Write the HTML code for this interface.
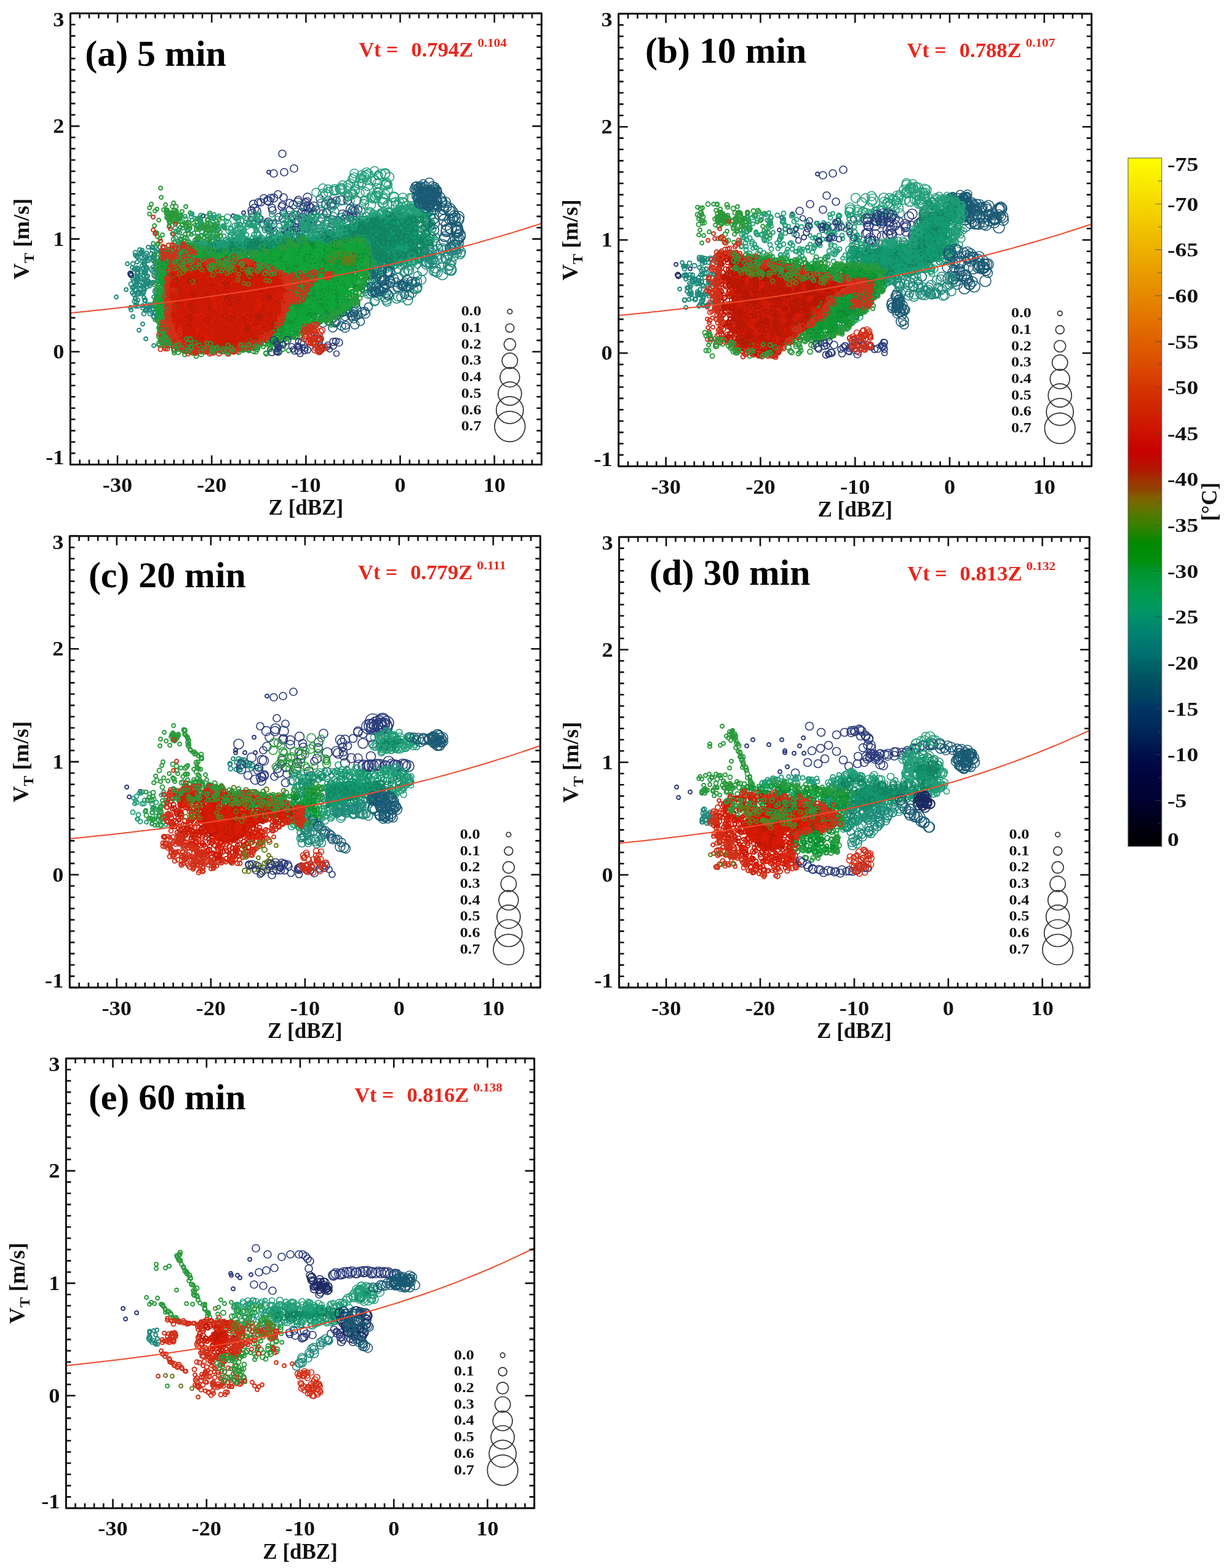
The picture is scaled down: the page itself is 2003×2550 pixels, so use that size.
<!DOCTYPE html><html><head><meta charset="utf-8"><style>
html,body{margin:0;padding:0;background:#fff;}
svg{display:block}
text{font-family:'Liberation Serif', 'Times New Roman', serif;font-weight:bold;fill:#111}
.tl{font-size:33px}
.al{font-size:35px}
.sub{font-size:24px}
.ti{font-size:59px;fill:#000}
.eq{font-size:34px;fill:#e8261c}
.sup{font-size:18px;font-weight:bold}
.lg{font-size:23.5px}
.cl{font-size:32px}
.cu{font-size:35px}
</style></head><body><svg width="2003" height="2550" viewBox="0 0 2003 2550"><rect width="2003" height="2550" fill="#fff"/>
<g>
<g fill="none"><path d="M261 306 262 321 282 330 246 332 302 336 255 340 270 341 281 346" marker-start="url(#m0)" marker-mid="url(#m0)" marker-end="url(#m0)"/><path d="M326 359 264 382 286 377 293 389 249 396 243 348 323 355 251 367 255 379 356 357 287 345 301 381 365 368 324 354 349 372 319 373 336 352 284 348 338 370 309 371 269 333 358 377 257 396 258 358 363 368 335 380 338 357 280 380 322 357 294 390 296 344 272 342 284 393 260 388 352 364 322 371 309 346 327 384 335 378 275 367 337 358 344 371 252 343 320 356 317 391 317 366 362 355 348 366 280 336 344 354 256 385 365 371 325 363 276 355 275 369 278 346 243 338 253 378 266 341 342 364 346 386 256 398" marker-start="url(#m0)" marker-mid="url(#m0)" marker-end="url(#m0)"/><path d="M354 354 282 389 273 353 271 345 286 336 341 347 271 347 303 365" marker-start="url(#m1)" marker-mid="url(#m1)" marker-end="url(#m1)"/><path d="M274 350 281 347 293 355 286 350 278 352 293 352 281 347 277 361 274 351 292 356 282 360 290 360 276 362 284 351 282 355 274 357 288 357 274 347 285 360 284 342 280 351 285 346 287 344 275 361 280 349 289 357 271 354 282 350 292 356 285 351 289 354 279 359 287 354 272 348" marker-start="url(#m0)" marker-mid="url(#m0)" marker-end="url(#m0)"/><path d="M279 353 287 351 286 362 283 343 294 351 290 350" marker-start="url(#m1)" marker-mid="url(#m1)" marker-end="url(#m1)"/><path d="M249 353 249 374 277 372 282 381 261 392 289 392 252 380 285 365" marker-start="url(#m2)" marker-mid="url(#m2)" marker-end="url(#m2)"/><path d="M459 250 445 282 462 280 478 274 452 316 424 329 409 342 442 338" marker-start="url(#m3)" marker-mid="url(#m3)" marker-end="url(#m3)"/><path d="M437 280 330 351 379 351 396 346" marker-start="url(#m4)" marker-mid="url(#m4)" marker-end="url(#m4)"/><path d="M375 371 294 389 497 386 312 399 398 366 389 394 368 360 308 398 418 389 387 403 336 369 435 400 364 384 291 400 488 386 300 399 345 386 294 400 468 400 440 374 311 352 433 361 328 377 352 378 388 369 326 368 391 382 401 382 354 364 364 399 393 378 327 368 376 404 493 375 346 359 466 368 467 381 443 385 359 398 372 405 364 369 499 370 367 404 405 391 410 366 421 359 441 383 392 377 388 354 340 393 328 401 286 387 416 394 342 350 350 372 340 375 431 391 339 405 477 372 485 388 346 381 376 404 465 381 371 376 370 397 330 400 374 398 411 367 302 356 385 366 446 361 400 396 412 361 312 348 285 371 378 393 344 384 489 388 498 373 475 387 367 390 330 369 354 382 469 369 438 367 484 400 332 404 301 386 356 369 292 405 409 397 345 366 425 396 327 383 326 369 409 366 408 356 477 365 405 363 391 366 341 350 327 384 470 377 307 373 410 397 348 354 397 376 492 390" marker-start="url(#m5)" marker-mid="url(#m5)" marker-end="url(#m5)"/><path d="M416 374 475 360 483 401 356 351 438 392 355 391 290 404 420 391 384 354 499 386 399 361 320 391 476 371 315 379 318 404 354 389 281 402 403 394 337 383 340 375 365 396 358 392 365 404 419 368 297 371 469 374 317 355 459 381 384 399 466 372 386 403 400 388 458 374 457 388 454 390 327 360 347 356 286 376 313 408 487 369 304 375 349 375 466 359 381 376 311 348 356 372 289 378 489 383 390 364 448 401 348 349 372 400 424 385 376 405 346 373 412 368 291 395 290 392 466 394 297 404 286 400 410 386 290 396 392 381 312 358 378 401 372 390 477 360 363 400 413 361 322 367 415 370 290 374 298 402 455 388 343 387 396 353 358 406 429 371 363 367 420 361 326 350 301 352 414 367 387 367 435 360 327 363 406 367 380 384 326 356 400 396 325 403" marker-start="url(#m6)" marker-mid="url(#m6)" marker-end="url(#m6)"/><path d="M341 396 338 390 342 397 306 362 334 366 296 403 296 402 340 394 317 399 339 373 297 396 350 394 323 386 352 381 320 372 349 370 323 388 342 378 307 380 338 390 307 403 331 369 328 391 330 395 321 367 303 368 334 380 338 374 315 363 350 396 297 365 354 374 309 401 311 404 324 373 331 366 351 367 350 367 342 364 294 395 293 360 343 374 321 389" marker-start="url(#m1)" marker-mid="url(#m1)" marker-end="url(#m1)"/><path d="M347 397 332 400 301 392 340 387 293 370 336 397 335 370 296 366 304 393 331 387 308 368 307 393 320 395 309 399 321 384 335 401 311 381 301 368 292 378 296 385 339 400 304 363 295 389 341 390 350 400 300 363 351 386 304 388 317 390 337 390 332 371 334 371 359 384 312 396 353 385 305 375 337 364" marker-start="url(#m0)" marker-mid="url(#m0)" marker-end="url(#m0)"/><path d="M497 330 429 323 488 381 435 326 482 350 500 365 471 365 508 348 482 370 445 322 436 361 412 332 410 347 492 361 420 355" marker-start="url(#m7)" marker-mid="url(#m7)" marker-end="url(#m7)"/><path d="M445 376 420 329 471 330 443 342 453 353 461 346 439 374 502 357 498 372 485 325 429 365 461 321 458 336 472 375 440 322 475 352 471 342 418 343 410 354" marker-start="url(#m3)" marker-mid="url(#m3)" marker-end="url(#m3)"/><path d="M459 333 510 344 459 356 475 355 437 371 467 379" marker-start="url(#m8)" marker-mid="url(#m8)" marker-end="url(#m8)"/><path d="M443 365 477 333 480 375 491 346 437 327 485 359 513 342 496 336 465 375 414 339" marker-start="url(#m9)" marker-mid="url(#m9)" marker-end="url(#m9)"/><path d="M547 326 550 358 506 360 563 349 570 355 520 371 520 323 500 364" marker-start="url(#m3)" marker-mid="url(#m3)" marker-end="url(#m3)"/><path d="M570 340 579 326 557 349 492 354 572 352 554 326 491 374 511 336 502 337 536 377" marker-start="url(#m10)" marker-mid="url(#m10)" marker-end="url(#m10)"/><path d="M566 320 541 363 575 371 565 326 591 379 559 357 531 346 579 351 575 358 509 356 506 368 577 343 493 337 534 326 582 341 499 328 573 342 497 347" marker-start="url(#m7)" marker-mid="url(#m7)" marker-end="url(#m7)"/><path d="M484 329 505 338 539 330 502 345 564 361 499 371 576 377 538 332 531 347 487 374 541 358 581 377 500 321 525 348" marker-start="url(#m9)" marker-mid="url(#m9)" marker-end="url(#m9)"/><path d="M585 374 506 371 544 345 571 371 508 346 520 342 567 360 524 355 592 332 528 365" marker-start="url(#m11)" marker-mid="url(#m11)" marker-end="url(#m11)"/><path d="M516 378 544 332 489 355 568 348 495 372 507 366 506 362 560 356 565 372 522 331 533 361 539 337" marker-start="url(#m12)" marker-mid="url(#m12)" marker-end="url(#m12)"/><path d="M556 353 587 342 529 333 542 352 488 376 488 334 530 332 590 364 524 377 504 367 521 377 549 369 541 334 496 360" marker-start="url(#m13)" marker-mid="url(#m13)" marker-end="url(#m13)"/><path d="M575 339 497 367 540 357 523 355" marker-start="url(#m14)" marker-mid="url(#m14)" marker-end="url(#m14)"/><path d="M514 313 525 306 570 298 573 291 576 282 609 278 615 285 631 309" marker-start="url(#m15)" marker-mid="url(#m15)" marker-end="url(#m15)"/><path d="M525 315 534 312 543 310 554 306 556 307 566 301 588 285 595 285 599 283 626 283 633 288 628 297 627 301 626 316" marker-start="url(#m16)" marker-mid="url(#m16)" marker-end="url(#m16)"/><path d="M530 316 553 307 576 289 596 281 619 283 626 282 627 300" marker-start="url(#m17)" marker-mid="url(#m17)" marker-end="url(#m17)"/><path d="M570 316 604 320 611 322 558 325 615 314 610 294 598 302 544 308" marker-start="url(#m17)" marker-mid="url(#m17)" marker-end="url(#m17)"/><path d="M597 293 565 320 592 327 574 316 588 298 594 312 604 294 557 301 554 309 612 318 569 327 577 311 585 314" marker-start="url(#m15)" marker-mid="url(#m15)" marker-end="url(#m15)"/><path d="M546 310 577 308 615 314 593 288 614 312 583 298 614 298 586 290 629 298" marker-start="url(#m16)" marker-mid="url(#m16)" marker-end="url(#m16)"/><path d="M631 301 594 325 573 313 565 305 589 290 589 298 615 318 615 286 613 305 533 307" marker-start="url(#m18)" marker-mid="url(#m18)" marker-end="url(#m18)"/><path d="M231 407 271 459 215 468 253 488 222 459 266 488 228 413 238 503 234 425 220 471 225 475 235 464 276 475 268 487 264 424 262 442 226 463 263 431 234 448 227 406 233 436 258 426 256 509 274 436 259 488 260 435 220 485 241 501 254 409 234 469 240 462 230 410 250 483 227 464 220 415 255 451 243 498 252 450 270 494 222 417 237 442 272 465 243 465 260 409 215 476 222 465 248 496 249 459 219 437 268 430 256 428 225 437 234 444 223 449 251 443 276 463 264 444 235 489 228 471 231 478 260 431 265 472 253 460 251 426 272 471 235 442 224 488 256 440 247 508 241 402 222 439 236 418 238 450 223 426 269 445 262 480 262 435 241 457 254 477 268 492 266 461 249 434 249 403 236 505 256 406 235 429 215 435 254 518 272 475 220 498 270 470 267 474 231 432 262 499 230 411 276 489 272 486 262 455 256 438 258 463 256 502 261 424 239 498 257 507 263 411 234 484 222 463 253 471 247 461 261 450 236 426 259 433 231 425 220 486 234 429 253 428 266 427 217 466 259 447 248 418 225 476 250 414 221 496 275 464 233 454 267 458 270 474 236 489 216 454 264 414 224 443 253 486 232 497 258 507 270 410 250 515 248 419 260 494 258 476 253 491 224 454 257 504 218 438 261 416 217 468 225 453 268 474 233 475 255 516 232 501 241 424 222 462 251 415 264 499 240 449 266 454 247 402 264 433 268 478 224 498 235 471 275 444 269 429 217 479 266 442 239 419 238 436 266 504 247 497" marker-start="url(#m19)" marker-mid="url(#m19)" marker-end="url(#m19)"/><path d="M249 502 260 422 224 418 265 443 244 499 272 507 248 441 270 486 221 472 222 455 224 445 275 479 271 413 276 477 214 448 222 454 269 408 248 407 267 498 262 411 250 515 238 435 224 478 256 441 251 418 234 460 255 513 256 457 244 510 222 492 267 514 271 502 249 423 237 439 236 415 257 449 239 504 239 466 229 453 234 510 220 411 252 507 275 496 237 439 233 476 244 460 246 438 252 497 275 434 263 457 245 496 231 459 270 432 226 475 229 441 246 413 238 412 240 496 273 419 257 505 233 468 250 503 271 499 257 458 253 435 239 458 236 457 218 457 259 502 243 421 270 479 216 429 267 466 223 436 213 462 273 477 239 457 229 444 254 426 236 488 219 490 266 510 263 490 267 479 223 450 252 474 271 420 261 515 228 418 225 478 223 445" marker-start="url(#m20)" marker-mid="url(#m20)" marker-end="url(#m20)"/><path d="M189 483 205 471 207 429 213 504 216 515 226 537 232 527 237 551 250 562 212 500" marker-start="url(#m19)" marker-mid="url(#m19)" marker-end="url(#m19)"/><path d="M212 445 213 447" marker-start="url(#m21)" marker-mid="url(#m21)" marker-end="url(#m21)"/><path d="M388 390 395 378 466 373 515 353 522 379 507 350 495 389 543 364 520 390 506 392 456 383 477 355 454 367 461 347 445 394 549 364 495 371 393 386 403 365 496 352 511 376 495 366 437 384 402 390 385 379 532 379 536 386 399 355 389 384 499 386 418 352 512 360 548 363 456 393 552 371 455 388 468 383 518 351 413 395 491 380 442 349 464 385 467 360 417 375 375 382 445 378 374 385 466 364 464 352 546 363 495 375 435 375 508 354 501 366" marker-start="url(#m22)" marker-mid="url(#m22)" marker-end="url(#m22)"/><path d="M552 364 478 347 371 363 382 375 413 349 550 367 511 372 495 358 535 379 422 392 532 379 496 353 389 385 527 391 396 389 370 353 468 382 538 365 490 381 418 379 532 353 376 374 444 372 418 381 470 349 437 369 540 393 406 363 473 361 385 354 462 364" marker-start="url(#m23)" marker-mid="url(#m23)" marker-end="url(#m23)"/><path d="M539 388 402 368 555 367 390 371 515 393 489 384 417 357 490 355 475 375 444 385 507 354 378 379 439 393 505 395 491 366 462 363 449 378 518 364 451 356 531 363 492 366 529 367 390 380 472 378 450 386 396 387 496 357 431 374 512 393 387 357 382 367 523 368 490 381 506 361 456 388 384 390 383 390 384 354 440 361 512 368 457 394 433 391 538 382 381 385 473 393 425 394 409 352 491 387 466 372 421 382 532 377 508 384 509 371 554 357 554 364 476 394" marker-start="url(#m24)" marker-mid="url(#m24)" marker-end="url(#m24)"/><path d="M472 381 470 363 397 374 421 349 396 386 415 354 453 381 479 347 540 358 543 358 462 350 528 368 382 389 436 364 474 390 426 365 425 355 537 393 416 395" marker-start="url(#m5)" marker-mid="url(#m5)" marker-end="url(#m5)"/><path d="M336.8 397.2 L404.8 392.1 L489.8 386.2 L540.8 380.2 L581.6 358.1 L625.8 349.6 L653.9 343.7 L676.8 352.2 L681.1 381.9 L677.7 414.2 L642.8 424.4 L591.8 432.9 L557.8 426.1 L506.8 420.2 L421.8 415.9 L336.8 411.7 Z" fill="#14926a"/><path d="M339 414 682 382 585 402 460 398 426 391 619 415 593 436 534 393 614 392 663 390 445 397 654 420 601 398 516 393 392 419 553 413 444 398 453 401 549 402 309 411 491 424 626 402 530 417 605 395 571 408 585 362 614 406 675 354 624 392 507 414 629 380 572 434 670 407 577 408 578 381 419 412 630 369 640 378 602 387 520 422 698 347 572 385 429 396 578 417 671 418 655 369 604 363 644 345 671 419 594 388 507 396 488 391 379 411 677 362 637 428 592 419 552 428 580 375 600 404 696 369 648 344 482 422 442 388 438 394 527 413 625 428 471 403 592 433 591 404 681 417 645 348 576 417 491 393 614 401 648 345 682 348 525 408 523 402 313 408 672 363" marker-start="url(#m25)" marker-mid="url(#m25)" marker-end="url(#m25)"/><path d="M669 427 397 409 428 401 613 426 468 389 629 393 500 388 627 395 346 395 602 412 563 407 615 416 516 425 430 407 408 415 662 383 449 416 372 405 554 412 464 392 642 366 643 387 660 383 653 385 622 421 579 368 678 347 671 394 347 417 457 389 701 367 511 406 673 404 457 403 692 419 690 393 370 395 490 386 387 397 651 418 489 400 481 416 600 413 674 425 527 424 651 409 426 389 667 400 641 375" marker-start="url(#m26)" marker-mid="url(#m26)" marker-end="url(#m26)"/><path d="M523 422 621 399 657 418 549 418 369 415 371 408 603 385 626 411 543 380 625 380 376 396 674 422 348 407 648 391 617 348 616 412 689 405 693 365 601 387 516 388 566 415 510 397 572 371 627 378 363 396 616 415 595 375 636 414 652 408 558 431 579 424 435 399 393 407 679 386 501 420 539 400 567 422 564 427 642 386 495 409 357 412 304 406 528 427 554 391 480 412 471 398 665 374 529 381 654 375 648 343 335 411 349 401 583 421 616 399 694 358 468 386 694 370 657 390 578 376 694 396 690 350 508 403 560 424 567 400 630 377 673 374 630 351 489 400 671 381 558 388 431 402 646 364 520 422 630 409 409 403 465 419 403 406 660 390 637 356 583 395 612 399 637 351 484 395 544 376 544 386 553 385 655 404 360 400 398 403 421 404 538 381 524 388 596 406 544 424 627 381 367 412 389 397 560 380" marker-start="url(#m27)" marker-mid="url(#m27)" marker-end="url(#m27)"/><path d="M438 408 333 401 541 392 608 354 529 422 587 360 512 394 691 344 442 388 661 404 548 395 538 416 556 371 607 403 677 346 633 359 535 420 564 424 614 394 603 371 693 352 630 347 304 402 524 409 479 420 664 369 657 342 681 422 690 391 397 407 570 421 644 424 607 371 598 423 473 394 659 338 464 416 384 402 652 422 442 418 614 376 677 416 685 387 632 418 691 383 690 415 494 420 509 395 326 400 515 398 647 344 681 412 578 369 569 378 662 404 638 348 605 423 569 372 307 407 546 429 477 419 592 414 592 378 555 386 357 395 482 404 535 384 333 405 537 388 662 404 607 349 472 390 537 418 563 394 602 361 580 404 660 368 620 396 680 391 658 412 555 386 319 402 519 393 513 409 432 411 675 376 626 376 530 383 312 411 450 396 654 356 652 367 504 399" marker-start="url(#m28)" marker-mid="url(#m28)" marker-end="url(#m28)"/><path d="M487 396 548 397 614 358 653 425 636 421 512 405 624 385 484 397 626 345 658 428 591 412 448 392 691 355 669 355 661 399 459 414 642 378 382 392 600 399 663 423 680 419 504 409 615 406 441 406 305 408 569 424 645 341 655 417 520 412 501 393 555 371 702 390 632 385 602 355 534 411 624 421 643 385 617 381 487 411 539 413 633 423 489 402 549 401 637 391 695 386 459 396 341 400 487 423 645 425 414 419 454 391 528 411 593 393 661 350 632 363 631 354 609 351 536 428" marker-start="url(#m29)" marker-mid="url(#m29)" marker-end="url(#m29)"/><path d="M575 430 694 416 570 429 620 386 548 384 608 428 437 408 606 428 680 364 692 357 653 406 605 439 606 397 399 396 641 367 418 401 634 433 692 385 563 398 688 345 593 409 522 396 570 421 612 411 454 416 405 403 557 416 320 406 648 428 607 375 675 347 667 417 425 412 540 393 584 403 699 370 394 419 353 397 439 410 324 399 562 388 650 350 419 407 384 405 657 350 391 411 671 337 360 396 639 432 634 379 680 402 653 406 315 415 379 398 450 396" marker-start="url(#m30)" marker-mid="url(#m30)" marker-end="url(#m30)"/><path d="M331 405 449 399 665 356 598 409 536 393 493 422 609 432 579 403 557 399 521 406 702 363 693 359 638 409 547 398 603 432 636 400 680 420 699 386 506 412 523 391 466 404 528 415 619 394 633 428 636 368 591 378 619 410 607 381 463 394 509 388 452 390 515 389 673 405 445 403 574 364 351 412 409 412 691 368 631 375 637 397 523 408 423 420 693 386 632 363 613 366 550 425 576 416 647 406 450 421 607 423 656 344 596 409 455 402 396 418 388 408 381 397 556 394 575 419 661 414 388 418 646 346 470 386 547 374 633 345 460 410 673 406 613 377 549 414 693 378 690 397 628 423 476 416 577 421 643 364 596 390 502 412 629 380 429 409 379 400 694 382 588 426 602 414 666 401 628 414 665 388 569 430 666 402 502 423 617 394 626 365 535 412 701 353 326 397 476 391 671 404 308 415 514 414 609 363 469 416 596 351 700 403 533 387 614 361 375 413 533 410 681 383 414 415 657 407 688 390 324 404 698 398 569 394 612 411 606 369 657 412 694 346 658 403 629 372 658 371 414 417 503 404 350 397 556 419 677 339 304 408" marker-start="url(#m31)" marker-mid="url(#m31)" marker-end="url(#m31)"/><path d="M630 354 464 389 672 341 336 416 607 419 461 417 402 392 584 384 702 364 672 338 612 374 509 387 513 382 604 366 541 390 676 411 568 385 634 361 597 409 394 399 418 408 645 356 640 408 503 416 339 411 639 411 650 401 463 402 530 401 345 407 502 408 668 397 612 364 647 341 525 426 643 409 593 356 576 375 517 409 341 413 559 416 379 399 469 414 609 377 647 398 683 415 683 391 656 410 482 391" marker-start="url(#m32)" marker-mid="url(#m32)" marker-end="url(#m32)"/><path d="M696 396 642 415 582 386 560 379 606 362 447 405 649 348 700 381 572 402 393 401 337 405 648 414 672 416 477 396 487 394 550 390 573 403 668 409 529 390 655 425 524 426 473 410 542 383 626 428 644 425 434 411 397 418 663 415 635 429 502 414 683 407 676 360 578 371 491 416 629 412 450 401 666 359 435 390 490 387 579 370 338 407 426 419 582 407 684 409 538 414 578 418 702 369 658 420 643 354 484 385 650 376 333 398 643 379 321 410 649 343 321 415 590 425 598 396 650 365 690 343 563 383 688 406 652 350 651 427 349 414 636 423 600 372 597 400 646 370 677 343 471 411 676 347 545 409 650 355 345 409 660 367 622 381 351 409 547 382 466 422 314 414 389 397 623 434 558 377 506 385 427 404 687 397 672 337 600 369 353 396 508 416" marker-start="url(#m33)" marker-mid="url(#m33)" marker-end="url(#m33)"/><path d="M401 411 405 393 502 389 644 363 657 401 616 359 515 399 647 424 600 354 633 425 476 395 595 391 700 346 685 346 301 407 623 393 551 415 629 407 637 356 407 416 482 411 469 409 633 373 314 413 638 406 670 398 677 383 603 415 637 382 538 394 547 388 632 374 604 398 387 397 599 373 686 353 602 407 570 388 543 405 315 409 673 411 490 398 521 414 472 423 442 410 582 397 649 348 470 421 689 387 577 394 635 410 486 404 593 428 689 358 692 352 640 384 620 407 625 399 633 387 552 391 375 417 621 356 435 397 641 411 672 351 591 356 327 402 405 395 665 365 645 382 393 413 586 391 583 360 587 431 423 408 699 393 656 369 676 395 638 392 637 432 506 382 377 404 596 398 569 387 380 392 359 398 596 388 488 402 475 406 604 412 633 393 580 423 632 374 671 370 610 404 692 408 526 384 614 351" marker-start="url(#m34)" marker-mid="url(#m34)" marker-end="url(#m34)"/><path d="M653 371 620 386 692 346 502 397 561 411 608 369 689 408 592 418 679 357 486 419 631 369 654 384 656 417 356 414 639 355 695 396 563 395 521 425 411 414 523 413 633 350 589 371 674 411 459 404 513 410 539 406 687 389 415 397 611 360 601 434 643 416 462 408 627 369 664 417 300 401 674 379 544 411 600 395 329 402 559 402 688 385 651 353 546 392 684 357 631 395 494 399 644 386 483 412 600 430 590 434 606 399 557 413 620 435 676 340 613 364 679 407 502 409 380 404 571 423 648 377 645 390 630 348 433 408 442 413 699 395 621 416 684 400 617 417 521 418 618 422 650 425 680 423 641 388 692 410 593 364 649 413 350 414 593 402 302 410 690 370 605 439 612 414 636 431 586 405 604 376 673 357 303 404 406 404 394 417 607 406 676 371" marker-start="url(#m35)" marker-mid="url(#m35)" marker-end="url(#m35)"/><path d="M623 373 607 360 364 415 485 396 462 397 703 382 337 407 615 369 668 409 588 389 653 394 402 393 331 409 700 395 522 381 639 363 671 405 510 426 600 381 605 358 350 410 575 410 646 388 600 384 623 421 624 386 437 410 336 406 621 411 542 426 623 396 625 416 599 430 667 353 301 402 458 417 404 416 626 361 468 409 610 402 631 424 374 397 677 393 377 397 448 411 639 362 624 375 623 392 576 383 532 388 636 374 556 410 587 395 547 422 560 388 558 408 564 372 458 420 529 385 549 406 637 395 606 410 381 396 568 423 562 414 437 403 581 372 382 399 589 364 587 421 590 432 618 409 667 393 507 406 614 411 513 410 504 411 613 395 524 401 559 429 379 418 631 417 548 405 516 381 630 422 664 362 480 411 564 380 433 410 620 401 665 428 635 367 576 382 479 394 431 420 633 424" marker-start="url(#m36)" marker-mid="url(#m36)" marker-end="url(#m36)"/><path d="M448 416 479 419 549 400 530 428 483 395 613 390 498 418 371 410 603 375 410 399 527 416 683 364 660 365 498 420 535 410 614 356 602 412 438 390 536 379 683 397 459 398 699 418 579 398 612 434 655 359 665 377 634 425 379 406 460 416 642 431 580 427 446 403 422 400 689 356 611 371 571 403 389 413 540 426 603 367 678 407 443 419 619 357 553 425 633 399 608 388 574 371 638 398 641 412 652 422 604 403 500 421 433 408 613 417 494 403 552 375 686 372 573 390 474 395 617 417 434 407 552 394 541 394 620 383 623 392 545 390 482 414 669 348 691 408 631 412 494 422 623 410 618 356 653 415 530 383 580 395 689 372 600 371 665 360 587 369 552 375 624 382 337 417 359 415 643 372 453 391 605 366 566 371 665 371 505 425 588 375 379 417 461 405 316 416 562 418" marker-start="url(#m37)" marker-mid="url(#m37)" marker-end="url(#m37)"/><path d="M582 366 637 350 668 397 590 389 615 436 520 407 400 397 506 399 673 358 590 404 417 394 308 408 347 401 625 430 398 409 389 402 699 363 510 399 450 395 623 374 531 390 490 418 521 422 498 410 413 393 412 397 406 404 645 372 648 380 319 412 592 377 341 400 549 414 321 410 576 415 389 396 600 359 660 384 612 382 644 354 680 409 620 372 550 413 563 388 468 392 599 418 356 405 533 427 662 414 353 395 619 427" marker-start="url(#m38)" marker-mid="url(#m38)" marker-end="url(#m38)"/><path d="M481 414 631 386 689 355 661 388 603 378 481 385 579 433 671 411 512 403 382 400 699 414 475 395 694 392 651 425 469 422 377 415 457 393 420 402 621 387 585 374 421 393 584 371 683 421 576 372 415 393 581 384 531 416 539 419 486 390 444 419 522 418 393 416 696 389 698 400 591 374 352 411 504 415 320 398 648 348 517 418 491 409 544 428 527 384 466 405 303 413 536 380 343 411 680 411 627 382 674 390 564 433 502 423 578 358 418 410 568 416 437 419 581 378 689 393 650 373" marker-start="url(#m39)" marker-mid="url(#m39)" marker-end="url(#m39)"/><path d="M699 359 706 416 420 415 396 393 695 391 507 381 551 376 332 393 585 355 690 342 329 414 620 432 536 377 529 432 628 439 452 391 357 397 597 440 679 432 621 350 520 380 704 344 507 385 585 348 439 422 387 388 554 372 391 385 449 421 355 392 468 388 610 447 680 343" marker-start="url(#m24)" marker-mid="url(#m24)" marker-end="url(#m24)"/><path d="M673 428 328 396 525 372 709 390 470 425 525 435 444 424 608 441 499 430 706 386 381 414 596 356 479 425 422 423 385 394 559 377 503 382 514 381 413 382 465 427 600 436 581 438 666 345 678 332" marker-start="url(#m22)" marker-mid="url(#m22)" marker-end="url(#m22)"/><path d="M544 380 317 416 696 349 672 424 585 436 703 373 651 432 329 398 602 343 608 347 438 386 416 420 367 393 450 421 356 423 416 424 576 363 480 425 584 437 464 424 527 426 320 411 566 362 631 343 544 431 423 425 664 340 670 416 325 401 664 426 709 385 613 438 519 426 598 435 330 400" marker-start="url(#m40)" marker-mid="url(#m40)" marker-end="url(#m40)"/><path d="M382 387 508 420 661 430 575 369 462 420 469 428 478 421 352 398 426 422 368 416 606 347 523 384 452 391 652 426 621 344 337 415 528 431 481 392 309 408 569 356 704 372 668 434 463 422 506 380 552 379 352 399 322 399 366 397 618 345 619 347" marker-start="url(#m23)" marker-mid="url(#m23)" marker-end="url(#m23)"/><path d="M304 401 329 399 371 416 569 440 518 378 457 428 469 416 389 396 338 403 472 420 380 423 595 438 702 422 313 399 321 402 452 386 555 421 524 433" marker-start="url(#m41)" marker-mid="url(#m41)" marker-end="url(#m41)"/><path d="M682 339 659 341 655 322 651 344 651 347 655 329 680 337 653 337 606 322 666 340 640 320 623 329 622 330 644 334 673 341" marker-start="url(#m17)" marker-mid="url(#m17)" marker-end="url(#m17)"/><path d="M610 321 639 331 657 331 632 347 602 333 688 341 623 324 671 323" marker-start="url(#m42)" marker-mid="url(#m42)" marker-end="url(#m42)"/><path d="M680 343 649 328 680 342 643 328 620 346 630 333" marker-start="url(#m15)" marker-mid="url(#m15)" marker-end="url(#m15)"/><path d="M601 346 668 335 667 322 666 340 647 334 682 330 661 335 641 321 659 343 623 323 680 343" marker-start="url(#m16)" marker-mid="url(#m16)" marker-end="url(#m16)"/><path d="M676.3 304.6 L699.2 302.9 L709.5 311.4 L709.5 331.8 L695 335.1 L680.5 328.4 Z" fill="#1a5a74"/><path d="M708 329" marker-start="url(#m43)" marker-mid="url(#m43)" marker-end="url(#m43)"/><path d="M704 316" marker-start="url(#m44)" marker-mid="url(#m44)" marker-end="url(#m44)"/><path d="M679 312 687 324 693 313" marker-start="url(#m45)" marker-mid="url(#m45)" marker-end="url(#m45)"/><path d="M688 333 690 315 692 331 711 311" marker-start="url(#m46)" marker-mid="url(#m46)" marker-end="url(#m46)"/><path d="M709 316" marker-start="url(#m47)" marker-mid="url(#m47)" marker-end="url(#m47)"/><path d="M699 321 698 331 711 334 680 317 683 317" marker-start="url(#m48)" marker-mid="url(#m48)" marker-end="url(#m48)"/><path d="M703 303 693 331 677 319 707 314 684 303" marker-start="url(#m49)" marker-mid="url(#m49)" marker-end="url(#m49)"/><path d="M684 304 697 335 702 323 702 327 688 320 680 305 708 311" marker-start="url(#m50)" marker-mid="url(#m50)" marker-end="url(#m50)"/><path d="M693 329 711 310 692 320" marker-start="url(#m51)" marker-mid="url(#m51)" marker-end="url(#m51)"/><path d="M705 312 682 331" marker-start="url(#m52)" marker-mid="url(#m52)" marker-end="url(#m52)"/><path d="M679 324 685 312" marker-start="url(#m53)" marker-mid="url(#m53)" marker-end="url(#m53)"/><path d="M680 321 703 320 687 333 705 311" marker-start="url(#m54)" marker-mid="url(#m54)" marker-end="url(#m54)"/><path d="M695 308 690 329 684 325 695 318 692 328" marker-start="url(#m55)" marker-mid="url(#m55)" marker-end="url(#m55)"/><path d="M695 309 682 309 683 331 679 321 697 322" marker-start="url(#m56)" marker-mid="url(#m56)" marker-end="url(#m56)"/><path d="M709 324 685 311" marker-start="url(#m57)" marker-mid="url(#m57)" marker-end="url(#m57)"/><path d="M704 333 699 334 688 330 695 335 698 297 692 339 711 313 710 309 706 332 681 305" marker-start="url(#m49)" marker-mid="url(#m49)" marker-end="url(#m49)"/><path d="M684 327 681 328 675 303 677 302 719 328 673 307 712 337" marker-start="url(#m50)" marker-mid="url(#m50)" marker-end="url(#m50)"/><path d="M711 327 692 303 676 309 709 333 707 304 710 335 712 328 699 337 707 307 700 308" marker-start="url(#m48)" marker-mid="url(#m48)" marker-end="url(#m48)"/><path d="M688 298 708 318" marker-start="url(#m51)" marker-mid="url(#m51)" marker-end="url(#m51)"/><path d="M705 341" marker-start="url(#m52)" marker-mid="url(#m52)" marker-end="url(#m52)"/><path d="M715 322 718 328 725 336 735 345 745 357 743 370 743 371 742 377 745 388 740 405" marker-start="url(#m58)" marker-mid="url(#m58)" marker-end="url(#m58)"/><path d="M724 329 740 355 745 395 740 400" marker-start="url(#m59)" marker-mid="url(#m59)" marker-end="url(#m59)"/><path d="M731 340 745 353 744 376 747 382" marker-start="url(#m60)" marker-mid="url(#m60)" marker-end="url(#m60)"/><path d="M738 394 747 384 734 406 706 334 727 374 738 400 742 389 723 390 719 399" marker-start="url(#m60)" marker-mid="url(#m60)" marker-end="url(#m60)"/><path d="M733 372 735 345 726 376 722 358 743 374 733 371 716 349" marker-start="url(#m58)" marker-mid="url(#m58)" marker-end="url(#m58)"/><path d="M723 385 705 356 737 355 731 357" marker-start="url(#m52)" marker-mid="url(#m52)" marker-end="url(#m52)"/><path d="M730 342 743 376 732 403 721 350 726 366 705 374 721 340 706 363 739 351 735 357" marker-start="url(#m59)" marker-mid="url(#m59)" marker-end="url(#m59)"/><path d="M678 469 621 451 647 466 647 482 614 481 602 477 678 458 594 473 609 490 665 440 630 447 599 478 685 455 596 447 663 439 633 481 612 462 647 452 611 467 610 456 594 469 621 474" marker-start="url(#m11)" marker-mid="url(#m11)" marker-end="url(#m11)"/><path d="M657 443 678 470 595 466 647 437 617 474 593 457 617 453 634 455 622 439 597 439 601 459 629 491 658 459 610 489 661 465 658 441 670 477 679 467" marker-start="url(#m12)" marker-mid="url(#m12)" marker-end="url(#m12)"/><path d="M599 443 626 483 653 483 645 485 628 487 663 488 612 439 620 436 611 452" marker-start="url(#m61)" marker-mid="url(#m61)" marker-end="url(#m61)"/><path d="M651 464 590 462 614 450 614 444 679 448 663 469 611 477 666 466 673 471 605 476 606 455" marker-start="url(#m13)" marker-mid="url(#m13)" marker-end="url(#m13)"/><path d="M662 456 625 467 620 449 625 456 603 446 630 479 634 458 631 442 618 473 634 442" marker-start="url(#m52)" marker-mid="url(#m52)" marker-end="url(#m52)"/><path d="M646 468 635 461 609 473 655 466 654 464 604 467 630 442 601 447 609 475 599 445 621 442 644 459 660 467 675 459 621 456 625 469" marker-start="url(#m48)" marker-mid="url(#m48)" marker-end="url(#m48)"/><path d="M616 471 653 462 658 479 623 467" marker-start="url(#m50)" marker-mid="url(#m50)" marker-end="url(#m50)"/><path d="M628 463 611 476 624 456 615 469 601 446 603 456 621 457 669 458 628 476 596 446 670 462 665 480 656 462 605 474 640 453" marker-start="url(#m49)" marker-mid="url(#m49)" marker-end="url(#m49)"/><path d="M742 410 700 420 720 405 714 413 725 419 702 406 701 428 697 417 694 414 722 408 693 429 737 416" marker-start="url(#m62)" marker-mid="url(#m62)" marker-end="url(#m62)"/><path d="M706 426 729 414 711 443 698 411 748 413 701 411 708 436 687 440 728 438 712 405 708 441 749 410 732 431" marker-start="url(#m61)" marker-mid="url(#m61)" marker-end="url(#m61)"/><path d="M730 431 732 438 744 404 702 422 719 446 726 420 739 403 733 439 710 421 695 425" marker-start="url(#m63)" marker-mid="url(#m63)" marker-end="url(#m63)"/><path d="M718 421 734 426 698 427 705 441 693 427" marker-start="url(#m11)" marker-mid="url(#m11)" marker-end="url(#m11)"/><path d="M540 499 523 498 555 530 515 512 529 504 541 493 556 491 556 495 530 503 578 494 573 514 535 492 578 514 525 525 529 494 564 502 537 502 575 518 539 518 547 523 545 525 526 497 542 501 582 512 542 517 552 510 577 528 550 510 536 495 575 507 556 508 539 501 535 497 569 508 541 533" marker-start="url(#m48)" marker-mid="url(#m48)" marker-end="url(#m48)"/><path d="M550 507 535 523 561 515 586 523 567 494 599 499 516 499 562 529 536 510 593 506 554 493 516 500 512 498 557 507 562 507 527 508 527 513 551 508 526 512 527 499 571 514" marker-start="url(#m50)" marker-mid="url(#m50)" marker-end="url(#m50)"/><path d="M561 533 594 510 520 517 588 508 544 523 547 503 579 502" marker-start="url(#m49)" marker-mid="url(#m49)" marker-end="url(#m49)"/><path d="M535 510 573 494 562 500 556 504 565 499 576 510 531 513" marker-start="url(#m51)" marker-mid="url(#m51)" marker-end="url(#m51)"/><path d="M289.6 419.5 L329.6 411.8 L361.9 419.5 L393.3 422.9 L425.6 419.5 L457.1 410.1 L488.5 405 L524.2 406.7 L566.7 399.9 L575.2 427.1 L571 461.1 L558.2 486.6 L541.2 499.4 L515.7 512.1 L490.2 529.1 L464.7 539.3 L436.7 547.8 L401.8 554.6 L320.2 556.3 L287.9 541.9 L282 478.1 L284.5 435.6 Z" fill="#109a36"/><path d="M263 548 497 522 422 441 366 510 446 453 426 490 562 456 452 525 273 484 277 479 571 452 528 409 279 546 435 481 438 552 368 491 309 436 357 518 462 441 576 446 481 547 372 554 341 462 513 417 387 499 433 549 450 450 300 472 258 495 422 477 412 561 576 435 558 454 339 496 456 509 300 570 385 452 362 484 436 466 275 429 359 541 304 409 508 438 351 481 417 426 378 548 532 440 588 431 523 420 526 419 322 425 538 465 297 478 547 427 453 510 438 491 478 525 547 501 280 541 331 439 510 398 344 467 548 439 527 516 518 417 466 476 489 450 336 569 308 515 354 564 283 498 436 410 304 536 284 490 368 509 518 490 326 559 508 519 418 479 539 407 268 432 584 410 289 494 500 436 410 489 470 479 508 453 316 511 335 461 429 518 387 420 484 453 497 400 470 411 534 453 483 407 291 521 388 422 570 415 317 500 539 414 448 468 589 421 432 433 382 535 495 438 471 411 468 483 286 451 357 558 563 478 384 420 420 425 326 507 305 537 471 403 446 453 320 469 434 437 344 433 432 554 531 460 525 487 468 510 348 448 542 507 454 433 404 459 311 453 536 489 584 400 443 551 301 543 297 456 313 570 303 537 269 422 318 412 414 434 324 566 377 427 537 448 588 467 268 499 579 466 406 422 511 401 263 537 372 446 305 413 370 445 330 466 331 524 378 455 319 491 299 559 440 508 595 416 388 518 475 528 470 490 275 539 496 407 448 542 298 449 545 408 494 414 313 462 425 424 261 454 417 558 289 504 578 470 413 542 450 509 479 456 394 483 332 549 468 525 265 417 376 473 399 510 352 476 401 486 489 525 594 448 362 535 326 438 465 464 263 507 390 533 416 464 444 541 376 491 277 528 388 419 326 450 565 438 524 424 502 479 322 566 405 494 274 419 425 512 325 555 336 467 518 437 381 442 472 490 347 442 407 472 519 524 552 476 577 436 501 410 525 404 494 495 372 455 333 478 529 442 299 515 349 542 341 443 479 482 357 505 420 471 259 446 501 396 494 448 305 431 452 416 408 554 288 544 442 558 420 501 511 444 293 505 316 548 415 510 470 508 289 501 531 429 435 450 578 477 540 399 555 500 274 477 291 508 456 549 319 461 444 513 590 399 321 446 300 420 393 464 444 451 398 496 349 449 320 445 552 504 458 530 524 431 321 521 299 440 262 491 301 535 582 417 351 566 397 506 547 458 409 479 353 415 307 540 455 504 336 459 404 507 568 404 416 535 416 420 384 541 410 530 281 489 432 443 316 414 373 429 498 435 416 554 275 543 314 544 510 420 332 556 320 557 521 429 395 419 347 551 330 409 409 534 559 403 486 468 419 412 419 522 398 543 383 463 503 432 300 411 456 488 537 464 375 445 436 435 478 451 303 558 301 417 527 423 584 469 274 542 288 504 431 442 463 501 459 507 478 408 404 512 529 421 301 508 371 569 450 475 583 396 362 560 493 447 296 550 561 470 398 532 492 510 304 528 404 423 506 483 362 429 354 509 562 479 473 547 315 484 450 452 512 465 549 503 280 436 463 515 380 448 346 539 518 434 571 458 263 503 328 426 376 532 510 410 403 464 433 436 394 429 454 501 462 548 263 504 399 517 281 433 288 498 323 523 337 494 370 483 277 428 314 502 445 546 393 430 559 471 312 544 391 470 307 467 441 427 289 501 492 497 372 468 479 463 510 437 417 559 371 447 540 449 462 448 418 493 354 550 383 559 315 430 332 444 589 432 278 441 317 441 402 474 264 525 496 489 502 463 411 435 476 547 433 415 316 511 510 452 343 462 312 546 374 417 267 535 511 455 478 474 292 476 376 441 291 414 338 428 449 441 387 440 428 421 435 480 281 488 473 464 496 465 282 536 461 537 455 439 462 546 498 407 505 520 328 561 515 438 449 530 461 474 417 543 510 514 453 483 312 498 339 423 584 406 446 425 453 476 554 481 282 418 444 410 394 542 293 460 492 425 439 543 349 433 320 528 462 533 393 470 325 547 456 404 515 404 314 425 335 533 330 455 403 536 327 446 564 466 418 542 395 507 414 413 459 445 351 544 294 560 543 481 543 404 409 431 311 458 384 566 455 435 444 422 533 421 280 469 384 450 355 569 453 484 271 425 300 451 334 475 274 422 498 453 560 460 353 551 420 545 578 400 509 408 474 450 455 481 388 552 445 522 589 471 359 547 525 493 387 473 584 406 420 483 312 414 272 411 488 528 338 492 515 527 569 414 465 456 371 477 507 456 371 460 437 512 321 550 563 437 342 454 263 458 318 458 314 419 389 452 331 562 439 553 419 477 556 450 577 403 529 450 401 438 330 546 484 431 470 491 376 541 490 482 462 433 528 405 422 494 543 487 368 468 276 449 271 515 463 548 331 453 270 529 457 416 554 478 498 413 264 520 483 469 501 507 375 443 475 532 432 462 455 472 493 420 434 422 397 521 449 539 393 490 572 446 447 415 483 415 423 510 268 431 374 450 486 423 439 424 325 467 378 551 264 453 268 501 315 486 567 476 416 425 329 559 300 499 545 409 538 509 306 552 283 512 298 460 376 465 521 523 426 545 277 420 373 475 309 457 383 438 591 444 450 430 324 432 511 434 554 495 347 471 464 440 267 550 429 527 552 495 387 563 268 498 432 504 318 454 351 431 264 422 480 494 325 552 395 454 547 419 363 416 320 533 293 563 431 490 320 499 494 540" marker-start="url(#m64)" marker-mid="url(#m64)" marker-end="url(#m64)"/><path d="M481 443 427 504 268 423 403 499 484 521 477 457 380 501 349 514 587 400 435 411 421 486 311 482 576 457 548 467 578 461 278 542 332 422 291 452 442 511 307 551 302 495 578 484 491 422 477 438 575 462 482 463 531 409 422 504 542 424 325 543 563 397 467 424 321 523 408 521 380 527 280 481 504 475 420 442 486 459 297 563 258 500 529 432 486 483 398 447 514 423 341 566 337 427 299 516 515 432 476 495 564 434 387 505 334 450 358 520 334 456 395 505 271 463 287 516 408 560 469 401 350 485 571 401 282 553 356 502 414 458 309 444 563 439 427 496 600 420 495 430 279 537 330 446 589 471 372 415 426 499 498 405 346 523 271 435 361 482 392 525 470 425 305 460 260 532 294 458 468 539 504 400 586 403 355 453 447 418 317 450 341 424 505 499 578 415 305 495 572 446 298 501 398 439 383 527 435 533 314 572 544 456 357 472 408 475 298 541 381 565 459 538 521 508 450 434 386 518 507 438 400 500 526 401 383 480 371 435 283 519 590 425 599 430 533 465 290 463 355 439 425 538 452 542 450 553 326 474 335 513 352 534 329 486 455 504 473 408 342 506 377 481 536 411 487 407 391 494 288 518 330 486 262 426 284 513 260 433 475 414 550 482 561 503 417 559 335 443 320 517 579 421 453 438 455 488 448 423 428 430 598 427 349 466 272 438 289 454 456 511 379 564 545 468 386 493 307 561 530 430 371 523 361 495 404 531 300 549 431 462 395 469 397 450 439 547 496 430 500 477 452 473 585 442 270 558 575 482 289 481 284 542 593 453 518 459 595 410 418 496 501 504 361 514 381 415 447 469 288 509 363 530 394 417 398 558 471 425 319 553 584 403 540 487 500 423 370 483 396 455 466 535 507 479 397 551 325 475 533 511 543 453 372 461 407 558 479 530 465 473 362 436 337 444 583 437 349 525 319 404 290 446 321 443 390 484 324 426 262 525 576 465 446 539 420 504 447 486 473 542 552 500 589 417 344 484 341 432 462 461 312 415 563 491 311 505 401 537 346 570 275 456 334 553 439 468 330 465 500 482 272 449 431 486 566 438 474 459 449 553 541 507 504 438 534 463 376 445 442 511 321 540 579 431 528 470 406 558 412 456 564 424 316 546 322 466 384 438 572 475 316 448 320 515 533 465 457 416 533 486 496 478 275 546 467 542 428 542 298 410 427 534 265 452 453 441 445 521 263 498 493 538 427 421 391 551 294 505 387 499 336 452 418 489 281 483 572 453 315 519" marker-start="url(#m65)" marker-mid="url(#m65)" marker-end="url(#m65)"/><path d="M319 420 454 551 544 396 431 438 442 430 283 542 362 463 277 527 288 447 287 487 588 451 319 536 280 546 377 452 459 540 485 489 320 510 424 483 511 519 289 510 286 484 496 512 496 516 468 551 453 500 408 500 445 443 386 421 463 405 499 422 485 445 543 466 414 551 498 437 452 428 298 536 450 456 306 411 408 508 328 551 493 455 547 404 546 496 466 416 316 517 275 442 316 528 477 458 493 438 539 473 289 561 538 445 428 477 400 551 272 551 304 541 264 544 375 514 467 417 418 531 496 487 460 500 549 395 354 519 289 548 460 463 319 482 534 466 344 536 261 540 563 452 262 420 279 543 327 526 362 455 339 558 475 437 381 473 292 490 558 470 325 414 324 493 540 502 405 455 301 515 374 416 505 465 334 489 486 455 424 554 426 503 264 447 377 432 518 512 468 489 412 519 313 426 427 433 573 407 310 543 552 505 509 455 496 412 485 421 304 561 428 450 559 487 321 427 472 545 507 435 568 425 381 559 515 471 367 532 478 423 271 468 392 555 494 403 444 430 454 513 341 467 328 468 388 436 392 454 483 465 260 439 328 548 291 474 287 522 301 466 458 405 319 432 411 467 350 424 543 423 287 522 467 501 325 453 379 475 531 474 437 442 430 411 287 479 375 521 283 531 331 531 482 459 379 502 492 510 501 494 323 501 486 479 550 455 582 410 491 512 469 532 484 488 452 483 519 483 343 561 358 414 445 555 484 418 497 458 371 436 275 448 365 431 279 483 547 475 458 534 274 551 357 502 461 469 510 433 326 541 592 412 468 548 449 552 554 451 308 404 499 420 517 462 320 449 470 511 377 536 406 489 344 541 404 528 560 430 392 499 401 501 409 478 535 498 364 503 333 535 324 497 452 417 384 469 534 437 287 562 297 408 285 475 412 511 447 496 418 456 591 401 362 478 281 439 365 530 473 448 496 463 283 506 386 458 444 454 406 480 419 557 486 538 402 432 514 498 565 436 384 465 446 430 305 441 572 394 434 510 566 489 379 477 453 421 559 407 485 403 338 514 450 420 483 414 404 557 411 550 569 484 512 470 362 541 424 432 500 435 290 491 481 431 343 567 333 420 426 424 587 395 508 415 340 543 418 499 540 451 448 519 346 420 272 523 506 519 475 448 515 523 390 437 449 436 301 452 468 440 338 443 417 445 589 403 426 448 307 439 552 429 479 470 417 496 274 412 356 500 493 490 528 460 528 420 278 422 401 439 466 500 498 398 329 471 361 458 499 400 563 439 563 471 384 536 564 455 272 513 389 542 304 572 532 480 453 481 594 461 342 562 266 453 525 426 264 413 595 449 457 411 556 401 447 526 397 486" marker-start="url(#m66)" marker-mid="url(#m66)" marker-end="url(#m66)"/><path d="M499 451 357 545 470 419 434 484 519 418 589 397 543 433 319 515 261 497 434 449 548 430 503 536 292 423 346 476 505 486 434 485 437 461 537 420 435 442 558 430 471 455 418 529 354 443 376 431 310 568 362 471 536 456 305 490 260 495 356 475 488 497 351 468 450 540 534 439 444 530 517 477 375 559 590 435 502 459 315 457 391 474 349 497 425 492 406 531 448 518 404 563 577 450 318 505 518 443 555 470 288 540 496 440 396 536 345 474 281 411 464 471 351 535 349 571 454 535 261 451 534 419 279 487 490 485 518 498 279 509 371 559 339 472 410 504 353 498 575 423 481 543 566 453 318 554 404 470 594 406 488 431 302 549 307 463 362 416 282 532 385 495 364 428 384 542 578 475 354 547 481 458 314 482 305 404 325 441 275 457 325 526 453 424 363 457 350 567 524 501 557 429 339 467 558 451 263 533 553 433 316 560 304 417 476 525 443 478 336 426 430 420 591 463 512 454 412 435 403 551 569 480 494 433 481 540 536 403 414 538 337 467 277 520 511 465 282 489 398 514 507 533 581 420 386 427 460 472 513 511 351 535 480 531 570 397 312 443 488 526 402 508 295 486 521 435 338 501 274 480 325 558 416 564 487 470 517 414 457 430 539 469 334 431 563 424 338 493 478 426 539 452 387 432 264 442 520 408 593 409 286 538 315 454 264 467 541 506 500 396 330 468 264 484 563 491 456 428 561 499 381 533 522 445 325 519 463 457 434 524 432 498 313 450 328 522 454 442 418 424 555 451 302 456 380 462 383 483 276 532 591 414 539 515 488 485 329 529 296 541 293 409 378 537 403 555 314 429 312 551 465 447 547 464 458 533 551 486 271 484 388 560 292 514 473 449 324 435 502 482 445 555 579 452 456 454 525 415 447 453 568 465 445 509 580 450 285 516 474 528 474 410 448 411 522 438 368 424 294 547 335 551 469 476 512 473 463 409 408 546 375 450 338 523 374 493 467 477 323 501 332 453 571 397 437 560 325 414 507 484 495 405 399 435 382 550 329 509 472 519 310 556 564 455 303 539 451 426 319 474 397 530 562 454 400 510 374 543 586 398 388 447 411 474 561 472 394 517 315 557 410 549 464 498 368 431 346 531 312 522 264 428 290 477 429 542 300 415 528 435 388 469 301 413 449 522 372 436 542 478 481 493 397 481 458 455 340 570 429 558 272 442 352 550 541 435 364 472 383 548 412 494 332 548 438 419 337 440 300 468 552 399 329 531 592 454 287 422 449 416 552 478 424 495 373 539 276 532 313 421 294 415 430 463 365 519 478 464 429 461 402 542 582 413 310 424 313 512 538 426 565 432 385 446 324 562 502 524 456 408 342 435 340 542 523 462 507 467 357 571 301 545 413 491 543 449 275 494 480 543 484 410 309 543 275 542 301 437 414 545 272 495 480 459 449 500 520 444 381 421 504 404 543 496 272 511 361 500 558 403 417 514 402 545 432 506 405 461 332 468 406 541 573 475 587 468 452 433 278 470 332 537 411 530 309 504 441 433 381 482 302 461 489 513 289 434 333 421 498 470 498 510 362 437 431 497 412 420 375 545 520 427 513 454 484 485 568 421 522 447 446 512 424 482 411 458 299 490 543 426 494 460 381 565 411 504 336 457 353 529 319 457 363 477 485 500 472 432 348 488 340 540 395 465 312 514 562 496 277 422 360 501 312 572 368 480 288 436 428 482 338 434 490 439 351 480 347 528 434 437 342 455 292 521 489 537 516 513 261 537 406 562 435 511 280 479 277 471 304 455 519 521 300 558 591 430 565 500 275 547 533 481 431 534 452 416 291 411 424 412 450 507 419 529 533 415 398 431 387 442 366 438 383 458 475 466 531 477 464 512 281 433 274 538 374 428 321 456 399 562 546 403 367 447 278 558 462 421 504 434 414 515 420 524 305 420 480 415 401 503 344 543 558 433 365 563 323 536 335 473 415 469 385 450 340 505 405 529 537 439 394 447 259 471 385 509 549 456 329 494 457 462 295 469 341 524 291 525 394 466 582 442 462 445 416 560 324 455 372 501 308 525 347 486 285 461 442 432 435 415 521 462 313 443 537 417 304 564 437 450 262 428 462 494 263 451 522 518 381 484 592 401 507 446 309 402 305 500 425 554 463 498 369 546 413 441 526 439 507 428 511 439 494 532 389 466 431 512 593 407 407 430 372 498 344 566 359 524 470 518 284 428 421 504 279 527 327 444 463 467 413 562 356 526 585 407 503 438 431 474 536 434 331 516 343 426 419 514 598 415 301 484 484 541 490 453 441 481 274 481 406 542 325 560 589 405 477 473 340 531 332 542 282 447 453 409 304 568 404 450 333 507 476 540 392 537 422 497 324 547 339 484 440 529 267 450 454 544 450 427 448 472 508 420 360 533 361 420 508 461 591 394 360 489 511 411 382 478 366 495 306 466 511 513 468 415 335 512 297 535 474 423 468 475 451 482 485 472 490 436 483 462 593 452 585 397 273 482 348 510 408 502 368 426 530 401 391 544 335 476 363 428 442 448 269 459 387 469 462 499 513 440 499 527 568 443 441 474 449 468 288 482 299 552 573 421 468 459 331 517 477 425 383 486 386 502 485 494 352 520 383 491 434 472 568 477 371 510 529 445 371 557 340 444 566 464 266 494 467 438 402 562 575 450 261 468 489 498 371 463 566 493 322 487 314 445 560 418 514 524 449 432 451 405 527 446 320 534 399 443 391 534 410 417 284 548 375 489 270 512 464 535 554 412 511 458 311 513 481 468 483 423 354 555 391 567" marker-start="url(#m67)" marker-mid="url(#m67)" marker-end="url(#m67)"/><path d="M426 471 351 567 315 548 422 427 349 493 584 446 315 482 342 436 300 571 353 428 445 409 302 517 334 454 574 404 518 475 414 430 472 498 367 433 296 532 492 481 418 478 532 402 367 499 266 484 304 412 416 497 463 476 543 417 364 542 311 457 317 488 325 548 393 451 343 451 351 553 323 435 278 438 339 481 548 411 324 559 330 412 293 484 365 500 380 509 363 550 300 414 295 433 394 530 293 560 529 463 274 535 533 451 513 450 524 451 381 558 404 460 315 506 393 554 525 518 320 431 399 452 506 521 315 482 418 488 401 468 323 522 466 453 398 438 365 472 566 501 404 501 263 448 535 502 417 522 452 504 510 468 303 405 503 421 586 428 396 463 506 493 443 425 475 407 366 536 418 443 387 516 463 491 275 412 420 420 468 516 417 450 313 417 512 403 428 545 430 481 370 479 366 569 343 510 376 551 500 398 326 430 338 530 476 433 280 527 277 440 554 394 261 529 271 480 534 490 445 453 379 446 316 562 439 449 511 438 497 523 534 436 499 520 463 466 359 569 291 519 481 440 322 460 484 530 408 440 272 428 570 428 556 484 305 497 497 435 331 498 471 402 584 437 410 429 264 486 277 485 408 444 385 513 282 515 364 429 578 466 263 455 467 531 498 466 396 475 294 505 395 569 399 507 533 411 286 507 324 521 480 539 591 436 295 437 407 507 276 555 366 459 320 439 278 415 368 430 415 538 564 452 488 532 367 561 440 447 406 486 419 546 532 465 328 432 437 447 444 482 309 508 310 449 440 448 370 536 284 427 267 483 307 517 469 428 497 519 402 551 372 565 471 399 402 568 500 400 422 445 277 546 442 465 363 557 417 506 501 407 276 455 395 441 268 462 539 425 271 536 591 415 265 434 500 497 333 470 330 423 367 561 326 529 453 426 521 470 274 478 406 543 309 502 336 546 563 443 290 446 449 502 422 491 530 461 469 539 585 426 518 433 301 540 364 564 451 448 579 416 575 483 558 473 576 426 321 407 330 496 458 515 334 507 466 425 407 505 497 474 492 495 472 507 346 570 303 414 378 476 573 449 412 482 269 498 539 425 364 482 265 418 299 513 472 475 327 492 464 528 432 559 453 432 417 495 441 448 541 438 399 436 347 560 470 408 540 403 578 431 529 459 274 450 308 481 501 522 340 456 328 409 270 445 422 538 565 435 479 416 409 432 276 414 496 539 461 453 449 498 396 537 551 424 487 514 308 420 357 431 438 464 293 558 537 468 410 555 271 418 311 489 437 440 542 497 266 482 520 486" marker-start="url(#m68)" marker-mid="url(#m68)" marker-end="url(#m68)"/><path d="M426 472 406 520 362 508 483 443 292 478 417 462 485 446 369 493 472 430 318 510 412 541 271 545 419 499 508 414 305 461 360 423 368 474 500 428 475 466 411 517 434 445 392 546 335 474 335 517 367 464 524 508 332 429 345 486 400 541 291 464 518 459 447 475 282 416 382 432 481 401 358 496 406 550 288 549 346 428 417 527 357 416 530 486 386 453 437 447 278 494 416 545 567 395 463 545 445 457 432 446 258 489 504 487 498 407 262 518 446 552 323 423 487 430 305 566 578 486 430 531 259 513 558 448 296 419 339 435 462 409 599 426 579 481 476 465 353 507 560 448 517 398 556 481 317 453 535 479 436 420 424 448 472 407 416 562 348 501 272 524 397 474 564 456 510 500 476 467 259 503 540 514 437 485 393 567 399 477 408 456 485 404 534 400 450 435 544 460 555 490 428 471 366 539 451 521 561 470 477 532 484 542 579 401 384 542 365 502 520 426 513 435 339 545 447 558 407 482 400 557 516 468 293 516 526 445 402 514 554 492 288 444 529 472 356 521 588 464 347 421 322 418 370 537 437 530 330 535 490 419 389 528 511 444 447 444 352 567 357 440 414 453 458 526 272 543 513 409 306 436 301 499 435 457 302 436 328 417 368 440 450 543 486 431 417 528 499 418 571 440 558 487 316 444 376 475 590 432 508 474 423 556 329 414 482 540 462 471 478 538 464 414 288 511 479 478 544 488 411 524 379 429 443 516 366 522 487 518 348 416 335 570 579 450 375 452 420 554 295 424 471 508 398 450 586 398 366 510 400 459 318 418 332 509 592 445 490 496 371 483 365 539 288 427 308 523 285 472 291 547 274 442 450 410 475 416 313 421 255 481 561 485 467 472 298 454 367 489 431 508 581 429 280 499 503 421 314 540 491 457 364 448 291 546 281 463 320 461 527 458 329 438 531 495 563 436 424 464 407 537 268 546 315 446 487 506 264 430 324 457 269 418 412 527 456 416 367 449 296 525 507 484 315 443 359 534 301 564 283 462 318 433 345 449 354 522 360 553 269 444 455 545 569 393 471 485 451 467 520 454 319 546 372 513 288 479 304 408 533 474 434 467 569 417 474 494 573 494 297 537 455 544 581 425 553 449 386 513 579 391 271 528 583 434 378 563 372 551 519 435 430 457 469 414 559 502 541 401 319 512 341 541 441 558 405 536 287 562 336 489 518 405 378 495 344 549 465 455 576 398 321 436 574 402 574 427 303 521 452 430 341 501 330 503 523 402 374 430 377 481 312 407 472 497 366 419 266 549 260 476 544 464 298 410 404 454 556 415 468 524 509 498 470 462 364 480 559 495 398 550 459 477 366 422 352 503 304 414 426 430 462 473 455 412 448 441 382 416" marker-start="url(#m69)" marker-mid="url(#m69)" marker-end="url(#m69)"/><path d="M449 541 451 555 303 537 277 553 370 464 266 508 320 438 559 443 485 458 553 410 503 474 489 466 518 453 290 515 360 434 546 472 425 417 335 540 503 504 366 506 530 488 462 536 394 525 328 407 426 555 386 511 274 547 365 477 453 495 383 557 380 521 450 526 450 485 437 429 311 489 534 407 490 451 353 446 487 507 502 495 301 445 334 464 452 477 400 424 515 528 540 502 406 503 289 563 488 474 475 405 425 554 390 525 376 497 591 398 522 505 267 487 480 534 335 472 485 473 498 414 371 495 463 421 516 477 546 398 339 458 374 531 381 420 385 529 536 401 334 460 378 554 550 508 454 502 519 395 472 549 447 506 466 419 393 557 279 517 431 527 491 444 345 490 407 511 442 472 558 443 441 537 422 492 422 489 493 410 400 515 530 463 370 479 321 479 526 465 364 477 316 508 392 565 389 460 454 430 554 471 472 400 379 548 330 510 424 521 364 497 424 481 376 511 349 428 416 551 541 486 409 504 465 544 276 444 502 457 528 520 366 507 298 533 483 456 325 499 523 411 414 471 459 439 262 471 432 496 410 505 419 438 555 404 484 524 478 399 320 571 541 485 480 408 381 423 481 407 466 530 276 501 434 556 309 449 469 504 341 498 483 490 369 476 485 404 272 442 411 429 368 508 588 431 595 437 335 526 495 457 297 570 333 516 302 568 580 408 459 453 542 417 487 523 473 503 368 489 589 397 406 540 300 442 278 492 320 407 541 428 489 434 364 471 476 449 312 562 411 459 389 565 460 439 490 415 373 455 261 488 486 524 425 560 318 536 347 523 364 437 327 412 364 454 409 479 584 430 464 417 307 565 341 488 432 429 440 409 409 439 340 542 514 524 510 433 294 568 451 489 421 488 345 552 343 534 288 483 509 454 266 531 475 501 292 511 268 435 283 410 360 569 299 477 552 473 491 412 441 416 368 476 432 429 476 398 464 416 292 530 324 457 409 498 414 534 282 542 357 559 520 507 430 532 364 425 501 428 336 449 321 552 393 446 470 441 503 419 483 440 432 456 467 459 269 524 400 489 422 422 554 485 318 552 268 447 523 400 431 484 501 520 412 446 361 485 345 467 351 545 536 487 566 453 426 503 581 471 300 550 376 423 258 511 355 433 259 477 288 453 271 538 586 442 475 469 462 548 355 425 430 523 376 467 400 449 455 402 490 429 276 469 397 500 440 422 398 507 489 424 395 426 316 509 353 432 283 493 422 547 372 434 316 571 322 564 478 512 344 429 503 476 531 442 347 451 534 501 442 459 335 529 519 454 264 517" marker-start="url(#m70)" marker-mid="url(#m70)" marker-end="url(#m70)"/><path d="M299 488 455 488 384 551 354 502 466 504 323 469 291 533 408 461 445 537 528 462 584 458 403 465 367 510 367 432 558 478 423 428 428 467 590 419 436 503 521 507 511 503 506 496 481 490 534 433 287 437 269 447 470 474 494 510 443 513 334 486 360 495 596 437 389 508 414 440 415 489 409 510 553 446 437 459 301 471 540 471 497 530 346 467 459 477 329 443 317 447 412 479 498 403 451 428 305 410 490 531 290 524 383 521 273 441 393 453 555 452 426 487 388 425 595 405 295 560 314 514 330 522 374 565 462 507 421 484 440 436 488 482 321 571 356 466 341 566 298 410 442 554 316 522 412 430 287 426 350 550 578 491 503 522 510 410 469 472 533 454 557 499 418 541 284 468 390 557 303 515 324 513 296 446 483 490 481 485 423 426 568 404 532 495 451 554 491 472 451 412 300 450 415 518 397 525 558 476 465 478 530 516 565 412 311 425 289 546 526 460 334 466 496 440 350 447 435 482 293 438 575 489 347 561 298 440 307 491 434 509 529 454 349 539 353 508 468 514 301 456 475 516 502 403 428 533 411 421 430 439 511 437 437 479 437 437 367 541 281 526 524 451 445 424 332 500 336 454 450 515 414 521 477 540 570 397 491 482 557 456 374 543 446 458 278 464 266 472 366 429 316 487 353 424 281 420 295 569 455 463 305 450 337 451 456 513 429 524 571 475 338 477 480 518 274 432 564 499 529 430 414 495 277 411 318 462 325 546 423 555 531 441 341 443 374 539 497 434 585 393 395 443 330 491 476 511 265 444 531 420 449 416 355 519 392 457 445 546 302 571 303 509 287 504 494 521 470 495 413 519 522 414 353 422 451 443 304 412 541 453 513 494 442 466 291 463 397 476 355 462 284 517 513 466 533 417 589 443 357 490 408 538 469 410 285 426 570 417 307 416 557 412 456 501 486 473 497 501 455 437 257 493 340 475 521 428 447 533 543 494 427 447 307 500 409 458 467 469 350 441 458 456 312 453 499 402 440 554 470 544 486 521 528 510 529 467 348 566 507 467 387 551 465 445 361 542 358 567 404 472 568 398 522 462 366 541 374 550 336 554 367 435 276 551 424 474 427 467 378 478 559 400 395 516 495 456 262 504 586 401 360 482 566 456 288 561 486 487 278 551 396 528 269 453 513 415 354 419 378 416 423 491 377 414 446 413 475 411 408 514 446 424 478 511 333 484 313 503 490 460 302 435 297 426 495 436 561 495 568 439 564 427 452 520 485 420 292 471 400 440 436 494 261 482 381 478 262 536 434 485 299 423 539 512 516 404 480 426 544 409 554 481 586 452 432 450 448 490 356 437 381 494 552 469 368 458 376 543 431 476 419 448 544 414 424 526 522 403 412 566 395 559 461 513 467 451 564 482 514 411 562 490 413 470 438 497 298 538 543 508 384 460 445 441 465 407 364 471 451 520 300 496 479 401 454 403 277 510 377 451 279 558 447 410 538 427 498 525 568 498 559 503 347 445 315 462 305 474 388 465 380 554 265 411 299 425 333 516 513 458 324 496 490 525 375 473 365 526 319 562 503 502 527 406 291 463 533 459 344 532 329 521 355 473 337 448 270 441 316 412 578 477 376 526 494 435 366 526 281 554 418 508 270 544 587 451 540 412 433 537 318 448 455 412 318 459 265 449 422 500 533 515 426 528 518 407 472 411 385 440 375 547 561 494 558 441 334 543 258 483 295 479 350 421 520 418 408 529 278 435 465 417 367 542 470 471 484 464 315 461 364 461 366 505 273 418 331 553 278 521 285 432 290 459 260 456 424 556 352 441 377 457 286 510 258 504 350 434 474 423 542 465 284 415 262 433 284 541 541 496 462 442 512 428 343 460 431 418 386 466 551 498 325 547 578 454 574 394 345 416 360 415 385 553 485 467 332 445 333 559 353 562 489 519 344 433 347 461 261 501 268 470 420 424 517 464 356 553 380 418 298 460 306 537 566 461 560 462 555 486 376 514 431 534 503 407 523 487 501 491 431 524 537 504 394 463 561 448 417 512 597 423 350 476 574 401 285 452 284 458 595 425 278 517 489 516 588 400 324 414 316 491 309 526 491 398 268 532 445 447 389 449 406 461 555 469 291 537 520 432 273 508 502 436 464 527 288 546 318 427 367 511 434 417 569 452 270 418 412 564 448 538 566 414 335 430 393 421 375 450 553 507 563 400 312 418 422 494 502 436 409 521 392 487 403 474 257 469 269 520 358 419 349 548 516 488 568 407 463 473 451 500 481 401 441 559 525 443 442 514 381 464 534 457 282 416 368 432 494 532 277 505 275 452 407 561 394 530 315 497 429 493 288 433 426 527 443 529 395 547 261 517 449 451 550 457 503 531 394 429 325 492 472 514 397 547 392 419 580 454 324 526 286 466 309 468 499 531 374 490 424 543 302 511 589 457 289 413 533 418 460 473 367 475 497 490 566 408 483 477 380 531 400 501 533 479 434 442 467 426 375 416 509 488 283 524 322 453 511 518 301 488 428 543 314 437 268 463 447 411 519 479 352 455 404 436 333 569 511 437 423 445 284 531 581 459 354 447 320 509 285 495 276 412 299 442 353 540 356 519 516 467 446 550 384 436 362 448 547 465 374 563" marker-start="url(#m71)" marker-mid="url(#m71)" marker-end="url(#m71)"/><path d="M342 483 484 416 417 520 347 438 401 534 419 563 427 456 388 480 274 446 262 468 510 501 443 524 351 432 404 564 293 533 557 472 513 419 413 464 296 548 372 522 541 421 466 514 359 523 486 447 555 501 444 462 421 516 370 475 266 476 539 481 402 525 573 397 533 401 477 418 499 494 520 398 368 443 415 563 362 535 545 447 277 541 472 503 278 525 353 508 494 424 589 426 348 437 448 490 338 571 260 520 334 569 499 518 380 427 445 539 429 451 409 494 465 474 335 491 305 481 441 555 517 402 392 459 351 547 265 544 594 428 262 486 484 524 510 453 370 484 340 463 353 569 586 405 427 517 578 394 354 567 562 475 542 483 565 423 341 468 419 412 491 441 495 506 475 447 325 409 500 463 368 444 505 428 361 538 332 469 391 551 299 493 553 462 418 476 343 442 309 410 450 504 351 415 306 408 321 532 558 455 462 550 421 415 568 476 381 464 459 522 305 416 473 511 273 510 472 457 469 537 575 413 274 521 324 564 478 466 588 390 365 434 297 509 470 431 354 564 553 437 473 414 265 552 329 419 498 458 305 447 476 531 398 490 307 449 369 499 390 461 264 450 545 443 311 513 325 502 337 519 365 504 350 508 387 550 365 442 475 428 376 432 546 507 591 441 268 492 389 505 398 473 422 483 269 479 410 512 410 479 308 570 400 482 267 500 320 497 357 415 270 552 355 458 597 413 499 532 424 482 434 429 316 546 414 485 487 474 456 445 409 556 348 562 332 560 406 563 326 467 560 403 464 514 518 466 569 458 381 566 519 522 318 470 414 530 265 456 294 517 317 404 464 545 346 447 273 473 281 409 470 534 313 418 523 488 538 494 492 398 546 507 549 420 352 557 347 458 548 413 459 440 478 532 468 401 514 499 307 446 528 477 258 508 420 543 570 490 426 431 583 414 362 496 497 520 569 464 329 457 314 497 310 467 459 435 303 520 332 570 308 570 470 539 452 444 279 472 517 396 458 432 487 422 362 562 467 419 430 433 292 464 510 421 403 495 342 509 471 486 462 526 420 448 339 517 509 435 401 552 520 410 331 563 448 432 295 441 444 441 493 520 272 543 393 475 340 476 493 408 460 488 277 519 292 551 479 440 561 499 541 464 493 430 405 496 312 542 446 535 357 526 578 405" marker-start="url(#m72)" marker-mid="url(#m72)" marker-end="url(#m72)"/><path d="M579 490 278 561 433 575 581 490 418 411 470 398 546 398 547 510 348 573 555 508 338 405 260 539 371 572 584 390 534 524 332 410 257 429 251 462 584 390 316 572 327 576 382 408 311 571 395 408 257 420 267 403 452 562 259 558 294 408 337 570 580 481 591 462 347 569 555 499 418 568 268 561 321 401 512 538 508 542 366 407 410 418 386 568 271 409 457 398 380 571 544 513 474 394 486 390 386 419 601 417 557 399 473 394 401 412 259 522 552 514 329 404 584 467 255 435 426 401" marker-start="url(#m73)" marker-mid="url(#m73)" marker-end="url(#m73)"/><path d="M389 420 397 414 253 500 608 428 306 569 257 467 262 540 598 452 593 392 313 400 584 389 297 402 456 559 263 466 570 390 262 477 484 548 301 401 267 520 600 407 303 410 553 395 388 573 255 474 408 564 450 564 370 570 438 568 257 436 275 562 389 415 434 409 507 533 467 548 544 516 411 410 252 491 497 538 256 521 557 508 258 483 597 427 264 501 289 567 345 413 286 557 488 548 266 411 298 409 431 409 544 513 474 396 259 525 577 494 335 404 254 495 575 488 536 520 319 579 397 568 498 391 313 574 530 522 414 412 333 570 346 408 347 407 480 399 253 425 603 434 463 404 594 453 526 519 430 553 600 451 395 568 460 403 379 571 541 396 515 527 598 446 305 398 405 570 458 552 254 490 585 485 279 404 432 409 580 495 300 570 600 440 539 508 466 557 459 402" marker-start="url(#m1)" marker-mid="url(#m1)" marker-end="url(#m1)"/><path d="M537 518 279 558 432 574 372 576 375 421 402 567 290 568 597 423 577 391 378 569 537 522 538 529 259 439 366 571 430 410 367 410 411 565 275 413 394 567 551 397 275 406 273 555 599 401 468 396 457 404 345 569 258 533 496 397 252 520 413 415 300 577 289 562 319 404 407 410 404 570 250 448 520 520 595 430 261 534 503 536 292 568 424 559 259 442 546 392 478 549 258 561 329 572 466 389 589 479 258 548 593 451 412 415 252 413 494 387 580 386 566 497 354 570 270 558 561 389 428 564 330 571 481 548 383 419 254 484 393 414 483 399 340 566" marker-start="url(#m0)" marker-mid="url(#m0)" marker-end="url(#m0)"/><path d="M555 414 545 416" marker-start="url(#m74)" marker-mid="url(#m74)" marker-end="url(#m74)"/><path d="M565 422 561 426 537 421 567 422 572 427" marker-start="url(#m75)" marker-mid="url(#m75)" marker-end="url(#m75)"/><path d="M564 416 572 422 574 415" marker-start="url(#m76)" marker-mid="url(#m76)" marker-end="url(#m76)"/><path d="M560 423 574 419" marker-start="url(#m77)" marker-mid="url(#m77)" marker-end="url(#m77)"/><path d="M541 424 563 425" marker-start="url(#m78)" marker-mid="url(#m78)" marker-end="url(#m78)"/><path d="M289.9 439 L310.3 434.8 L352.8 433.9 L399.6 435.6 L431 446.7 L447.2 455.2 L454.8 473 L450.6 498.5 L442.1 518.9 L429.3 536.8 L403.8 549.5 L378.3 558 L319.7 558.9 L296.7 546.1 L288.2 515.5 L286.5 481.5 L288.2 451.8 Z" fill="#cc1a06"/><path d="M353 538 361 454 384 467 450 519 431 470 413 449 456 479 311 569 353 557 290 454 418 472 316 472 345 528 283 552 384 509 320 548 369 432 335 479 276 448 418 544 372 537 399 541 274 516 452 485 402 531 456 511 319 481 349 474 386 528 367 447 452 515 449 451 463 504 414 525 385 463 425 497 372 485 350 482 397 480 335 496 354 554 373 557 292 462 372 480 417 456 320 552 406 463 348 532 396 545 468 477 316 558 300 474 403 550 344 462 285 525 454 477 275 523 335 512 439 511 293 441 443 501 339 492 442 464 441 481 302 501 329 427 359 459 378 479 318 547 380 490 463 473 347 483 282 437 344 508 385 494 305 539 380 490 312 552 373 460 407 545 422 480 302 535 371 473 322 472 330 539 443 490 457 506 318 476 401 430 359 496 362 440 445 488 441 524 414 515 321 499 284 430 412 547 364 567 308 498 301 477 401 525 375 544 314 563 374 450 437 478 272 488 380 454 293 542 291 485 308 526 394 432 298 435 354 536 317 505 398 506 344 439 322 473 290 552 417 462 364 459 302 536 318 524 457 491 305 481 371 559 373 512 456 488 360 527 398 530 329 462 375 459 399 437 421 483 362 511 300 506 396 482 410 510 421 496 304 435 345 436 451 516 302 459 320 543 335 446 450 487 397 456 332 438 418 466 401 454 284 505 414 526 316 436 341 489 354 441 352 545 448 492 326 527 367 565 411 506 324 475 286 489 370 526 416 448 368 442 327 480 397 554 350 483 455 463 292 488 354 558 415 491 313 554 383 434 320 462 356 502 359 445 383 552 318 522 326 555 343 564 322 492 322 506 321 493 382 488 348 532 442 468 374 451 360 512 307 564 402 507 309 518 405 433 369 556 414 539 445 537 428 483 318 463 429 492 355 465 318 563 315 526 330 444 410 479 357 428 458 484 461 476 323 495 300 507 398 440 442 443 387 558 279 464 416 557 368 549 406 560 350 487 354 543 317 457 466 483 309 550 296 549 438 445 422 550 337 444 346 436 343 489 405 498 462 458 303 427 340 476 383 463 337 436 400 514 370 557 311 453 308 506 430 487 353 505 365 453 317 563 299 505 424 481 335 538 323 505 451 489 342 547 411 439 363 462 368 508 420 446 395 551 311 548 328 529 292 542 375 568 317 509 433 536 400 466 297 508 283 443 331 482 383 509 330 463 303 439 318 461 285 508 277 440 325 535 282 461 303 520 361 523 363 545 333 454 382 531 430 546 373 549 432 458 389 468 300 499 315 539 295 427 319 498 430 442 445 454 361 435 371 462 325 429 414 430 403 553 331 461 363 566 289 523 437 529 312 458 408 543 465 489 289 433 288 512 296 487 445 475 440 529 285 462 313 556 314 429 337 565 412 493 397 442 398 527 425 513 449 515 305 503 302 503 400 539 428 529 422 532 419 452 378 537" marker-start="url(#m79)" marker-mid="url(#m79)" marker-end="url(#m79)"/><path d="M346 556 417 493 420 548 315 484 431 504 421 533 422 471 289 488 305 556 394 457 317 533 468 479 389 502 320 470 285 457 360 562 406 543 334 495 444 459 299 457 349 563 339 550 426 471 398 431 448 511 305 533 292 491 329 466 329 541 331 539 376 522 379 463 459 470 418 517 388 501 371 441 378 493 337 464 368 493 419 462 357 426 391 427 343 459 366 465 428 550 387 528 335 530 297 467 316 570 319 494 447 524 390 561 452 509 291 505 335 538 323 493 339 519 436 479 421 470 356 548 391 435 345 550 285 534 309 562 330 563 363 510 279 517 280 457 300 517 440 531 364 555 306 553 427 526 389 535 419 437 308 476 410 517 280 527 316 437 380 545 304 506 351 466 384 551 292 547 320 568 281 465 373 509 295 551 433 452 460 480 385 485 432 519 387 547 360 424 337 479 359 451 332 460 300 536 296 457 374 532 388 437 316 567 342 467 293 435 355 558 429 454 334 494 346 526 333 479 385 514 354 476 308 474 364 537 449 455 452 489 319 469 303 489 452 505 423 543 373 488 373 521 324 552 366 480 355 491 462 502 289 492 285 508 357 453 401 502 365 433 417 512 347 532 419 444 424 498 330 438 292 453 316 482 326 567 392 520 436 477 388 465 421 471 396 489 374 486 387 536" marker-start="url(#m80)" marker-mid="url(#m80)" marker-end="url(#m80)"/><path d="M435 477 365 434 287 436 442 526 299 509 321 449 389 508 294 514 341 544 362 425 357 492 463 481 371 483 448 506 402 495 376 474 439 481 320 452 464 481 448 524 345 428 393 549 448 525 458 460 388 497 415 510 437 534 418 464 363 499 358 465 294 492 302 491 411 455 450 446 303 445 278 439 278 521 312 495 321 471 359 494 317 498 417 539 438 464 365 456 392 545 370 517 427 524 442 502 363 552 361 431 434 546 379 513 274 458 369 561 396 440 283 549 448 518 412 525 330 472 378 541 288 539 306 507 303 563 392 563 299 461 463 459 327 480 298 438 367 535 332 442 435 468 377 505 311 426 380 513 348 553 390 446 297 448 454 446 420 496 314 472 356 430 309 569 307 489 336 469 318 476 324 453 466 488 314 475 275 497 314 496 413 524 287 444 433 489 379 433 386 511 429 550 399 541 413 485 303 470 308 550 432 465 376 534 311 473 399 481 351 568 402 509 428 453 465 486 443 515 452 491 426 505 311 434 287 540 303 524 435 543 332 510 275 482 332 550 347 498 318 554 281 532 402 448 415 512 347 563 439 440 280 436 377 507 371 483 302 558 347 463 303 445 444 532 379 507 295 546 320 431 404 546 413 548 318 547 405 520 378 449 437 513" marker-start="url(#m81)" marker-mid="url(#m81)" marker-end="url(#m81)"/><path d="M290 505 358 444 290 550 391 504 383 456 284 444 282 513 387 559 380 523 418 459 429 495 289 499 332 542 410 482 404 467 311 442 417 463 325 447 405 528 279 470 440 541 321 470 355 439 422 501 276 489 409 485 348 470 416 454 455 510 343 438 406 449 278 482 281 490 358 529 314 452 434 478 454 451 316 466 339 458 281 533 315 492 388 485 354 430 300 478 278 471 397 469 313 549 420 449 285 469 284 510 440 520 281 477 450 466 345 540 329 496 364 461 345 547 342 457 343 526 438 457 365 492 446 499 324 544 440 542 304 436 298 534 304 439 343 436 318 536 336 500 345 480 457 511 333 442 451 477 387 454 427 457 411 506 456 485 453 510 442 461 285 537 374 535 294 543 352 567 413 504 286 483 336 466 360 543 330 505 356 459 392 438 320 429 292 520 361 489 448 509 357 506 391 481 358 456 401 546 418 509 309 548 320 443 388 428 358 431 406 446 285 475 343 433 381 549 284 440 308 547 349 486 288 529 429 440 287 532 345 430 368 438 311 512 385 533 395 504 320 480 419 492 333 530 423 546 275 517 293 456 399 529 365 554 319 560 344 435 446 479 328 430 399 550 294 450 348 548 296 519 321 567 371 530 358 439 456 487 385 457 382 458 321 521 325 452 421 533 376 448 307 474 280 520 322 538 300 558 422 490 290 446 440 459 429 470 366 518 327 487 436 533 373 535 313 557 382 474 440 445 410 454 340 456 300 464 327 446 404 440 459 503 300 530 422 514 336 535 396 478 298 551 280 466 404 496 335 457 342 502 307 554 374 466 305 449 325 523 453 466 386 500 372 460 425 517 412 506 282 485 357 517 414 532 329 543 353 557 396 470 323 535 438 466 349 431 326 434 435 451 436 449 436 454 380 491 415 470 289 540 345 544 295 463 442 507 321 548 379 562 392 507 343 527 306 483 369 509 418 460 313 562 360 494 423 528 451 463 293 514 282 494 459 467 281 474 334 559 306 489 351 567 303 431 333 537 308 430 283 548 420 497 388 554 330 559 295 429 372 469 358 434 416 480 322 504 292 528 410 454 388 441 453 459 412 471 321 433 350 539 421 500 448 474 331 441 380 451 391 488 431 460 304 462 391 510 302 498 436 463 446 496 406 450 381 438 353 438 386 482 466 463 297 561 344 477 333 566 396 536 319 537 454 481 326 439 370 560 339 529 359 467 367 426 330 559 378 446 331 509 451 474 456 475 313 548 346 447 394 492 311 550 335 511 372 563 333 570 303 490 392 566 309 557 298 539 419 457 367 443 463 492 398 534 429 522 298 486 394 439 406 467 298 459 407 469 349 500 415 534 390 499 314 526 419 496 340 428 394 560 384 561 370 427 421 480" marker-start="url(#m82)" marker-mid="url(#m82)" marker-end="url(#m82)"/><path d="M300 468 297 427 314 440 285 430 384 428 374 513 387 484 449 475 356 444 383 464 425 548 384 533 442 449 341 498 414 516 375 563 295 551 373 555 300 556 368 490 366 516 336 431 352 439 363 555 377 467 283 461 299 476 417 539 307 451 382 515 383 429 397 480 294 519 292 486 333 529 322 508 428 436 367 479 345 517 356 552 327 475 409 490 345 457 366 455 287 524 356 439 328 447 333 508 285 446 374 533 413 500 303 439 315 564 314 453 402 469 333 506 400 544 286 513 282 502 415 500 353 444 274 453 383 469 325 522 291 440 387 462 304 517 389 473 372 500 307 445 328 538 373 545 287 519 396 449 419 439 450 502 302 500 415 499 447 467 370 489 336 453 331 569 343 451 394 545 372 563 328 461 389 547 342 434 421 464 349 514 337 451 379 562 340 458 409 464 363 508 280 473 308 465 438 534 400 476 314 484 323 499 376 472 283 512 349 495 448 458 291 527 342 519 410 442 448 514 318 546 319 514 408 449 389 533 438 495 308 445 416 504 428 522 348 516 345 486 274 472 305 536 451 462 415 459 415 458 417 546 459 481 313 468 388 516 304 545 402 519 321 522 432 516 348 479 332 555 375 505 429 477 328 565 379 460 423 443 339 563 408 552 459 471 281 465 448 481 388 550" marker-start="url(#m83)" marker-mid="url(#m83)" marker-end="url(#m83)"/><path d="M357 469 307 477 390 469 448 456 414 521 322 458 457 483 338 441 305 508 324 489 295 447 283 437 311 439 449 515 330 440 432 542 277 463 456 501 325 489 277 522 412 449 399 456 311 480 392 481 410 488 381 446 361 511 313 542 326 493 430 461 416 520 410 435 424 475 384 455 339 535 310 546 332 505 284 539 323 532 332 517 405 560 362 497 303 496 339 533 340 549 352 491 344 553 339 514 303 510 428 487 461 499 332 533 441 486 336 551 375 515 428 457 365 449 349 560 373 447 315 451 324 517 314 465 291 508 362 526 281 464 301 511 325 515 295 516 365 543 304 543 416 538 307 485 448 490 387 512 335 518 336 568 356 499 334 487 347 497 416 445 339 456 452 499 317 523 306 552 342 526 467 475 404 561 386 533 454 512 338 473 385 503 356 492 406 507 360 527 394 527 274 468 456 468 349 445 352 488 330 514 339 518 284 485 432 441 297 495 395 508 396 504 338 534 414 485 280 496 365 451 284 550 314 483 339 562 282 506 385 552 338 497 460 472 355 520 445 450 333 513 304 466 401 499 451 448 348 526 386 559 308 543 374 512 420 438 373 488 434 502 378 565 339 552 395 540 419 533 365 448" marker-start="url(#m84)" marker-mid="url(#m84)" marker-end="url(#m84)"/><path d="M372 556 279 514 390 512 335 538 331 461 452 468 303 452 422 550 305 428 464 494 280 430 278 506 443 500 350 549 387 517 393 457 413 436 317 549 297 542 355 486 416 511 443 481 354 516 367 544 317 505 358 537 295 539 367 469 424 454 409 501 379 555 308 453 333 536 401 440 325 479 405 469 398 442 400 467 303 480 407 432 377 563 370 519 454 445 384 470 401 496 340 438 436 441 432 529 451 492 298 440 275 443 407 507 398 438 395 527 395 465 456 464 430 505 382 486 318 519 329 496 304 448 304 523 321 529 341 543 300 511 394 562 324 487 418 472 367 504 361 442 401 426 452 456 341 556 339 436 275 480 335 507 352 434 299 433 352 468 445 442 334 458 392 505 412 438 285 535 346 433 402 427 301 555 291 435 343 442 378 471 325 456 458 467 297 426 374 503 306 509 300 506 311 467 319 487 330 432 414 435 353 484 283 463 295 448 432 526 378 507 392 445 299 535 434 458 346 476 301 447 299 505 384 534 279 481 381 515 333 501 329 463 353 521 361 546 438 514 363 520 442 467 395 475 366 476 377 567 466 476 374 548 408 473 393 455 311 443 432 503 282 514 317 480 367 522 319 548 376 483 291 432" marker-start="url(#m85)" marker-mid="url(#m85)" marker-end="url(#m85)"/><path d="M283 429 376 532 432 493 291 554 304 428 280 465 349 529 455 470 336 531 370 545 439 514 425 457 365 497 342 522 316 493 300 546 320 481 385 479 395 488 430 537 311 489 449 518 340 514 331 455 430 449 368 558 279 476 402 472 350 561 450 518 317 471 316 487 361 480 290 463 370 454 301 532 458 508 362 545 453 520 465 469 344 442 323 467 388 531 371 431 322 551 340 492 446 495 387 534 370 454 393 504 296 491 403 481 406 491 278 437 411 532 437 529 305 448 441 474 393 457 458 464 389 509 411 484 358 470 369 506 437 484 316 483 345 531 459 472 404 433 362 527 340 443 295 558 335 488 389 505 400 523 343 512 353 508 350 530 319 451 317 481 454 504 364 449 374 531 391 543 400 432 293 511 392 506 345 476 339 526 341 455 343 477 363 557 437 532 398 563 390 527 338 470 406 483 420 540 321 494 386 438 446 465 351 438 416 507 404 506 329 570 429 538 300 478 337 428 404 502 405 531 325 507 420 539 425 524 430 457 328 540 416 448 329 557 280 452 328 474 336 508 373 536 370 528 358 518 348 442 424 543 392 475 342 537 371 498 404 543 418 518 418 527 292 445 305 545 394 556 278 446 358 426 299 533 358 509 444 461 434 523 434 479 276 522 356 528 459 471 362 487 311 453 326 451 290 523 460 503 402 541 395 546 411 479 463 484 447 451 409 429 445 470 431 456 282 477 388 537 452 497 379 500 350 543 356 457 313 535 366 563 326 531 356 560 325 464 460 468 381 537 407 526 341 514 413 431 366 554 323 550 414 541 392 523 414 463 431 452 415 479 429 546 380 436 396 452 328 522 322 484 358 456 378 436 391 556 286 511 364 554 285 488 350 528 355 520 398 447 330 492 400 470 323 436 360 526 441 518 317 484 305 469 280 493 433 546 388 556 391 486 428 467 311 523 394 499 360 426 417 471 398 563 403 468 437 512 432 438 407 473 428 438 313 567 410 506 350 465 408 437 418 481 420 545 310 522 384 434 285 429 342 490 360 435 321 441 396 492 410 430 315 455 454 454 341 511 430 436 327 518 340 502 402 500 357 550 381 547 358 546 381 431 420 510 382 489 406 436 343 438 306 426 306 515 451 470 405 501 328 483 346 456 315 492 366 550 311 437 411 517 354 442 287 470 425 507 378 522 410 503 446 475 391 448 299 542 342 555 290 547 401 546 275 458 293 527 299 555 389 538 458 493 431 492 456 454 394 501 347 512 300 552 430 476 437 488 291 539 342 505 329 510 313 433 356 551 292 488 367 450 307 466 328 478 363 496 315 542 384 544 306 558 400 457 402 427 329 426 376 542 282 453 336 531 413 460 424 438 410 440 327 563 354 530 445 477 400 488 385 436 336 466 414 545 308 544 377 507" marker-start="url(#m86)" marker-mid="url(#m86)" marker-end="url(#m86)"/><path d="M296 516 443 455 406 447 387 438 400 492 351 521 432 545 403 546 391 545 370 546 274 461 378 566 356 493 360 430 387 467 445 537 456 516 332 487 430 501 274 475 380 565 422 450 318 441 412 494 413 539 387 453 346 547 314 564 358 533 446 509 415 516 378 568 358 451 331 489 316 524 347 569 284 441 405 487 288 514 442 442 287 429 439 471 314 568 281 536 346 569 449 463 329 437 318 569 337 497 410 511 280 432 371 563 330 437 294 437 408 514 367 539 362 543 376 539 337 481 346 550 406 488 301 477 355 492 383 528 321 469 393 446 397 548 344 521 398 442 411 465 397 529 421 439 313 498 437 474 422 458 350 533 437 536 440 450 376 451 394 444 338 563 299 558 427 466 422 551 425 549 286 465 300 465 413 443 382 445 285 528 459 450 398 494 320 566 364 490 309 522 382 466 448 475 311 481 339 458 330 473 435 461 356 452 364 439 371 538 306 538 289 556 392 501 312 443 328 498 383 427 283 486 441 467 308 497 313 537 355 543 369 541 313 475 459 456 448 526 320 434 440 451 292 504 342 470 380 529 464 481 321 564 451 500 389 453 314 470 290 521 429 507 299 525 297 478 312 494 388 546 351 566 346 451 416 445 312 451 449 484 387 495 396 429 411 556 381 478 380 554 411 479 386 452" marker-start="url(#m87)" marker-mid="url(#m87)" marker-end="url(#m87)"/><path d="M290 558 276 505 436 440 271 474 271 470 270 487 465 496 466 457 351 425 304 426 315 425 461 498 274 489 464 500 325 425 280 431 276 440 442 541 282 430 287 557 408 558 466 495 292 565 402 425 281 536 406 425 275 498 356 569 376 571 464 479 462 512 300 566 281 472 289 562 455 520 316 423 275 520 307 428 370 567 340 566 271 451 278 546 362 430 422 430 272 461 449 440 277 528 460 513 439 545 456 525 365 567 435 549 275 440 379 426 386 568 437 549 371 570 464 499 454 517 286 561 326 572 279 429 273 453 274 453 457 443" marker-start="url(#m2)" marker-mid="url(#m2)" marker-end="url(#m2)"/><path d="M336 568 271 499 380 572 409 562 466 483 433 547 394 428 337 428 435 435 341 575 356 575 340 424 401 564 311 571 382 429 279 529 370 575 271 490 273 515 464 448 308 423 275 439 286 551 465 450 467 502 390 565 275 518 322 570 463 501 367 422 274 441 272 507 293 557 271 522 274 527 380 418 271 465 428 433 397 562 418 559 349 423 454 526 408 427 335 423 273 518 445 439 425 435 400 432 335 567 274 456 312 423 471 470 433 545 324 425 466 456 396 566 309 571 318 574 473 479 462 492 462 455 271 512" marker-start="url(#m88)" marker-mid="url(#m88)" marker-end="url(#m88)"/><path d="M302 420 407 563 317 573 271 454 439 438 456 449 422 558 280 428 457 526 334 568 364 428 450 530 274 438 391 561 422 556 469 465 394 428 422 558 311 427 468 483 447 443 362 572 373 570 386 571 473 481 431 553 381 570 272 479 469 484 273 508 309 572 443 437 461 501 306 575 460 519 276 430 405 564 373 427 395 426 279 535 289 556 389 566 291 556 297 424 404 426 303 423 462 503 416 434 434 434 286 551 387 427 318 567 471 461 465 479 394 425 434 440 343 424 381 424 274 526 278 426 353 568 388 428 294 568 300 424 429 439 465 486 469 468 273 491 347 574 417 433 412 558 462 502 290 562 273 491 281 425 438 434 399 424 282 561 303 423 315 426 378 568 281 429 288 432 430 551 319 571 273 496 381 571 468 468 432 551 400 567 468 480 425 549 464 504 379 572 378 426 334 572 275 492 461 498 342 573 466 466 336 572 458 519 268 482 437 435 410 566 274 526 461 507 302 427 465 504 315 424 458 521 281 544 444 441" marker-start="url(#m89)" marker-mid="url(#m89)" marker-end="url(#m89)"/><path d="M418 441 346 447 405 449 313 458 438 442" marker-start="url(#m90)" marker-mid="url(#m90)" marker-end="url(#m90)"/><path d="M407 447 397 461 432 456 438 457 387 455 343 438 404 462 381 439 394 438" marker-start="url(#m91)" marker-mid="url(#m91)" marker-end="url(#m91)"/><path d="M423 517 406 453 420 515 308 457" marker-start="url(#m92)" marker-mid="url(#m92)" marker-end="url(#m92)"/><path d="M436 484 336 520 367 461 314 478 403 533 373 493 389 485 370 465 366 514 378 518 369 485 309 515" marker-start="url(#m93)" marker-mid="url(#m93)" marker-end="url(#m93)"/><path d="M400 536 438 483 309 496 341 500" marker-start="url(#m94)" marker-mid="url(#m94)" marker-end="url(#m94)"/><path d="M505 444 471 452 483 482 533 452 532 446 513 447 466 466 536 448 506 460 488 490 462 450 492 450 505 455 512 443 475 483 475 466 483 459 472 463 473 449 484 465 470 461 499 469 487 482 486 471 500 448 471 451 530 451 475 484 473 490 496 473 471 487 523 440 495 480 481 461 492 487 500 471" marker-start="url(#m89)" marker-mid="url(#m89)" marker-end="url(#m89)"/><path d="M471 491 488 473 477 469 531 448 493 477 476 476 494 452 490 459 483 481 513 455 481 487 540 445 496 465" marker-start="url(#m2)" marker-mid="url(#m2)" marker-end="url(#m2)"/><path d="M498 460 510 443 478 486 470 494 481 490 476 447 505 462 468 454 534 446 474 454 469 457 482 457 477 467 534 449 477 451 497 457 492 450 499 459 477 490 465 464 488 445" marker-start="url(#m88)" marker-mid="url(#m88)" marker-end="url(#m88)"/><path d="M267 565 261 546 272 567 282 561 261 568 296 565 272 534 267 526 286 547 264 524 290 566 283 544 263 553 269 567 274 541 282 563 298 565 277 551 299 569 266 534 263 554 263 534 283 570 290 557 281 540" marker-start="url(#m89)" marker-mid="url(#m89)" marker-end="url(#m89)"/><path d="M275 535 292 537 276 543 277 541 274 552 258 544 288 558 263 554 283 568 271 562 299 555 292 544 265 547 282 568 280 532" marker-start="url(#m2)" marker-mid="url(#m2)" marker-end="url(#m2)"/><path d="M446 445 370 424 310 437 298 431 436 436 298 430 298 437 449 435 372 438 294 429 404 438 324 430 356 428 441 446 329 422 421 433 350 417 370 426 291 420 360 441 402 442 297 435 354 424 431 428 436 436 374 433 317 435" marker-start="url(#m0)" marker-mid="url(#m0)" marker-end="url(#m0)"/><path d="M363 435 365 432 381 425 303 424 365 432 356 425 427 433 312 423 392 429 344 437 291 419 420 429 272 439 270 426 366 427 356 429 284 426 420 439 378 429 286 424 310 427 361 428 375 435 289 435 363 436 345 431 374 441 309 419 298 420 363 436 344 432 431 445 338 416 342 438 284 418 437 432 340 434 424 436 408 439 394 430 348 433 362 422 369 431" marker-start="url(#m1)" marker-mid="url(#m1)" marker-end="url(#m1)"/><path d="M270 412 282 414 263 407 266 417 281 419 274 417 301 401 298 401 314 410 283 418 288 418 299 417 286 404 310 409 266 419" marker-start="url(#m2)" marker-mid="url(#m2)" marker-end="url(#m2)"/><path d="M281 407 277 417 307 403 271 413 291 404 317 411 265 403 265 401 298 397 273 409 280 400 267 418 265 421 285 413 275 417 285 402 308 416 265 415 310 406 280 398 298 399 274 399 286 411 265 413 304 410" marker-start="url(#m89)" marker-mid="url(#m89)" marker-end="url(#m89)"/><path d="M368 436 328 439 310 428 300 439 377 435 284 437 369 445 346 436 388 446" marker-start="url(#m91)" marker-mid="url(#m91)" marker-end="url(#m91)"/><path d="M301 439 393 430 299 435 353 432 297 443 289 435 354 440 404 443 292 445 359 429 324 434" marker-start="url(#m90)" marker-mid="url(#m90)" marker-end="url(#m90)"/><path d="M440 565 306 568 290 561 371 562 345 569 345 572 342 559 317 557 261 552 266 557 352 567 261 546 404 561 327 572 353 565 419 565 290 573 416 572 364 571 379 569 267 548 463 552 324 561 266 562 460 568 397 567 469 570" marker-start="url(#m1)" marker-mid="url(#m1)" marker-end="url(#m1)"/><path d="M439 568 309 552 415 564 412 571 284 570 271 552 363 568 307 570 376 566 346 567 295 567 450 558 370 570 311 565 270 558 306 558 454 572" marker-start="url(#m73)" marker-mid="url(#m73)" marker-end="url(#m73)"/><path d="M311 565 453 556 420 564 276 555 332 566 392 561 285 562 266 549 451 563 285 563 261 555 303 551 275 559 336 558 270 551 283 574" marker-start="url(#m0)" marker-mid="url(#m0)" marker-end="url(#m0)"/><path d="M546 555 519 556 484 563 495 570 500 569 442 573 523 565 520 570 490 557 513 560" marker-start="url(#m8)" marker-mid="url(#m8)" marker-end="url(#m8)"/><path d="M542 563 518 550 453 565 488 575 532 564 450 560 479 571 518 571 496 566 533 561 460 561 522 567 521 551" marker-start="url(#m95)" marker-mid="url(#m95)" marker-end="url(#m95)"/><path d="M453 566 511 549 484 564 451 568 460 559" marker-start="url(#m96)" marker-mid="url(#m96)" marker-end="url(#m96)"/><path d="M486 563 520 562 485 555 477 568 536 568 449 572 547 575 474 563 451 572 492 565 449 556" marker-start="url(#m97)" marker-mid="url(#m97)" marker-end="url(#m97)"/><path d="M485 570 452 572 445 553 467 553 542 556 551 557" marker-start="url(#m3)" marker-mid="url(#m3)" marker-end="url(#m3)"/><path d="M524 537 517 553 508 552 504 531 494 551 505 557 511 551 502 557 504 539 511 537 520 552 495 537 506 550 496 547 510 543 520 546 503 545 494 551 514 528 506 552 509 557" marker-start="url(#m98)" marker-mid="url(#m98)" marker-end="url(#m98)"/><path d="M505 558 500 534 511 539 501 556 510 536 509 559 519 551 506 554 498 547 493 541" marker-start="url(#m88)" marker-mid="url(#m88)" marker-end="url(#m88)"/><path d="M507 535 510 530 511 529 514 537 497 537 517 552 521 539 502 556 503 536 496 532 516 550 500 540 509 555 507 532" marker-start="url(#m99)" marker-mid="url(#m99)" marker-end="url(#m99)"/><path d="M518 571 528 566 521 565 528 564 523 569 518 569 525 565" marker-start="url(#m98)" marker-mid="url(#m98)" marker-end="url(#m98)"/><path d="M519 572 512 569" marker-start="url(#m99)" marker-mid="url(#m99)" marker-end="url(#m99)"/><path d="M513 566 516 564 517 569" marker-start="url(#m88)" marker-mid="url(#m88)" marker-end="url(#m88)"/></g>
<polyline points="114.4,509 122.1,508.2 129.7,507.5 137.4,506.7 145,505.9 152.7,505.1 160.4,504.3 168,503.5 175.7,502.7 183.3,501.8 191,501 198.7,500.1 206.3,499.3 214,498.4 221.6,497.5 229.3,496.6 237,495.7 244.6,494.8 252.3,493.8 259.9,492.9 267.6,491.9 275.3,491 282.9,490 290.6,489 298.2,488 305.9,487 313.6,486 321.2,484.9 328.9,483.9 336.5,482.8 344.2,481.8 351.9,480.7 359.5,479.6 367.2,478.5 374.8,477.3 382.5,476.2 390.2,475 397.8,473.9 405.5,472.7 413.1,471.5 420.8,470.3 428.5,469.1 436.1,467.8 443.8,466.6 451.4,465.3 459.1,464 466.8,462.7 474.4,461.4 482.1,460.1 489.7,458.7 497.4,457.4 505.1,456 512.7,454.6 520.4,453.2 528,451.7 535.7,450.3 543.4,448.8 551,447.3 558.7,445.8 566.3,444.3 574,442.8 581.7,441.2 589.3,439.6 597,438 604.6,436.4 612.3,434.8 620,433.1 627.6,431.5 635.3,429.8 642.9,428.1 650.6,426.3 658.3,424.6 665.9,422.8 673.6,421 681.2,419.2 688.9,417.4 696.6,415.5 704.2,413.6 711.9,411.7 719.5,409.8 727.2,407.8 734.9,405.8 742.5,403.8 750.2,401.8 757.8,399.8 765.5,397.7 773.2,395.6 780.8,393.5 788.5,391.3 796.1,389.1 803.8,386.9 811.5,384.7 819.1,382.4 826.8,380.2 834.4,377.9 842.1,375.5 849.8,373.1 857.4,370.8 865.1,368.3 872.7,365.9 880.4,363.4" fill="none" stroke="#ef4a2a" stroke-width="2"/>
<path d="M114.4 755.4v-8M114.4 21.7v8M129.7 755.4v-8M129.7 21.7v8M145 755.4v-8M145 21.7v8M160.4 755.4v-8M160.4 21.7v8M175.7 755.4v-8M175.7 21.7v8M191 755.4v-15M191 21.7v15M206.3 755.4v-8M206.3 21.7v8M221.6 755.4v-8M221.6 21.7v8M237 755.4v-8M237 21.7v8M252.3 755.4v-8M252.3 21.7v8M267.6 755.4v-8M267.6 21.7v8M282.9 755.4v-8M282.9 21.7v8M298.2 755.4v-8M298.2 21.7v8M313.6 755.4v-8M313.6 21.7v8M328.9 755.4v-8M328.9 21.7v8M344.2 755.4v-15M344.2 21.7v15M359.5 755.4v-8M359.5 21.7v8M374.8 755.4v-8M374.8 21.7v8M390.2 755.4v-8M390.2 21.7v8M405.5 755.4v-8M405.5 21.7v8M420.8 755.4v-8M420.8 21.7v8M436.1 755.4v-8M436.1 21.7v8M451.4 755.4v-8M451.4 21.7v8M466.8 755.4v-8M466.8 21.7v8M482.1 755.4v-8M482.1 21.7v8M497.4 755.4v-15M497.4 21.7v15M512.7 755.4v-8M512.7 21.7v8M528 755.4v-8M528 21.7v8M543.4 755.4v-8M543.4 21.7v8M558.7 755.4v-8M558.7 21.7v8M574 755.4v-8M574 21.7v8M589.3 755.4v-8M589.3 21.7v8M604.6 755.4v-8M604.6 21.7v8M620 755.4v-8M620 21.7v8M635.3 755.4v-8M635.3 21.7v8M650.6 755.4v-15M650.6 21.7v15M665.9 755.4v-8M665.9 21.7v8M681.2 755.4v-8M681.2 21.7v8M696.6 755.4v-8M696.6 21.7v8M711.9 755.4v-8M711.9 21.7v8M727.2 755.4v-8M727.2 21.7v8M742.5 755.4v-8M742.5 21.7v8M757.8 755.4v-8M757.8 21.7v8M773.2 755.4v-8M773.2 21.7v8M788.5 755.4v-8M788.5 21.7v8M803.8 755.4v-15M803.8 21.7v15M819.1 755.4v-8M819.1 21.7v8M834.4 755.4v-8M834.4 21.7v8M849.8 755.4v-8M849.8 21.7v8M865.1 755.4v-8M865.1 21.7v8M880.4 755.4v-8M880.4 21.7v8M114.4 755.4h15M880.4 755.4h-15M114.4 737.1h8M880.4 737.1h-8M114.4 718.7h8M880.4 718.7h-8M114.4 700.4h8M880.4 700.4h-8M114.4 682h8M880.4 682h-8M114.4 663.7h8M880.4 663.7h-8M114.4 645.3h8M880.4 645.3h-8M114.4 627h8M880.4 627h-8M114.4 608.7h8M880.4 608.7h-8M114.4 590.3h8M880.4 590.3h-8M114.4 572h15M880.4 572h-15M114.4 553.6h8M880.4 553.6h-8M114.4 535.3h8M880.4 535.3h-8M114.4 516.9h8M880.4 516.9h-8M114.4 498.6h8M880.4 498.6h-8M114.4 480.3h8M880.4 480.3h-8M114.4 461.9h8M880.4 461.9h-8M114.4 443.6h8M880.4 443.6h-8M114.4 425.2h8M880.4 425.2h-8M114.4 406.9h8M880.4 406.9h-8M114.4 388.6h15M880.4 388.6h-15M114.4 370.2h8M880.4 370.2h-8M114.4 351.9h8M880.4 351.9h-8M114.4 333.5h8M880.4 333.5h-8M114.4 315.2h8M880.4 315.2h-8M114.4 296.8h8M880.4 296.8h-8M114.4 278.5h8M880.4 278.5h-8M114.4 260.2h8M880.4 260.2h-8M114.4 241.8h8M880.4 241.8h-8M114.4 223.5h8M880.4 223.5h-8M114.4 205.1h15M880.4 205.1h-15M114.4 186.8h8M880.4 186.8h-8M114.4 168.4h8M880.4 168.4h-8M114.4 150.1h8M880.4 150.1h-8M114.4 131.8h8M880.4 131.8h-8M114.4 113.4h8M880.4 113.4h-8M114.4 95.1h8M880.4 95.1h-8M114.4 76.7h8M880.4 76.7h-8M114.4 58.4h8M880.4 58.4h-8M114.4 40h8M880.4 40h-8M114.4 21.7h15M880.4 21.7h-15" stroke="#111" stroke-width="2.6" fill="none"/>
<rect x="114.4" y="21.7" width="766" height="733.7" fill="none" stroke="#111" stroke-width="3" stroke-linejoin="round"/>
<text transform="translate(104.4 42.7) scale(1.1 1)" text-anchor="end" class="tl">3</text>
<text transform="translate(104.4 216.1) scale(1.1 1)" text-anchor="end" class="tl">2</text>
<text transform="translate(104.4 399.6) scale(1.1 1)" text-anchor="end" class="tl">1</text>
<text transform="translate(104.4 583) scale(1.1 1)" text-anchor="end" class="tl">0</text>
<text transform="translate(104.4 755.4) scale(1.1 1)" text-anchor="end" class="tl">-1</text>
<text transform="translate(191 799.9) scale(1.1 1)" text-anchor="middle" class="tl">-30</text>
<text transform="translate(344.2 799.9) scale(1.1 1)" text-anchor="middle" class="tl">-20</text>
<text transform="translate(497.4 799.9) scale(1.1 1)" text-anchor="middle" class="tl">-10</text>
<text transform="translate(650.6 799.9) scale(1.1 1)" text-anchor="middle" class="tl">0</text>
<text transform="translate(803.8 799.9) scale(1.1 1)" text-anchor="middle" class="tl">10</text>
<text x="497.4" y="837.4" text-anchor="middle" class="al">Z [dBZ]</text>
<text transform="translate(47.4 388.6) rotate(-90) scale(1.05 1)" text-anchor="middle" class="al">V<tspan class="sub" dy="8">T</tspan><tspan dy="-8"> [m/s]</tspan></text>
<text x="138.3" y="106.9" class="ti" textLength="229.6" lengthAdjust="spacingAndGlyphs">(a) 5 min</text>
<text x="583.4" y="92.2" class="eq" textLength="64" lengthAdjust="spacingAndGlyphs">Vt =</text>
<text x="668.4" y="92.2" class="eq" textLength="101" lengthAdjust="spacingAndGlyphs">0.794Z</text>
<text x="776.4" y="75.5" class="eq sup" textLength="47.5" lengthAdjust="spacingAndGlyphs">0.104</text>
<text transform="translate(749.7 513.3) scale(1.12 1)" class="lg">0.0</text>
<text transform="translate(749.7 540) scale(1.12 1)" class="lg">0.1</text>
<text transform="translate(749.7 566.7) scale(1.12 1)" class="lg">0.2</text>
<text transform="translate(749.7 593.4) scale(1.12 1)" class="lg">0.3</text>
<text transform="translate(749.7 620.1) scale(1.12 1)" class="lg">0.4</text>
<text transform="translate(749.7 646.8) scale(1.12 1)" class="lg">0.5</text>
<text transform="translate(749.7 673.5) scale(1.12 1)" class="lg">0.6</text>
<text transform="translate(749.7 700.2) scale(1.12 1)" class="lg">0.7</text>
<circle cx="828.9" cy="506.7" r="3.8" fill="none" stroke="#333" stroke-width="1.7"/>
<circle cx="828.9" cy="533.4" r="6.9" fill="none" stroke="#333" stroke-width="1.7"/>
<circle cx="828.9" cy="560.1" r="9.5" fill="none" stroke="#333" stroke-width="1.7"/>
<circle cx="828.9" cy="586.8" r="12.6" fill="none" stroke="#333" stroke-width="1.7"/>
<circle cx="828.9" cy="613.5" r="15.9" fill="none" stroke="#333" stroke-width="1.7"/>
<circle cx="828.9" cy="640.2" r="19" fill="none" stroke="#333" stroke-width="1.7"/>
<circle cx="828.9" cy="666.9" r="22" fill="none" stroke="#333" stroke-width="1.7"/>
<circle cx="828.9" cy="693.6" r="24.8" fill="none" stroke="#333" stroke-width="1.7"/>
</g>
<g>
<g fill="none"><path d="M1338 285 1354 282 1371 276 1344 318 1317 332 1300 343 1359 328 1338 341" marker-start="url(#m3)" marker-mid="url(#m3)" marker-end="url(#m3)"/><path d="M1329 283 1288 348 1271 354 1267 374 1099 430 1122 437" marker-start="url(#m4)" marker-mid="url(#m4)" marker-end="url(#m4)"/><path d="M1102 447 1103 449" marker-start="url(#m21)" marker-mid="url(#m21)" marker-end="url(#m21)"/><path d="M1247 385 1141 349 1166 333 1167 356 1162 356 1166 332 1166 348 1181 392 1238 357 1167 388 1142 338 1248 368 1202 357 1243 347 1139 346 1253 363 1134 337 1210 355 1175 352 1252 383 1209 368 1229 350 1220 372 1175 355 1136 382 1234 344 1165 354 1240 368 1192 370 1183 337 1236 359 1229 378 1163 366 1138 374 1136 356 1217 374 1194 356 1212 356 1216 346 1167 361 1199 375 1164 342 1144 383 1166 359 1199 336 1153 377 1193 394 1160 332 1254 354 1215 347 1242 375 1231 361 1194 381 1140 358 1219 374 1171 340 1143 359 1232 342 1182 376 1204 347 1142 363 1141 395 1249 378" marker-start="url(#m0)" marker-mid="url(#m0)" marker-end="url(#m0)"/><path d="M1143 353 1151 332 1184 391 1213 367 1172 388 1136 365 1192 339 1137 351 1198 376 1246 384 1203 359 1139 339 1226 351 1179 351 1204 351 1225 343 1145 362 1179 381 1172 387 1134 349 1182 333 1212 359 1183 359 1195 346 1242 389 1140 346 1169 368" marker-start="url(#m1)" marker-mid="url(#m1)" marker-end="url(#m1)"/><path d="M1179 359 1183 350 1171 345 1167 352 1178 355 1172 352 1168 358 1173 365 1182 353 1172 345 1185 355 1171 348 1175 359 1180 361 1171 345 1186 357 1173 363 1177 354 1172 363 1173 357 1173 347 1169 359 1168 358 1171 352 1179 352 1167 357 1177 362 1172 351 1173 355 1176 352 1175 347" marker-start="url(#m0)" marker-mid="url(#m0)" marker-end="url(#m0)"/><path d="M1171 350 1179 355 1182 363 1185 357" marker-start="url(#m1)" marker-mid="url(#m1)" marker-end="url(#m1)"/><path d="M1203 374 1216 369 1204 374 1198 359 1197 356 1213 361 1190 365 1204 357 1218 361 1205 367 1203 346 1209 379 1216 358 1197 362 1206 360 1195 357 1214 353 1212 371 1196 362 1201 345 1203 358 1197 354 1215 345 1199 347 1206 354 1194 366 1201 350 1218 365 1205 369 1212 356 1197 372" marker-start="url(#m0)" marker-mid="url(#m0)" marker-end="url(#m0)"/><path d="M1206 363 1193 372 1206 363 1194 364" marker-start="url(#m1)" marker-mid="url(#m1)" marker-end="url(#m1)"/><path d="M1170 372 1151 391 1177 389 1200 395 1160 380 1185 360" marker-start="url(#m2)" marker-mid="url(#m2)" marker-end="url(#m2)"/><path d="M1304 409 1236 407 1213 401 1277 372 1230 403 1331 397 1274 397 1364 350 1343 376 1397 422 1274 347 1325 399 1390 410 1251 365 1206 400 1347 379 1289 350 1355 425 1340 370 1346 418 1268 389 1358 363 1321 410 1365 351 1393 383 1348 408 1304 417 1242 411 1333 399 1272 361 1313 403 1369 383 1235 414 1385 419 1390 377 1348 379 1393 394 1277 379 1348 373 1230 380 1205 401 1391 362 1357 414 1346 416 1389 407 1213 376 1397 362 1276 373 1269 384 1359 411 1274 359 1323 404 1389 369 1212 415 1265 404 1223 393 1218 367 1302 407 1270 386 1365 405 1241 348 1280 416 1213 406 1277 413 1379 364 1219 412 1214 390 1212 384 1324 402 1250 360 1246 391 1392 390 1357 400 1243 391 1384 399 1228 350 1374 373 1385 391 1231 358 1399 396 1381 381 1393 408 1254 405 1222 396 1252 398 1208 386 1348 371 1345 418 1367 363 1269 415 1286 395 1334 422 1363 356 1223 354 1291 381 1239 381 1393 387 1363 352 1374 415 1288 375 1268 399 1387 399 1332 383 1382 420 1357 381 1365 365 1251 387 1238 352 1392 410 1264 350 1206 381 1219 387 1287 351 1240 420 1237 382 1250 370 1279 410 1295 409 1362 373 1253 353 1291 360 1325 424 1268 400 1212 395 1351 397 1276 366 1351 400 1227 420 1337 389 1347 389 1327 388 1270 382 1347 365 1396 415 1312 361 1303 369 1216 354 1248 418 1350 354 1295 357 1288 405" marker-start="url(#m5)" marker-mid="url(#m5)" marker-end="url(#m5)"/><path d="M1289 399 1392 385 1253 361 1332 392 1229 377 1231 382 1362 408 1380 356 1280 405 1272 424 1257 378 1300 419 1337 372 1378 347 1243 381 1396 391 1227 397 1325 386 1293 409 1236 423 1282 368 1343 368 1269 427 1386 421 1300 404 1263 395 1254 368 1349 349 1280 421 1327 363 1274 356 1312 367 1210 387 1332 392 1267 390 1385 349 1370 388 1224 404 1329 363 1383 384 1305 405 1317 397 1249 420 1313 402 1383 374 1342 421 1272 360 1354 413 1318 368 1228 402 1326 423 1300 412 1267 390 1256 417 1307 421 1339 362 1215 377 1245 349 1387 412 1247 358 1294 409 1284 396 1331 366 1341 364 1317 383 1250 346 1203 393 1378 369 1350 381 1357 408 1245 377 1277 367 1356 378 1296 367 1314 408 1224 364 1398 387 1354 347 1379 351 1392 389 1294 373 1321 387 1394 382 1269 414 1343 389 1370 420 1356 377 1331 367 1274 356" marker-start="url(#m6)" marker-mid="url(#m6)" marker-end="url(#m6)"/><path d="M1298 391 1381 367 1364 370 1349 387 1295 382 1356 387 1305 355 1381 377 1364 389" marker-start="url(#m97)" marker-mid="url(#m97)" marker-end="url(#m97)"/><path d="M1294 372 1338 367 1307 386 1332 391 1358 361 1284 376" marker-start="url(#m96)" marker-mid="url(#m96)" marker-end="url(#m96)"/><path d="M1368 369 1331 393 1352 385 1336 369" marker-start="url(#m8)" marker-mid="url(#m8)" marker-end="url(#m8)"/><path d="M1315 367 1313 372 1343 369 1388 357 1337 373 1388 387 1311 378 1316 359 1348 388 1353 369 1362 360" marker-start="url(#m95)" marker-mid="url(#m95)" marker-end="url(#m95)"/><path d="M1119 468 1134 460 1146 420 1142 479 1138 471 1132 462 1123 479 1138 462 1142 495 1147 474 1167 462 1141 480 1150 496 1137 435 1137 456 1143 497 1121 461 1136 498 1151 421 1166 450 1140 491 1125 485 1164 427 1146 427 1142 447 1154 470 1120 452 1154 460 1162 422 1131 486 1136 476 1159 446 1113 433 1117 468 1129 455 1153 474 1140 423 1112 448 1148 437 1150 466 1143 488 1140 440 1124 476 1142 464 1166 488 1152 495 1109 427 1164 479 1122 467 1137 480 1120 478 1122 473 1115 447 1161 490 1152 427 1130 455 1163 419 1143 484 1115 454 1156 446 1124 479 1151 478 1137 422 1117 449 1117 474 1115 433 1152 457 1134 474 1120 487 1161 447 1144 423 1111 433 1142 421 1139 447 1156 493 1142 425 1126 447 1141 458 1136 479 1162 460 1136 451" marker-start="url(#m19)" marker-mid="url(#m19)" marker-end="url(#m19)"/><path d="M1134 479 1144 465 1161 492 1115 447 1129 432 1135 460 1167 425 1141 489 1127 458 1153 475 1150 497 1126 455 1138 496 1155 420 1134 478 1157 462 1142 428 1146 451 1146 445 1143 438 1123 464 1152 459 1122 447 1130 454 1137 419 1121 428 1113 437 1153 481 1126 457 1149 444 1166 465 1140 458 1168 444 1130 487 1141 419 1113 488 1144 482 1162 419 1112 448" marker-start="url(#m20)" marker-mid="url(#m20)" marker-end="url(#m20)"/><path d="M1113 488 1105 470 1115 500" marker-start="url(#m19)" marker-mid="url(#m19)" marker-end="url(#m19)"/><path d="M1444 346 1435 338 1454 342 1412 339 1446 336 1431 355 1394 342 1397 351 1462 347 1382 338 1439 350 1454 325 1433 342 1434 344 1426 359 1437 322 1408 347" marker-start="url(#m17)" marker-mid="url(#m17)" marker-end="url(#m17)"/><path d="M1457 327 1429 352 1417 319 1461 338 1391 322 1447 349 1381 345 1419 348 1446 322 1461 321 1424 345 1417 328 1401 329 1391 356 1383 341 1394 345" marker-start="url(#m16)" marker-mid="url(#m16)" marker-end="url(#m16)"/><path d="M1419 324 1429 343 1438 329 1403 346 1433 357 1436 356" marker-start="url(#m42)" marker-mid="url(#m42)" marker-end="url(#m42)"/><path d="M1424 358 1407 322 1424 343 1404 359 1413 348 1403 344" marker-start="url(#m15)" marker-mid="url(#m15)" marker-end="url(#m15)"/><path d="M1473 377 1411 394 1490 390 1463 375 1482 367 1412 368 1426 349 1410 361 1530 350 1472 370 1521 389 1497 360" marker-start="url(#m9)" marker-mid="url(#m9)" marker-end="url(#m9)"/><path d="M1412 367 1455 366 1445 361 1416 393 1411 379 1412 356 1483 348 1503 360 1408 356 1450 381 1436 354 1472 365 1454 356 1443 382 1450 350 1493 377 1506 396 1507 357 1486 387 1444 348 1492 392 1492 389 1490 392 1414 391" marker-start="url(#m100)" marker-mid="url(#m100)" marker-end="url(#m100)"/><path d="M1470 400 1510 365 1444 374 1507 395 1423 382 1421 393 1424 358 1430 352 1450 367 1519 356 1460 361 1500 390 1423 366 1436 348 1415 388" marker-start="url(#m101)" marker-mid="url(#m101)" marker-end="url(#m101)"/><path d="M1478 352 1425 354 1523 374 1434 384 1448 374 1505 359 1408 380 1449 380 1433 363 1493 364 1431 359 1484 383 1449 354 1485 380 1434 360 1528 350 1473 368 1517 368 1451 397" marker-start="url(#m10)" marker-mid="url(#m10)" marker-end="url(#m10)"/><path d="M1443 331 1448 332 1451 324 1479 307 1474 298 1481 305 1515 330 1515 338" marker-start="url(#m16)" marker-mid="url(#m16)" marker-end="url(#m16)"/><path d="M1443 330 1460 324 1470 309 1474 301 1492 305 1499 313 1506 309 1504 314 1507 320" marker-start="url(#m17)" marker-mid="url(#m17)" marker-end="url(#m17)"/><path d="M1458 331 1463 317 1484 299 1515 328 1516 333" marker-start="url(#m15)" marker-mid="url(#m15)" marker-end="url(#m15)"/><path d="M1459 319 1488 305 1503 319" marker-start="url(#m42)" marker-mid="url(#m42)" marker-end="url(#m42)"/><path d="M1488 325 1481 308 1484 306 1498 329 1490 317 1474 312 1502 323 1475 314 1495 314 1494 331" marker-start="url(#m17)" marker-mid="url(#m17)" marker-end="url(#m17)"/><path d="M1478 313 1485 306 1495 319 1502 320 1502 315" marker-start="url(#m16)" marker-mid="url(#m16)" marker-end="url(#m16)"/><path d="M1487 312 1503 308 1497 324 1471 324 1480 306 1479 327 1480 327 1497 330" marker-start="url(#m42)" marker-mid="url(#m42)" marker-end="url(#m42)"/><path d="M1499 330 1490 326" marker-start="url(#m15)" marker-mid="url(#m15)" marker-end="url(#m15)"/><path d="M1548.7 324.7 L1564.3 320 L1573.6 327 L1573.6 345 L1560.4 348.1 L1549.4 340.3 Z" fill="#1a5a74"/><path d="M1556 322 1575 344 1562 327 1575 336 1553 332 1553 337" marker-start="url(#m49)" marker-mid="url(#m49)" marker-end="url(#m49)"/><path d="M1572 339 1560 338 1551 326 1572 345 1560 337" marker-start="url(#m48)" marker-mid="url(#m48)" marker-end="url(#m48)"/><path d="M1549 321 1572 343 1562 349" marker-start="url(#m52)" marker-mid="url(#m52)" marker-end="url(#m52)"/><path d="M1550 329 1553 342" marker-start="url(#m51)" marker-mid="url(#m51)" marker-end="url(#m51)"/><path d="M1545 325 1568 325" marker-start="url(#m50)" marker-mid="url(#m50)" marker-end="url(#m50)"/><path d="M1577 342 1577 335" marker-start="url(#m55)" marker-mid="url(#m55)" marker-end="url(#m55)"/><path d="M1562 343" marker-start="url(#m54)" marker-mid="url(#m54)" marker-end="url(#m54)"/><path d="M1565 338" marker-start="url(#m53)" marker-mid="url(#m53)" marker-end="url(#m53)"/><path d="M1549 326 1566 328 1571 326" marker-start="url(#m56)" marker-mid="url(#m56)" marker-end="url(#m56)"/><path d="M1561 327 1555 347" marker-start="url(#m44)" marker-mid="url(#m44)" marker-end="url(#m44)"/><path d="M1571 330 1560 335 1568 325" marker-start="url(#m47)" marker-mid="url(#m47)" marker-end="url(#m47)"/><path d="M1562 341 1570 338 1567 350" marker-start="url(#m43)" marker-mid="url(#m43)" marker-end="url(#m43)"/><path d="M1566 320" marker-start="url(#m46)" marker-mid="url(#m46)" marker-end="url(#m46)"/><path d="M1573 316 1549 320 1544 322 1574 352 1574 331 1569 351 1562 325 1551 345" marker-start="url(#m48)" marker-mid="url(#m48)" marker-end="url(#m48)"/><path d="M1543 343 1547 322 1576 335 1578 346 1573 333" marker-start="url(#m49)" marker-mid="url(#m49)" marker-end="url(#m49)"/><path d="M1573 321 1568 346 1561 316 1550 350 1572 319 1547 326 1568 322 1557 343 1580 341 1563 350 1547 323" marker-start="url(#m50)" marker-mid="url(#m50)" marker-end="url(#m50)"/><path d="M1566 321 1546 339" marker-start="url(#m51)" marker-mid="url(#m51)" marker-end="url(#m51)"/><path d="M1569 321 1579 329 1569 350 1582 341" marker-start="url(#m52)" marker-mid="url(#m52)" marker-end="url(#m52)"/><path d="M1630 353 1616 355 1609 358 1592 353 1600 360 1599 364 1617 356 1604 351 1575 353 1569 357 1604 341 1624 370 1591 364 1607 335 1595 341 1587 333 1628 339" marker-start="url(#m58)" marker-mid="url(#m58)" marker-end="url(#m58)"/><path d="M1587 364 1585 364 1594 338 1584 335 1592 333 1631 358 1603 337 1586 342 1579 355 1614 349 1569 333 1627 337 1570 368 1569 357 1609 349 1573 350 1628 339 1619 356" marker-start="url(#m59)" marker-mid="url(#m59)" marker-end="url(#m59)"/><path d="M1597 337 1576 333 1598 355 1625 338 1617 358 1583 339 1624 349 1581 332 1607 350 1588 349 1588 342 1627 352" marker-start="url(#m52)" marker-mid="url(#m52)" marker-end="url(#m52)"/><path d="M1619 355 1570 335 1578 362 1603 365 1583 359 1623 341 1597 353 1616 361" marker-start="url(#m60)" marker-mid="url(#m60)" marker-end="url(#m60)"/><path d="M1401.8 407.9 L1445.5 399.3 L1482.1 396.2 L1492.3 367.3 L1504 345.5 L1532.8 340.8 L1547.6 352.5 L1540.6 381.4 L1532.8 411 L1525.8 422.7 L1504 432.8 L1475.1 439.9 L1445.5 454.7 L1423.6 476.5 L1408.8 498.4 L1401.8 506.2 Z" fill="#14926a"/><path d="M1433 409 1553 376 1551 351 1550 328 1561 343 1555 380 1558 334 1440 460 1534 404 1529 415 1400 490 1413 461 1388 457 1470 394 1510 390 1481 420 1407 420 1546 336 1522 359 1485 388 1545 354 1439 415 1548 389 1380 475 1538 369 1501 401 1559 366 1431 450 1387 458 1420 462 1540 334 1394 413 1543 390 1501 378" marker-start="url(#m26)" marker-mid="url(#m26)" marker-end="url(#m26)"/><path d="M1542 393 1398 435 1415 471 1424 468 1545 408 1419 448 1472 437 1413 474 1515 421 1429 456 1420 430 1386 447 1466 432 1477 418 1408 443 1538 329 1441 413 1402 408 1434 456 1493 426 1407 454 1438 436 1472 404 1556 359 1522 374 1451 446 1420 439 1397 496 1540 407 1446 451 1478 442 1473 405 1521 415 1508 363 1527 376 1507 356 1422 479 1421 447 1495 397 1500 430 1449 440 1543 355 1415 410 1474 411 1440 432 1414 475 1564 335 1512 333 1417 462 1506 414 1490 428 1494 395 1434 403 1388 405 1488 435 1450 456 1457 448" marker-start="url(#m27)" marker-mid="url(#m27)" marker-end="url(#m27)"/><path d="M1433 428 1451 416 1479 418 1508 416 1510 330 1449 397 1390 506 1412 405 1480 396 1433 419 1461 429 1552 362 1527 387 1417 430 1432 453 1389 412 1440 444 1400 412 1520 359 1546 323 1418 469 1513 363 1390 424 1523 353 1539 325 1404 439 1502 436 1382 487" marker-start="url(#m29)" marker-mid="url(#m29)" marker-end="url(#m29)"/><path d="M1526 380 1533 364 1444 417 1503 437 1473 432 1546 376 1543 333 1425 419 1410 409 1427 469 1409 401 1484 415 1438 397 1518 419 1465 422 1541 358 1465 445 1511 371 1422 472 1526 420 1399 456 1482 403 1504 355 1387 428 1397 498 1533 323 1433 458 1456 400 1422 464 1498 383 1507 382 1509 409 1530 360 1545 321 1505 349 1491 394 1517 377 1451 398 1483 443 1438 423 1382 422 1386 447 1556 329 1525 342 1479 418 1389 434 1561 351 1480 409 1451 457 1425 410 1389 405 1489 417 1516 337 1554 357 1508 416 1488 389 1429 458" marker-start="url(#m25)" marker-mid="url(#m25)" marker-end="url(#m25)"/><path d="M1420 449 1529 399 1547 397 1434 404 1437 429 1532 349 1413 459 1514 410 1423 412 1517 386 1556 328 1500 425 1523 346 1450 419 1412 439 1472 444 1511 412 1392 515 1506 370 1531 370 1467 402 1462 396 1460 432 1532 351 1528 359 1430 422 1385 437 1450 397 1458 410 1494 431 1393 427 1510 416 1544 362 1471 399 1392 493 1485 428 1444 431 1416 461 1515 383 1545 322 1549 354 1539 342 1493 409 1482 434 1487 391 1446 395 1553 341 1450 395 1494 414 1534 370 1466 396 1495 394 1551 345 1542 345 1417 474 1452 449 1513 424 1412 446 1538 401 1534 374 1412 416 1533 340 1512 381 1386 456" marker-start="url(#m28)" marker-mid="url(#m28)" marker-end="url(#m28)"/><path d="M1432 449 1410 404 1536 341 1554 341 1512 432 1527 345 1497 378 1514 383 1513 393 1385 459 1537 422 1539 359 1428 416 1523 421 1420 434 1381 501 1424 459 1396 407 1539 334 1401 483 1421 460 1443 433 1527 412 1388 458 1469 426 1444 449 1396 435 1481 410 1442 441 1514 355 1491 390 1502 427 1383 479 1501 425 1509 332 1406 467 1490 401 1546 408 1392 516 1468 404 1393 491 1477 402 1385 406 1441 428 1438 459 1485 390 1397 439 1521 365 1508 407 1527 426 1492 439 1525 355 1488 419" marker-start="url(#m36)" marker-mid="url(#m36)" marker-end="url(#m36)"/><path d="M1383 446 1547 334 1473 444 1399 450 1527 377 1414 444 1385 439 1414 475 1400 447 1409 412 1444 431 1482 400 1438 428 1530 338 1389 510 1449 455 1399 469 1405 468 1394 448 1495 433 1464 405 1450 444 1529 386 1407 445 1408 467 1519 414 1431 442 1466 405 1404 438 1406 408 1506 387 1387 484 1393 414 1419 431 1517 327 1409 423 1560 339 1405 438 1513 380 1420 454 1402 405 1386 472 1392 465 1519 387 1505 396 1535 355 1391 409 1500 350 1498 427 1434 426 1542 409 1546 325 1536 375 1517 388 1501 425 1478 445 1506 431 1546 335 1387 452" marker-start="url(#m37)" marker-mid="url(#m37)" marker-end="url(#m37)"/><path d="M1520 336 1529 366 1442 439 1532 378 1482 411 1410 433 1484 443 1491 381 1529 413 1397 448 1431 470 1475 421 1547 376 1517 362 1390 451 1403 444 1499 354 1397 419 1431 456 1392 472 1484 424 1408 432 1469 442 1518 382 1453 416 1491 438 1406 412 1408 411 1494 416 1407 406 1491 432 1429 467 1430 404 1381 466 1489 377 1495 407 1492 377 1499 399" marker-start="url(#m38)" marker-mid="url(#m38)" marker-end="url(#m38)"/><path d="M1535 400 1384 467 1501 347 1396 415 1396 413 1501 412 1501 352 1382 491 1382 465 1510 338 1465 450 1392 406 1560 334 1450 436 1461 411 1481 435 1498 417 1439 454 1506 430 1448 394 1434 460 1519 378 1406 414 1490 389 1453 409 1467 425 1447 441 1537 344 1424 402 1455 405 1385 468 1488 426 1496 360 1490 432 1553 330 1478 410 1531 340 1557 369 1539 409 1419 417 1417 441 1540 397 1449 446 1391 439 1406 488 1523 376 1404 415 1517 412 1548 329 1546 386 1511 342 1545 359 1452 454 1425 456 1511 370 1488 387 1518 386 1477 403 1445 414 1493 364 1449 409 1540 356 1523 336 1504 350 1552 385 1414 431 1431 469 1405 426 1529 354 1512 420" marker-start="url(#m35)" marker-mid="url(#m35)" marker-end="url(#m35)"/><path d="M1538 394 1431 467 1514 436 1533 415 1442 441 1414 469 1496 425 1400 421 1510 399 1543 381 1421 431 1412 423 1507 356 1382 426 1413 425 1406 468 1416 452 1553 357 1471 431 1419 482 1434 467 1382 423 1500 347 1461 424 1399 471 1401 499 1424 465 1494 372 1423 469 1502 344 1391 457 1516 417" marker-start="url(#m39)" marker-mid="url(#m39)" marker-end="url(#m39)"/><path d="M1540 404 1526 382 1560 350 1419 451 1428 442 1493 378 1471 401 1396 425 1530 361 1544 415 1416 471 1546 330 1478 407 1395 463 1395 476 1493 440 1501 434 1509 416 1514 360 1407 459 1511 391 1386 433 1540 343 1555 381 1517 385 1391 438 1405 452 1396 488 1402 447 1453 430 1518 358 1411 489 1552 348 1494 390 1518 419 1466 408 1407 473 1388 451 1462 447 1492 431 1547 331 1541 399 1462 426 1532 372 1504 400 1411 473 1536 327 1554 334 1484 403 1392 454 1472 442 1530 331 1537 369 1475 443 1528 391 1458 450 1494 422 1533 376 1381 423 1408 479 1515 381 1473 440 1511 379 1511 395 1442 403 1466 434 1472 415 1518 411 1384 443 1389 496 1437 464 1562 354 1385 408 1416 424 1555 335 1437 424" marker-start="url(#m31)" marker-mid="url(#m31)" marker-end="url(#m31)"/><path d="M1438 424 1503 382 1524 420 1459 442 1427 402 1404 420 1512 388 1390 482 1450 409 1442 418 1401 415 1552 326 1457 436 1402 429 1516 404 1423 419 1384 421 1486 441 1545 344 1383 509 1550 395 1464 404 1530 386 1539 324 1439 407 1431 441 1397 440 1492 372 1507 364 1533 379 1520 419 1415 474 1464 401 1385 507 1404 415 1388 501 1531 336 1465 410 1456 451 1390 455 1386 501 1548 376 1554 373 1493 370 1443 410 1397 491 1524 336 1502 420 1403 497 1381 507 1538 404 1527 412 1478 410 1484 411 1555 358 1520 345 1475 421 1409 425 1504 367 1400 463" marker-start="url(#m34)" marker-mid="url(#m34)" marker-end="url(#m34)"/><path d="M1483 413 1531 340 1554 355 1430 460 1497 418 1408 488 1390 510 1527 385 1462 421 1525 359 1382 490 1476 423 1486 441 1387 448 1532 398 1512 411 1386 455 1448 458 1481 423 1484 391 1401 476 1526 357 1542 347 1465 401 1544 359 1447 417 1384 444 1537 374 1443 422 1434 449 1538 355 1490 421 1475 402 1540 395 1535 411 1453 403 1533 426 1484 414 1517 363 1449 404 1400 452 1553 348 1501 380 1444 432 1397 495 1526 362 1539 392 1458 436 1547 398 1438 433 1387 410 1390 468 1528 331 1392 488 1551 343 1531 394 1420 420 1382 463 1469 411 1546 411 1504 370 1510 434 1413 449 1508 438 1414 413 1514 408 1547 384 1550 336 1397 484 1516 354 1534 360 1528 391 1425 443 1498 432 1437 415 1407 466" marker-start="url(#m33)" marker-mid="url(#m33)" marker-end="url(#m33)"/><path d="M1552 385 1445 398 1512 408 1488 384 1411 456 1432 430 1386 457 1485 386 1400 404 1435 436 1550 359 1469 427 1393 411 1427 446 1400 485 1430 446 1536 369 1418 436 1487 394 1497 413 1527 360 1485 423 1381 406 1395 451 1535 349 1399 424 1478 417 1520 417 1407 449 1544 372 1400 413 1436 415 1403 432 1543 398 1552 373 1512 332" marker-start="url(#m30)" marker-mid="url(#m30)" marker-end="url(#m30)"/><path d="M1408 493 1495 384 1496 426 1415 485 1387 428 1498 364 1437 420 1382 412 1380 416 1556 327 1536 364 1442 426 1497 417 1490 410 1429 439 1557 376 1467 434 1505 338 1557 359 1449 447 1548 384 1409 440 1414 447 1524 333 1414 449 1496 431 1415 419 1415 424 1415 404 1405 423" marker-start="url(#m32)" marker-mid="url(#m32)" marker-end="url(#m32)"/><path d="M1487 373 1421 483 1379 532 1383 469 1448 394 1564 355 1445 394 1439 395 1559 362 1429 469 1503 347 1551 383 1462 448 1433 463 1542 425 1405 488 1537 425 1492 448 1432 470 1410 392 1448 398 1542 327 1562 382 1568 347 1454 389 1378 524 1381 522 1529 322 1560 398 1564 348 1430 396 1475 405 1507 337" marker-start="url(#m23)" marker-mid="url(#m23)" marker-end="url(#m23)"/><path d="M1432 394 1562 358 1527 318 1468 391 1400 505 1540 318 1460 391 1503 344 1506 432 1484 379 1444 459 1503 438 1548 405 1528 330 1454 394 1490 440 1516 328 1375 528 1451 398 1513 434 1523 322 1374 434 1492 368 1382 519 1535 322 1416 394 1484 397 1408 406 1558 379 1477 442 1483 373 1483 392 1391 512 1554 327 1375 517 1563 333 1554 378 1514 440 1543 414" marker-start="url(#m40)" marker-mid="url(#m40)" marker-end="url(#m40)"/><path d="M1495 377 1397 515 1380 519 1562 344 1376 452 1551 413 1377 511 1501 342 1544 418 1537 423 1458 461 1483 392 1442 397 1563 388 1519 437 1545 405 1379 503" marker-start="url(#m41)" marker-mid="url(#m41)" marker-end="url(#m41)"/><path d="M1521 319 1449 393 1520 334 1539 323 1382 467 1554 323 1547 402 1505 338 1379 485 1531 327 1504 364 1562 333 1381 479 1378 435 1403 402 1567 375 1550 398 1392 520 1563 373 1382 526 1384 512 1503 352 1487 376 1505 332 1513 442 1515 445 1484 450 1400 509 1401 399 1383 409 1529 325 1442 392 1488 439 1381 453 1484 394 1563 339 1564 338 1459 462" marker-start="url(#m24)" marker-mid="url(#m24)" marker-end="url(#m24)"/><path d="M1388 511 1379 499 1540 416 1437 465 1559 371 1454 460 1545 430 1548 413 1487 375 1548 403 1410 488 1493 377 1474 448 1538 323 1562 344 1556 383 1377 438 1554 371 1488 383 1382 432 1394 509 1417 486 1554 395" marker-start="url(#m22)" marker-mid="url(#m22)" marker-end="url(#m22)"/><path d="M1577 463 1567 411 1540 435 1560 441 1559 417 1603 440 1560 438 1574 421 1549 443 1592 417 1581 458 1573 452 1571 455 1583 418 1581 418 1600 436 1553 425 1553 449 1552 435" marker-start="url(#m52)" marker-mid="url(#m52)" marker-end="url(#m52)"/><path d="M1578 424 1568 469 1584 466 1602 457 1568 448 1576 462 1543 413 1560 429 1542 453 1600 430 1544 415 1551 452 1558 427 1591 435 1573 456 1553 406 1606 430" marker-start="url(#m58)" marker-mid="url(#m58)" marker-end="url(#m58)"/><path d="M1593 434 1578 413 1563 449 1549 417 1573 410 1556 462 1577 418 1583 437 1604 430 1598 424" marker-start="url(#m59)" marker-mid="url(#m59)" marker-end="url(#m59)"/><path d="M1597 436 1561 426 1599 435 1572 417 1592 430 1544 409" marker-start="url(#m60)" marker-mid="url(#m60)" marker-end="url(#m60)"/><path d="M1575 435 1554 458 1550 455 1557 406 1590 421 1600 435 1606 444 1570 446" marker-start="url(#m49)" marker-mid="url(#m49)" marker-end="url(#m49)"/><path d="M1519 478 1548 460 1523 456 1460 461 1531 450 1493 467 1499 450 1472 473 1487 479 1539 466 1472 455 1512 478 1463 466 1493 462 1504 480 1521 476 1470 461 1476 463 1513 478 1496 477 1533 481 1536 480 1462 465 1500 467" marker-start="url(#m11)" marker-mid="url(#m11)" marker-end="url(#m11)"/><path d="M1485 466 1530 455 1514 464 1510 468 1479 459 1486 482 1509 472 1463 460 1546 451 1459 477 1499 479 1506 474" marker-start="url(#m61)" marker-mid="url(#m61)" marker-end="url(#m61)"/><path d="M1499 450 1485 466 1530 472 1504 472 1512 475 1486 452 1523 478 1465 477 1526 467 1532 470 1547 474 1548 456 1477 481" marker-start="url(#m12)" marker-mid="url(#m12)" marker-end="url(#m12)"/><path d="M1544 464 1492 457 1547 452 1515 480 1496 469 1479 477" marker-start="url(#m13)" marker-mid="url(#m13)" marker-end="url(#m13)"/><path d="M1457 480 1460 494 1468 506 1463 508" marker-start="url(#m49)" marker-mid="url(#m49)" marker-end="url(#m49)"/><path d="M1457 482 1459 484" marker-start="url(#m59)" marker-mid="url(#m59)" marker-end="url(#m59)"/><path d="M1462 487 1465 501 1465 523 1469 521" marker-start="url(#m52)" marker-mid="url(#m52)" marker-end="url(#m52)"/><path d="M1467 512 1470 528" marker-start="url(#m48)" marker-mid="url(#m48)" marker-end="url(#m48)"/><path d="M1457 501 1458 497 1458 492 1468 496" marker-start="url(#m48)" marker-mid="url(#m48)" marker-end="url(#m48)"/><path d="M1470 503 1450 492 1458 495 1457 505 1459 510 1461 488 1461 492 1449 496 1452 499" marker-start="url(#m49)" marker-mid="url(#m49)" marker-end="url(#m49)"/><path d="M1458 496 1460 500 1463 491 1461 496 1464 507 1471 504 1451 501" marker-start="url(#m52)" marker-mid="url(#m52)" marker-end="url(#m52)"/><path d="M1220.2 435 L1251.4 434.2 L1306 438.9 L1352.8 444.4 L1384 442.8 L1412.1 450.6 L1412.1 474 L1391.8 497.4 L1376.2 514.6 L1353.6 532.5 L1329.4 538 L1298.2 541.1 L1267 544.2 L1228 548.1 Z" fill="#109a36"/><path d="M1324 515 1362 446 1288 488 1299 457 1237 558 1229 560 1234 490 1277 442 1336 454 1267 546 1291 487 1248 466 1252 553 1337 534 1203 522 1224 474 1304 513 1277 438 1242 503 1310 428 1284 475 1251 444 1254 554 1326 552 1197 441 1359 433 1219 455 1361 526 1194 473 1243 427 1220 467 1232 477 1404 444 1346 538 1296 532 1336 434 1341 463 1244 502 1408 456 1350 505 1210 471 1402 439 1309 438 1333 459 1403 461 1290 533 1267 447 1267 533 1227 551 1198 483 1213 518 1201 439 1313 510 1341 460 1324 518 1246 422 1200 485 1229 496 1337 446 1214 519 1396 486 1233 419 1309 515 1253 531 1239 454 1258 533 1330 488 1194 442 1316 452 1205 427 1345 472 1385 441 1210 488 1292 486 1260 530 1268 436 1358 505 1338 451 1242 450 1246 541 1283 453 1218 518 1326 550 1303 453 1380 518 1242 486 1325 461 1322 489 1412 490 1345 474 1376 517 1298 429 1403 445 1216 487 1415 485 1232 502 1264 428 1305 488 1236 424 1227 506 1306 511 1235 544 1288 520 1330 481 1369 449 1350 536 1430 472 1226 553 1337 451 1401 483 1244 423 1241 484 1337 507 1279 437 1386 436 1234 490 1248 544 1294 509 1202 490 1310 500 1433 471 1210 532 1266 488 1243 553 1383 474 1363 495 1201 542 1268 525 1235 445 1308 440 1396 448 1248 463 1223 430 1226 547 1212 444 1344 461 1335 472 1379 436 1264 474 1257 467 1346 456 1222 505 1345 527 1240 473 1289 478 1226 549 1203 437 1373 463 1413 444 1311 551 1368 443 1198 457 1230 546 1259 424 1252 521 1320 514" marker-start="url(#m72)" marker-mid="url(#m72)" marker-end="url(#m72)"/><path d="M1238 551 1341 481 1380 475 1397 474 1258 455 1259 511 1357 469 1286 445 1287 476 1211 511 1312 518 1378 439 1230 421 1233 443 1388 511 1241 454 1208 560 1328 486 1303 509 1348 457 1234 428 1331 480 1362 472 1232 450 1260 521 1365 448 1261 550 1281 495 1318 474 1267 445 1279 467 1267 431 1276 432 1252 442 1206 433 1291 433 1399 487 1385 488 1261 456 1309 474 1330 430 1401 464 1210 423 1399 504 1283 478 1243 499 1235 544 1380 505 1297 472 1261 521 1284 517 1350 439 1364 491 1259 467 1322 536 1372 449 1335 550 1320 546 1335 446 1278 449 1416 439 1359 496 1309 474 1380 527 1374 451 1194 477 1210 420 1311 547 1321 523 1277 454 1196 438 1370 447 1353 546 1273 477 1407 436 1401 469 1225 503 1258 555 1432 442 1327 471 1245 429 1358 476 1233 491 1304 536 1288 546 1379 504 1239 483 1272 493 1364 496 1379 527 1258 549 1231 445 1273 423 1377 480 1407 479 1280 441 1325 459 1200 461 1289 438 1200 474 1268 426 1325 449 1238 544 1275 426 1305 513 1434 457 1326 508 1274 490 1365 519 1331 435 1324 431 1314 543 1238 513 1415 440 1279 505 1294 458 1285 506 1422 454 1413 454 1236 521 1251 433 1233 543 1234 504 1208 420 1280 510 1337 449 1432 474 1320 429 1405 502 1369 473 1418 468 1373 514 1428 458 1285 492 1302 491 1260 441 1384 478 1309 511 1277 546 1259 438 1345 501 1393 440 1255 528 1397 479 1204 471 1377 515 1213 464 1309 543 1203 545 1282 425 1387 481 1203 565 1250 497 1242 530 1318 463 1338 433 1353 456 1219 422 1387 450 1209 425 1248 554 1324 515 1347 491 1262 501 1246 434 1259 454 1357 524 1258 498 1267 508 1341 544 1316 543 1298 453 1284 449 1219 546 1362 440 1354 511 1294 427 1415 494 1292 466 1235 420 1335 542 1311 446 1221 439 1235 476 1207 548 1371 457 1262 534 1236 448 1276 510 1219 551 1261 423 1241 467 1217 541 1247 498 1266 444 1384 500 1330 464 1284 503 1422 452 1393 508 1419 438 1370 491 1227 501 1220 561 1250 432 1221 536 1281 528 1332 485 1230 498 1222 529 1293 533 1360 466 1346 452 1344 459 1251 448 1394 452 1257 476 1193 423 1240 427 1292 527 1357 520 1356 455 1279 431 1381 526 1398 433 1276 489 1307 436 1279 490 1318 531 1198 529 1206 437 1367 460 1336 479 1265 451 1239 527 1222 555 1349 507 1339 522 1316 495 1199 430 1300 458 1334 504 1217 447 1415 442 1320 545 1307 504 1231 514 1239 486 1290 520 1330 455 1231 483 1386 505 1274 438 1338 548 1214 539 1408 494 1333 458 1225 500 1387 524 1312 493 1303 518 1264 519 1386 482 1283 478 1286 448 1373 452 1329 475 1299 546 1329 545 1431 462 1286 425 1243 534 1344 497 1206 532 1342 487 1300 453 1312 433 1255 425 1309 508 1314 461 1254 468 1245 483 1402 508 1373 435 1283 469 1303 517 1210 498 1377 452" marker-start="url(#m71)" marker-mid="url(#m71)" marker-end="url(#m71)"/><path d="M1306 471 1242 500 1222 458 1312 496 1401 434 1377 498 1252 431 1198 425 1262 489 1388 464 1238 497 1247 529 1214 478 1282 489 1385 472 1423 461 1429 467 1362 496 1387 476 1349 534 1275 479 1310 481 1268 427 1222 557 1234 530 1294 446 1216 493 1217 534 1427 468 1283 547 1330 519 1381 523 1352 516 1237 485 1201 533 1230 484 1310 499 1318 500 1375 448 1254 477 1228 451 1234 508 1355 522 1335 529 1376 510 1208 542 1335 506 1311 455 1304 499 1193 420 1286 552 1208 540 1414 489 1342 435 1353 495 1272 536 1201 493 1202 474 1331 454 1305 458 1350 500 1205 514 1363 496 1277 492 1391 432 1330 433 1248 463 1404 502 1260 443 1207 480 1284 502 1261 531 1194 427 1214 524 1320 533 1401 497 1226 494 1230 476 1238 521 1413 449 1203 545 1334 443 1406 437 1411 495 1355 433 1286 429 1320 441 1278 504 1285 481 1368 513 1406 484 1244 469 1230 507 1206 484 1249 432 1331 544 1230 471 1230 476 1277 524 1367 444 1319 489 1274 503 1422 465 1277 494 1233 514 1343 442 1258 531 1308 439 1291 461 1293 540 1283 523 1359 535 1288 555 1293 486 1318 548 1318 542 1257 523 1370 496 1201 534 1249 458 1199 460 1220 556 1298 549 1225 419 1318 442 1204 486 1198 483 1330 548 1277 540 1327 533 1420 485 1362 450 1390 521 1296 482 1207 513 1323 509 1381 523 1366 437 1357 471 1295 475 1212 490 1208 476 1343 477 1250 532 1287 502 1372 436 1205 500 1426 453 1304 531 1279 454 1193 444 1247 459 1280 459 1324 544 1371 527 1410 458 1252 526 1342 476 1206 539 1304 435 1313 453 1385 463" marker-start="url(#m70)" marker-mid="url(#m70)" marker-end="url(#m70)"/><path d="M1199 535 1251 497 1333 474 1428 468 1266 463 1210 552 1329 437 1203 472 1211 525 1273 512 1335 508 1346 486 1203 459 1382 487 1268 517 1251 491 1273 423 1285 542 1327 526 1207 498 1328 515 1266 470 1280 539 1324 516 1233 531 1264 558 1279 442 1251 528 1370 437 1322 547 1389 486 1281 528 1300 450 1338 486 1288 451 1286 546 1377 505 1229 446 1233 460 1405 493 1254 453 1333 548 1376 524 1214 453 1279 508 1241 555 1205 538 1236 514 1382 498 1332 499 1327 453 1220 517 1196 488 1349 516 1272 511 1207 436 1236 478 1324 433 1299 545 1412 468 1340 548 1347 460 1227 544 1398 438 1231 550 1269 538 1414 465 1290 544 1365 537 1318 489 1250 484 1209 489 1367 443 1307 437 1234 507 1276 538 1296 467 1427 481 1333 485 1261 428 1372 478 1268 468 1408 490 1251 529 1198 466 1331 502 1247 475 1263 453 1349 539 1274 466 1265 480 1303 506 1369 522 1214 423 1358 537 1201 511 1400 491 1238 493 1287 455 1283 471 1350 471 1293 459 1221 506 1254 557 1296 487 1304 486 1311 454 1258 558 1281 433 1239 470 1200 562 1330 485 1400 507 1257 425 1214 450 1316 446 1398 480 1280 506 1305 481 1401 441 1282 551 1396 473 1247 442 1380 455 1225 440 1372 497 1285 488 1261 432 1295 457 1295 518 1218 456 1316 539 1320 450 1341 498 1316 545 1338 515 1287 527 1257 558 1362 539 1285 550 1381 471 1250 559 1247 422 1349 521 1222 439 1326 508 1370 513 1300 486 1306 444 1252 548 1394 447 1433 448 1336 523 1323 523 1287 545 1416 448 1319 455 1301 519 1414 459 1359 470 1204 453 1420 448 1242 466 1213 467 1217 548 1208 504 1411 498 1209 508 1211 506 1279 459 1252 535 1200 532 1408 449 1410 487 1417 448 1252 445 1324 508 1287 500 1323 550 1368 519 1216 468 1244 436 1394 474 1312 524 1278 460 1247 494 1408 497 1381 481 1291 453 1320 434 1310 482 1254 480 1417 491 1228 422 1410 457 1309 428 1366 491 1301 509 1340 513 1370 470 1353 477 1232 430 1208 533 1240 535 1287 444 1323 433 1233 554 1318 443 1363 461 1261 540 1225 542 1280 512 1195 453 1324 542 1224 468 1217 447 1286 512 1356 490 1288 438 1330 459 1378 529 1270 430 1348 542 1278 535 1232 448 1425 480 1387 450 1195 459 1232 436 1383 491 1338 507 1354 522 1196 421 1254 536 1357 445 1282 548 1325 512 1247 471 1383 501 1277 481 1335 506 1195 465 1371 491 1271 464 1214 443 1272 454 1219 450 1199 527 1288 464 1333 492 1255 475 1434 470 1213 518 1308 492 1397 477 1415 457 1298 472 1321 462 1348 444 1416 471 1333 501 1284 434 1390 450 1251 501 1313 496 1288 498 1376 468 1211 466 1228 550 1369 538 1238 534 1272 534 1314 458 1366 457 1199 458 1270 530 1203 422 1386 441 1355 527 1411 468 1262 514 1427 444 1263 453 1355 546 1211 534 1405 467 1281 521 1242 560 1362 505 1373 532 1366 502 1422 452 1227 512 1225 434 1283 435 1279 435 1289 485 1368 456 1349 539 1203 491 1228 555 1317 435 1396 493 1248 508 1339 441 1362 465 1350 463 1242 450 1298 505 1257 556 1206 426" marker-start="url(#m64)" marker-mid="url(#m64)" marker-end="url(#m64)"/><path d="M1331 527 1332 494 1292 499 1381 529 1263 523 1385 434 1229 478 1286 445 1399 510 1388 453 1247 529 1244 469 1389 476 1416 447 1244 462 1271 479 1341 512 1203 424 1396 441 1352 531 1221 464 1327 516 1248 547 1299 435 1231 491 1400 485 1318 549 1331 498 1224 420 1296 541 1255 493 1232 419 1284 540 1277 474 1413 481 1431 465 1291 436 1354 470 1232 552 1250 483 1309 468 1313 551 1255 536 1216 451 1380 509 1320 438 1416 450 1375 435 1200 423 1349 441 1373 446 1347 506 1330 478 1239 431 1232 526 1335 549 1306 505 1226 537 1193 422 1265 471 1214 497 1250 475 1262 423 1335 503 1371 508 1368 532 1353 495 1221 536 1356 532 1292 467 1407 483 1284 542 1304 522 1400 505 1304 458 1412 473 1311 496 1313 430 1198 450 1196 458 1401 481 1200 538 1373 432 1307 504 1393 434 1411 453 1287 476 1231 470 1234 454 1250 535 1228 475 1277 497 1374 501 1252 491 1319 518 1278 478 1343 454 1283 498 1273 536 1236 504 1329 458 1225 476 1232 518 1232 495 1334 463 1206 479 1404 498 1351 518 1309 540 1332 489 1235 484 1351 438 1290 511 1327 509 1223 529 1347 466 1351 453 1317 517 1385 506 1246 426 1277 555 1312 475 1293 435 1239 459 1312 435 1350 480 1213 547 1201 547 1257 508 1412 448 1341 481 1333 533 1289 510 1210 517 1292 462 1371 509 1215 428 1216 549 1332 550" marker-start="url(#m66)" marker-mid="url(#m66)" marker-end="url(#m66)"/><path d="M1241 469 1359 489 1257 483 1325 532 1435 461 1256 435 1422 473 1313 535 1327 536 1293 507 1209 535 1243 547 1355 492 1258 529 1201 521 1331 475 1230 516 1388 463 1386 503 1315 516 1213 425 1407 493 1344 454 1267 512 1227 543 1325 537 1376 466 1215 453 1255 475 1321 457 1388 493 1348 507 1237 439 1391 451 1381 525 1327 441 1350 444 1391 516 1224 513 1365 519 1390 431 1323 458 1269 444 1327 437 1393 473 1414 480 1372 484 1265 541 1294 527 1337 452 1390 493 1278 511 1376 441 1298 457 1386 499 1203 559 1215 558 1294 553 1320 545 1341 474 1246 486 1257 441 1336 532 1252 508 1233 542 1298 430 1266 527 1319 485 1308 482 1274 511 1417 452 1428 462 1404 505 1202 450 1249 528 1204 535 1374 513 1304 525 1329 476 1222 427 1239 502 1241 425 1317 465 1336 481 1406 504 1202 498 1375 438 1235 467 1433 445 1240 440 1293 472 1419 454 1376 499 1247 549 1352 529 1228 444 1311 459 1374 509 1295 492 1288 426 1257 464 1241 523 1258 487 1310 490 1251 438 1214 424 1289 518 1255 428 1399 454 1226 443 1384 456 1343 501 1351 479 1304 453 1217 518 1335 448 1310 463 1335 496 1349 535 1327 539 1300 499 1308 468 1232 521 1321 482 1346 482 1378 506 1196 467 1434 454 1314 475 1372 439 1422 469 1331 533 1202 557 1375 447 1209 560 1361 470 1215 557 1247 474 1278 468 1413 452 1327 461 1206 436 1226 538 1237 520 1222 558 1204 560 1283 491 1387 506 1246 518 1304 549 1364 509 1194 449 1286 547 1314 532" marker-start="url(#m65)" marker-mid="url(#m65)" marker-end="url(#m65)"/><path d="M1229 485 1361 447 1253 481 1238 442 1348 457 1232 524 1270 461 1216 451 1214 453 1253 526 1283 478 1371 472 1406 447 1239 533 1227 422 1322 490 1356 539 1422 462 1243 509 1243 451 1256 535 1292 456 1290 448 1214 433 1307 475 1277 547 1274 508 1381 473 1334 551 1356 512 1311 454 1414 493 1345 543 1280 513 1195 473 1347 468 1247 459 1216 453 1230 495 1215 508 1323 496 1332 549 1313 502 1275 479 1322 544 1231 424 1280 551 1206 526 1244 526 1266 429 1415 449 1349 534 1346 515 1245 522 1207 421 1399 496 1419 445 1272 508 1424 462 1308 518 1347 508 1249 491 1262 481 1253 433 1283 435 1297 505 1357 542 1314 507 1233 471 1424 472 1385 492 1301 528 1234 441 1266 445 1211 538 1270 433 1232 483 1242 461 1354 494 1253 536 1395 508 1373 473 1396 435 1304 547 1322 454 1339 450 1197 515 1325 430 1209 538 1411 434 1258 525 1243 486 1334 484 1397 441 1250 448 1200 559 1344 497 1251 450 1213 562 1225 465 1252 472 1284 519 1324 547 1409 495 1363 483 1376 451 1219 488 1292 547 1218 543 1310 449 1292 468 1221 425 1409 436 1248 514 1210 449 1230 451 1209 516 1236 493 1246 559 1226 559 1217 468 1311 514 1289 490 1323 447 1254 546 1289 515 1357 437 1292 507 1267 485 1312 532 1389 463 1230 422 1276 541 1267 558 1396 477 1295 528 1393 455 1361 492 1230 556 1256 526 1344 531 1229 511 1233 528 1318 498 1393 511 1350 457 1207 437 1367 466 1301 441 1309 516 1313 552 1265 512 1263 493 1294 445 1304 489 1351 464 1244 494 1291 499 1364 535 1258 552 1310 524 1323 536 1387 472 1267 525 1351 512 1359 540 1290 479 1256 480 1227 456 1283 489 1324 498 1208 452 1340 501 1304 537 1225 457 1336 543 1264 513 1264 437 1418 439 1355 472 1302 465 1388 499 1269 525 1316 455 1398 474 1392 441 1298 526 1225 536 1250 439 1200 474 1363 453 1220 438 1291 508 1356 451 1433 440 1306 497 1209 562 1233 442 1313 479 1350 442 1259 475 1221 429 1207 421 1249 452 1282 496 1226 515 1267 519 1278 535 1325 530 1224 558 1289 556 1289 507 1208 508 1434 463 1424 463 1206 561 1247 432 1228 501 1373 498 1427 454 1326 519 1259 501 1337 524 1210 471 1271 425 1255 504 1355 503 1279 513 1387 431 1315 473 1242 543 1197 446 1304 523 1242 436 1315 489 1203 454 1247 424 1206 558 1203 471 1329 473 1344 436 1309 539 1344 460 1305 487 1404 506 1310 518 1226 473 1255 504 1304 534 1247 560 1389 438 1314 432 1249 538 1295 425 1338 452 1327 435 1276 451 1263 534 1386 447 1269 520 1255 438 1235 435 1393 474 1240 445 1315 437 1242 485 1409 438 1218 532 1354 451 1404 493 1436 445 1225 535 1241 521 1334 543 1336 445 1314 460 1292 470 1315 490 1355 442 1370 494" marker-start="url(#m67)" marker-mid="url(#m67)" marker-end="url(#m67)"/><path d="M1295 491 1243 521 1386 441 1347 513 1230 499 1267 446 1355 517 1292 456 1361 485 1330 472 1232 538 1201 523 1351 540 1364 464 1391 462 1270 520 1335 429 1307 483 1388 448 1242 421 1301 554 1198 521 1368 520 1257 477 1391 457 1256 559 1301 531 1362 487 1316 500 1229 455 1374 523 1245 465 1328 438 1271 487 1347 525 1255 442 1211 470 1385 473 1390 445 1330 436 1232 465 1231 489 1200 553 1213 527 1230 437 1378 442 1198 499 1214 434 1405 456 1282 536 1294 517 1194 431 1396 453 1313 451 1243 479 1253 521 1401 505 1321 508 1342 528 1398 509 1231 428 1273 518 1354 526 1370 454 1230 503 1335 486 1396 471 1215 473 1251 424 1328 483 1405 489 1334 521 1353 498 1254 553 1384 485 1386 469 1255 521 1257 549 1352 468 1243 522 1273 514 1325 470 1329 501 1434 468 1363 496 1311 530 1307 488 1336 442 1281 479 1205 497 1234 547 1354 516 1388 480 1335 539 1299 529 1290 512 1306 521 1428 472 1262 492 1201 551 1212 422 1227 557 1304 546 1210 504 1265 486 1348 510 1291 484 1362 437 1235 556 1328 491 1255 472 1255 536 1223 441 1270 542 1301 506 1245 543 1210 500 1406 438 1238 521 1353 451 1289 463 1387 511 1205 483 1359 530 1233 476 1334 495 1330 502 1343 447 1216 549 1356 468 1272 472 1251 436 1212 441 1291 440 1273 522 1381 522 1234 500 1329 535 1261 460 1366 458 1355 466 1415 445 1272 466" marker-start="url(#m69)" marker-mid="url(#m69)" marker-end="url(#m69)"/><path d="M1332 551 1226 525 1368 432 1199 428 1246 491 1388 431 1355 469 1306 535 1379 505 1253 485 1377 525 1314 456 1212 469 1294 430 1264 474 1397 476 1356 498 1227 438 1267 553 1219 563 1252 446 1346 509 1287 477 1269 485 1284 494 1199 444 1374 520 1229 513 1204 454 1236 446 1259 549 1261 476 1260 478 1222 508 1363 532 1271 479 1347 531 1408 499 1340 450 1303 538 1307 453 1336 515 1306 461 1276 541 1195 487 1286 472 1343 527 1278 466 1377 487 1394 510 1221 427 1321 442 1304 513 1389 470 1291 548 1415 438 1408 489 1351 524 1427 467 1269 502 1340 480 1206 461 1279 433 1208 520 1374 485 1271 439 1268 555 1348 483 1269 429 1272 533 1379 492 1199 529 1300 426 1359 434 1209 449 1368 448 1260 483 1254 481 1285 523 1361 475 1273 423 1204 481 1416 478 1346 460 1369 478 1217 456 1257 534 1281 490 1365 500 1203 468 1199 469 1384 489 1342 544 1328 531 1262 538 1348 443 1293 479 1335 533 1358 501 1295 451 1199 544 1289 443 1194 455 1359 462 1421 439 1391 482 1279 441 1249 485 1292 447 1405 497 1327 541 1316 542 1368 515 1215 544 1275 490 1270 510 1357 527 1338 550 1288 512 1288 500 1279 480 1317 496 1400 457 1412 482 1283 536 1276 491 1290 530 1228 465 1317 441 1276 483 1353 540 1273 545 1239 553 1317 534 1286 513 1366 443 1387 450 1286 525 1262 528 1231 473 1355 498 1369 522" marker-start="url(#m68)" marker-mid="url(#m68)" marker-end="url(#m68)"/><path d="M1334 428 1251 417 1419 502 1189 497 1300 553 1195 486 1332 555 1203 420 1386 521 1252 555 1356 546 1285 553 1256 424 1369 431 1434 473 1429 474 1326 428 1363 542 1437 467 1250 430 1383 429 1275 425 1405 435 1196 461 1393 430 1202 497 1400 508 1420 497 1345 548 1328 555 1308 554 1215 562 1246 414 1334 553 1403 432 1380 531 1222 563 1419 437 1338 551 1299 562 1370 433 1354 436" marker-start="url(#m0)" marker-mid="url(#m0)" marker-end="url(#m0)"/><path d="M1347 550 1253 554 1346 429 1218 416 1432 446 1199 552 1424 433 1188 534 1220 567 1194 538 1267 570 1195 464 1277 556 1340 435 1365 432 1375 534 1389 433 1389 433 1251 558 1217 557 1210 568 1379 430 1368 432 1432 456 1434 474 1249 564 1196 434 1369 537 1216 417 1198 509 1275 554 1409 504 1412 440 1406 507 1252 558 1425 432 1188 479 1243 422 1277 420 1313 548 1204 515 1261 424 1202 501 1268 423 1198 565 1226 417 1201 489 1296 422 1292 551 1435 472 1418 486 1342 428 1353 443 1327 418 1292 423 1282 557 1194 441 1431 448 1369 543 1413 492 1233 559 1368 429 1282 555 1377 535 1345 547 1340 549 1368 541 1404 430 1433 451 1272 428 1272 422 1192 484 1195 504 1339 434 1198 453 1385 526 1279 555 1191 444 1335 427 1299 429 1268 422 1201 557 1439 440 1361 429 1273 428" marker-start="url(#m1)" marker-mid="url(#m1)" marker-end="url(#m1)"/><path d="M1269 423 1368 540 1413 495 1342 419 1414 435 1252 415 1196 538 1351 547 1435 472 1427 441 1247 560 1433 468 1360 431 1256 562 1420 436 1189 445 1307 422 1394 434 1431 451 1229 556 1364 436 1372 535 1319 542 1327 429 1200 419 1209 566 1270 420 1190 427 1427 436 1304 547 1312 551 1190 438 1213 415 1363 434 1333 434 1419 432 1368 539 1376 434 1232 413 1186 457 1387 517 1367 536 1191 468" marker-start="url(#m73)" marker-mid="url(#m73)" marker-end="url(#m73)"/><path d="M1191 426.3 L1209.7 426.3 L1224.5 434.9 L1254.1 441.1 L1283 448.1 L1312.6 454.4 L1341.5 459.8 L1371.9 464.5 L1371.9 473.1 L1341.5 477.8 L1326.7 499.6 L1312.6 513.6 L1290.8 528.5 L1276 543.3 L1268.2 557.3 L1224.5 557.3 L1195.6 535.5 L1189.4 499.6 L1189.4 455.1 Z" fill="#cc1a06"/><path d="M1230 506 1346 450 1228 463 1180 464 1312 483 1276 503 1311 498 1242 548 1340 495 1170 452 1385 461 1219 571 1240 525 1261 481 1225 455 1230 451 1173 462 1302 467 1195 519 1331 507 1257 492 1344 486 1333 478 1266 557 1174 421 1304 442 1291 536 1193 539 1353 459 1224 528 1262 499 1227 465 1272 511 1296 445 1187 518 1290 462 1169 466 1233 467 1197 479 1256 571 1223 549 1261 527 1215 533 1272 512 1212 449 1226 440 1215 437 1261 496 1319 490 1225 569 1187 436 1261 552 1315 478 1215 466 1318 484 1272 454 1167 454 1285 536 1191 460 1205 550 1199 438 1332 452 1249 565 1179 550 1217 488 1233 577 1271 542 1190 471 1283 543 1302 486 1216 533 1180 411 1325 519 1289 516 1191 416 1221 503 1269 466 1387 467 1251 506 1207 435 1293 451 1284 463 1250 471 1209 509 1219 432 1219 553 1307 494 1279 451 1288 443 1302 453 1236 524 1254 533 1214 472 1194 450 1222 574 1270 449 1306 534 1196 462 1327 507 1199 471 1336 490 1279 489 1261 483 1227 452 1328 452 1195 418 1302 462 1364 469 1178 484 1206 428 1190 415 1220 523 1211 563 1241 447 1348 471 1231 573 1236 509 1237 491 1188 529 1244 546 1225 454 1347 451 1207 457 1341 479 1246 444 1308 495 1275 544 1255 470 1267 488 1209 466 1326 468 1258 566 1299 463 1327 481 1277 485 1211 569 1213 491 1225 504 1218 434 1214 439 1210 502 1337 475 1354 453 1258 571 1192 427 1277 490 1226 463 1265 537 1222 560 1220 553 1212 555 1173 475 1254 462 1220 508 1210 490 1220 434 1213 573 1229 521 1302 457 1264 499 1312 451 1231 504 1309 456 1270 509 1332 456 1244 536 1224 570 1262 442 1219 532 1219 500 1366 458 1388 460 1199 435 1225 549 1289 490 1212 494 1210 566 1232 477 1209 549 1259 496 1223 542 1238 556 1184 499 1171 529 1189 429 1246 555 1218 551 1207 564 1228 539 1370 468 1237 535 1359 477 1246 539 1236 496 1211 466 1267 542 1169 423 1259 494 1180 529 1250 479 1252 554 1231 565 1292 506 1257 517 1199 420 1263 519 1193 448 1185 474 1250 564 1170 430 1222 565 1193 475 1232 523 1274 460 1228 440 1249 498 1216 496 1377 464 1243 465 1267 519 1188 462 1312 474 1266 553 1208 537 1316 465 1271 539 1196 546 1222 462 1292 505 1266 493 1227 542 1237 575 1229 455 1206 571 1201 416 1176 545 1223 529 1282 546 1230 495 1213 548 1199 495 1186 456 1291 513 1264 533 1237 481 1183 501 1172 417 1213 542 1285 474 1193 476 1201 537 1287 470 1279 545 1245 450 1209 526 1254 568 1279 450 1375 457 1223 523 1172 539 1248 469 1184 498 1240 506 1257 554 1264 434 1221 527 1332 452 1191 430 1188 460" marker-start="url(#m82)" marker-mid="url(#m82)" marker-end="url(#m82)"/><path d="M1307 474 1322 500 1308 463 1257 464 1199 533 1246 541 1202 440 1318 525 1188 477 1202 567 1240 444 1241 542 1171 414 1387 458 1334 460 1209 500 1269 524 1170 521 1257 481 1232 561 1198 568 1292 505 1248 564 1195 565 1264 527 1260 560 1318 511 1219 573 1276 469 1239 436 1248 465 1264 545 1265 529 1169 477 1191 421 1213 460 1231 571 1175 450 1286 440 1314 510 1167 485 1176 455 1173 428 1227 505 1234 435 1246 500 1265 443 1253 454 1266 464 1202 466 1184 419 1196 495 1298 511 1170 436 1275 522 1354 474 1195 428 1187 446 1237 499 1317 490 1339 458 1212 495 1319 504 1265 473 1168 418 1209 520 1241 448 1298 464 1260 470 1282 494 1227 574 1253 506 1325 482 1219 467 1304 477 1305 529 1232 430 1310 455 1261 491 1254 443 1242 450 1302 481 1276 440 1184 478 1191 495 1283 520 1166 459 1319 488 1264 439 1202 547 1199 566 1332 477 1199 424 1202 456 1231 562 1286 545 1225 495 1218 455 1225 450 1253 505 1253 569 1230 462 1196 562 1303 516 1209 511 1210 550 1344 478 1296 537 1203 517 1234 484 1243 440 1178 451 1313 508 1236 541 1299 506 1280 448 1349 457 1250 556 1252 487 1357 466 1189 423 1238 494 1359 459 1171 458 1357 464 1200 443 1220 525 1261 578 1214 490 1355 477 1225 536 1264 557 1263 511 1322 487 1223 455 1331 471 1191 426 1228 461 1170 474 1271 476 1188 512 1260 514" marker-start="url(#m83)" marker-mid="url(#m83)" marker-end="url(#m83)"/><path d="M1395 471 1248 557 1201 416 1259 550 1175 420 1285 508 1214 475 1222 462 1191 470 1209 451 1375 461 1332 466 1308 527 1231 470 1216 514 1181 450 1308 466 1248 507 1170 420 1247 533 1167 455 1367 470 1272 496 1262 478 1198 488 1180 499 1292 468 1233 431 1264 570 1268 535 1249 498 1285 530 1185 455 1254 482 1218 479 1302 446 1260 450 1184 460 1238 547 1212 576 1273 564 1189 495 1185 413 1284 453 1255 528 1235 469 1200 514 1354 470 1290 481 1278 519 1250 461 1209 562 1193 536 1293 454 1352 463 1292 460 1189 560 1176 480 1399 461 1242 566 1195 530 1225 435 1294 529 1197 563 1253 490 1263 558 1285 459 1242 541 1231 561 1176 455 1184 525 1306 531 1187 543 1202 425 1373 455 1240 492 1222 524 1276 557 1239 567 1285 522 1191 498 1219 540 1278 451 1190 535 1167 437 1344 460 1262 503 1221 512 1267 523 1247 562 1336 504 1243 557 1233 482 1183 544 1187 472 1331 507 1220 525 1285 543 1338 500 1287 548 1241 557 1183 467 1224 546 1239 560 1295 512 1173 456 1266 457 1287 454 1244 488 1190 458 1326 477 1323 507 1273 534" marker-start="url(#m84)" marker-mid="url(#m84)" marker-end="url(#m84)"/><path d="M1265 573 1280 470 1213 486 1242 572 1219 540 1209 501 1241 550 1204 528 1257 556 1328 470 1291 440 1222 551 1245 475 1245 438 1382 468 1177 499 1256 519 1203 501 1309 467 1269 460 1258 570 1242 555 1197 564 1328 488 1199 447 1205 463 1237 472 1206 548 1298 500 1255 441 1259 437 1267 487 1268 514 1273 545 1212 500 1300 493 1349 471 1221 508 1256 440 1200 482 1238 514 1206 428 1236 555 1195 516 1171 515 1273 469 1251 503 1171 411 1255 443 1215 429 1229 444 1296 475 1378 472 1269 552 1177 511 1220 448 1247 435 1289 513 1344 482 1342 470 1249 510 1231 488 1247 567 1250 553 1207 523 1244 529 1276 477 1231 530 1221 428 1221 486 1336 467 1234 577 1169 446 1249 494 1196 499 1256 499 1277 511 1240 517 1196 506 1301 460 1299 534 1226 466 1247 444 1265 491 1202 460 1172 417 1384 465 1332 470 1195 520 1359 457 1200 560 1197 444 1236 444 1199 540 1256 522 1285 539 1297 535 1253 431 1231 517 1252 551 1186 482 1245 520 1321 496 1227 574 1258 458 1200 533 1270 519 1197 525 1253 545 1205 440 1269 497 1205 418 1176 443 1229 487 1263 448 1221 524 1264 571 1275 473 1184 547 1214 534 1236 492 1280 548 1229 435 1202 541 1187 533 1205 475 1357 478 1278 457 1249 460 1264 440 1225 577 1286 450 1220 427 1181 501 1308 528 1171 499 1301 458 1242 572 1246 515 1181 527 1196 557 1325 447 1232 449 1283 540 1280 468 1187 495 1213 538 1285 459 1242 496 1305 527 1394 460 1241 485 1335 466 1280 551 1234 570 1220 483 1294 465 1298 500 1275 533 1226 439 1233 427 1170 438 1249 565 1297 530 1230 523 1275 466 1195 440 1357 453 1181 552 1216 482 1173 421 1182 531 1180 452 1260 495 1253 562 1207 571 1393 461 1333 513 1210 550 1340 468 1239 503 1247 489 1355 452 1228 530 1195 428 1214 468 1176 512 1296 481 1178 457 1290 528 1209 537 1204 468 1345 453 1323 498 1185 478 1244 474 1238 571 1271 532 1245 567 1287 524 1272 479 1224 450 1189 553 1190 524 1208 514 1271 550 1303 504 1210 511 1239 572 1217 566 1303 529 1282 520 1252 531 1295 472 1301 466 1259 499 1309 460 1332 510 1294 500 1302 486 1243 542 1245 481 1268 443 1237 568 1255 484 1189 506 1204 543 1282 538 1233 487 1282 487 1201 446 1210 566 1249 471 1321 495 1171 423 1210 446 1238 574 1194 469 1198 433 1344 452" marker-start="url(#m86)" marker-mid="url(#m86)" marker-end="url(#m86)"/><path d="M1267 561 1334 474 1331 500 1268 494 1387 458 1244 549 1198 537 1232 435 1188 448 1264 500 1229 458 1309 518 1333 452 1385 463 1250 447 1293 511 1292 543 1292 511 1284 501 1204 419 1192 532 1398 467 1340 467 1280 529 1187 415 1322 470 1282 511 1277 493 1228 486 1194 550 1197 519 1254 563 1294 462 1215 515 1268 464 1265 476 1308 481 1196 543 1191 414 1198 524 1338 475 1247 477 1242 531 1260 533 1346 477 1351 483 1398 461 1167 504 1206 430 1306 487 1229 519 1196 465 1318 464 1190 498 1247 558 1190 534 1265 528 1197 457 1323 492 1272 439 1201 542 1238 541 1216 524 1236 528 1218 566 1281 525 1263 565 1274 480 1304 519 1255 481 1222 539 1180 438 1209 437 1309 516 1166 501 1181 553 1207 485 1176 525 1263 470 1173 489 1260 500 1276 515 1179 465 1168 494 1202 441 1277 552 1203 567 1212 544 1244 501 1303 503 1193 458 1231 558 1189 453 1267 444 1214 442 1196 491 1196 428 1270 519 1231 562 1340 484 1197 556 1256 499 1197 495 1267 509 1296 458 1273 480 1186 463 1273 511 1200 528 1342 465 1257 493 1313 503 1278 507 1188 549 1176 535 1196 472 1223 430 1247 468 1206 426 1308 445 1310 499 1219 425 1393 460 1273 494 1225 443 1259 517 1329 468 1301 520 1279 483 1383 457 1251 528 1338 461 1279 454 1281 441" marker-start="url(#m87)" marker-mid="url(#m87)" marker-end="url(#m87)"/><path d="M1245 473 1224 426 1282 478 1216 560 1336 476 1249 537 1274 495 1197 500 1237 508 1194 534 1181 423 1338 449 1351 466 1226 488 1303 476 1293 540 1299 446 1326 480 1307 452 1233 533 1273 550 1209 473 1200 449 1244 430 1212 510 1270 536 1316 472 1240 439 1195 471 1224 500 1259 488 1202 452 1247 507 1230 553 1370 465 1200 469 1176 502 1224 524 1201 543 1275 533 1207 561 1202 552 1216 433 1232 476 1363 460 1253 431 1230 545 1177 449 1251 564 1214 517 1297 447 1304 455 1219 472 1246 529 1326 482 1216 441 1200 439 1272 526 1191 501 1268 443 1167 505 1233 525 1232 561 1269 536 1265 542 1358 457 1197 506 1262 459 1254 460 1325 461 1298 469 1203 443 1334 463 1255 575 1279 467 1200 536 1317 490 1319 477 1266 481 1260 530 1174 500 1166 445 1265 572 1252 451 1272 479 1185 472 1205 442 1317 458 1185 547 1214 520 1172 508 1386 462 1221 487 1243 526 1211 522 1202 540 1267 452 1242 472 1322 460 1277 504 1201 453 1256 540 1303 447 1198 449 1208 558 1200 438 1167 472 1228 493 1328 516 1275 443 1217 474 1305 453 1236 482 1280 536 1266 439 1201 436" marker-start="url(#m85)" marker-mid="url(#m85)" marker-end="url(#m85)"/><path d="M1328 492 1181 526 1282 474 1227 472 1229 462 1257 575 1306 526 1309 499 1218 485 1261 533 1254 456 1378 471 1167 461 1386 471 1215 548 1316 450 1343 501 1245 480 1218 560 1219 514 1222 460 1231 529 1229 442 1239 574 1212 520 1299 527 1270 474 1196 556 1281 488 1247 523 1191 494 1245 536 1297 469 1262 524 1245 558 1202 465 1256 488 1315 473 1193 461 1292 506 1342 453 1326 490 1257 501 1366 469 1287 450 1259 564 1252 486 1173 543 1184 524 1236 447 1228 436 1281 543 1315 508 1232 574 1302 499 1234 527 1250 558 1229 477 1315 515 1167 447 1253 576 1254 437 1243 444 1190 502 1263 510 1201 524 1263 473 1203 486 1233 578 1233 511 1326 488 1242 446 1219 487 1172 473 1247 529 1318 449 1209 542 1198 516 1210 431 1307 453 1211 495 1328 473 1186 551 1168 504 1325 456 1253 469 1274 502 1254 533 1327 465 1228 448 1264 476 1270 437 1213 553 1276 502 1186 525 1294 541 1290 499 1297 501 1248 466 1302 534 1305 455 1354 457 1199 458 1257 551 1315 476 1247 572 1178 484 1193 423 1269 534 1218 545 1227 488 1315 528 1312 501 1313 462 1346 475 1242 541" marker-start="url(#m80)" marker-mid="url(#m80)" marker-end="url(#m80)"/><path d="M1264 542 1229 458 1189 438 1215 533 1389 464 1224 458 1184 438 1191 429 1220 443 1286 514 1312 507 1374 469 1283 515 1258 512 1204 511 1352 476 1178 413 1198 432 1315 445 1176 451 1199 475 1217 465 1228 465 1252 566 1200 528 1229 490 1239 571 1253 481 1317 516 1175 499 1339 496 1223 471 1222 455 1207 443 1380 458 1324 455 1281 480 1238 522 1186 455 1319 477 1197 423 1322 463 1264 533 1224 493 1237 548 1209 437 1207 554 1292 443 1320 494 1234 554 1260 512 1287 510 1332 453 1369 475 1215 477 1195 558 1235 493 1302 531 1305 476 1259 445 1246 454 1179 527 1265 496 1173 517 1168 413 1210 482 1208 453 1313 449 1263 488 1293 505 1200 444 1297 467 1227 514 1231 498 1182 551 1307 492 1169 449 1305 447 1287 509 1292 476 1354 452 1228 450 1216 437 1211 430 1203 464 1338 480 1355 466 1289 445 1278 448 1289 505 1227 455 1312 497 1224 448 1255 543 1176 501 1173 525 1259 523 1319 471 1243 454 1281 527 1222 423 1168 421 1264 453 1346 471 1192 559" marker-start="url(#m81)" marker-mid="url(#m81)" marker-end="url(#m81)"/><path d="M1240 553 1195 456 1226 492 1270 485 1329 487 1266 543 1171 513 1186 465 1247 450 1176 496 1309 532 1188 519 1319 464 1181 449 1255 578 1175 502 1259 572 1298 473 1174 491 1222 442 1192 520 1283 471 1270 471 1237 449 1238 453 1297 488 1237 478 1304 451 1305 518 1219 547 1213 476 1302 492 1256 502 1202 508 1212 480 1341 493 1262 482 1183 488 1208 527 1316 462 1211 480 1296 490 1328 483 1365 459 1167 450 1179 508 1222 447 1307 494 1230 480 1191 418 1167 478 1310 478 1264 496 1255 485 1247 507 1215 493 1192 411 1297 457 1336 448 1217 502 1300 536 1213 559 1329 481 1310 502 1255 509 1266 573 1213 489 1336 461 1310 508 1226 510 1191 426 1167 456 1390 470 1174 430 1274 500 1176 417 1183 422 1192 428 1209 449 1307 489 1214 549 1229 465 1187 449 1337 485 1186 513 1340 487 1225 441 1235 448 1190 418 1291 479 1249 460 1207 526 1185 497 1275 459 1268 492 1248 557 1217 435 1205 507 1240 519 1194 465 1201 549 1245 471 1182 445 1290 546 1193 511 1262 463 1205 462 1286 493 1188 508 1169 446 1319 446 1281 481 1265 475 1263 534 1205 567 1266 462 1357 460 1217 440 1172 430 1246 523 1295 540 1310 493 1270 541 1294 539 1195 494 1249 441 1266 515 1186 454 1286 497 1183 427 1219 538 1310 449 1382 459 1296 503 1227 571 1323 492 1201 474 1296 529 1283 437 1202 526 1230 449 1201 517 1269 444 1321 469 1337 484 1182 447 1279 529 1222 542 1187 458 1340 465 1176 451 1190 537 1194 444 1377 465 1237 528 1293 487 1267 560 1283 474 1189 481 1321 453 1207 460 1245 574 1249 440 1294 529 1209 475 1170 432 1270 448 1185 463 1177 498 1281 514 1200 533 1289 447 1230 465 1259 565 1170 446 1261 514 1214 473 1279 472 1299 465 1371 465 1205 504 1173 462 1291 491 1325 493 1171 478 1308 481 1226 550 1313 518 1225 500 1190 523 1245 479 1271 467 1205 556 1240 474 1187 543 1284 521 1222 437 1171 424 1200 537 1209 511 1339 457 1196 465 1185 505 1236 442 1170 497 1257 469 1247 522 1238 537 1206 536 1222 489 1231 499 1227 487 1334 450 1242 449 1260 577 1179 413 1265 525 1193 445 1203 532 1206 527 1284 456 1251 441 1356 456 1261 448 1239 502 1327 489 1212 562 1195 504 1212 469 1188 421 1233 431 1233 534 1343 465 1321 472 1245 524 1321 463 1271 484 1223 576 1299 537 1274 551 1285 523 1173 532 1241 445 1271 559 1311 494 1226 447 1368 472 1195 427 1251 440 1237 452 1196 485 1376 459 1172 490 1302 506 1214 440 1257 478 1315 465 1363 454 1263 491" marker-start="url(#m79)" marker-mid="url(#m79)" marker-end="url(#m79)"/><path d="M1261 579 1399 459 1172 459 1165 452 1364 479 1279 432 1202 418 1398 457 1372 474 1323 446 1292 546 1319 451 1292 445 1288 437 1252 429 1166 480 1378 454 1266 568 1294 446 1334 515 1298 442 1166 481 1197 566 1171 538 1197 410 1323 445 1167 450 1320 520 1165 512 1195 558 1369 479 1252 579 1376 475 1276 434 1195 570 1293 534 1167 498 1165 506 1203 412 1190 565 1246 577 1326 520 1340 509 1165 494 1305 537 1353 449 1362 448 1356 484 1286 550 1186 410 1198 412 1371 472 1243 576 1223 427 1245 428 1171 558 1369 473 1323 445" marker-start="url(#m2)" marker-mid="url(#m2)" marker-end="url(#m2)"/><path d="M1164 487 1215 574 1380 456 1207 422 1289 433 1179 556 1378 456 1165 519 1303 440 1173 551 1345 496 1170 535 1305 440 1334 511 1319 527 1165 466 1168 493 1299 539 1374 475 1157 438 1353 453 1306 436 1315 529 1299 536 1297 439 1168 467 1355 494 1382 455 1195 563 1381 455 1382 472 1179 406 1382 460 1229 432 1256 433 1195 413 1167 425 1164 493 1247 427 1258 436 1251 425 1167 443 1175 524 1310 448 1169 544 1172 419 1377 471 1257 579 1168 499 1171 515 1246 429 1374 473 1269 567 1206 570 1171 521 1304 531 1327 519 1189 413 1236 576" marker-start="url(#m88)" marker-mid="url(#m88)" marker-end="url(#m88)"/><path d="M1169 518 1344 447 1344 497 1311 449 1241 427 1170 446 1208 580 1297 549 1218 422 1366 461 1353 491 1165 519 1300 535 1329 512 1399 459 1218 428 1192 416 1248 579 1380 474 1342 503 1189 412 1175 523 1258 431 1371 459 1168 437 1322 524 1164 440 1267 428 1204 417 1238 430 1216 420 1274 567 1344 501 1377 451 1310 445 1320 529 1333 446 1401 469 1346 508 1168 537 1363 478 1170 431 1336 518 1280 555 1323 450 1396 465 1164 457 1170 438 1265 574 1340 514 1353 488 1314 529 1248 431 1165 416 1267 433 1258 432 1166 448 1403 456 1166 476 1347 486 1344 448 1217 571 1366 456 1339 508 1188 559 1229 417 1235 579 1284 558 1247 426 1282 553 1166 492 1161 481 1378 456 1165 494 1165 519 1344 446 1162 473 1265 570 1369 449 1173 552 1183 405 1249 428 1170 439 1239 580 1261 581 1320 523 1299 531 1286 556 1247 430 1319 524 1342 499 1242 577 1170 411 1162 483 1381 470 1321 527 1172 550 1180 415 1292 536 1242 433 1171 418 1159 476 1172 513" marker-start="url(#m89)" marker-mid="url(#m89)" marker-end="url(#m89)"/><path d="M1417 471 1405 475 1384 464 1381 458 1395 460 1380 462 1386 500 1396 497 1392 472 1417 459 1385 463 1413 476 1417 492 1397 479 1413 477 1414 483 1386 489 1395 459 1412 499 1409 473 1380 455 1411 492 1391 493" marker-start="url(#m2)" marker-mid="url(#m2)" marker-end="url(#m2)"/><path d="M1392 496 1383 468 1395 455 1382 462 1386 466 1389 490 1405 485 1403 500 1409 495 1390 467 1400 488 1405 459 1416 473 1412 495 1418 462 1390 476 1398 496 1409 466 1405 465 1387 467 1398 493 1404 462 1408 482" marker-start="url(#m89)" marker-mid="url(#m89)" marker-end="url(#m89)"/><path d="M1403 462 1413 469 1381 463 1415 466 1396 460 1397 466 1404 490 1390 461 1405 463 1393 492 1399 471 1405 456 1392 483 1417 486" marker-start="url(#m88)" marker-mid="url(#m88)" marker-end="url(#m88)"/><path d="M1343 449 1215 443 1359 454 1286 443 1218 434 1285 436 1308 453 1231 427 1281 436 1281 448 1361 450 1195 435 1268 438 1268 436 1311 437 1296 445 1210 427 1298 436 1255 434 1200 421 1200 417 1271 438 1214 437 1251 430 1336 454 1323 456 1271 439 1220 430 1232 435 1216 444 1259 443 1240 447" marker-start="url(#m0)" marker-mid="url(#m0)" marker-end="url(#m0)"/><path d="M1312 450 1335 459 1198 436 1250 444 1294 437 1212 437 1218 418 1291 433 1359 452 1288 446 1224 427 1210 437 1364 449 1237 424 1320 452 1195 437 1233 429 1195 415 1233 444 1233 428 1223 445 1232 428 1192 412 1260 435 1227 436 1345 448 1215 432 1240 445 1228 446 1269 447 1367 456 1304 454 1279 453 1203 440 1363 455 1340 454 1335 450 1291 450 1197 426 1329 444 1193 424 1280 447 1357 447 1380 453 1277 450 1355 451 1235 443 1270 442" marker-start="url(#m1)" marker-mid="url(#m1)" marker-end="url(#m1)"/><path d="M1167 437 1169 456 1152 453 1157 434 1166 501 1153 451 1154 508 1167 476 1168 488 1164 489 1166 546 1155 550 1162 457 1154 521 1156 436 1165 463 1168 454 1168 496 1159 487 1153 474 1155 552 1165 556 1157 552 1164 473 1158 475 1163 499 1168 556 1153 454 1160 436 1150 499 1167 525 1159 430" marker-start="url(#m89)" marker-mid="url(#m89)" marker-end="url(#m89)"/><path d="M1158 517 1161 501 1151 533 1169 481 1150 519 1159 532 1153 540 1153 525 1162 505 1150 552 1165 418 1162 455 1165 422 1170 504 1168 510 1158 482 1156 422 1149 473 1158 466 1150 469 1164 471 1157 507 1157 477 1165 475 1162 499 1162 501 1156 459 1154 491" marker-start="url(#m2)" marker-mid="url(#m2)" marker-end="url(#m2)"/><path d="M1201 391 1178 394 1171 387 1195 401 1186 404 1180 395 1165 410 1174 385" marker-start="url(#m89)" marker-mid="url(#m89)" marker-end="url(#m89)"/><path d="M1173 408 1162 388 1196 399 1201 397" marker-start="url(#m2)" marker-mid="url(#m2)" marker-end="url(#m2)"/><path d="M1256 457 1339 460 1283 462 1294 460 1289 442 1221 444 1237 442 1345 452 1290 458 1237 450 1205 444 1299 450 1220 437 1303 451 1318 446" marker-start="url(#m90)" marker-mid="url(#m90)" marker-end="url(#m90)"/><path d="M1283 453 1215 437 1221 448 1219 441 1253 444 1260 439 1229 436 1250 448 1224 446 1340 458" marker-start="url(#m91)" marker-mid="url(#m91)" marker-end="url(#m91)"/><path d="M1148 546 1146 541 1197 574 1192 559 1240 579 1148 570 1154 556 1175 552 1166 553 1219 579 1252 561 1200 571 1298 575 1302 570 1158 579 1195 569 1153 543 1301 565 1190 557 1201 569 1294 563 1162 551 1195 571 1252 574 1152 545 1165 563 1152 570 1192 572" marker-start="url(#m1)" marker-mid="url(#m1)" marker-end="url(#m1)"/><path d="M1189 563 1285 571 1282 565 1252 574 1287 573 1188 566 1260 565 1175 559 1323 563 1164 563 1309 555 1320 554 1164 560 1317 572 1319 561 1248 576 1299 559" marker-start="url(#m73)" marker-mid="url(#m73)" marker-end="url(#m73)"/><path d="M1187 557 1152 561 1184 563 1225 571 1243 576 1222 570 1155 545 1294 560 1170 552 1300 573 1241 560 1321 553 1199 574 1249 573 1216 572" marker-start="url(#m0)" marker-mid="url(#m0)" marker-end="url(#m0)"/><path d="M1335 558 1394 561 1438 574 1348 576 1395 555 1432 562" marker-start="url(#m97)" marker-mid="url(#m97)" marker-end="url(#m97)"/><path d="M1347 576 1394 561 1401 557 1384 565 1438 568 1395 555 1405 562 1381 572 1393 571 1344 562 1327 559 1374 562 1341 558 1390 556 1438 557 1367 568 1348 555 1331 568" marker-start="url(#m95)" marker-mid="url(#m95)" marker-end="url(#m95)"/><path d="M1416 564 1381 566 1343 577 1371 565 1369 575 1412 561 1374 563 1340 563 1351 573 1434 563 1437 557 1422 568" marker-start="url(#m8)" marker-mid="url(#m8)" marker-end="url(#m8)"/><path d="M1352 574 1330 565 1394 576 1385 564 1427 567 1386 554 1379 570 1436 563 1356 561" marker-start="url(#m3)" marker-mid="url(#m3)" marker-end="url(#m3)"/><path d="M1389 561 1401 549 1414 547 1399 544 1395 564 1388 551 1386 563 1415 562 1388 550 1404 559 1382 550 1405 568" marker-start="url(#m88)" marker-mid="url(#m88)" marker-end="url(#m88)"/><path d="M1404 561 1414 544 1415 549 1403 552 1415 547 1404 547 1399 568 1391 568 1408 543 1396 573 1404 565 1415 560 1400 548 1413 539 1385 566 1382 550 1400 558 1385 560 1408 544 1393 541 1401 548 1410 536 1404 537" marker-start="url(#m98)" marker-mid="url(#m98)" marker-end="url(#m98)"/><path d="M1387 548 1406 551 1405 546 1406 568 1415 563 1396 558 1403 539 1408 564 1411 542 1398 548" marker-start="url(#m99)" marker-mid="url(#m99)" marker-end="url(#m99)"/></g>
<polyline points="1005.7,513.1 1013.4,512.3 1021.1,511.5 1028.8,510.7 1036.5,510 1044.2,509.2 1051.8,508.4 1059.5,507.5 1067.2,506.7 1074.9,505.9 1082.6,505 1090.3,504.2 1098,503.3 1105.7,502.4 1113.4,501.5 1121,500.6 1128.7,499.7 1136.4,498.8 1144.1,497.9 1151.8,496.9 1159.5,495.9 1167.2,495 1174.9,494 1182.6,493 1190.3,492 1198,491 1205.6,489.9 1213.3,488.9 1221,487.8 1228.7,486.8 1236.4,485.7 1244.1,484.6 1251.8,483.5 1259.5,482.3 1267.2,481.2 1274.8,480.1 1282.5,478.9 1290.2,477.7 1297.9,476.5 1305.6,475.3 1313.3,474.1 1321,472.8 1328.7,471.6 1336.4,470.3 1344.1,469 1351.8,467.7 1359.4,466.4 1367.1,465 1374.8,463.7 1382.5,462.3 1390.2,460.9 1397.9,459.5 1405.6,458.1 1413.3,456.7 1421,455.2 1428.7,453.7 1436.3,452.2 1444,450.7 1451.7,449.2 1459.4,447.6 1467.1,446.1 1474.8,444.5 1482.5,442.9 1490.2,441.2 1497.9,439.6 1505.6,437.9 1513.2,436.2 1520.9,434.5 1528.6,432.8 1536.3,431 1544,429.3 1551.7,427.5 1559.4,425.6 1567.1,423.8 1574.8,421.9 1582.5,420.1 1590.1,418.1 1597.8,416.2 1605.5,414.2 1613.2,412.3 1620.9,410.3 1628.6,408.2 1636.3,406.2 1644,404.1 1651.7,402 1659.3,399.8 1667,397.7 1674.7,395.5 1682.4,393.3 1690.1,391 1697.8,388.7 1705.5,386.5 1713.2,384.1 1720.9,381.8 1728.6,379.4 1736.2,377 1743.9,374.5 1751.6,372 1759.3,369.5 1767,367 1774.7,364.4" fill="none" stroke="#ef4a2a" stroke-width="2"/>
<path d="M1005.7 758.3v-8M1005.7 22.2v8M1021.1 758.3v-8M1021.1 22.2v8M1036.5 758.3v-8M1036.5 22.2v8M1051.8 758.3v-8M1051.8 22.2v8M1067.2 758.3v-8M1067.2 22.2v8M1082.6 758.3v-15M1082.6 22.2v15M1098 758.3v-8M1098 22.2v8M1113.4 758.3v-8M1113.4 22.2v8M1128.7 758.3v-8M1128.7 22.2v8M1144.1 758.3v-8M1144.1 22.2v8M1159.5 758.3v-8M1159.5 22.2v8M1174.9 758.3v-8M1174.9 22.2v8M1190.3 758.3v-8M1190.3 22.2v8M1205.6 758.3v-8M1205.6 22.2v8M1221 758.3v-8M1221 22.2v8M1236.4 758.3v-15M1236.4 22.2v15M1251.8 758.3v-8M1251.8 22.2v8M1267.2 758.3v-8M1267.2 22.2v8M1282.5 758.3v-8M1282.5 22.2v8M1297.9 758.3v-8M1297.9 22.2v8M1313.3 758.3v-8M1313.3 22.2v8M1328.7 758.3v-8M1328.7 22.2v8M1344.1 758.3v-8M1344.1 22.2v8M1359.4 758.3v-8M1359.4 22.2v8M1374.8 758.3v-8M1374.8 22.2v8M1390.2 758.3v-15M1390.2 22.2v15M1405.6 758.3v-8M1405.6 22.2v8M1421 758.3v-8M1421 22.2v8M1436.3 758.3v-8M1436.3 22.2v8M1451.7 758.3v-8M1451.7 22.2v8M1467.1 758.3v-8M1467.1 22.2v8M1482.5 758.3v-8M1482.5 22.2v8M1497.9 758.3v-8M1497.9 22.2v8M1513.2 758.3v-8M1513.2 22.2v8M1528.6 758.3v-8M1528.6 22.2v8M1544 758.3v-15M1544 22.2v15M1559.4 758.3v-8M1559.4 22.2v8M1574.8 758.3v-8M1574.8 22.2v8M1590.1 758.3v-8M1590.1 22.2v8M1605.5 758.3v-8M1605.5 22.2v8M1620.9 758.3v-8M1620.9 22.2v8M1636.3 758.3v-8M1636.3 22.2v8M1651.7 758.3v-8M1651.7 22.2v8M1667 758.3v-8M1667 22.2v8M1682.4 758.3v-8M1682.4 22.2v8M1697.8 758.3v-15M1697.8 22.2v15M1713.2 758.3v-8M1713.2 22.2v8M1728.6 758.3v-8M1728.6 22.2v8M1743.9 758.3v-8M1743.9 22.2v8M1759.3 758.3v-8M1759.3 22.2v8M1774.7 758.3v-8M1774.7 22.2v8M1005.7 758.3h15M1774.7 758.3h-15M1005.7 739.9h8M1774.7 739.9h-8M1005.7 721.5h8M1774.7 721.5h-8M1005.7 703.1h8M1774.7 703.1h-8M1005.7 684.7h8M1774.7 684.7h-8M1005.7 666.3h8M1774.7 666.3h-8M1005.7 647.9h8M1774.7 647.9h-8M1005.7 629.5h8M1774.7 629.5h-8M1005.7 611.1h8M1774.7 611.1h-8M1005.7 592.7h8M1774.7 592.7h-8M1005.7 574.3h15M1774.7 574.3h-15M1005.7 555.9h8M1774.7 555.9h-8M1005.7 537.5h8M1774.7 537.5h-8M1005.7 519.1h8M1774.7 519.1h-8M1005.7 500.7h8M1774.7 500.7h-8M1005.7 482.3h8M1774.7 482.3h-8M1005.7 463.9h8M1774.7 463.9h-8M1005.7 445.5h8M1774.7 445.5h-8M1005.7 427.1h8M1774.7 427.1h-8M1005.7 408.7h8M1774.7 408.7h-8M1005.7 390.2h15M1774.7 390.2h-15M1005.7 371.8h8M1774.7 371.8h-8M1005.7 353.4h8M1774.7 353.4h-8M1005.7 335h8M1774.7 335h-8M1005.7 316.6h8M1774.7 316.6h-8M1005.7 298.2h8M1774.7 298.2h-8M1005.7 279.8h8M1774.7 279.8h-8M1005.7 261.4h8M1774.7 261.4h-8M1005.7 243h8M1774.7 243h-8M1005.7 224.6h8M1774.7 224.6h-8M1005.7 206.2h15M1774.7 206.2h-15M1005.7 187.8h8M1774.7 187.8h-8M1005.7 169.4h8M1774.7 169.4h-8M1005.7 151h8M1774.7 151h-8M1005.7 132.6h8M1774.7 132.6h-8M1005.7 114.2h8M1774.7 114.2h-8M1005.7 95.8h8M1774.7 95.8h-8M1005.7 77.4h8M1774.7 77.4h-8M1005.7 59h8M1774.7 59h-8M1005.7 40.6h8M1774.7 40.6h-8M1005.7 22.2h15M1774.7 22.2h-15" stroke="#111" stroke-width="2.6" fill="none"/>
<rect x="1005.7" y="22.2" width="769" height="736.1" fill="none" stroke="#111" stroke-width="3" stroke-linejoin="round"/>
<text transform="translate(995.7 43.2) scale(1.1 1)" text-anchor="end" class="tl">3</text>
<text transform="translate(995.7 217.2) scale(1.1 1)" text-anchor="end" class="tl">2</text>
<text transform="translate(995.7 401.2) scale(1.1 1)" text-anchor="end" class="tl">1</text>
<text transform="translate(995.7 585.3) scale(1.1 1)" text-anchor="end" class="tl">0</text>
<text transform="translate(995.7 758.3) scale(1.1 1)" text-anchor="end" class="tl">-1</text>
<text transform="translate(1082.6 802.8) scale(1.1 1)" text-anchor="middle" class="tl">-30</text>
<text transform="translate(1236.4 802.8) scale(1.1 1)" text-anchor="middle" class="tl">-20</text>
<text transform="translate(1390.2 802.8) scale(1.1 1)" text-anchor="middle" class="tl">-10</text>
<text transform="translate(1544 802.8) scale(1.1 1)" text-anchor="middle" class="tl">0</text>
<text transform="translate(1697.8 802.8) scale(1.1 1)" text-anchor="middle" class="tl">10</text>
<text x="1390.2" y="840.3" text-anchor="middle" class="al">Z [dBZ]</text>
<text transform="translate(938.7 390.2) rotate(-90) scale(1.05 1)" text-anchor="middle" class="al">V<tspan class="sub" dy="8">T</tspan><tspan dy="-8"> [m/s]</tspan></text>
<text x="1048.9" y="101.5" class="ti" textLength="262.4" lengthAdjust="spacingAndGlyphs">(b) 10 min</text>
<text x="1474.7" y="92.7" class="eq" textLength="64" lengthAdjust="spacingAndGlyphs">Vt =</text>
<text x="1559.7" y="92.7" class="eq" textLength="101" lengthAdjust="spacingAndGlyphs">0.788Z</text>
<text x="1667.7" y="76" class="eq sup" textLength="47.5" lengthAdjust="spacingAndGlyphs">0.107</text>
<text transform="translate(1644 516.2) scale(1.12 1)" class="lg">0.0</text>
<text transform="translate(1644 542.9) scale(1.12 1)" class="lg">0.1</text>
<text transform="translate(1644 569.6) scale(1.12 1)" class="lg">0.2</text>
<text transform="translate(1644 596.3) scale(1.12 1)" class="lg">0.3</text>
<text transform="translate(1644 623) scale(1.12 1)" class="lg">0.4</text>
<text transform="translate(1644 649.7) scale(1.12 1)" class="lg">0.5</text>
<text transform="translate(1644 676.4) scale(1.12 1)" class="lg">0.6</text>
<text transform="translate(1644 703.1) scale(1.12 1)" class="lg">0.7</text>
<circle cx="1723.2" cy="509.6" r="3.8" fill="none" stroke="#333" stroke-width="1.7"/>
<circle cx="1723.2" cy="536.3" r="6.9" fill="none" stroke="#333" stroke-width="1.7"/>
<circle cx="1723.2" cy="563" r="9.5" fill="none" stroke="#333" stroke-width="1.7"/>
<circle cx="1723.2" cy="589.7" r="12.6" fill="none" stroke="#333" stroke-width="1.7"/>
<circle cx="1723.2" cy="616.4" r="15.9" fill="none" stroke="#333" stroke-width="1.7"/>
<circle cx="1723.2" cy="643.1" r="19" fill="none" stroke="#333" stroke-width="1.7"/>
<circle cx="1723.2" cy="669.8" r="22" fill="none" stroke="#333" stroke-width="1.7"/>
<circle cx="1723.2" cy="696.5" r="24.8" fill="none" stroke="#333" stroke-width="1.7"/>
</g>
<g>
<g fill="none"><path d="M445 1134 460 1132 477 1125 450 1168 464 1177 423 1181 428 1220" marker-start="url(#m3)" marker-mid="url(#m3)" marker-end="url(#m3)"/><path d="M434 1132 413 1199 383 1220 383 1224 398 1224 415 1224 387 1248 206 1280 210 1296 228 1287" marker-start="url(#m4)" marker-mid="url(#m4)" marker-end="url(#m4)"/><path d="M282 1180 267 1191 300 1187 261 1202 260 1213 276 1212 270 1205 292 1210" marker-start="url(#m0)" marker-mid="url(#m0)" marker-end="url(#m0)"/><path d="M284 1199 285 1196 282 1194 286 1202" marker-start="url(#m1)" marker-mid="url(#m1)" marker-end="url(#m1)"/><path d="M284 1205 286 1199 281 1199 284 1200 290 1194 281 1196 281 1196 290 1196 281 1201 283 1203 283 1200 285 1199 286 1198 281 1192 279 1195 287 1199 288 1200 281 1204 285 1201 288 1197 278 1198" marker-start="url(#m0)" marker-mid="url(#m0)" marker-end="url(#m0)"/><path d="M299 1187 306 1212 317 1226 327 1227 327 1232" marker-start="url(#m1)" marker-mid="url(#m1)" marker-end="url(#m1)"/><path d="M301 1188 300 1194 301 1195 303 1197 305 1199 305 1201 305 1207 307 1204 307 1210 307 1214 309 1219 310 1220 316 1223 313 1223 319 1226 322 1229 328 1234" marker-start="url(#m0)" marker-mid="url(#m0)" marker-end="url(#m0)"/><path d="M322 1239 320 1243 320 1248 321 1249 326 1251 322 1260 324 1262 321 1266 324 1269 324 1272 325 1273 324 1278" marker-start="url(#m0)" marker-mid="url(#m0)" marker-end="url(#m0)"/><path d="M319 1240 319 1255" marker-start="url(#m1)" marker-mid="url(#m1)" marker-end="url(#m1)"/><path d="M283 1267 316 1272 303 1247 255 1269 287 1246 301 1249 303 1278 259 1253 287 1253 264 1280 281 1243 303 1259" marker-start="url(#m1)" marker-mid="url(#m1)" marker-end="url(#m1)"/><path d="M318 1273 266 1265 281 1265 289 1258 301 1259 323 1250 315 1268 305 1245 315 1251 263 1245 275 1258 265 1239 284 1271 253 1262 297 1263 305 1259 261 1271 250 1273 336 1268 273 1270 305 1268 294 1249 334 1260" marker-start="url(#m0)" marker-mid="url(#m0)" marker-end="url(#m0)"/><path d="M287 1238 283 1203 282 1253" marker-start="url(#m2)" marker-mid="url(#m2)" marker-end="url(#m2)"/><path d="M390 1237 374 1243 390 1239 417 1247 407 1241 389 1248 379 1234 405 1245 395 1241 408 1251 422 1251 400 1239 391 1252" marker-start="url(#m19)" marker-mid="url(#m19)" marker-end="url(#m19)"/><path d="M374 1242 402 1244 375 1250 388 1234 384 1251 385 1240 402 1245 393 1236 397 1236 398 1244 410 1244 389 1252" marker-start="url(#m20)" marker-mid="url(#m20)" marker-end="url(#m20)"/><path d="M606 1210 557 1215 493 1215 426 1263 461 1201 565 1213 451 1250 532 1255 574 1201 464 1273 403 1261 492 1209 421 1248 430 1260 558 1223" marker-start="url(#m7)" marker-mid="url(#m7)" marker-end="url(#m7)"/><path d="M550 1225 453 1256 532 1224 490 1227 481 1249 388 1210 590 1209 461 1189 547 1222 478 1269 505 1263 448 1185" marker-start="url(#m100)" marker-mid="url(#m100)" marker-end="url(#m100)"/><path d="M409 1232 426 1236 556 1208 603 1230 603 1199 561 1241 502 1255 472 1204 561 1203 487 1198 483 1241 424 1264 392 1251 447 1189 420 1252 553 1203 415 1268 429 1237 433 1189 571 1233" marker-start="url(#m10)" marker-mid="url(#m10)" marker-end="url(#m10)"/><path d="M582 1189 472 1211 434 1214 459 1237 582 1191 460 1203 425 1270 392 1243 590 1193 515 1234 526 1193 518 1207 517 1216 559 1229 465 1248 438 1199 582 1233 489 1234 429 1262" marker-start="url(#m9)" marker-mid="url(#m9)" marker-end="url(#m9)"/><path d="M457 1243 446 1263 511 1238 466 1259" marker-start="url(#m3)" marker-mid="url(#m3)" marker-end="url(#m3)"/><path d="M477 1257 505 1218 444 1220 506 1200 455 1242 445 1208 518 1218" marker-start="url(#m102)" marker-mid="url(#m102)" marker-end="url(#m102)"/><path d="M531 1235 462 1224 531 1238 522 1201 499 1248 485 1223 497 1221 458 1232 448 1247" marker-start="url(#m103)" marker-mid="url(#m103)" marker-end="url(#m103)"/><path d="M460 1222 452 1208 496 1246 473 1233 478 1222 529 1234 458 1234 531 1242 489 1240" marker-start="url(#m104)" marker-mid="url(#m104)" marker-end="url(#m104)"/><path d="M486 1222 483 1253 471 1242 496 1227 475 1242 517 1225 457 1213 474 1230" marker-start="url(#m105)" marker-mid="url(#m105)" marker-end="url(#m105)"/><path d="M483 1240 512 1246 469 1232 470 1250 461 1241 478 1257 508 1213" marker-start="url(#m106)" marker-mid="url(#m106)" marker-end="url(#m106)"/><path d="M627 1182 629 1176 619 1183 622 1171 616 1175 618 1179 612 1182 616 1180 615 1186 611 1177" marker-start="url(#m107)" marker-mid="url(#m107)" marker-end="url(#m107)"/><path d="M621 1180 606 1173 600 1182 625 1180 622 1174" marker-start="url(#m108)" marker-mid="url(#m108)" marker-end="url(#m108)"/><path d="M606 1184 606 1180 602 1180" marker-start="url(#m109)" marker-mid="url(#m109)" marker-end="url(#m109)"/><path d="M584 1245 591 1245 606 1245 611 1244 614 1244 618 1244 626 1246 627 1247 632 1239 641 1245 643 1245 657 1245 659 1244 664 1246" marker-start="url(#m110)" marker-mid="url(#m110)" marker-end="url(#m110)"/><path d="M592 1246 602 1245" marker-start="url(#m111)" marker-mid="url(#m111)" marker-end="url(#m111)"/><path d="M597 1246 599 1245 637 1243 646 1245 654 1243" marker-start="url(#m101)" marker-mid="url(#m101)" marker-end="url(#m101)"/><path d="M625.8 1201.2 L640.3 1199.2 L655.3 1201.2 L656.3 1209.2 L640.3 1213.2 L625.8 1214.2 Z" fill="#14926a"/><path d="M627 1213 638 1197" marker-start="url(#m112)" marker-mid="url(#m112)" marker-end="url(#m112)"/><path d="M620 1212 636 1196" marker-start="url(#m113)" marker-mid="url(#m113)" marker-end="url(#m113)"/><path d="M641 1210 652 1203" marker-start="url(#m27)" marker-mid="url(#m27)" marker-end="url(#m27)"/><path d="M621 1221 644 1216" marker-start="url(#m26)" marker-mid="url(#m26)" marker-end="url(#m26)"/><path d="M643 1219" marker-start="url(#m25)" marker-mid="url(#m25)" marker-end="url(#m25)"/><path d="M663 1211 620 1213" marker-start="url(#m33)" marker-mid="url(#m33)" marker-end="url(#m33)"/><path d="M621 1221 667 1200" marker-start="url(#m30)" marker-mid="url(#m30)" marker-end="url(#m30)"/><path d="M637 1204 642 1198 624 1214 639 1200 621 1214 627 1195 636 1215" marker-start="url(#m114)" marker-mid="url(#m114)" marker-end="url(#m114)"/><path d="M628 1209 642 1204 662 1206" marker-start="url(#m31)" marker-mid="url(#m31)" marker-end="url(#m31)"/><path d="M641 1215" marker-start="url(#m115)" marker-mid="url(#m115)" marker-end="url(#m115)"/><path d="M666 1210 623 1215 630 1199 670 1205 627 1198 646 1203 623 1218" marker-start="url(#m39)" marker-mid="url(#m39)" marker-end="url(#m39)"/><path d="M619 1205 624 1210" marker-start="url(#m116)" marker-mid="url(#m116)" marker-end="url(#m116)"/><path d="M639 1216 620 1197 617 1213" marker-start="url(#m35)" marker-mid="url(#m35)" marker-end="url(#m35)"/><path d="M636 1211 636 1220" marker-start="url(#m37)" marker-mid="url(#m37)" marker-end="url(#m37)"/><path d="M640 1210" marker-start="url(#m117)" marker-mid="url(#m117)" marker-end="url(#m117)"/><path d="M611 1215 663 1198 677 1214 619 1197 668 1199 628 1220 615 1199 672 1214 620 1224" marker-start="url(#m40)" marker-mid="url(#m40)" marker-end="url(#m40)"/><path d="M629 1217 634 1199 608 1214 629 1192 650 1219 641 1196 657 1211 674 1203" marker-start="url(#m41)" marker-mid="url(#m41)" marker-end="url(#m41)"/><path d="M618 1200 663 1212 650 1199" marker-start="url(#m15)" marker-mid="url(#m15)" marker-end="url(#m15)"/><path d="M618 1196 609 1199 659 1216 659 1215 632 1197 666 1206 671 1206 612 1211 629 1190 620 1217 631 1218 646 1218 674 1209" marker-start="url(#m18)" marker-mid="url(#m18)" marker-end="url(#m18)"/><path d="M649 1191 620 1199 666 1208 620 1199 658 1213 654 1218 663 1197" marker-start="url(#m23)" marker-mid="url(#m23)" marker-end="url(#m23)"/><path d="M667 1199 684 1207 688 1202 697 1202 698 1201 704 1199 712 1205 715 1204" marker-start="url(#m49)" marker-mid="url(#m49)" marker-end="url(#m49)"/><path d="M673 1199 677 1203" marker-start="url(#m48)" marker-mid="url(#m48)" marker-end="url(#m48)"/><path d="M680 1201 688 1201 689 1203 708 1204 709 1202" marker-start="url(#m59)" marker-mid="url(#m59)" marker-end="url(#m59)"/><path d="M698 1203" marker-start="url(#m52)" marker-mid="url(#m52)" marker-end="url(#m52)"/><path d="M716 1201 719 1200 699 1202" marker-start="url(#m58)" marker-mid="url(#m58)" marker-end="url(#m58)"/><path d="M712 1195 706 1208 711 1212 714 1212" marker-start="url(#m59)" marker-mid="url(#m59)" marker-end="url(#m59)"/><path d="M716 1207 711 1207 715 1203" marker-start="url(#m48)" marker-mid="url(#m48)" marker-end="url(#m48)"/><path d="M706 1199 711 1194 709 1208 705 1197 718 1208 714 1196" marker-start="url(#m49)" marker-mid="url(#m49)" marker-end="url(#m49)"/><path d="M720 1206 715 1212 707 1208 703 1199" marker-start="url(#m52)" marker-mid="url(#m52)" marker-end="url(#m52)"/><path d="M247 1307 234 1307 250 1300 244 1302 262 1343 262 1322 222 1305 259 1320 260 1315 254 1305 228 1336 264 1332 225 1325 222 1295 247 1332 231 1307 253 1316 216 1321 266 1336" marker-start="url(#m5)" marker-mid="url(#m5)" marker-end="url(#m5)"/><path d="M223 1332 247 1340 224 1332 251 1314 219 1307 270 1341 226 1290 260 1337 243 1291 217 1298 220 1302 265 1292 251 1332 232 1288 270 1296 229 1290 254 1327 238 1337 262 1293 266 1288 247 1322 236 1320 256 1342 235 1301 248 1315 271 1307" marker-start="url(#m6)" marker-mid="url(#m6)" marker-end="url(#m6)"/><path d="M245 1331 258 1328 262 1331 262 1311 247 1302 261 1341 238 1326 240 1301 248 1321 270 1302 261 1313 249 1289 258 1334 259 1326" marker-start="url(#m1)" marker-mid="url(#m1)" marker-end="url(#m1)"/><path d="M265 1307 271 1329 247 1339 237 1288 262 1320 249 1333 273 1326 264 1302 274 1326 249 1295 252 1342 242 1331 258 1317 249 1313 242 1297 237 1318" marker-start="url(#m0)" marker-mid="url(#m0)" marker-end="url(#m0)"/><path d="M529.2 1276 L548.2 1272 L571.2 1270 L590.2 1273 L613.7 1269 L622.7 1276 L623.7 1281.5 L613.7 1288 L599.2 1292.5 L585.2 1297.5 L571.2 1302 L557.2 1306.5 L543.2 1311.5 L529.2 1316 Z" fill="#14926a"/><path d="M576 1273 544 1267 492 1325 594 1260 580 1295 525 1290 642 1259 507 1330 508 1320 648 1251 548 1254 622 1273 594 1258 659 1272 576 1258 556 1277 609 1262 597 1276 587 1257 517 1295 488 1263 525 1300 506 1302 618 1257 505 1259 622 1288 636 1269 483 1295 634 1286 539 1261 481 1295 508 1307 555 1259 578 1296" marker-start="url(#m28)" marker-mid="url(#m28)" marker-end="url(#m28)"/><path d="M622 1283 563 1307 550 1287 597 1271 608 1284 586 1262 578 1304 565 1284 501 1264 585 1296 635 1274 491 1316 601 1298 495 1308 650 1280 628 1260 645 1289 561 1254 586 1284" marker-start="url(#m29)" marker-mid="url(#m29)" marker-end="url(#m29)"/><path d="M582 1284 483 1298 491 1274 637 1278 504 1283 554 1269 488 1290 517 1259 544 1291 645 1261 553 1285 505 1280 585 1282 568 1276" marker-start="url(#m26)" marker-mid="url(#m26)" marker-end="url(#m26)"/><path d="M620 1280 523 1264 498 1289 641 1264 509 1294 586 1300 637 1252 566 1307 486 1269 590 1263 614 1265 538 1292 593 1301 553 1287 577 1277 645 1254 576 1284 491 1291 666 1272 507 1305 538 1277 663 1264 588 1256 576 1284 487 1277 577 1298 580 1290" marker-start="url(#m27)" marker-mid="url(#m27)" marker-end="url(#m27)"/><path d="M492 1322 546 1321 553 1272 627 1287 560 1313 656 1269 518 1267 604 1273 639 1285 556 1262 503 1288 546 1303 620 1266 562 1290 502 1275 506 1317 622 1289 532 1266 590 1272 575 1303 663 1268 586 1265 548 1295 491 1318" marker-start="url(#m25)" marker-mid="url(#m25)" marker-end="url(#m25)"/><path d="M522 1283 662 1263 500 1328 618 1282 653 1278 538 1293 546 1318 532 1280 500 1281 573 1285 586 1259 633 1291 511 1266 510 1304 547 1271 490 1271 624 1268 601 1301 491 1276 544 1256 498 1290 489 1321 613 1279 541 1283 546 1314 592 1289 498 1280 568 1263 596 1293" marker-start="url(#m36)" marker-mid="url(#m36)" marker-end="url(#m36)"/><path d="M494 1271 550 1314 505 1273 562 1289 630 1277 538 1274 649 1260 645 1266 489 1325 519 1298 490 1317 619 1289 555 1302 496 1338 492 1280 542 1319 522 1260 557 1283 486 1292 509 1299 576 1290 637 1284 654 1258 531 1325 648 1271 626 1255 597 1283 482 1311 613 1287 564 1253 488 1288 522 1297" marker-start="url(#m37)" marker-mid="url(#m37)" marker-end="url(#m37)"/><path d="M561 1267 613 1289 570 1294 575 1280 501 1265 541 1285 524 1263 565 1303 506 1309 647 1282 539 1311 596 1279 510 1262 537 1283 501 1310 580 1291 507 1330 491 1335 482 1290 495 1323 501 1270 575 1296 530 1307 611 1280 608 1285 585 1281 552 1293 560 1302 495 1308 563 1261 562 1286" marker-start="url(#m35)" marker-mid="url(#m35)" marker-end="url(#m35)"/><path d="M500 1309 482 1335 502 1278 573 1270 600 1262 541 1322 606 1299 493 1298 566 1281 598 1270 487 1322 655 1275 499 1285" marker-start="url(#m38)" marker-mid="url(#m38)" marker-end="url(#m38)"/><path d="M505 1278 488 1311 629 1270 665 1272 584 1288 618 1275 505 1323 485 1332 491 1274 650 1263 508 1319 626 1285 568 1296" marker-start="url(#m39)" marker-mid="url(#m39)" marker-end="url(#m39)"/><path d="M502 1304 570 1277 563 1271 554 1259 586 1305 601 1304 557 1307 643 1257 599 1260 582 1272 628 1268 543 1307 640 1257 660 1260" marker-start="url(#m32)" marker-mid="url(#m32)" marker-end="url(#m32)"/><path d="M518 1330 649 1276 646 1266 622 1293 588 1264 491 1276 542 1308 584 1282 560 1293 553 1256 577 1263 508 1303 586 1267 585 1280 495 1272 640 1286 608 1290 494 1327 660 1276 510 1300 506 1291 503 1321" marker-start="url(#m31)" marker-mid="url(#m31)" marker-end="url(#m31)"/><path d="M583 1259 568 1262 656 1259 600 1273 483 1278 499 1316 498 1312 556 1276 576 1265 491 1309 596 1287 591 1290 659 1271 635 1261 519 1316 491 1340 528 1280 612 1282 538 1278 555 1296 597 1274 504 1301 539 1273 525 1324 545 1304 549 1298 586 1272 533 1322 510 1313" marker-start="url(#m34)" marker-mid="url(#m34)" marker-end="url(#m34)"/><path d="M489 1335 618 1261 578 1310 577 1267 527 1319 489 1330 512 1312 496 1274 583 1256 581 1308 500 1261 633 1255 600 1263 523 1316 625 1254 500 1317 548 1270 512 1329 496 1308 493 1322 596 1294 526 1321 610 1295 532 1282 505 1304 548 1307 604 1267 493 1293 582 1268 580 1300" marker-start="url(#m33)" marker-mid="url(#m33)" marker-end="url(#m33)"/><path d="M544 1293 525 1305 562 1309 534 1273 574 1288 586 1302 559 1259 569 1261 610 1261 503 1285 502 1313" marker-start="url(#m30)" marker-mid="url(#m30)" marker-end="url(#m30)"/><path d="M624 1300 514 1340 655 1281 524 1331 564 1325 661 1275 615 1298 528 1253 478 1260 626 1251 494 1339 564 1250 624 1250 661 1253 490 1345 518 1337" marker-start="url(#m22)" marker-mid="url(#m22)" marker-end="url(#m22)"/><path d="M585 1262 547 1320 529 1328 623 1257 518 1330 589 1308 633 1248 508 1330 506 1261 546 1317 512 1264 666 1264 547 1259 581 1248 548 1318 517 1331 665 1272 668 1277 491 1258 574 1257 635 1258 541 1254 484 1344 479 1342 638 1290 480 1309 656 1284 574 1312 623 1252 565 1313 632 1255 510 1262" marker-start="url(#m24)" marker-mid="url(#m24)" marker-end="url(#m24)"/><path d="M489 1342 587 1260 653 1285 482 1279 489 1340 577 1318 546 1255 479 1335 613 1253 579 1249 571 1256 493 1265 561 1315 489 1289 497 1343 656 1280 509 1333 541 1325 473 1271 538 1330 474 1344 506 1337" marker-start="url(#m40)" marker-mid="url(#m40)" marker-end="url(#m40)"/><path d="M557 1253 500 1336 575 1256 490 1342 518 1328 486 1326 484 1259 553 1321 577 1311 607 1260 639 1293 538 1322 643 1291" marker-start="url(#m41)" marker-mid="url(#m41)" marker-end="url(#m41)"/><path d="M658 1263 555 1256 629 1253 641 1291 482 1319 668 1271 641 1248 479 1284 497 1343 479 1262 645 1246 483 1340 668 1263 506 1332 550 1244 618 1293 635 1252 520 1255 526 1262 564 1317 650 1253 507 1340 529 1258 539 1328 529 1335 480 1296 553 1312 477 1341 483 1314 552 1319 483 1340 565 1314 596 1309 656 1292 622 1295 556 1321 654 1256" marker-start="url(#m23)" marker-mid="url(#m23)" marker-end="url(#m23)"/><path d="M616 1295 606 1295 635 1298 625 1301 630 1319 606 1315 618 1306 637 1311 617 1309 619 1313 607 1315 640 1303 631 1325 637 1299 609 1300" marker-start="url(#m52)" marker-mid="url(#m52)" marker-end="url(#m52)"/><path d="M635 1327 635 1323 607 1313 645 1316 619 1301 625 1323 642 1311 618 1326 640 1308 643 1312 630 1330 619 1295 625 1291 626 1326 627 1306" marker-start="url(#m59)" marker-mid="url(#m59)" marker-end="url(#m59)"/><path d="M606 1299 607 1303 639 1330 633 1294 640 1317 635 1310 610 1300 623 1332 634 1312 622 1292 641 1312 615 1304 619 1299" marker-start="url(#m48)" marker-mid="url(#m48)" marker-end="url(#m48)"/><path d="M637 1306 611 1317 616 1296 630 1298 629 1310 616 1304 619 1325 625 1327 619 1325 605 1300 616 1300" marker-start="url(#m58)" marker-mid="url(#m58)" marker-end="url(#m58)"/><path d="M626 1329 621 1297 619 1315 626 1322 634 1316 621 1313" marker-start="url(#m49)" marker-mid="url(#m49)" marker-end="url(#m49)"/><path d="M574 1316 548 1323 584 1324 550 1322 553 1320 561 1318 586 1308 594 1311 595 1324 573 1324 575 1325 571 1312 561 1312" marker-start="url(#m13)" marker-mid="url(#m13)" marker-end="url(#m13)"/><path d="M580 1317 583 1313 554 1330 580 1315 588 1309" marker-start="url(#m11)" marker-mid="url(#m11)" marker-end="url(#m11)"/><path d="M553 1313 560 1314 561 1321" marker-start="url(#m14)" marker-mid="url(#m14)" marker-end="url(#m14)"/><path d="M585 1322 573 1315 565 1318 589 1324 573 1316 591 1325 599 1327 576 1323 587 1308 551 1320 595 1323 562 1322 555 1327 574 1317" marker-start="url(#m12)" marker-mid="url(#m12)" marker-end="url(#m12)"/><path d="M508 1332 509 1334 516 1343 523 1350 535 1356 539 1363 549 1365 555 1370" marker-start="url(#m48)" marker-mid="url(#m48)" marker-end="url(#m48)"/><path d="M510 1340 518 1343 526 1353 529 1352 528 1356 538 1359 541 1365 562 1380" marker-start="url(#m49)" marker-mid="url(#m49)" marker-end="url(#m49)"/><path d="M546 1365" marker-start="url(#m50)" marker-mid="url(#m50)" marker-end="url(#m50)"/><path d="M553 1377 559 1378" marker-start="url(#m52)" marker-mid="url(#m52)" marker-end="url(#m52)"/><path d="M491 1362 501 1371 493 1360 501 1345 517 1347 494 1361 495 1347 515 1373 496 1351" marker-start="url(#m14)" marker-mid="url(#m14)" marker-end="url(#m14)"/><path d="M489 1363 498 1350 509 1345 509 1353 495 1346 495 1351 500 1354 519 1368 491 1371 500 1366 523 1371" marker-start="url(#m13)" marker-mid="url(#m13)" marker-end="url(#m13)"/><path d="M503 1368 510 1353 522 1363 524 1361 524 1346 506 1366 505 1354" marker-start="url(#m118)" marker-mid="url(#m118)" marker-end="url(#m118)"/><path d="M513 1368 490 1354 511 1364" marker-start="url(#m12)" marker-mid="url(#m12)" marker-end="url(#m12)"/><path d="M355.4 1286.6 L375.4 1288.1 L393.9 1293.6 L412.9 1295.6 L431.4 1298.1 L445.4 1295.6 L463.9 1290.6 L463.9 1313.1 L450.4 1320.6 L431.4 1315.6 L412.9 1310.6 L393.9 1305.6 L370.4 1303.1 L350.4 1300.6 Z" fill="#109a36"/><path d="M370 1295 362 1304 507 1303 432 1313 386 1305 328 1302 469 1308 323 1285 505 1284 406 1308 458 1322 426 1313 482 1336 392 1298 497 1299 512 1300" marker-start="url(#m69)" marker-mid="url(#m69)" marker-end="url(#m69)"/><path d="M341 1285 356 1282 516 1325 394 1296 501 1299 403 1301 510 1318 379 1307 447 1326 329 1278 512 1282 392 1292 340 1276 330 1293 509 1291 339 1277 382 1293 502 1312 476 1310 495 1309 312 1284 438 1310 476 1323 454 1296 409 1292 320 1290 515 1316 490 1338 344 1281 485 1332 449 1304 382 1294 492 1313 322 1297 510 1317 473 1318 499 1292 383 1307 510 1324 413 1309 343 1282 475 1335 294 1298 314 1299 471 1306 341 1291 497 1327 361 1281 499 1296 481 1319 435 1313 469 1313" marker-start="url(#m67)" marker-mid="url(#m67)" marker-end="url(#m67)"/><path d="M367 1301 357 1282 390 1308 491 1322 473 1309 308 1288 349 1283 476 1322 346 1306 348 1286 475 1312 315 1282 398 1293 301 1279 336 1298 479 1317 323 1295 418 1291 381 1302 462 1326 463 1323 439 1307 453 1306 486 1308" marker-start="url(#m68)" marker-mid="url(#m68)" marker-end="url(#m68)"/><path d="M356 1294 489 1336 403 1289 478 1298 345 1295 300 1280 330 1302 492 1334 444 1324 425 1321 510 1325 402 1312 481 1310 452 1308 490 1307 423 1298 408 1295 508 1314 433 1302 320 1283 515 1302 306 1295 433 1297" marker-start="url(#m72)" marker-mid="url(#m72)" marker-end="url(#m72)"/><path d="M401 1309 477 1317 446 1319 396 1292 432 1318 478 1294 441 1303 484 1329 460 1328 338 1297 487 1321 471 1325 334 1285 316 1277 501 1306 481 1320 444 1312 384 1302 508 1309 395 1312 406 1315" marker-start="url(#m70)" marker-mid="url(#m70)" marker-end="url(#m70)"/><path d="M445 1306 503 1308 364 1286 479 1332 483 1334 484 1312 511 1286 478 1298 453 1326 426 1303 425 1299 309 1274 508 1321 329 1275 444 1302 322 1278 459 1309 403 1314 326 1296 302 1301 516 1316 454 1320 475 1332 516 1287 366 1298 340 1280 315 1277 509 1287 442 1322 374 1306 343 1297 324 1288 515 1322 415 1294 325 1301 494 1303 408 1298 348 1301 308 1298 512 1291 440 1317 308 1285 308 1276 449 1298 443 1318 323 1296 397 1310 347 1301 391 1303 409 1318 452 1301 362 1306 417 1312 494 1318 353 1298 352 1305 295 1293 512 1317 498 1307 504 1309" marker-start="url(#m71)" marker-mid="url(#m71)" marker-end="url(#m71)"/><path d="M473 1332 441 1309 436 1321 361 1304 448 1326 486 1327 356 1301 342 1293 373 1297 480 1297 363 1286 387 1301 510 1295 319 1302 484 1334 413 1301 292 1300 413 1308 328 1305 357 1282 444 1325" marker-start="url(#m65)" marker-mid="url(#m65)" marker-end="url(#m65)"/><path d="M351 1300 345 1287 370 1303 492 1315 482 1315 448 1322 338 1297 361 1296 478 1301 342 1296 482 1298 509 1308 360 1303 318 1292 321 1287 482 1326 393 1289 488 1310 393 1308 407 1292 378 1310 442 1308 353 1304 400 1316 510 1287 425 1292 505 1314 446 1305 299 1298 387 1312 465 1309 336 1287 491 1309 468 1322 433 1307 482 1296 477 1291 458 1307 347 1282 442 1295 339 1277 420 1316 441 1296 408 1301 301 1284 415 1304 436 1311 426 1321 514 1291 439 1323 301 1278 399 1288 502 1304 348 1283 428 1321 314 1289 393 1309 478 1328 423 1318 477 1316" marker-start="url(#m64)" marker-mid="url(#m64)" marker-end="url(#m64)"/><path d="M483 1332 470 1295 462 1295 509 1308 462 1305 402 1291 329 1275 504 1285 349 1280 364 1302 474 1321 466 1313 395 1296 385 1300 480 1297 352 1280 406 1312 516 1282 340 1305 360 1303 306 1292 384 1307 485 1333 430 1316 512 1318 308 1290 441 1305 426 1292 489 1322 300 1283 383 1293 357 1299 502 1287" marker-start="url(#m66)" marker-mid="url(#m66)" marker-end="url(#m66)"/><path d="M319 1271 520 1283 454 1336 441 1326 353 1285 301 1304 516 1293 344 1280 493 1343 416 1293 304 1303 324 1278 503 1339 388 1283 366 1314 518 1279 360 1278 501 1290 411 1323 291 1302 514 1275 434 1325 495 1336 479 1285 496 1282 367 1307 461 1294 310 1302 520 1311 449 1294 498 1337 467 1332 473 1295 370 1301 328 1309 295 1273 520 1282 518 1300 428 1287 402 1317 380 1304 484 1336 409 1318 298 1272 355 1306 351 1279 293 1292 318 1307" marker-start="url(#m1)" marker-mid="url(#m1)" marker-end="url(#m1)"/><path d="M463 1299 320 1278 484 1292 501 1288 459 1293 329 1272 345 1277 415 1287 444 1292 311 1302 304 1280 323 1304 311 1302 435 1295 335 1281 287 1291 325 1310 459 1300 325 1269 469 1336 337 1281 377 1301 356 1308 392 1294 302 1299 338 1301 336 1283 519 1328 523 1293" marker-start="url(#m0)" marker-mid="url(#m0)" marker-end="url(#m0)"/><path d="M517 1287 487 1339 373 1308 439 1294 405 1288 362 1282 465 1289 322 1303 296 1293 523 1281 483 1339 349 1274 435 1322 318 1311 486 1347 411 1288 389 1288 352 1305 376 1307 503 1339 507 1282 422 1333 470 1337" marker-start="url(#m73)" marker-mid="url(#m73)" marker-end="url(#m73)"/><path d="M350 1286 357 1292 461 1286 453 1293 412 1288 392 1296 380 1281 367 1287 354 1287" marker-start="url(#m90)" marker-mid="url(#m90)" marker-end="url(#m90)"/><path d="M343 1285 400 1285 358 1299 430 1293 416 1289 378 1297 342 1286 360 1280 433 1284 437 1298 379 1291 431 1298" marker-start="url(#m77)" marker-mid="url(#m77)" marker-end="url(#m77)"/><path d="M393 1292 375 1291 432 1295 356 1296" marker-start="url(#m91)" marker-mid="url(#m91)" marker-end="url(#m91)"/><path d="M327 1314.1 L341 1310.1 L360 1311.6 L378.5 1315.1 L397.5 1318.1 L416 1322.6 L435 1328.1 L435 1334.1 L416 1341.6 L405 1351.6 L397 1361.6 L380 1369.1 L369 1371.6 L355 1366.6 L340 1356.6 L327.5 1339.1 Z" fill="#cc1a06"/><path d="M379 1297 388 1333 334 1363 441 1307 433 1325 409 1356 426 1335 358 1357 484 1322 377 1299 294 1348 319 1358 383 1310 310 1344 308 1300 369 1385 437 1307 291 1334 312 1356 400 1347 351 1350 439 1315 342 1313 320 1322 406 1339 454 1325 404 1342 459 1331 355 1319 309 1316 296 1356 370 1299 428 1311 314 1372 380 1323 358 1350 346 1387 341 1288 417 1330 388 1295 337 1311 457 1327 468 1333 279 1344 367 1328 309 1290 442 1343 338 1392 305 1315 405 1361 339 1313 296 1293 386 1374 371 1356 400 1345 359 1386 458 1322 280 1316 374 1361 438 1311 359 1318 369 1358 346 1311" marker-start="url(#m81)" marker-mid="url(#m81)" marker-end="url(#m81)"/><path d="M355 1335 345 1296 362 1304 307 1290 378 1325 368 1397 448 1336 351 1392 345 1356 349 1292 443 1335 327 1333 324 1320 305 1290 309 1375 355 1301 328 1325 344 1307 459 1338 320 1307 376 1318 372 1291 298 1355 416 1323 362 1338 355 1362 472 1317 282 1309 294 1324 475 1330 278 1329 387 1392 397 1375 327 1289 382 1366 340 1382 303 1349 324 1388 354 1399 337 1307 316 1315 301 1356 312 1351 286 1336 463 1316 362 1385 383 1380 350 1375" marker-start="url(#m80)" marker-mid="url(#m80)" marker-end="url(#m80)"/><path d="M287 1322 362 1343 340 1356 398 1330 290 1346 431 1307 416 1354 331 1298 305 1354 291 1356 436 1317 356 1354 357 1394 386 1301 416 1343 453 1321 348 1314 401 1355 329 1331 301 1352 444 1308 396 1323 323 1390 321 1353 413 1300 422 1300 442 1325 468 1336 329 1324 380 1338 326 1349 373 1310 409 1322 378 1386 328 1313 312 1292 317 1329 351 1311 278 1303 340 1365 340 1285 405 1357 275 1326 461 1324 358 1336 329 1371 360 1403 480 1317 471 1315 456 1334 303 1300 347 1308 427 1359 390 1311 345 1362 392 1323 311 1307 335 1351 365 1312 383 1385 309 1338 355 1394 283 1314 310 1372 487 1318 279 1344 366 1369 454 1318 375 1400 372 1351 393 1381 375 1401 384 1315 352 1308 406 1351 391 1316 355 1353 383 1335 365 1321 339 1356 432 1331 406 1330 378 1308 320 1320 391 1358 296 1365 304 1346 405 1378 279 1337 301 1342 398 1333 328 1348 471 1313 422 1325 383 1312 375 1362 383 1397 407 1343 485 1329 377 1366 465 1314 353 1379 331 1297 468 1321 390 1333 363 1316 322 1353 411 1317 372 1366 433 1308 319 1296 319 1363 348 1292 368 1348 399 1349 354 1396 393 1299 449 1309 379 1337 341 1353 356 1393 433 1333 284 1344 380 1366 284 1294 331 1355 410 1297 482 1316 326 1354 394 1333 402 1385 339 1398 411 1341 338 1298 374 1358 472 1322 372 1310 372 1350 389 1334 439 1315 371 1324 378 1395 424 1351" marker-start="url(#m79)" marker-mid="url(#m79)" marker-end="url(#m79)"/><path d="M343 1288 386 1361 354 1347 430 1323 347 1318 336 1286 417 1367 400 1325 342 1290 352 1369 328 1347 330 1312 305 1297 326 1339 453 1326 332 1295 305 1292 352 1361 340 1290 290 1331 486 1328 356 1376 287 1320 385 1333 426 1314 396 1388 334 1315 325 1329 297 1309 376 1398 389 1310 359 1352 343 1315 411 1346 463 1333 325 1302 359 1370 376 1401 392 1305 459 1313 397 1369 290 1287 307 1298 326 1375 361 1352 337 1337 358 1341 340 1350 311 1365 330 1327 349 1347 382 1326 483 1319 288 1324 452 1344 326 1288 398 1355 375 1326 430 1303 461 1314 360 1379 390 1340 347 1303" marker-start="url(#m87)" marker-mid="url(#m87)" marker-end="url(#m87)"/><path d="M351 1316 328 1385 418 1304 316 1329 327 1306 287 1292 315 1362 378 1379 374 1321 375 1341 346 1321 431 1358 427 1324 433 1329 474 1316 389 1373 411 1366 330 1324 436 1314 350 1291 328 1390 305 1283 400 1372 435 1307 349 1334 276 1309 427 1366 366 1336 295 1311 420 1359 375 1369 366 1363 288 1354 361 1398 333 1353 372 1353 418 1318 306 1310 351 1302 309 1349 388 1326 468 1326 339 1350 436 1322 377 1386 320 1300 311 1329 460 1340 417 1349 333 1388 390 1309 361 1326 293 1301 393 1310 384 1383 345 1325 318 1356 487 1322 377 1366 298 1341 311 1325 359 1323 363 1338 330 1358 387 1314 288 1318 345 1289 381 1358 355 1359 292 1324 444 1351 438 1306 369 1339 373 1376 362 1375 329 1361 384 1325 432 1306 373 1392 394 1305 404 1378 371 1334 331 1374 311 1362 285 1290 419 1359 387 1295 368 1324 296 1298 410 1361 347 1388 314 1374 385 1304 352 1323 427 1336 422 1346 314 1352 391 1364 313 1359 293 1310 410 1370 331 1347 404 1378 277 1338 441 1313 321 1339 393 1328 293 1288 357 1289 359 1344 340 1293 422 1331 336 1308 350 1390 330 1353 337 1392 454 1321 436 1324" marker-start="url(#m86)" marker-mid="url(#m86)" marker-end="url(#m86)"/><path d="M329 1370 363 1329 329 1394 413 1342 433 1334 359 1399 311 1296 403 1343 447 1338 384 1389 403 1355 401 1364 349 1343 335 1317 340 1300 404 1305 405 1317 341 1346 321 1316 351 1361 358 1371 356 1292 377 1331 294 1329 370 1313 340 1294 294 1320 404 1336 373 1365 397 1374 340 1369 327 1320 342 1314 402 1321 312 1335 338 1323 323 1316 425 1362 489 1327 471 1323 292 1343 324 1358 391 1311 311 1319 377 1356 297 1300 315 1284 364 1292 344 1371 310 1290 435 1308 378 1386 488 1327 467 1312 346 1367" marker-start="url(#m85)" marker-mid="url(#m85)" marker-end="url(#m85)"/><path d="M332 1374 446 1326 319 1368 388 1344 405 1349 345 1350 461 1331 307 1353 423 1358 351 1331 365 1332 404 1345 375 1359 320 1385 323 1337 317 1376 309 1376 308 1320 373 1318 356 1388 295 1323 312 1345 358 1319 341 1377 401 1372 314 1367 377 1323 361 1352 319 1314 378 1379 322 1365 320 1384 303 1309 426 1354 423 1362 390 1345 456 1329 282 1340 388 1355 305 1350 324 1289 385 1351 360 1356 399 1353 359 1329 343 1350 388 1355 299 1294 368 1383 399 1309 398 1334 279 1298 355 1360 338 1287 278 1325 355 1301 400 1330 296 1315 332 1301 348 1301 416 1353 374 1393 355 1321 395 1311 403 1338 413 1329 351 1361 398 1329 316 1355 355 1294 305 1308 310 1292 374 1329 368 1373 355 1309 300 1335 414 1330 298 1310 438 1332 403 1361 294 1307 344 1366 386 1306 375 1399 308 1306 334 1377 354 1336 336 1317 295 1364 330 1296 302 1313 371 1314 343 1388 427 1313 355 1373 373 1398 342 1294 370 1298 312 1292 394 1311 336 1384 409 1359 483 1318 302 1358 463 1324 358 1371 367 1315 346 1369 444 1309 303 1370" marker-start="url(#m82)" marker-mid="url(#m82)" marker-end="url(#m82)"/><path d="M358 1390 324 1333 386 1344 330 1387 394 1321 481 1328 303 1301 413 1354 359 1345 324 1351 430 1312 341 1342 381 1297 340 1328 466 1323 407 1321 376 1296 367 1362 417 1338 417 1362 364 1331 408 1321 361 1339 298 1361 323 1374 306 1284 420 1350 353 1370 451 1317 328 1331 356 1376 466 1335 384 1382 352 1295 348 1349 405 1362 385 1341 409 1342 342 1310 409 1381 295 1301 432 1349 294 1366 306 1336 446 1335 383 1379 385 1381 423 1310 408 1342 314 1332 320 1309" marker-start="url(#m83)" marker-mid="url(#m83)" marker-end="url(#m83)"/><path d="M467 1314 473 1332 394 1318 398 1312 316 1346 377 1395 293 1307 371 1365 309 1334 316 1379 418 1358 409 1365 338 1385 395 1315 319 1318 387 1304 327 1391 440 1326 364 1335 448 1343 359 1378 288 1297 371 1325 401 1301 403 1307 347 1314 411 1298 391 1388 316 1326 461 1312 399 1386 295 1351 299 1290 357 1333 355 1383 371 1350 350 1396 340 1306 382 1391 397 1307 448 1348 417 1318 317 1371 281 1341 460 1327 360 1318 372 1318 386 1306 416 1302 369 1342" marker-start="url(#m84)" marker-mid="url(#m84)" marker-end="url(#m84)"/><path d="M330 1386 278 1351 389 1398 492 1322 325 1288 478 1335 275 1325 452 1304 313 1284 403 1391 386 1404 327 1392 354 1403 272 1304 322 1389 344 1399 272 1313 281 1297 314 1279 306 1379 313 1381 275 1291 302 1283 383 1300 282 1287 452 1344 321 1284 310 1376 343 1279 425 1370 424 1304 271 1335 379 1296 291 1361 274 1293 296 1287 395 1297 424 1302 419 1376 392 1293 493 1314 379 1396 473 1314 442 1347 411 1382 434 1363 413 1383 292 1364 345 1290 347 1408 446 1303 267 1292 412 1303 455 1305 319 1280 340 1279 276 1289 289 1359 390 1404 344 1403 272 1324 274 1323 463 1312 466 1305 298 1285 319 1286 338 1285 454 1345 435 1351 443 1351 491 1317 364 1400 418 1298 344 1402 269 1329 276 1288 291 1365 348 1289 273 1337 302 1274 301 1380 448 1308 452 1297" marker-start="url(#m89)" marker-mid="url(#m89)" marker-end="url(#m89)"/><path d="M295 1371 323 1279 474 1332 308 1386 275 1326 297 1365 308 1285 425 1371 410 1383 488 1316 299 1368 375 1393 421 1372 421 1363 295 1354 427 1374 354 1287 297 1284 488 1326 299 1375 403 1290 271 1312 292 1372 465 1337 444 1304 421 1297 437 1366 396 1290 399 1390 290 1365 350 1291 450 1312 269 1328 266 1329 411 1386 395 1394 313 1379 291 1361 345 1401 272 1335 465 1313 468 1337 377 1403 396 1297" marker-start="url(#m88)" marker-mid="url(#m88)" marker-end="url(#m88)"/><path d="M307 1372 422 1302 391 1289 438 1303 316 1379 367 1402 453 1308 399 1298 408 1391 334 1290 343 1403 403 1294 359 1401 410 1391 489 1320 310 1281 383 1301 459 1341 462 1305 414 1380 292 1372 443 1350 277 1284 278 1339 278 1337 447 1312 396 1290 271 1305 321 1382 488 1335 274 1300 416 1304 364 1288 461 1306 275 1326 445 1361 275 1295 283 1334 378 1401 490 1318 437 1297 417 1380 485 1327" marker-start="url(#m2)" marker-mid="url(#m2)" marker-end="url(#m2)"/><path d="M314 1413 329 1416 284 1400 295 1407 321 1401 289 1368 336 1400 318 1401 330 1417 298 1404 343 1399 275 1373 319 1398 306 1407 273 1379 287 1369 308 1410 282 1369 281 1361 297 1386 314 1394 306 1390 276 1375 321 1407 301 1389 268 1361 316 1395 285 1386 330 1412 327 1403 302 1395 268 1362 313 1380 288 1367 323 1419 276 1377 328 1401 281 1392 283 1390 290 1385 335 1403 323 1402 270 1371 323 1393 286 1387 265 1376 304 1404 298 1379 348 1410 302 1396 287 1386 289 1398 315 1411 303 1395 330 1402 298 1376 278 1367 265 1371 295 1391 266 1361 313 1407 300 1393 332 1405 347 1412 276 1393 268 1372 335 1394 320 1400 320 1400 286 1373 278 1386 352 1408 325 1416 311 1398 312 1393" marker-start="url(#m89)" marker-mid="url(#m89)" marker-end="url(#m89)"/><path d="M320 1384 326 1413 330 1390 311 1380 277 1379 276 1362 301 1374 273 1360 278 1385 290 1371 280 1372 347 1407 281 1393 338 1407 330 1410 335 1392 319 1387 268 1377 314 1406 279 1382 288 1370 320 1390 295 1394 313 1402 301 1398 330 1401 320 1386 308 1394 268 1361 314 1397 294 1405 330 1403 315 1410 343 1413 282 1387 324 1403 321 1406 289 1371 267 1360 303 1396 296 1371 283 1391 296 1393 317 1407 299 1400" marker-start="url(#m2)" marker-mid="url(#m2)" marker-end="url(#m2)"/><path d="M424 1291 336 1292 435 1306 352 1283 351 1282 393 1303 419 1300 367 1297 338 1301 453 1299 380 1296 386 1303 319 1281 410 1302 403 1294 410 1310 299 1285 385 1303 427 1304 281 1300 294 1291 383 1299 322 1299 305 1285 438 1308 401 1300 370 1300 384 1300 377 1285 354 1291 435 1295 326 1290 290 1300 348 1296 325 1298 307 1295" marker-start="url(#m0)" marker-mid="url(#m0)" marker-end="url(#m0)"/><path d="M285 1285 346 1281 442 1313 448 1307 354 1288 428 1304 382 1305 473 1313 445 1302 396 1299 353 1286 411 1304 455 1303 387 1306 424 1309 320 1298 384 1290 457 1307 295 1288 322 1281 389 1291 387 1290 463 1313 282 1284 337 1291 345 1300 388 1307 326 1288 380 1306 282 1283 454 1311 290 1292 320 1297 377 1289 426 1294 349 1280 373 1285 312 1300 467 1317 353 1298 363 1304 354 1287 429 1293 448 1317 287 1298 350 1294 321 1297 403 1300 310 1299 451 1304 398 1308 463 1303 451 1316 393 1291" marker-start="url(#m1)" marker-mid="url(#m1)" marker-end="url(#m1)"/><path d="M352 1322 355 1329 398 1300 311 1329 407 1299 385 1296 321 1322 447 1318 384 1331 350 1301 397 1307 378 1308 402 1312 325 1330 436 1309 450 1305 312 1310 308 1304" marker-start="url(#m91)" marker-mid="url(#m91)" marker-end="url(#m91)"/><path d="M423 1304 302 1328 384 1320 397 1328 314 1328 411 1323 307 1298 426 1309 373 1297 320 1316 441 1303 375 1307 431 1327 393 1335 436 1312 324 1308 388 1305 356 1313 311 1322 359 1329 416 1326 313 1302" marker-start="url(#m90)" marker-mid="url(#m90)" marker-end="url(#m90)"/><path d="M438 1369 422 1376 436 1401 430 1382 398 1416 426 1418 403 1406 417 1405 428 1411 448 1405" marker-start="url(#m77)" marker-mid="url(#m77)" marker-end="url(#m77)"/><path d="M436 1415 414 1414 430 1404 440 1396 404 1417 408 1370 397 1378 396 1392 420 1414 397 1387 424 1411 421 1371 448 1411" marker-start="url(#m90)" marker-mid="url(#m90)" marker-end="url(#m90)"/><path d="M408 1410 437 1391 428 1369 449 1375 400 1394 433 1402 420 1395" marker-start="url(#m91)" marker-mid="url(#m91)" marker-end="url(#m91)"/><path d="M481 1326 489 1340 490 1321 489 1332 492 1316 480 1319 492 1332 487 1341 482 1318 487 1323" marker-start="url(#m89)" marker-mid="url(#m89)" marker-end="url(#m89)"/><path d="M485 1340 485 1325 483 1337 481 1314 485 1339 482 1312 490 1344 495 1333 492 1336 487 1313" marker-start="url(#m2)" marker-mid="url(#m2)" marker-end="url(#m2)"/><path d="M442 1423 530 1408 416 1415 510 1409 524 1409 442 1407 425 1419 454 1407 444 1416 461 1405 486 1411 498 1409 469 1409 468 1406 458 1403 511 1420 488 1410 405 1406 440 1404 485 1412" marker-start="url(#m3)" marker-mid="url(#m3)" marker-end="url(#m3)"/><path d="M448 1403 410 1406 450 1415 456 1415 406 1407" marker-start="url(#m7)" marker-mid="url(#m7)" marker-end="url(#m7)"/><path d="M423 1422 528 1412 456 1412 501 1407 420 1408 540 1422 438 1410 535 1414 505 1416 434 1415" marker-start="url(#m95)" marker-mid="url(#m95)" marker-end="url(#m95)"/><path d="M486 1422 499 1415 463 1416 486 1415 505 1416 463 1404 484 1414 519 1413 455 1410 473 1420" marker-start="url(#m8)" marker-mid="url(#m8)" marker-end="url(#m8)"/><path d="M502 1414 490 1407 505 1404 519 1390 518 1404 495 1394 515 1400 498 1407 499 1390 494 1414 517 1398 497 1408 508 1409" marker-start="url(#m88)" marker-mid="url(#m88)" marker-end="url(#m88)"/><path d="M520 1416 497 1408 491 1410 498 1415 521 1398 529 1404 510 1398 524 1405" marker-start="url(#m99)" marker-mid="url(#m99)" marker-end="url(#m99)"/><path d="M509 1419 500 1418 494 1411 515 1396 502 1398 498 1387 530 1403 526 1413 514 1391 493 1391 501 1414 514 1384 506 1409 493 1410 494 1395 525 1405 497 1416 522 1385 521 1405" marker-start="url(#m98)" marker-mid="url(#m98)" marker-end="url(#m98)"/></g>
<polyline points="113.3,1364 121,1363.2 128.6,1362.5 136.3,1361.7 143.9,1360.9 151.6,1360.1 159.2,1359.3 166.9,1358.5 174.5,1357.7 182.2,1356.9 189.8,1356 197.5,1355.2 205.1,1354.3 212.8,1353.4 220.4,1352.5 228.1,1351.6 235.7,1350.7 243.4,1349.8 251,1348.9 258.7,1347.9 266.3,1347 274,1346 281.6,1345 289.3,1344 296.9,1343 304.6,1342 312.2,1341 319.9,1339.9 327.5,1338.9 335.2,1337.8 342.8,1336.7 350.5,1335.6 358.1,1334.5 365.8,1333.3 373.4,1332.2 381.1,1331 388.7,1329.9 396.4,1328.7 404,1327.5 411.7,1326.2 419.3,1325 427,1323.7 434.6,1322.5 442.3,1321.2 449.9,1319.9 457.6,1318.6 465.2,1317.2 472.9,1315.9 480.5,1314.5 488.2,1313.1 495.9,1311.7 503.5,1310.3 511.2,1308.8 518.8,1307.4 526.5,1305.9 534.1,1304.4 541.8,1302.9 549.4,1301.4 557.1,1299.8 564.7,1298.2 572.4,1296.6 580,1295 587.7,1293.4 595.3,1291.7 603,1290 610.6,1288.3 618.3,1286.6 625.9,1284.8 633.6,1283.1 641.2,1281.3 648.9,1279.5 656.5,1277.6 664.2,1275.8 671.8,1273.9 679.5,1272 687.1,1270 694.8,1268.1 702.4,1266.1 710.1,1264.1 717.7,1262 725.4,1260 733,1257.9 740.7,1255.8 748.3,1253.6 756,1251.5 763.6,1249.3 771.3,1247 778.9,1244.8 786.6,1242.5 794.2,1240.2 801.9,1237.8 809.5,1235.4 817.2,1233 824.8,1230.6 832.5,1228.1 840.1,1225.6 847.8,1223.1 855.4,1220.5 863.1,1218 870.7,1215.3 878.4,1212.7" fill="none" stroke="#ef4a2a" stroke-width="2"/>
<path d="M113.3 1606v-8M113.3 871.8v8M128.6 1606v-8M128.6 871.8v8M143.9 1606v-8M143.9 871.8v8M159.2 1606v-8M159.2 871.8v8M174.5 1606v-8M174.5 871.8v8M189.8 1606v-15M189.8 871.8v15M205.1 1606v-8M205.1 871.8v8M220.4 1606v-8M220.4 871.8v8M235.7 1606v-8M235.7 871.8v8M251 1606v-8M251 871.8v8M266.3 1606v-8M266.3 871.8v8M281.6 1606v-8M281.6 871.8v8M296.9 1606v-8M296.9 871.8v8M312.2 1606v-8M312.2 871.8v8M327.5 1606v-8M327.5 871.8v8M342.8 1606v-15M342.8 871.8v15M358.1 1606v-8M358.1 871.8v8M373.4 1606v-8M373.4 871.8v8M388.7 1606v-8M388.7 871.8v8M404 1606v-8M404 871.8v8M419.3 1606v-8M419.3 871.8v8M434.6 1606v-8M434.6 871.8v8M449.9 1606v-8M449.9 871.8v8M465.2 1606v-8M465.2 871.8v8M480.5 1606v-8M480.5 871.8v8M495.9 1606v-15M495.9 871.8v15M511.2 1606v-8M511.2 871.8v8M526.5 1606v-8M526.5 871.8v8M541.8 1606v-8M541.8 871.8v8M557.1 1606v-8M557.1 871.8v8M572.4 1606v-8M572.4 871.8v8M587.7 1606v-8M587.7 871.8v8M603 1606v-8M603 871.8v8M618.3 1606v-8M618.3 871.8v8M633.6 1606v-8M633.6 871.8v8M648.9 1606v-15M648.9 871.8v15M664.2 1606v-8M664.2 871.8v8M679.5 1606v-8M679.5 871.8v8M694.8 1606v-8M694.8 871.8v8M710.1 1606v-8M710.1 871.8v8M725.4 1606v-8M725.4 871.8v8M740.7 1606v-8M740.7 871.8v8M756 1606v-8M756 871.8v8M771.3 1606v-8M771.3 871.8v8M786.6 1606v-8M786.6 871.8v8M801.9 1606v-15M801.9 871.8v15M817.2 1606v-8M817.2 871.8v8M832.5 1606v-8M832.5 871.8v8M847.8 1606v-8M847.8 871.8v8M863.1 1606v-8M863.1 871.8v8M878.4 1606v-8M878.4 871.8v8M113.3 1606h15M878.4 1606h-15M113.3 1587.6h8M878.4 1587.6h-8M113.3 1569.3h8M878.4 1569.3h-8M113.3 1550.9h8M878.4 1550.9h-8M113.3 1532.6h8M878.4 1532.6h-8M113.3 1514.2h8M878.4 1514.2h-8M113.3 1495.9h8M878.4 1495.9h-8M113.3 1477.5h8M878.4 1477.5h-8M113.3 1459.2h8M878.4 1459.2h-8M113.3 1440.8h8M878.4 1440.8h-8M113.3 1422.5h15M878.4 1422.5h-15M113.3 1404.1h8M878.4 1404.1h-8M113.3 1385.7h8M878.4 1385.7h-8M113.3 1367.4h8M878.4 1367.4h-8M113.3 1349h8M878.4 1349h-8M113.3 1330.7h8M878.4 1330.7h-8M113.3 1312.3h8M878.4 1312.3h-8M113.3 1294h8M878.4 1294h-8M113.3 1275.6h8M878.4 1275.6h-8M113.3 1257.3h8M878.4 1257.3h-8M113.3 1238.9h15M878.4 1238.9h-15M113.3 1220.5h8M878.4 1220.5h-8M113.3 1202.2h8M878.4 1202.2h-8M113.3 1183.8h8M878.4 1183.8h-8M113.3 1165.5h8M878.4 1165.5h-8M113.3 1147.1h8M878.4 1147.1h-8M113.3 1128.8h8M878.4 1128.8h-8M113.3 1110.4h8M878.4 1110.4h-8M113.3 1092.1h8M878.4 1092.1h-8M113.3 1073.7h8M878.4 1073.7h-8M113.3 1055.3h15M878.4 1055.3h-15M113.3 1037h8M878.4 1037h-8M113.3 1018.6h8M878.4 1018.6h-8M113.3 1000.3h8M878.4 1000.3h-8M113.3 981.9h8M878.4 981.9h-8M113.3 963.6h8M878.4 963.6h-8M113.3 945.2h8M878.4 945.2h-8M113.3 926.9h8M878.4 926.9h-8M113.3 908.5h8M878.4 908.5h-8M113.3 890.2h8M878.4 890.2h-8M113.3 871.8h15M878.4 871.8h-15" stroke="#111" stroke-width="2.6" fill="none"/>
<rect x="113.3" y="871.8" width="765.1" height="734.2" fill="none" stroke="#111" stroke-width="3" stroke-linejoin="round"/>
<text transform="translate(103.3 892.8) scale(1.1 1)" text-anchor="end" class="tl">3</text>
<text transform="translate(103.3 1066.3) scale(1.1 1)" text-anchor="end" class="tl">2</text>
<text transform="translate(103.3 1249.9) scale(1.1 1)" text-anchor="end" class="tl">1</text>
<text transform="translate(103.3 1433.5) scale(1.1 1)" text-anchor="end" class="tl">0</text>
<text transform="translate(103.3 1606) scale(1.1 1)" text-anchor="end" class="tl">-1</text>
<text transform="translate(189.8 1650.5) scale(1.1 1)" text-anchor="middle" class="tl">-30</text>
<text transform="translate(342.8 1650.5) scale(1.1 1)" text-anchor="middle" class="tl">-20</text>
<text transform="translate(495.9 1650.5) scale(1.1 1)" text-anchor="middle" class="tl">-10</text>
<text transform="translate(648.9 1650.5) scale(1.1 1)" text-anchor="middle" class="tl">0</text>
<text transform="translate(801.9 1650.5) scale(1.1 1)" text-anchor="middle" class="tl">10</text>
<text x="495.8" y="1688" text-anchor="middle" class="al">Z [dBZ]</text>
<text transform="translate(46.3 1238.9) rotate(-90) scale(1.05 1)" text-anchor="middle" class="al">V<tspan class="sub" dy="8">T</tspan><tspan dy="-8"> [m/s]</tspan></text>
<text x="143.9" y="955.3" class="ti" textLength="255.9" lengthAdjust="spacingAndGlyphs">(c) 20 min</text>
<text x="582.3" y="942.3" class="eq" textLength="64" lengthAdjust="spacingAndGlyphs">Vt =</text>
<text x="667.3" y="942.3" class="eq" textLength="101" lengthAdjust="spacingAndGlyphs">0.779Z</text>
<text x="775.3" y="925.6" class="eq sup" textLength="47.5" lengthAdjust="spacingAndGlyphs">0.111</text>
<text transform="translate(747.7 1363.9) scale(1.12 1)" class="lg">0.0</text>
<text transform="translate(747.7 1390.6) scale(1.12 1)" class="lg">0.1</text>
<text transform="translate(747.7 1417.3) scale(1.12 1)" class="lg">0.2</text>
<text transform="translate(747.7 1444) scale(1.12 1)" class="lg">0.3</text>
<text transform="translate(747.7 1470.7) scale(1.12 1)" class="lg">0.4</text>
<text transform="translate(747.7 1497.4) scale(1.12 1)" class="lg">0.5</text>
<text transform="translate(747.7 1524.1) scale(1.12 1)" class="lg">0.6</text>
<text transform="translate(747.7 1550.8) scale(1.12 1)" class="lg">0.7</text>
<circle cx="826.9" cy="1357.3" r="3.8" fill="none" stroke="#333" stroke-width="1.7"/>
<circle cx="826.9" cy="1384" r="6.9" fill="none" stroke="#333" stroke-width="1.7"/>
<circle cx="826.9" cy="1410.7" r="9.5" fill="none" stroke="#333" stroke-width="1.7"/>
<circle cx="826.9" cy="1437.4" r="12.6" fill="none" stroke="#333" stroke-width="1.7"/>
<circle cx="826.9" cy="1464.1" r="15.9" fill="none" stroke="#333" stroke-width="1.7"/>
<circle cx="826.9" cy="1490.8" r="19" fill="none" stroke="#333" stroke-width="1.7"/>
<circle cx="826.9" cy="1517.5" r="22" fill="none" stroke="#333" stroke-width="1.7"/>
<circle cx="826.9" cy="1544.2" r="24.8" fill="none" stroke="#333" stroke-width="1.7"/>
</g>
<g>
<g fill="none"><path d="M1100 1280 1122 1288 1103 1297 1214 1213 1224 1203 1250 1211 1271 1203 1276 1221 1276 1224 1291 1225 1300 1213 1306 1200 1307 1225 1280 1247 1268 1255" marker-start="url(#m4)" marker-mid="url(#m4)" marker-end="url(#m4)"/><path d="M1293 1257 1316 1181 1335 1191 1360 1195 1373 1191 1390 1190 1399 1197 1403 1216 1320 1221 1334 1217 1347 1212 1313 1240 1330 1242 1341 1234 1371 1236 1380 1246 1394 1242 1405 1240 1384 1188 1395 1230 1360 1222" marker-start="url(#m7)" marker-mid="url(#m7)" marker-end="url(#m7)"/><path d="M1174 1181 1191 1188 1154 1210 1154 1214 1171 1212 1176 1209 1189 1238 1186 1249" marker-start="url(#m0)" marker-mid="url(#m0)" marker-end="url(#m0)"/><path d="M1193 1199 1196 1199 1191 1191 1190 1198 1190 1198 1196 1197 1192 1197 1186 1194 1194 1202 1191 1195 1186 1190 1190 1189 1184 1200 1181 1197 1189 1192 1195 1194 1188 1204 1191 1195 1189 1198 1190 1191" marker-start="url(#m0)" marker-mid="url(#m0)" marker-end="url(#m0)"/><path d="M1197 1205 1197 1209 1200 1210 1196 1216 1200 1222 1203 1223 1205 1230 1203 1231 1207 1248 1213 1248 1213 1253 1214 1252 1215 1265 1219 1263 1219 1264 1220 1270" marker-start="url(#m0)" marker-mid="url(#m0)" marker-end="url(#m0)"/><path d="M1201 1213 1203 1224 1208 1231 1207 1235 1206 1236 1208 1240 1209 1244 1212 1248 1215 1258 1221 1273 1220 1272 1223 1275 1222 1279 1225 1281" marker-start="url(#m1)" marker-mid="url(#m1)" marker-end="url(#m1)"/><path d="M1157 1265 1141 1290 1141 1289 1153 1259 1170 1293 1198 1271 1161 1294 1190 1293 1189 1277 1144 1277 1141 1287 1182 1280 1159 1285 1176 1281 1150 1285 1147 1287 1154 1276 1181 1275 1168 1261 1187 1274 1172 1265 1179 1260 1147 1283 1182 1277 1141 1267 1188 1287 1174 1277 1158 1264 1178 1273 1162 1281 1164 1259 1171 1261 1136 1266 1147 1285 1182 1287 1165 1290 1178 1282 1146 1290 1154 1268 1150 1285 1187 1292 1166 1281 1200 1274 1143 1285 1190 1279 1138 1263 1165 1280 1176 1270 1147 1261 1193 1281 1159 1287 1188 1276" marker-start="url(#m0)" marker-mid="url(#m0)" marker-end="url(#m0)"/><path d="M1185 1279 1164 1274 1187 1264 1184 1281 1181 1288 1195 1277 1166 1267 1199 1291" marker-start="url(#m1)" marker-mid="url(#m1)" marker-end="url(#m1)"/><path d="M1142 1337 1148 1334 1154 1329 1148 1333 1153 1334 1141 1337 1144 1329 1143 1317 1154 1332 1141 1333 1152 1337 1155 1337 1145 1328 1154 1321 1149 1339 1142 1331 1152 1330 1153 1328 1146 1321 1153 1329 1144 1327" marker-start="url(#m19)" marker-mid="url(#m19)" marker-end="url(#m19)"/><path d="M1143 1323 1152 1326 1145 1316 1151 1324" marker-start="url(#m20)" marker-mid="url(#m20)" marker-end="url(#m20)"/><path d="M1384 1191 1389 1188 1397 1186 1401 1189 1407 1196 1412 1202 1416 1212 1411 1212 1415 1226 1418 1227 1429 1236 1436 1245" marker-start="url(#m9)" marker-mid="url(#m9)" marker-end="url(#m9)"/><path d="M1399 1187 1408 1198 1421 1226 1423 1232" marker-start="url(#m7)" marker-mid="url(#m7)" marker-end="url(#m7)"/><path d="M1412 1201 1416 1217 1423 1234 1431 1243" marker-start="url(#m10)" marker-mid="url(#m10)" marker-end="url(#m10)"/><path d="M1408 1230 1410 1234 1427 1230 1431 1226 1438 1227 1454 1229 1454 1223 1457 1223 1466 1224 1473 1224 1475 1221 1478 1225 1487 1217 1489 1218 1495 1215" marker-start="url(#m9)" marker-mid="url(#m9)" marker-end="url(#m9)"/><path d="M1414 1232 1423 1229 1430 1226 1466 1228 1480 1223" marker-start="url(#m7)" marker-mid="url(#m7)" marker-end="url(#m7)"/><path d="M1415 1230 1443 1229 1444 1226 1488 1219" marker-start="url(#m10)" marker-mid="url(#m10)" marker-end="url(#m10)"/><path d="M1500 1212 1538 1220 1560 1220 1561 1225 1567 1228 1576 1228 1580 1230" marker-start="url(#m49)" marker-mid="url(#m49)" marker-end="url(#m49)"/><path d="M1503 1213 1517 1211 1528 1211 1529 1217 1528 1209 1546 1215 1558 1225 1571 1230" marker-start="url(#m52)" marker-mid="url(#m52)" marker-end="url(#m52)"/><path d="M1510 1210 1515 1209 1563 1219" marker-start="url(#m59)" marker-mid="url(#m59)" marker-end="url(#m59)"/><path d="M1512 1213 1535 1217 1541 1212 1549 1220 1556 1217" marker-start="url(#m48)" marker-mid="url(#m48)" marker-end="url(#m48)"/><path d="M1568 1240 1574 1228 1566 1233 1583 1233 1560 1235 1555 1238 1571 1237 1577 1226 1573 1239 1584 1240" marker-start="url(#m59)" marker-mid="url(#m59)" marker-end="url(#m59)"/><path d="M1573 1245 1573 1228 1561 1230" marker-start="url(#m58)" marker-mid="url(#m58)" marker-end="url(#m58)"/><path d="M1580 1226 1573 1220 1571 1245 1562 1231 1567 1249 1581 1235 1578 1247 1567 1250 1572 1234 1570 1224 1558 1235" marker-start="url(#m52)" marker-mid="url(#m52)" marker-end="url(#m52)"/><path d="M1561 1246 1563 1248 1578 1229 1570 1245 1565 1227 1570 1246 1579 1226 1559 1245 1569 1227 1562 1245 1574 1239 1565 1232" marker-start="url(#m49)" marker-mid="url(#m49)" marker-end="url(#m49)"/><path d="M1555 1235 1570 1241 1574 1238 1570 1237" marker-start="url(#m48)" marker-mid="url(#m48)" marker-end="url(#m48)"/><path d="M1482 1249 1480 1244 1475 1234 1481 1229 1486 1217 1490 1210 1512 1198 1516 1204" marker-start="url(#m17)" marker-mid="url(#m17)" marker-end="url(#m17)"/><path d="M1478 1246 1479 1242 1477 1229 1490 1210 1520 1205" marker-start="url(#m42)" marker-mid="url(#m42)" marker-end="url(#m42)"/><path d="M1480 1222 1483 1220 1503 1204" marker-start="url(#m16)" marker-mid="url(#m16)" marker-end="url(#m16)"/><path d="M1497 1205 1505 1198" marker-start="url(#m15)" marker-mid="url(#m15)" marker-end="url(#m15)"/><path d="M1489.6 1246.7 L1502.6 1243.7 L1515.1 1246.2 L1519.6 1258.7 L1517.6 1269.2 L1502.6 1271.2 L1489.6 1266.2 Z" fill="#14926a"/><path d="M1501 1273 1486 1258 1488 1272" marker-start="url(#m115)" marker-mid="url(#m115)" marker-end="url(#m115)"/><path d="M1501 1263 1508 1268 1518 1276 1504 1282 1510 1235 1502 1264 1478 1256 1523 1250" marker-start="url(#m119)" marker-mid="url(#m119)" marker-end="url(#m119)"/><path d="M1524 1258 1496 1238 1484 1257 1494 1253 1499 1269" marker-start="url(#m114)" marker-mid="url(#m114)" marker-end="url(#m114)"/><path d="M1525 1246 1480 1277 1511 1273" marker-start="url(#m120)" marker-mid="url(#m120)" marker-end="url(#m120)"/><path d="M1522 1261 1491 1260" marker-start="url(#m30)" marker-mid="url(#m30)" marker-end="url(#m30)"/><path d="M1497 1267 1494 1252 1519 1250 1520 1279 1527 1251 1502 1250 1481 1242 1490 1260 1520 1247 1477 1248" marker-start="url(#m112)" marker-mid="url(#m112)" marker-end="url(#m112)"/><path d="M1494 1282 1521 1256 1486 1239 1504 1238 1517 1244 1495 1232" marker-start="url(#m121)" marker-mid="url(#m121)" marker-end="url(#m121)"/><path d="M1518 1271 1491 1247 1517 1243 1524 1244 1498 1239 1520 1253" marker-start="url(#m113)" marker-mid="url(#m113)" marker-end="url(#m113)"/><path d="M1497 1259 1514 1266 1486 1246" marker-start="url(#m26)" marker-mid="url(#m26)" marker-end="url(#m26)"/><path d="M1517 1254 1519 1235 1476 1274 1516 1250 1494 1240 1498 1240 1513 1256" marker-start="url(#m116)" marker-mid="url(#m116)" marker-end="url(#m116)"/><path d="M1529 1257 1488 1247 1508 1232 1518 1262 1475 1238 1522 1269 1520 1247" marker-start="url(#m117)" marker-mid="url(#m117)" marker-end="url(#m117)"/><path d="M1517 1245 1516 1238 1514 1246" marker-start="url(#m122)" marker-mid="url(#m122)" marker-end="url(#m122)"/><path d="M1505 1275 1503 1245 1517 1274 1477 1276" marker-start="url(#m123)" marker-mid="url(#m123)" marker-end="url(#m123)"/><path d="M1476 1247 1499 1235 1511 1229 1478 1233 1498 1285 1518 1282 1514 1286 1509 1285" marker-start="url(#m15)" marker-mid="url(#m15)" marker-end="url(#m15)"/><path d="M1501 1228 1483 1235 1503 1280 1474 1260 1479 1249 1474 1255 1473 1257 1528 1274 1520 1284 1476 1232 1535 1273 1534 1256" marker-start="url(#m18)" marker-mid="url(#m18)" marker-end="url(#m18)"/><path d="M1477 1259 1474 1258 1478 1263 1478 1232 1469 1234" marker-start="url(#m17)" marker-mid="url(#m17)" marker-end="url(#m17)"/><path d="M1474 1263 1501 1228 1487 1231 1532 1258 1502 1234 1505 1282 1523 1278 1489 1238 1486 1274 1499 1283 1492 1282 1526 1240" marker-start="url(#m16)" marker-mid="url(#m16)" marker-end="url(#m16)"/><path d="M1477 1251 1500 1234 1533 1259" marker-start="url(#m41)" marker-mid="url(#m41)" marker-end="url(#m41)"/><path d="M1407 1270 1249 1272 1271 1297 1301 1295 1390 1268 1366 1270 1357 1299 1317 1270 1329 1291 1249 1278 1389 1258 1352 1279 1248 1289 1372 1265 1305 1265 1397 1298 1256 1268 1328 1266 1261 1267 1289 1298 1240 1282 1242 1278 1254 1280 1273 1286 1239 1273 1297 1274 1386 1256 1314 1267 1324 1278 1325 1281 1258 1293 1248 1268 1235 1282 1364 1260 1271 1297 1377 1273 1397 1299 1329 1271 1340 1298 1404 1271 1231 1288 1257 1295 1322 1274 1388 1289 1355 1292 1270 1264 1316 1267 1271 1279 1391 1293 1267 1275 1369 1299 1257 1273 1362 1280 1355 1276 1276 1274 1296 1292 1315 1290 1389 1284 1350 1299 1243 1275 1387 1299 1323 1275" marker-start="url(#m5)" marker-mid="url(#m5)" marker-end="url(#m5)"/><path d="M1243 1273 1287 1288 1355 1269 1298 1265 1265 1290 1247 1278 1294 1266 1387 1256 1270 1290 1372 1265 1327 1287 1324 1280 1286 1271 1251 1273 1251 1271 1279 1284 1243 1278 1323 1293 1271 1293 1367 1294 1346 1289 1349 1297 1304 1294 1267 1279 1375 1295 1302 1290 1382 1274 1391 1275 1376 1293 1270 1283 1399 1272 1386 1267 1257 1266 1401 1275 1381 1270 1354 1264" marker-start="url(#m22)" marker-mid="url(#m22)" marker-end="url(#m22)"/><path d="M1288 1287 1290 1290 1279 1271 1355 1296 1317 1299 1290 1268 1369 1285 1324 1282 1293 1295 1360 1290 1244 1271 1314 1271 1268 1280 1251 1285 1347 1276 1294 1263 1321 1271 1268 1273 1375 1292 1246 1288 1391 1260 1275 1270 1363 1281 1320 1267 1284 1277 1333 1298 1274 1290 1377 1283 1265 1267 1343 1292 1373 1278 1368 1273 1367 1299 1282 1263 1404 1279 1356 1273 1314 1267 1327 1288 1285 1296 1265 1295 1343 1284 1369 1268" marker-start="url(#m6)" marker-mid="url(#m6)" marker-end="url(#m6)"/><path d="M1408.9 1274.8 L1436.9 1280.3 L1455.9 1283.3 L1474.4 1283.3 L1486.4 1285.8 L1478.9 1291.8 L1460.4 1297.3 L1441.9 1301.8 L1422.9 1311.3 L1408.9 1320.8 L1388.9 1312.3 L1388.9 1292.3 Z" fill="#14926a"/><path d="M1364 1276 1403 1330 1431 1298 1459 1288 1477 1292 1379 1322 1389 1312 1390 1302 1434 1279 1391 1335 1389 1292 1404 1291 1406 1328 1525 1280 1488 1287 1460 1277 1374 1312 1381 1337 1408 1290 1468 1295 1379 1305 1423 1289 1366 1336 1491 1295 1429 1285" marker-start="url(#m31)" marker-mid="url(#m31)" marker-end="url(#m31)"/><path d="M1401 1262 1402 1308 1491 1295 1392 1317 1523 1276 1510 1291 1362 1285 1462 1289 1350 1300 1395 1303 1509 1283 1367 1333 1409 1320 1447 1294 1413 1275 1381 1293 1390 1285 1354 1300 1383 1270 1366 1318 1361 1302 1443 1303 1346 1311 1435 1303" marker-start="url(#m33)" marker-mid="url(#m33)" marker-end="url(#m33)"/><path d="M1391 1271 1371 1317 1404 1303 1423 1268 1397 1304 1370 1314 1479 1295 1361 1334 1467 1281 1362 1327 1375 1293 1368 1293 1411 1286 1412 1319 1387 1335 1437 1298 1439 1274 1399 1311 1421 1303 1476 1300 1421 1283" marker-start="url(#m34)" marker-mid="url(#m34)" marker-end="url(#m34)"/><path d="M1426 1287 1370 1298 1449 1285 1483 1290 1361 1293 1358 1288 1470 1284 1346 1327 1370 1330 1394 1317 1493 1286" marker-start="url(#m32)" marker-mid="url(#m32)" marker-end="url(#m32)"/><path d="M1415 1308 1430 1282 1361 1331 1421 1276 1430 1289 1518 1282 1350 1328 1413 1285 1397 1262 1377 1259 1424 1320 1395 1335 1386 1293 1429 1281 1429 1267 1376 1345" marker-start="url(#m30)" marker-mid="url(#m30)" marker-end="url(#m30)"/><path d="M1444 1284 1363 1301 1388 1297 1347 1303 1513 1273 1394 1269 1484 1298 1430 1315 1424 1280 1383 1314 1420 1276 1489 1273 1477 1278 1398 1332 1428 1288 1398 1288 1387 1263 1392 1299 1381 1279 1388 1318 1350 1315 1431 1291 1364 1308 1484 1292 1366 1339 1345 1332 1417 1269 1351 1334 1370 1272 1411 1309 1439 1303 1456 1300" marker-start="url(#m27)" marker-mid="url(#m27)" marker-end="url(#m27)"/><path d="M1367 1315 1413 1316 1422 1266 1418 1274 1386 1308 1435 1276 1485 1295 1410 1285 1367 1270 1432 1289 1380 1319 1477 1277 1358 1311 1437 1293 1365 1291 1400 1272 1455 1302 1350 1294 1371 1301 1341 1327 1393 1289 1497 1276" marker-start="url(#m28)" marker-mid="url(#m28)" marker-end="url(#m28)"/><path d="M1422 1282 1400 1263 1356 1318 1371 1327 1386 1338 1468 1284 1466 1296 1391 1264 1374 1261 1486 1289" marker-start="url(#m26)" marker-mid="url(#m26)" marker-end="url(#m26)"/><path d="M1519 1282 1425 1308 1438 1280 1511 1282 1416 1290 1401 1273 1438 1297 1469 1279 1485 1285 1349 1318 1420 1266 1372 1270 1368 1280 1359 1330 1394 1292 1366 1302 1437 1296 1343 1291 1422 1282 1389 1309 1391 1334 1352 1294 1388 1328 1344 1307" marker-start="url(#m25)" marker-mid="url(#m25)" marker-end="url(#m25)"/><path d="M1367 1339 1383 1262 1456 1292 1364 1323 1485 1276 1488 1287 1377 1278 1374 1269 1390 1291 1388 1298 1447 1305" marker-start="url(#m29)" marker-mid="url(#m29)" marker-end="url(#m29)"/><path d="M1400 1266 1354 1313 1350 1289 1342 1315 1425 1276 1348 1289 1367 1330 1365 1312 1448 1298 1392 1322 1375 1303 1467 1282 1414 1314 1418 1301 1350 1310 1353 1327 1439 1285 1402 1320 1381 1337 1381 1281 1425 1272 1523 1282 1342 1317 1396 1288 1382 1326 1352 1333 1499 1291 1428 1309 1494 1290" marker-start="url(#m36)" marker-mid="url(#m36)" marker-end="url(#m36)"/><path d="M1435 1278 1359 1276 1382 1342 1449 1281 1364 1339 1455 1298 1531 1280 1503 1285 1370 1278 1396 1264 1403 1308 1367 1270 1386 1307 1462 1293 1365 1279 1454 1306 1408 1297 1392 1307 1392 1264 1375 1299 1508 1277 1396 1266" marker-start="url(#m35)" marker-mid="url(#m35)" marker-end="url(#m35)"/><path d="M1470 1278 1467 1299 1492 1284 1445 1285 1355 1291 1351 1321 1376 1289 1469 1276 1452 1274 1385 1336 1435 1276 1473 1296 1417 1301 1453 1281 1386 1311 1387 1264 1461 1298 1378 1284 1365 1290 1345 1320" marker-start="url(#m37)" marker-mid="url(#m37)" marker-end="url(#m37)"/><path d="M1444 1294 1402 1276 1453 1277 1351 1298 1462 1281 1378 1324 1377 1343 1359 1309 1505 1275 1383 1266 1433 1276 1376 1276 1474 1295 1352 1283" marker-start="url(#m39)" marker-mid="url(#m39)" marker-end="url(#m39)"/><path d="M1401 1320 1386 1326 1370 1275 1423 1284 1500 1279 1388 1309 1464 1281 1403 1300 1432 1287 1439 1290 1385 1260 1488 1292" marker-start="url(#m38)" marker-mid="url(#m38)" marker-end="url(#m38)"/><path d="M1511 1268 1406 1330 1382 1341 1339 1305 1436 1315 1347 1273 1490 1296 1350 1337 1521 1285 1344 1325 1384 1254 1419 1322 1496 1299 1418 1263 1375 1341 1474 1300 1343 1327 1389 1338 1393 1263 1365 1339 1376 1338 1529 1276" marker-start="url(#m23)" marker-mid="url(#m23)" marker-end="url(#m23)"/><path d="M1349 1286 1539 1287 1432 1319 1435 1313 1344 1335 1338 1317 1363 1268 1361 1338 1522 1285 1336 1303 1371 1349 1404 1328 1521 1275 1370 1342 1439 1313 1523 1291 1424 1268 1524 1283 1420 1330 1387 1259 1355 1333 1361 1276" marker-start="url(#m24)" marker-mid="url(#m24)" marker-end="url(#m24)"/><path d="M1357 1273 1350 1338 1377 1345 1493 1297 1348 1326 1441 1309 1535 1277 1402 1330 1421 1260 1478 1292 1518 1291 1341 1290 1342 1318 1338 1314 1484 1297 1448 1263 1508 1292 1532 1277 1346 1298 1408 1331 1340 1307 1353 1287 1347 1287 1398 1345 1523 1288 1441 1319 1433 1267 1385 1256 1524 1278" marker-start="url(#m40)" marker-mid="url(#m40)" marker-end="url(#m40)"/><path d="M1409 1326 1353 1271 1458 1304 1353 1285 1527 1282 1412 1267 1516 1274 1346 1286 1471 1270 1388 1258 1349 1331 1529 1282" marker-start="url(#m41)" marker-mid="url(#m41)" marker-end="url(#m41)"/><path d="M1346 1283 1389 1335 1363 1266 1456 1269 1364 1336 1376 1348 1495 1305 1368 1345 1359 1273 1409 1328 1382 1255 1446 1311 1374 1262 1497 1291 1337 1326" marker-start="url(#m22)" marker-mid="url(#m22)" marker-end="url(#m22)"/><path d="M1499 1298 1496 1307 1496 1296 1507 1307 1498 1306 1505 1295 1503 1294" marker-start="url(#m124)" marker-mid="url(#m124)" marker-end="url(#m124)"/><path d="M1499 1296 1492 1304 1512 1308 1504 1294 1502 1304 1493 1310 1502 1298 1503 1302 1501 1302 1507 1304" marker-start="url(#m125)" marker-mid="url(#m125)" marker-end="url(#m125)"/><path d="M1495 1301 1493 1309 1506 1307 1501 1309 1500 1310 1507 1306 1504 1313" marker-start="url(#m126)" marker-mid="url(#m126)" marker-end="url(#m126)"/><path d="M1508 1306 1507 1299 1495 1302 1498 1304 1513 1307 1493 1296" marker-start="url(#m127)" marker-mid="url(#m127)" marker-end="url(#m127)"/><path d="M1464 1300 1466 1305 1468 1310 1472 1315 1479 1316 1481 1316 1487 1328 1491 1329 1498 1336 1502 1338 1510 1345 1511 1345" marker-start="url(#m59)" marker-mid="url(#m59)" marker-end="url(#m59)"/><path d="M1478 1321 1480 1325 1495 1329" marker-start="url(#m58)" marker-mid="url(#m58)" marker-end="url(#m58)"/><path d="M1486 1325 1503 1337" marker-start="url(#m52)" marker-mid="url(#m52)" marker-end="url(#m52)"/><path d="M1463 1316 1454 1314 1451 1322 1440 1335 1431 1340 1416 1356 1412 1355" marker-start="url(#m13)" marker-mid="url(#m13)" marker-end="url(#m13)"/><path d="M1461 1319 1451 1321 1429 1336 1420 1350 1394 1366" marker-start="url(#m11)" marker-mid="url(#m11)" marker-end="url(#m11)"/><path d="M1443 1327 1442 1330 1431 1336 1430 1337 1427 1344 1426 1344 1412 1351 1413 1352 1397 1354 1402 1361 1390 1368 1385 1370 1394 1372 1386 1375" marker-start="url(#m12)" marker-mid="url(#m12)" marker-end="url(#m12)"/><path d="M1395 1358 1377 1329 1382 1314 1401 1357 1426 1323 1414 1321 1422 1342 1379 1311 1383 1325 1412 1346 1378 1346" marker-start="url(#m13)" marker-mid="url(#m13)" marker-end="url(#m13)"/><path d="M1428 1328 1425 1316 1426 1321 1419 1324 1404 1323 1411 1333 1432 1318 1445 1321 1435 1313 1437 1319 1424 1325 1387 1363" marker-start="url(#m12)" marker-mid="url(#m12)" marker-end="url(#m12)"/><path d="M1394 1328 1383 1353 1404 1312 1383 1342" marker-start="url(#m14)" marker-mid="url(#m14)" marker-end="url(#m14)"/><path d="M1377 1309 1426 1328 1409 1330 1376 1345 1444 1325 1422 1333 1417 1329 1403 1342" marker-start="url(#m11)" marker-mid="url(#m11)" marker-end="url(#m11)"/><path d="M1257.8 1307 L1287.8 1303.5 L1322.8 1306 L1347.8 1311 L1342.8 1331 L1338.3 1343.5 L1338.8 1358.5 L1317.8 1362 L1301.3 1358.5 L1301.3 1338.5 Z" fill="#109a36"/><path d="M1234 1287 1331 1388 1297 1385 1306 1370 1306 1288 1340 1382 1277 1326 1361 1292 1339 1298 1339 1322 1234 1279 1313 1304 1354 1370 1301 1357 1355 1343 1366 1319 1301 1349 1273 1300 1261 1319 1298 1377 1274 1288 1299 1298 1327 1369 1314 1384 1344 1287 1262 1306 1324 1386 1293 1334 1263 1295 1255 1306 1261 1292 1280 1328 1343 1345 1308 1343 1329 1316 1362 1329 1337 1377 1327 1319 1304 1307 1366 1292 1301 1323 1331 1378 1243 1292 1362 1333 1248 1303 1337 1329 1322 1380 1322 1302 1351 1327 1362 1312 1300 1313 1342 1346 1367 1303 1360 1361 1310 1353 1313 1360 1328 1283 1274 1288 1336 1366 1288 1376 1285 1314 1315 1310 1313 1298 1319 1324 1285 1306 1358 1334 1263 1321 1239 1309 1367 1329 1358 1381 1254 1305 1348 1352 1313 1335 1325 1295 1291 1302 1276 1319 1339 1329 1377 1299 1260 1309 1292 1355 1305 1329 1317 1312 1360 1311" marker-start="url(#m67)" marker-mid="url(#m67)" marker-end="url(#m67)"/><path d="M1259 1300 1334 1384 1312 1312 1318 1313 1351 1366 1279 1318 1305 1309 1346 1344 1341 1332 1321 1373 1293 1381 1261 1324 1294 1306 1293 1353 1287 1280 1357 1374 1311 1305 1345 1363 1298 1358 1328 1385 1378 1296 1354 1291 1272 1312 1284 1319 1222 1286 1341 1382 1269 1329 1354 1374 1319 1282 1358 1311 1331 1312 1235 1290 1259 1281 1341 1324 1312 1364 1310 1327 1324 1290 1339 1292 1336 1334 1296 1341 1271 1311" marker-start="url(#m68)" marker-mid="url(#m68)" marker-end="url(#m68)"/><path d="M1266 1297 1236 1305 1306 1342 1291 1321 1278 1325 1320 1360 1300 1330 1253 1278 1304 1353 1332 1331 1277 1338 1299 1314 1296 1334 1357 1306 1354 1378 1257 1311 1335 1364 1357 1299 1364 1330 1292 1284 1297 1377 1266 1308 1308 1354 1214 1280 1338 1309 1261 1295 1257 1296 1351 1336 1358 1293 1255 1315 1324 1324 1340 1328 1329 1361 1305 1383 1291 1304 1322 1377 1314 1382 1272 1297 1344 1334 1265 1295 1247 1303 1317 1304 1353 1346 1361 1350 1254 1303 1294 1280 1333 1335 1311 1344 1329 1293 1252 1318" marker-start="url(#m69)" marker-mid="url(#m69)" marker-end="url(#m69)"/><path d="M1306 1350 1309 1292 1260 1318 1334 1311 1320 1288 1303 1303 1310 1351 1330 1382 1315 1311 1342 1380 1343 1308 1347 1290 1336 1307 1322 1347 1294 1307 1243 1310 1301 1372 1324 1285 1312 1341 1328 1357 1347 1333 1350 1337 1289 1299 1315 1342 1264 1283 1338 1292 1304 1293 1263 1289 1230 1294 1308 1294 1308 1312 1292 1369 1361 1385 1306 1383 1330 1390 1321 1319 1354 1318 1348 1321 1221 1294 1214 1287" marker-start="url(#m72)" marker-mid="url(#m72)" marker-end="url(#m72)"/><path d="M1340 1333 1257 1299 1325 1319 1320 1381 1288 1369 1360 1324 1275 1294 1284 1295 1367 1307 1315 1384 1367 1337 1325 1310 1282 1307 1343 1285 1314 1296 1276 1303 1296 1303 1277 1295 1305 1363 1363 1337 1240 1309 1360 1356 1281 1286 1354 1321 1340 1294 1251 1297 1323 1372 1374 1308 1360 1292 1348 1383 1288 1308 1242 1288 1307 1333 1327 1360 1292 1361 1322 1364 1302 1299 1356 1367 1303 1360 1352 1337" marker-start="url(#m70)" marker-mid="url(#m70)" marker-end="url(#m70)"/><path d="M1288 1280 1321 1305 1355 1297 1334 1372 1295 1320 1327 1314 1363 1295 1324 1375 1319 1301 1339 1382 1322 1313 1361 1380 1338 1298 1328 1318 1334 1314 1317 1316 1339 1334 1287 1299 1354 1312 1287 1341 1282 1303 1298 1292 1289 1374 1318 1336 1289 1349 1231 1294 1373 1297 1309 1309 1301 1326 1321 1289 1331 1381 1294 1360 1317 1357 1302 1359 1299 1340 1307 1377 1256 1309 1359 1339 1235 1292 1288 1356 1344 1381 1355 1351 1355 1375 1361 1385 1269 1319 1360 1372 1335 1313 1266 1326 1308 1328 1296 1307 1342 1317 1324 1386 1313 1339 1334 1287 1350 1382 1275 1280 1299 1368 1301 1333 1225 1283 1294 1306 1293 1328 1330 1329 1262 1291 1296 1309 1327 1367 1245 1278 1248 1291 1339 1284 1306 1319 1338 1355 1319 1366 1306 1378 1310 1302 1350 1328 1248 1297 1278 1337 1295 1293 1302 1312" marker-start="url(#m71)" marker-mid="url(#m71)" marker-end="url(#m71)"/><path d="M1326 1352 1315 1348 1328 1368 1352 1353 1237 1283 1298 1377 1288 1365 1294 1367 1324 1342 1268 1289 1308 1321 1348 1350 1357 1340 1321 1311 1279 1304 1315 1299 1262 1316 1304 1337 1375 1295 1261 1297 1325 1280 1361 1365 1364 1299 1294 1334 1306 1367 1285 1324 1297 1311 1293 1308 1366 1289 1311 1284 1309 1316 1355 1383 1301 1353 1306 1308 1309 1315 1320 1334 1266 1284 1250 1318 1294 1366 1304 1312 1311 1375 1311 1350 1215 1280 1331 1365 1322 1343" marker-start="url(#m65)" marker-mid="url(#m65)" marker-end="url(#m65)"/><path d="M1291 1385 1333 1389 1290 1368 1336 1346 1308 1317 1340 1294 1317 1365 1309 1289 1325 1341 1301 1327 1289 1355 1275 1307 1312 1343 1317 1382 1262 1292 1314 1324 1294 1334 1222 1296 1270 1289 1329 1373 1258 1322 1305 1331 1276 1295 1349 1291 1328 1284 1309 1356 1333 1342 1289 1313 1272 1277 1265 1324 1218 1292 1312 1281 1222 1282 1246 1295 1354 1378 1341 1289 1317 1367 1250 1290 1345 1316 1337 1348 1336 1314 1374 1307 1308 1371 1323 1300 1326 1352 1336 1372 1312 1283 1320 1329 1323 1327 1295 1288 1321 1318 1255 1308 1278 1318 1329 1357 1290 1308 1281 1308 1275 1293 1348 1313 1339 1304 1294 1374 1245 1315 1304 1313 1244 1289 1363 1331 1325 1385 1297 1355 1332 1287 1281 1322" marker-start="url(#m64)" marker-mid="url(#m64)" marker-end="url(#m64)"/><path d="M1330 1282 1367 1333 1334 1319 1278 1286 1372 1295 1337 1341 1294 1340 1289 1304 1372 1306 1259 1306 1338 1342 1322 1352 1265 1284 1329 1321 1339 1367 1294 1336 1347 1340 1298 1289 1269 1309 1361 1334 1344 1387 1361 1312 1336 1364 1281 1283 1260 1277 1319 1335 1326 1373 1344 1376 1287 1316 1306 1345 1249 1305 1296 1361 1238 1301 1372 1290 1327 1314 1212 1284 1296 1293 1373 1312 1289 1332 1315 1292" marker-start="url(#m66)" marker-mid="url(#m66)" marker-end="url(#m66)"/><path d="M1330 1396 1370 1290 1211 1282 1362 1368 1369 1335 1337 1280 1378 1304 1281 1342 1320 1399 1250 1318 1206 1285 1357 1364 1361 1335 1246 1322 1358 1292 1250 1317 1299 1281 1349 1286 1358 1385 1296 1277 1276 1272 1284 1342 1352 1364" marker-start="url(#m0)" marker-mid="url(#m0)" marker-end="url(#m0)"/><path d="M1290 1356 1243 1317 1372 1301 1362 1362 1374 1287 1309 1395 1202 1281 1359 1365 1355 1290 1208 1287 1365 1329 1360 1383 1334 1284 1353 1279 1289 1360 1275 1331 1332 1286 1275 1276 1369 1343 1307 1281 1364 1375 1269 1275 1260 1275 1285 1377 1342 1386 1258 1270 1351 1387 1277 1279" marker-start="url(#m73)" marker-mid="url(#m73)" marker-end="url(#m73)"/><path d="M1283 1383 1386 1289 1274 1273 1360 1293 1368 1287 1327 1391 1371 1333 1258 1319 1373 1321 1297 1279 1310 1276 1322 1395 1287 1276 1277 1342 1292 1279 1380 1309 1367 1343 1343 1288 1348 1284 1304 1380 1203 1274 1210 1275 1230 1297 1279 1280 1219 1294 1190 1283 1281 1339 1208 1281 1297 1352 1256 1322 1357 1283 1291 1360 1311 1395 1321 1283 1211 1287 1257 1322 1215 1301 1368 1340 1348 1286" marker-start="url(#m1)" marker-mid="url(#m1)" marker-end="url(#m1)"/><path d="M1215.5 1326.7 L1234.5 1320.7 L1258 1322.7 L1276.5 1326.7 L1290.5 1331.2 L1304.5 1334.2 L1309.5 1343.2 L1295.5 1348.2 L1276.5 1352.7 L1272 1366.7 L1276.5 1378.7 L1258 1382.7 L1239 1385.2 L1229.5 1371.7 L1215.5 1362.2 L1208.5 1348.2 L1209 1338.7 Z" fill="#cc1a06"/><path d="M1309 1345 1192 1314 1297 1344 1191 1303 1294 1349 1199 1332 1263 1396 1201 1351 1251 1299 1226 1335 1300 1355 1195 1339 1271 1306 1239 1385 1199 1330 1186 1325 1346 1328 1277 1411 1240 1343 1275 1324 1247 1316 1240 1401 1247 1356 1315 1346 1180 1304 1257 1306 1308 1332 1280 1406 1184 1373 1264 1412 1208 1385 1262 1390 1236 1410 1287 1375 1325 1336 1192 1324 1200 1368 1206 1308 1185 1301 1231 1409 1265 1308 1287 1394 1269 1379 1224 1419 1239 1323 1238 1348 1301 1338 1238 1294 1287 1387 1249 1416 1304 1322 1203 1316 1266 1356 1201 1391 1220 1305 1235 1373 1271 1330 1220 1342 1235 1375 1195 1362 1334 1344 1222 1331 1229 1383 1329 1316 1241 1415 1181 1335 1180 1346 1303 1335 1239 1385 1228 1362 1209 1374 1170 1359 1308 1316 1205 1296 1288 1356 1286 1303 1244 1304 1283 1389 1284 1372 1183 1348 1164 1340 1254 1310 1236 1390 1251 1326 1277 1369 1282 1309 1186 1348 1269 1298 1163 1327 1171 1328 1205 1354 1248 1326 1215 1346 1277 1402 1190 1330 1211 1386 1276 1359 1171 1356 1195 1332 1186 1368 1255 1374 1174 1359 1304 1347 1233 1370 1232 1301 1201 1363 1308 1314 1284 1360 1202 1349 1177 1345" marker-start="url(#m79)" marker-mid="url(#m79)" marker-end="url(#m79)"/><path d="M1318 1315 1227 1320 1304 1347 1194 1359 1224 1335 1286 1362 1271 1355 1257 1310 1272 1382 1240 1334 1284 1395 1215 1338 1287 1345 1264 1340 1226 1362 1227 1301 1269 1323 1255 1382 1246 1305 1208 1337 1188 1311 1207 1328 1213 1347 1240 1323 1242 1337 1226 1386 1281 1311 1197 1299 1350 1340 1262 1311 1346 1326 1292 1400 1178 1325 1209 1365 1242 1379 1199 1299 1205 1390 1222 1395 1241 1340 1215 1353 1284 1330 1322 1346 1202 1373 1292 1326 1198 1346 1307 1342 1226 1379" marker-start="url(#m81)" marker-mid="url(#m81)" marker-end="url(#m81)"/><path d="M1231 1337 1249 1315 1245 1319 1232 1340 1249 1366 1223 1308 1184 1364 1297 1323 1241 1379 1221 1343 1271 1392 1247 1352 1242 1367 1273 1324 1328 1322 1320 1328 1232 1373 1224 1397 1307 1343 1244 1358 1259 1357 1164 1334 1167 1359 1165 1342 1257 1323 1212 1386 1306 1313 1220 1314 1177 1308 1220 1409 1241 1377 1264 1353 1182 1320 1212 1381 1241 1372 1164 1327 1213 1390 1209 1313 1214 1314 1196 1299 1332 1344 1323 1337 1210 1340 1243 1415 1255 1361 1220 1297 1212 1310 1288 1350 1263 1304 1219 1403 1258 1408 1283 1335" marker-start="url(#m80)" marker-mid="url(#m80)" marker-end="url(#m80)"/><path d="M1225 1302 1253 1404 1233 1325 1209 1296 1211 1404 1276 1344 1284 1346 1178 1357 1330 1336 1335 1329 1265 1300 1303 1346 1200 1298 1291 1349 1241 1298 1247 1387 1215 1363 1212 1396 1229 1401 1210 1353 1239 1298 1254 1318 1263 1346 1316 1324 1218 1332 1169 1348 1197 1330 1259 1402 1283 1376 1261 1346 1216 1344 1181 1368 1277 1331 1179 1316 1180 1358 1270 1368 1261 1368 1279 1399 1257 1314 1355 1326 1206 1312 1298 1325 1264 1328 1254 1399 1184 1379 1265 1307 1166 1337 1261 1415 1251 1350 1275 1391 1170 1336 1190 1363 1305 1340 1202 1331 1296 1355 1217 1319 1241 1315 1215 1320 1267 1303 1183 1378 1163 1328 1237 1341 1274 1327 1279 1324 1193 1324 1245 1368 1251 1375 1182 1347 1267 1360 1261 1314 1205 1377 1186 1328 1175 1329 1270 1343 1193 1322 1270 1323 1226 1418 1187 1308 1192 1323 1206 1303 1189 1360 1221 1350 1294 1334 1194 1304 1261 1373 1331 1347 1295 1305 1319 1339 1279 1374 1264 1371 1255 1394 1228 1415 1306 1346 1242 1400 1233 1344 1306 1313 1317 1318 1257 1349" marker-start="url(#m86)" marker-mid="url(#m86)" marker-end="url(#m86)"/><path d="M1275 1317 1326 1314 1261 1393 1216 1365 1264 1375 1287 1398 1238 1363 1165 1346 1245 1386 1326 1335 1258 1375 1220 1293 1207 1308 1224 1317 1182 1350 1232 1364 1291 1356 1346 1328 1161 1342 1222 1297 1205 1348 1218 1332 1277 1309 1267 1307 1357 1334 1251 1396 1268 1394 1183 1366 1219 1336 1229 1332 1237 1394 1194 1334 1181 1307 1287 1386 1185 1350 1307 1342 1273 1404 1256 1388 1237 1356 1187 1303 1181 1310 1330 1327 1185 1354 1281 1347 1295 1316 1258 1312 1245 1329 1327 1331 1232 1317 1201 1340 1266 1308 1303 1325 1267 1396 1262 1390 1216 1352 1186 1378 1335 1347 1313 1322 1300 1310 1348 1319 1276 1345" marker-start="url(#m87)" marker-mid="url(#m87)" marker-end="url(#m87)"/><path d="M1209 1327 1227 1310 1287 1327 1287 1365 1250 1300 1251 1307 1263 1356 1260 1379 1274 1304 1272 1369 1244 1296 1198 1350 1224 1331 1260 1365 1225 1372 1296 1317 1264 1333 1170 1354 1244 1396 1273 1349 1293 1362 1344 1340 1223 1397 1285 1385 1212 1394 1307 1335 1280 1382 1212 1366 1286 1340 1206 1334 1203 1374 1230 1331 1347 1342 1170 1360 1196 1366 1210 1301 1260 1407 1247 1325 1240 1376 1270 1360 1275 1355 1345 1327 1190 1327 1214 1340 1211 1397 1263 1314 1253 1352 1185 1344 1195 1333 1245 1353 1179 1339 1230 1405 1311 1344 1309 1329 1238 1332 1208 1382 1184 1380 1179 1339 1219 1343 1293 1400 1185 1328 1265 1353 1163 1336 1218 1358 1228 1330 1207 1315 1355 1325 1221 1354 1216 1372 1197 1389 1203 1353" marker-start="url(#m85)" marker-mid="url(#m85)" marker-end="url(#m85)"/><path d="M1274 1341 1312 1320 1254 1393 1315 1349 1286 1326 1247 1297 1228 1407 1286 1371 1240 1409 1229 1363 1212 1381 1278 1406 1254 1334 1252 1341 1183 1308 1303 1343 1308 1327 1282 1379 1318 1333 1266 1404 1180 1326 1208 1338 1205 1302 1233 1380 1212 1407 1299 1328 1262 1366 1207 1380 1285 1388 1290 1322 1166 1341 1293 1407 1281 1356 1261 1329 1211 1315 1216 1375 1246 1393 1240 1320 1276 1393 1281 1363 1227 1308 1229 1315 1286 1334 1262 1329 1274 1370 1257 1332 1326 1344 1277 1404 1249 1401 1288 1338 1265 1314 1199 1300 1333 1346 1178 1361 1188 1324 1339 1317 1225 1299 1202 1386 1278 1329 1240 1367 1308 1341 1196 1371 1245 1401 1326 1331 1330 1331 1279 1384 1181 1312 1206 1312 1169 1322 1247 1335 1295 1330 1266 1356 1188 1315 1344 1327 1176 1317 1227 1313 1211 1325 1305 1352 1183 1343 1334 1341 1300 1324 1182 1321 1293 1336 1255 1402 1172 1361 1272 1354 1302 1342 1179 1340 1269 1392 1263 1346 1234 1322 1195 1351 1303 1307 1282 1396 1310 1344 1282 1389 1182 1331 1270 1403 1215 1322 1291 1348 1179 1353 1221 1360 1236 1411 1291 1399 1269 1388 1169 1354 1245 1390 1249 1313 1183 1308 1351 1323 1181 1368 1229 1409" marker-start="url(#m82)" marker-mid="url(#m82)" marker-end="url(#m82)"/><path d="M1199 1333 1238 1298 1262 1394 1184 1340 1242 1332 1215 1340 1236 1333 1204 1301 1194 1380 1271 1399 1224 1295 1283 1371 1309 1339 1259 1372 1192 1348 1187 1303 1279 1395 1216 1364 1287 1403 1269 1329 1169 1359 1265 1355 1299 1338 1213 1352 1193 1383 1265 1314 1218 1392 1252 1303 1271 1315 1307 1347 1221 1411 1302 1331 1329 1336 1183 1365 1220 1343 1224 1365 1261 1399 1209 1379 1185 1376 1245 1359 1189 1367 1205 1339 1223 1306 1262 1407 1260 1346 1188 1340 1314 1334 1241 1326 1224 1385 1197 1318 1184 1331 1281 1322" marker-start="url(#m84)" marker-mid="url(#m84)" marker-end="url(#m84)"/><path d="M1246 1359 1179 1320 1181 1313 1243 1398 1241 1301 1313 1342 1312 1341 1205 1384 1316 1336 1351 1331 1178 1318 1188 1352 1180 1339 1258 1381 1298 1306 1301 1319 1247 1361 1201 1317 1227 1352 1319 1320 1205 1299 1284 1359 1243 1366 1261 1387 1221 1322 1279 1336 1268 1367 1216 1364 1236 1416 1284 1326 1289 1333 1239 1379 1225 1326 1205 1382 1237 1315 1294 1324 1213 1395 1187 1382 1284 1400 1206 1298 1273 1325 1290 1341 1244 1366 1343 1335 1220 1368 1316 1328 1220 1398 1218 1315 1250 1323 1170 1326 1190 1358" marker-start="url(#m83)" marker-mid="url(#m83)" marker-end="url(#m83)"/><path d="M1294 1375 1295 1308 1162 1334 1183 1303 1221 1416 1200 1392 1209 1411 1337 1308 1242 1420 1243 1423 1295 1404 1172 1382 1330 1313 1239 1422 1213 1403 1208 1403 1176 1384 1309 1302 1295 1356 1206 1397 1343 1349 1171 1362 1231 1289 1209 1287 1172 1307 1296 1363 1260 1288 1298 1404 1351 1329 1184 1381 1248 1296 1183 1390 1293 1410 1254 1291 1281 1408 1246 1296 1267 1298 1161 1335 1169 1368 1206 1399 1289 1388 1183 1375 1283 1412 1304 1304 1339 1348 1226 1295 1316 1300 1347 1325 1306 1350 1167 1359 1187 1295 1216 1403 1187 1298 1277 1304 1195 1394 1301 1297 1336 1324 1306 1304 1339 1313 1328 1306 1195 1392 1211 1287 1260 1415 1290 1388 1164 1353 1317 1309 1256 1295 1330 1345 1266 1413 1252 1295 1316 1349 1337 1325 1242 1299 1162 1331 1164 1336 1299 1356 1160 1319 1350 1344 1312 1304 1215 1403 1343 1343 1317 1351 1293 1379 1290 1389" marker-start="url(#m89)" marker-mid="url(#m89)" marker-end="url(#m89)"/><path d="M1310 1353 1264 1425 1214 1405 1299 1406 1341 1313 1268 1417 1164 1326 1292 1401 1336 1312 1283 1387 1330 1307 1190 1393 1362 1327 1156 1339 1287 1300 1257 1295 1166 1342 1295 1361 1356 1340 1341 1317 1167 1313 1294 1411 1259 1409 1277 1295 1274 1295 1306 1309 1338 1341 1280 1416 1164 1322 1207 1290 1352 1343 1366 1340 1199 1395 1288 1412 1213 1293 1170 1370 1190 1302 1277 1297 1205 1396 1277 1392" marker-start="url(#m88)" marker-mid="url(#m88)" marker-end="url(#m88)"/><path d="M1313 1348 1158 1322 1167 1362 1357 1334 1171 1357 1280 1302 1336 1353 1222 1291 1295 1357 1296 1399 1294 1391 1307 1354 1242 1426 1300 1294 1215 1292 1234 1421 1356 1341 1248 1416 1339 1346 1214 1404 1274 1299 1196 1385 1355 1309 1296 1361 1169 1302 1354 1320 1333 1346 1216 1416 1348 1321 1256 1416 1159 1329 1357 1323 1155 1335 1261 1424 1341 1318 1335 1350" marker-start="url(#m2)" marker-mid="url(#m2)" marker-end="url(#m2)"/><path d="M1272 1330 1235 1303 1309 1308 1322 1317 1181 1304 1189 1320 1182 1302 1321 1329 1271 1333 1242 1302 1253 1338 1192 1301 1229 1314 1273 1339 1307 1331 1260 1328 1270 1323 1218 1306 1242 1302 1289 1303 1241 1316 1226 1322 1283 1335 1314 1308 1218 1308 1314 1324 1255 1302 1234 1320 1283 1322 1321 1319 1251 1319 1240 1334 1223 1307 1264 1321 1256 1336" marker-start="url(#m1)" marker-mid="url(#m1)" marker-end="url(#m1)"/><path d="M1263 1326 1192 1310 1242 1336 1276 1314 1261 1332 1281 1308 1257 1319 1278 1334 1277 1328 1241 1335 1328 1314 1228 1313 1275 1304 1205 1310 1282 1333 1201 1310 1324 1321 1187 1316 1191 1318 1319 1315 1219 1324 1262 1310 1266 1307 1290 1308 1196 1310 1205 1302 1268 1327 1276 1306 1192 1308 1289 1344 1284 1340 1189 1318 1313 1319 1204 1318 1292 1306 1199 1325 1277 1322 1214 1312 1203 1301 1292 1341 1212 1323 1243 1334 1250 1323 1253 1336 1292 1314" marker-start="url(#m0)" marker-mid="url(#m0)" marker-end="url(#m0)"/><path d="M1223 1334 1231 1324 1214 1316 1211 1316 1289 1344 1203 1312 1215 1334 1280 1340 1253 1346 1309 1322 1289 1329 1217 1326 1274 1325" marker-start="url(#m90)" marker-mid="url(#m90)" marker-end="url(#m90)"/><path d="M1204 1311 1247 1335 1230 1336 1216 1315 1240 1333 1256 1329 1227 1318 1272 1338 1264 1330 1248 1323 1257 1328 1214 1324 1245 1336 1301 1321 1269 1318 1219 1338 1246 1340" marker-start="url(#m91)" marker-mid="url(#m91)" marker-end="url(#m91)"/><path d="M1196 1388 1170 1370 1171 1369 1180 1390 1179 1408 1186 1390 1187 1350 1168 1382 1186 1376 1180 1371 1192 1366 1165 1383 1183 1405 1176 1358 1166 1409 1178 1404 1194 1390 1170 1405 1161 1356 1190 1370 1166 1371 1187 1369 1187 1393 1164 1410 1193 1405 1175 1400 1167 1391 1197 1389" marker-start="url(#m89)" marker-mid="url(#m89)" marker-end="url(#m89)"/><path d="M1160 1388 1192 1386 1186 1388 1185 1407 1167 1411 1175 1378 1189 1399 1169 1390 1189 1371 1182 1380 1172 1389 1181 1390 1193 1394 1190 1389 1179 1391 1195 1409 1160 1360 1159 1374 1186 1392 1180 1374 1175 1368 1193 1376" marker-start="url(#m2)" marker-mid="url(#m2)" marker-end="url(#m2)"/><path d="M1155 1390 1168 1388 1180 1389 1172 1406 1192 1405" marker-start="url(#m91)" marker-mid="url(#m91)" marker-end="url(#m91)"/><path d="M1301 1400 1312 1406 1322 1414 1331 1414 1334 1415 1339 1419 1357 1418 1366 1420 1386 1417 1406 1411" marker-start="url(#m7)" marker-mid="url(#m7)" marker-end="url(#m7)"/><path d="M1304 1403 1314 1410 1321 1413 1346 1416 1369 1415 1381 1416 1393 1415" marker-start="url(#m9)" marker-mid="url(#m9)" marker-end="url(#m9)"/><path d="M1351 1416 1359 1417 1376 1417 1392 1416 1399 1411 1410 1412" marker-start="url(#m3)" marker-mid="url(#m3)" marker-end="url(#m3)"/><path d="M1391 1404 1415 1391 1388 1402 1406 1383 1404 1382 1415 1388 1397 1413 1395 1408 1388 1415 1404 1395 1404 1407 1412 1392 1416 1406 1412 1397 1381 1399 1391 1393 1400 1398 1382 1393 1412 1391 1396 1385 1406 1419 1413 1412" marker-start="url(#m98)" marker-mid="url(#m98)" marker-end="url(#m98)"/><path d="M1411 1405 1404 1406 1416 1396 1389 1409 1386 1408 1411 1388 1397 1420 1392 1417 1400 1399 1397 1408 1401 1406" marker-start="url(#m99)" marker-mid="url(#m99)" marker-end="url(#m99)"/><path d="M1394 1416 1405 1410 1388 1394 1393 1391 1402 1395 1407 1385 1406 1410" marker-start="url(#m88)" marker-mid="url(#m88)" marker-end="url(#m88)"/></g>
<polyline points="1006.6,1371.4 1014.2,1370.6 1021.9,1369.8 1029.5,1369 1037.2,1368.2 1044.8,1367.4 1052.5,1366.5 1060.1,1365.7 1067.8,1364.8 1075.4,1363.9 1083.1,1363 1090.7,1362.1 1098.4,1361.1 1106,1360.2 1113.6,1359.2 1121.3,1358.3 1128.9,1357.3 1136.6,1356.3 1144.2,1355.3 1151.9,1354.2 1159.5,1353.2 1167.2,1352.1 1174.8,1351 1182.5,1349.9 1190.1,1348.8 1197.8,1347.7 1205.4,1346.5 1213,1345.4 1220.7,1344.2 1228.3,1343 1236,1341.7 1243.6,1340.5 1251.3,1339.2 1258.9,1338 1266.6,1336.7 1274.2,1335.3 1281.9,1334 1289.5,1332.6 1297.1,1331.3 1304.8,1329.9 1312.4,1328.4 1320.1,1327 1327.7,1325.5 1335.4,1324 1343,1322.5 1350.7,1321 1358.3,1319.4 1366,1317.8 1373.6,1316.2 1381.3,1314.6 1388.9,1312.9 1396.5,1311.3 1404.2,1309.5 1411.8,1307.8 1419.5,1306 1427.1,1304.3 1434.8,1302.4 1442.4,1300.6 1450.1,1298.7 1457.7,1296.8 1465.4,1294.9 1473,1292.9 1480.7,1291 1488.3,1288.9 1495.9,1286.9 1503.6,1284.8 1511.2,1282.7 1518.9,1280.5 1526.5,1278.4 1534.2,1276.1 1541.8,1273.9 1549.5,1271.6 1557.1,1269.3 1564.8,1267 1572.4,1264.6 1580.1,1262.1 1587.7,1259.7 1595.3,1257.2 1603,1254.7 1610.6,1252.1 1618.3,1249.5 1625.9,1246.8 1633.6,1244.1 1641.2,1241.4 1648.9,1238.6 1656.5,1235.8 1664.2,1232.9 1671.8,1230 1679.4,1227.1 1687.1,1224.1 1694.7,1221 1702.4,1217.9 1710,1214.8 1717.7,1211.6 1725.3,1208.4 1733,1205.1 1740.6,1201.7 1748.3,1198.4 1755.9,1194.9 1763.6,1191.4 1771.2,1187.9" fill="none" stroke="#ef4a2a" stroke-width="2"/>
<path d="M1006.6 1606v-8M1006.6 873.3v8M1021.9 1606v-8M1021.9 873.3v8M1037.2 1606v-8M1037.2 873.3v8M1052.5 1606v-8M1052.5 873.3v8M1067.8 1606v-8M1067.8 873.3v8M1083.1 1606v-15M1083.1 873.3v15M1098.4 1606v-8M1098.4 873.3v8M1113.6 1606v-8M1113.6 873.3v8M1128.9 1606v-8M1128.9 873.3v8M1144.2 1606v-8M1144.2 873.3v8M1159.5 1606v-8M1159.5 873.3v8M1174.8 1606v-8M1174.8 873.3v8M1190.1 1606v-8M1190.1 873.3v8M1205.4 1606v-8M1205.4 873.3v8M1220.7 1606v-8M1220.7 873.3v8M1236 1606v-15M1236 873.3v15M1251.3 1606v-8M1251.3 873.3v8M1266.6 1606v-8M1266.6 873.3v8M1281.9 1606v-8M1281.9 873.3v8M1297.1 1606v-8M1297.1 873.3v8M1312.4 1606v-8M1312.4 873.3v8M1327.7 1606v-8M1327.7 873.3v8M1343 1606v-8M1343 873.3v8M1358.3 1606v-8M1358.3 873.3v8M1373.6 1606v-8M1373.6 873.3v8M1388.9 1606v-15M1388.9 873.3v15M1404.2 1606v-8M1404.2 873.3v8M1419.5 1606v-8M1419.5 873.3v8M1434.8 1606v-8M1434.8 873.3v8M1450.1 1606v-8M1450.1 873.3v8M1465.4 1606v-8M1465.4 873.3v8M1480.7 1606v-8M1480.7 873.3v8M1495.9 1606v-8M1495.9 873.3v8M1511.2 1606v-8M1511.2 873.3v8M1526.5 1606v-8M1526.5 873.3v8M1541.8 1606v-15M1541.8 873.3v15M1557.1 1606v-8M1557.1 873.3v8M1572.4 1606v-8M1572.4 873.3v8M1587.7 1606v-8M1587.7 873.3v8M1603 1606v-8M1603 873.3v8M1618.3 1606v-8M1618.3 873.3v8M1633.6 1606v-8M1633.6 873.3v8M1648.9 1606v-8M1648.9 873.3v8M1664.2 1606v-8M1664.2 873.3v8M1679.4 1606v-8M1679.4 873.3v8M1694.7 1606v-15M1694.7 873.3v15M1710 1606v-8M1710 873.3v8M1725.3 1606v-8M1725.3 873.3v8M1740.6 1606v-8M1740.6 873.3v8M1755.9 1606v-8M1755.9 873.3v8M1771.2 1606v-8M1771.2 873.3v8M1006.6 1606h15M1771.2 1606h-15M1006.6 1587.7h8M1771.2 1587.7h-8M1006.6 1569.4h8M1771.2 1569.4h-8M1006.6 1551h8M1771.2 1551h-8M1006.6 1532.7h8M1771.2 1532.7h-8M1006.6 1514.4h8M1771.2 1514.4h-8M1006.6 1496.1h8M1771.2 1496.1h-8M1006.6 1477.8h8M1771.2 1477.8h-8M1006.6 1459.5h8M1771.2 1459.5h-8M1006.6 1441.1h8M1771.2 1441.1h-8M1006.6 1422.8h15M1771.2 1422.8h-15M1006.6 1404.5h8M1771.2 1404.5h-8M1006.6 1386.2h8M1771.2 1386.2h-8M1006.6 1367.9h8M1771.2 1367.9h-8M1006.6 1349.6h8M1771.2 1349.6h-8M1006.6 1331.2h8M1771.2 1331.2h-8M1006.6 1312.9h8M1771.2 1312.9h-8M1006.6 1294.6h8M1771.2 1294.6h-8M1006.6 1276.3h8M1771.2 1276.3h-8M1006.6 1258h8M1771.2 1258h-8M1006.6 1239.7h15M1771.2 1239.7h-15M1006.6 1221.3h8M1771.2 1221.3h-8M1006.6 1203h8M1771.2 1203h-8M1006.6 1184.7h8M1771.2 1184.7h-8M1006.6 1166.4h8M1771.2 1166.4h-8M1006.6 1148.1h8M1771.2 1148.1h-8M1006.6 1129.7h8M1771.2 1129.7h-8M1006.6 1111.4h8M1771.2 1111.4h-8M1006.6 1093.1h8M1771.2 1093.1h-8M1006.6 1074.8h8M1771.2 1074.8h-8M1006.6 1056.5h15M1771.2 1056.5h-15M1006.6 1038.2h8M1771.2 1038.2h-8M1006.6 1019.8h8M1771.2 1019.8h-8M1006.6 1001.5h8M1771.2 1001.5h-8M1006.6 983.2h8M1771.2 983.2h-8M1006.6 964.9h8M1771.2 964.9h-8M1006.6 946.6h8M1771.2 946.6h-8M1006.6 928.3h8M1771.2 928.3h-8M1006.6 909.9h8M1771.2 909.9h-8M1006.6 891.6h8M1771.2 891.6h-8M1006.6 873.3h15M1771.2 873.3h-15" stroke="#111" stroke-width="2.6" fill="none"/>
<rect x="1006.6" y="873.3" width="764.6" height="732.7" fill="none" stroke="#111" stroke-width="3" stroke-linejoin="round"/>
<text transform="translate(996.6 894.3) scale(1.1 1)" text-anchor="end" class="tl">3</text>
<text transform="translate(996.6 1067.5) scale(1.1 1)" text-anchor="end" class="tl">2</text>
<text transform="translate(996.6 1250.7) scale(1.1 1)" text-anchor="end" class="tl">1</text>
<text transform="translate(996.6 1433.8) scale(1.1 1)" text-anchor="end" class="tl">0</text>
<text transform="translate(996.6 1606) scale(1.1 1)" text-anchor="end" class="tl">-1</text>
<text transform="translate(1083.1 1650.5) scale(1.1 1)" text-anchor="middle" class="tl">-30</text>
<text transform="translate(1236 1650.5) scale(1.1 1)" text-anchor="middle" class="tl">-20</text>
<text transform="translate(1388.9 1650.5) scale(1.1 1)" text-anchor="middle" class="tl">-10</text>
<text transform="translate(1541.8 1650.5) scale(1.1 1)" text-anchor="middle" class="tl">0</text>
<text transform="translate(1694.7 1650.5) scale(1.1 1)" text-anchor="middle" class="tl">10</text>
<text x="1388.9" y="1688" text-anchor="middle" class="al">Z [dBZ]</text>
<text transform="translate(939.6 1239.7) rotate(-90) scale(1.05 1)" text-anchor="middle" class="al">V<tspan class="sub" dy="8">T</tspan><tspan dy="-8"> [m/s]</tspan></text>
<text x="1055.8" y="951" class="ti" textLength="261.5" lengthAdjust="spacingAndGlyphs">(d) 30 min</text>
<text x="1475.6" y="943.8" class="eq" textLength="64" lengthAdjust="spacingAndGlyphs">Vt =</text>
<text x="1560.6" y="943.8" class="eq" textLength="101" lengthAdjust="spacingAndGlyphs">0.813Z</text>
<text x="1668.6" y="927.1" class="eq sup" textLength="47.5" lengthAdjust="spacingAndGlyphs">0.132</text>
<text transform="translate(1640.5 1363.9) scale(1.12 1)" class="lg">0.0</text>
<text transform="translate(1640.5 1390.6) scale(1.12 1)" class="lg">0.1</text>
<text transform="translate(1640.5 1417.3) scale(1.12 1)" class="lg">0.2</text>
<text transform="translate(1640.5 1444) scale(1.12 1)" class="lg">0.3</text>
<text transform="translate(1640.5 1470.7) scale(1.12 1)" class="lg">0.4</text>
<text transform="translate(1640.5 1497.4) scale(1.12 1)" class="lg">0.5</text>
<text transform="translate(1640.5 1524.1) scale(1.12 1)" class="lg">0.6</text>
<text transform="translate(1640.5 1550.8) scale(1.12 1)" class="lg">0.7</text>
<circle cx="1719.7" cy="1357.3" r="3.8" fill="none" stroke="#333" stroke-width="1.7"/>
<circle cx="1719.7" cy="1384" r="6.9" fill="none" stroke="#333" stroke-width="1.7"/>
<circle cx="1719.7" cy="1410.7" r="9.5" fill="none" stroke="#333" stroke-width="1.7"/>
<circle cx="1719.7" cy="1437.4" r="12.6" fill="none" stroke="#333" stroke-width="1.7"/>
<circle cx="1719.7" cy="1464.1" r="15.9" fill="none" stroke="#333" stroke-width="1.7"/>
<circle cx="1719.7" cy="1490.8" r="19" fill="none" stroke="#333" stroke-width="1.7"/>
<circle cx="1719.7" cy="1517.5" r="22" fill="none" stroke="#333" stroke-width="1.7"/>
<circle cx="1719.7" cy="1544.2" r="24.8" fill="none" stroke="#333" stroke-width="1.7"/>
</g>
<g>
<g fill="none"><path d="M200 2128 222 2135 204 2145 406 2048 408 2073 375 2071 376 2074 386 2074 390 2078 379 2096" marker-start="url(#m4)" marker-mid="url(#m4)" marker-end="url(#m4)"/><path d="M416 2030 435 2040 458 2044 472 2040 486 2040 497 2043 504 2051 502 2063 504 2074 509 2083 514 2091 523 2093 530 2097 519 2105 421 2069 433 2066 446 2062 413 2089 428 2091 443 2099 492 2040 500 2047" marker-start="url(#m3)" marker-mid="url(#m3)" marker-end="url(#m3)"/><path d="M530 2092 534 2092 506 2082 516 2089 519 2098 514 2090 520 2090" marker-start="url(#m128)" marker-mid="url(#m128)" marker-end="url(#m128)"/><path d="M531 2095 526 2085 532 2099 520 2081 507 2077 511 2096 506 2078" marker-start="url(#m124)" marker-mid="url(#m124)" marker-end="url(#m124)"/><path d="M517 2085 521 2085 526 2089 512 2092 521 2102 510 2092 534 2098 526 2094 519 2097" marker-start="url(#m129)" marker-mid="url(#m129)" marker-end="url(#m129)"/><path d="M528 2086 533 2093" marker-start="url(#m127)" marker-mid="url(#m127)" marker-end="url(#m127)"/><path d="M542 2074 546 2071 552 2072 555 2072 564 2069 572 2068 578 2070 580 2070 594 2068 605 2069 611 2070 619 2070 624 2069 627 2070 635 2072 642 2072" marker-start="url(#m100)" marker-mid="url(#m100)" marker-end="url(#m100)"/><path d="M543 2073 586 2068 598 2067 615 2068 645 2072" marker-start="url(#m10)" marker-mid="url(#m10)" marker-end="url(#m10)"/><path d="M559 2070 568 2070 591 2068 604 2070 631 2070" marker-start="url(#m101)" marker-mid="url(#m101)" marker-end="url(#m101)"/><path d="M665 2083 658 2083 666 2093 649 2078 659 2085 643 2090 654 2080 666 2075 647 2081 641 2075 641 2073" marker-start="url(#m52)" marker-mid="url(#m52)" marker-end="url(#m52)"/><path d="M662 2079 665 2085 658 2094 659 2091 646 2090 652 2083 650 2090 642 2086 660 2093 666 2080 670 2077 652 2093 667 2080 675 2090 645 2080 643 2085 643 2089" marker-start="url(#m49)" marker-mid="url(#m49)" marker-end="url(#m49)"/><path d="M654 2076 655 2085 651 2082 640 2087" marker-start="url(#m48)" marker-mid="url(#m48)" marker-end="url(#m48)"/><path d="M652 2079 645 2087 654 2081" marker-start="url(#m59)" marker-mid="url(#m59)" marker-end="url(#m59)"/><path d="M552 2120 565 2112 570 2110 575 2110 574 2107 577 2103 583 2102" marker-start="url(#m15)" marker-mid="url(#m15)" marker-end="url(#m15)"/><path d="M557 2119" marker-start="url(#m18)" marker-mid="url(#m18)" marker-end="url(#m18)"/><path d="M563 2116" marker-start="url(#m16)" marker-mid="url(#m16)" marker-end="url(#m16)"/><path d="M591.5 2099 L598.3 2097.8 L603.1 2099.8 L602.3 2107 L596.3 2108.6 L591.5 2105.8 Z" fill="#14926a"/><path d="M596 2101 603 2100 604 2105" marker-start="url(#m113)" marker-mid="url(#m113)" marker-end="url(#m113)"/><path d="M585 2102 586 2110" marker-start="url(#m114)" marker-mid="url(#m114)" marker-end="url(#m114)"/><path d="M584 2098 596 2102" marker-start="url(#m30)" marker-mid="url(#m30)" marker-end="url(#m30)"/><path d="M591 2095" marker-start="url(#m115)" marker-mid="url(#m115)" marker-end="url(#m115)"/><path d="M585 2098 584 2110 598 2095" marker-start="url(#m117)" marker-mid="url(#m117)" marker-end="url(#m117)"/><path d="M587 2110" marker-start="url(#m123)" marker-mid="url(#m123)" marker-end="url(#m123)"/><path d="M607 2106 585 2109" marker-start="url(#m39)" marker-mid="url(#m39)" marker-end="url(#m39)"/><path d="M584 2104 588 2092 608 2113 585 2097 580 2097 601 2094 592 2116" marker-start="url(#m15)" marker-mid="url(#m15)" marker-end="url(#m15)"/><path d="M599 2115 607 2097 584 2112 579 2108 590 2112 617 2101" marker-start="url(#m16)" marker-mid="url(#m16)" marker-end="url(#m16)"/><path d="M587 2091 605 2113 582 2098" marker-start="url(#m41)" marker-mid="url(#m41)" marker-end="url(#m41)"/><path d="M603 2112 614 2097 596 2092 582 2099" marker-start="url(#m18)" marker-mid="url(#m18)" marker-end="url(#m18)"/><path d="M607 2094 619 2090 622 2091 643 2084 658 2084 662 2081" marker-start="url(#m49)" marker-mid="url(#m49)" marker-end="url(#m49)"/><path d="M614 2094 627 2091 629 2087 635 2090 640 2086 647 2084 651 2084 668 2085" marker-start="url(#m48)" marker-mid="url(#m48)" marker-end="url(#m48)"/><path d="M637 2084 649 2084" marker-start="url(#m52)" marker-mid="url(#m52)" marker-end="url(#m52)"/><path d="M293 2037 292 2040 290 2047 293 2050 301 2067 304 2071 304 2070 308 2074 309 2078 312 2089 320 2095 316 2102 315 2105 333 2129" marker-start="url(#m1)" marker-mid="url(#m1)" marker-end="url(#m1)"/><path d="M291 2041 287 2042 288 2044 292 2050 291 2050 295 2056 298 2060 298 2061 299 2062 303 2068 310 2079 307 2083 311 2089 314 2090 317 2097 314 2099 316 2107 320 2107 321 2109 322 2114 322 2114 325 2119 330 2122 333 2123 333 2121 333 2128 337 2134 339 2137 339 2135 337 2140 341 2142" marker-start="url(#m0)" marker-mid="url(#m0)" marker-end="url(#m0)"/><path d="M254 2056 254 2063 269 2062 275 2059 287 2098 238 2110 256 2111 243 2121 251 2120 265 2123 303 2120 313 2121 359 2114 365 2120 376 2118 385 2121 246 2118" marker-start="url(#m0)" marker-mid="url(#m0)" marker-end="url(#m0)"/><path d="M264 2122 274 2133 278 2138 277 2136 286 2143" marker-start="url(#m1)" marker-mid="url(#m1)" marker-end="url(#m1)"/><path d="M262 2121 265 2124 268 2128 269 2130 269 2134 272 2133 284 2143 281 2143 287 2146 290 2147" marker-start="url(#m0)" marker-mid="url(#m0)" marker-end="url(#m0)"/><path d="M350 2128" marker-start="url(#m91)" marker-mid="url(#m91)" marker-end="url(#m91)"/><path d="M256 2186 253 2171 243 2167 255 2163 247 2183 243 2165 244 2180 250 2164 249 2180 244 2175 253 2186 252 2184 256 2177" marker-start="url(#m19)" marker-mid="url(#m19)" marker-end="url(#m19)"/><path d="M242 2177 243 2174" marker-start="url(#m20)" marker-mid="url(#m20)" marker-end="url(#m20)"/><path d="M467 2130 390 2155 459 2124 403 2127 443 2148 405 2144 396 2132 425 2124 525 2130 419 2163 548 2131 407 2119 397 2142 501 2117 471 2128 490 2155 467 2122 382 2124 477 2137 500 2129 519 2134 398 2155 439 2152 382 2123 420 2122 410 2135 485 2128 569 2137 465 2117 400 2123 480 2128 447 2144 514 2125 387 2139 542 2119 403 2121 490 2142 433 2132 436 2131 520 2131" marker-start="url(#m22)" marker-mid="url(#m22)" marker-end="url(#m22)"/><path d="M538 2146 558 2121 467 2151 449 2135 482 2122 512 2153 455 2122 560 2119 511 2123 544 2145 443 2134 428 2155 426 2144 425 2152 473 2119 463 2125 467 2126 483 2153 461 2133 477 2118 491 2117 453 2144 435 2151 396 2120 393 2155 498 2122 453 2152 541 2134 548 2138 416 2155 455 2130 404 2155 473 2142 525 2134 423 2120 420 2141 552 2122 443 2123 526 2140 474 2124 503 2120 485 2137 447 2133" marker-start="url(#m23)" marker-mid="url(#m23)" marker-end="url(#m23)"/><path d="M395 2117 531 2152 505 2156 541 2139 471 2122 505 2130 426 2129 554 2133 551 2125 430 2121 432 2138 395 2134 538 2120 439 2122 536 2122 538 2136 439 2156 432 2140 399 2125 506 2149 430 2138 434 2159 451 2158 523 2122 516 2128 412 2115 496 2131 515 2129 403 2115 412 2146 416 2123 501 2137 387 2131 502 2122 443 2140 448 2138 385 2132 504 2118 411 2115 521 2127 416 2116 442 2115 426 2117 403 2134" marker-start="url(#m24)" marker-mid="url(#m24)" marker-end="url(#m24)"/><path d="M475 2118 387 2125 415 2138 511 2137 568 2127 518 2120 477 2135 508 2137 455 2115 547 2124 387 2130 399 2152 454 2122 409 2143 488 2154 510 2140 519 2143 439 2133" marker-start="url(#m40)" marker-mid="url(#m40)" marker-end="url(#m40)"/><path d="M387 2122 452 2132 429 2159 517 2153 518 2152 431 2115 504 2132 570 2135 425 2159 505 2124 401 2151 502 2141 431 2132 550 2131 500 2133 531 2130 552 2123 400 2149 405 2122 524 2126 401 2161 424 2131 468 2145 442 2151 475 2160" marker-start="url(#m5)" marker-mid="url(#m5)" marker-end="url(#m5)"/><path d="M380 2126 397 2190 416 2206 370 2199 391 2159 432 2210 376 2149 437 2163 440 2153 354 2147 450 2198 443 2156 414 2202 385 2196 405 2139 421 2176 430 2152 387 2189 391 2185 413 2171 393 2202 366 2157 388 2131 434 2144 387 2150 422 2167 400 2199 416 2165 451 2194 363 2166 408 2176 414 2128 449 2182 428 2200 414 2134 439 2199 424 2148 369 2185 408 2171 423 2125 391 2134 435 2149 443 2184 447 2172 444 2134 381 2140 436 2189 354 2182" marker-start="url(#m1)" marker-mid="url(#m1)" marker-end="url(#m1)"/><path d="M414 2211 362 2167 380 2153 408 2175 437 2167 376 2149 418 2193 397 2205 358 2167 387 2183 406 2131 363 2150 394 2159 458 2183 446 2171 424 2181 390 2209 355 2126 401 2131 407 2200 406 2142 354 2137 411 2124 438 2169 419 2157 401 2174 418 2196 440 2138 393 2206 457 2169 385 2150 389 2195 443 2191 398 2142 388 2197 360 2171" marker-start="url(#m0)" marker-mid="url(#m0)" marker-end="url(#m0)"/><path d="M434 2203 456 2162 426 2147 377 2141 436 2194 376 2157 456 2158 395 2201 390 2141 354 2173 353 2181 417 2185 384 2190 430 2143 402 2197 449 2180 386 2202 427 2207 372 2168 424 2195 446 2174 360 2154 363 2135 413 2185 444 2157 440 2202" marker-start="url(#m73)" marker-mid="url(#m73)" marker-end="url(#m73)"/><path d="M476.4 2133.7 L492.4 2131.3 L512.4 2132.9 L524.4 2136.5 L518.4 2142.5 L500.4 2143.3 L480.4 2142.5 Z" fill="#14926a"/><path d="M504 2147 511 2134 503 2140 550 2132 445 2134" marker-start="url(#m29)" marker-mid="url(#m29)" marker-end="url(#m29)"/><path d="M452 2131 520 2144 454 2143 519 2129 526 2141 509 2144 503 2139 489 2150" marker-start="url(#m25)" marker-mid="url(#m25)" marker-end="url(#m25)"/><path d="M523 2135 475 2126 470 2138 550 2132 448 2130 447 2130 521 2134" marker-start="url(#m27)" marker-mid="url(#m27)" marker-end="url(#m27)"/><path d="M526 2149 541 2141 492 2140 456 2138 448 2142 534 2129 520 2129 515 2135 499 2140 453 2136" marker-start="url(#m28)" marker-mid="url(#m28)" marker-end="url(#m28)"/><path d="M510 2131 497 2127 512 2143 542 2150 533 2133 512 2125 512 2150 445 2139 475 2131 515 2133 444 2129" marker-start="url(#m34)" marker-mid="url(#m34)" marker-end="url(#m34)"/><path d="M453 2139 542 2131 461 2130 470 2139" marker-start="url(#m32)" marker-mid="url(#m32)" marker-end="url(#m32)"/><path d="M547 2136 483 2147 489 2131" marker-start="url(#m31)" marker-mid="url(#m31)" marker-end="url(#m31)"/><path d="M460 2141 479 2136 512 2137 482 2149 504 2129 478 2126 503 2146" marker-start="url(#m33)" marker-mid="url(#m33)" marker-end="url(#m33)"/><path d="M545 2145 544 2149 525 2142 546 2144 462 2147 451 2146 473 2144 479 2138 535 2139 530 2136" marker-start="url(#m35)" marker-mid="url(#m35)" marker-end="url(#m35)"/><path d="M471 2142 469 2135 528 2132 471 2142 463 2126 478 2135 468 2139 542 2141 520 2128 472 2134 541 2132" marker-start="url(#m36)" marker-mid="url(#m36)" marker-end="url(#m36)"/><path d="M530 2145 474 2145 520 2132 484 2140 487 2134 536 2133 514 2142" marker-start="url(#m37)" marker-mid="url(#m37)" marker-end="url(#m37)"/><path d="M467 2139 478 2145 451 2139 462 2143" marker-start="url(#m38)" marker-mid="url(#m38)" marker-end="url(#m38)"/><path d="M500 2126 441 2123 492 2149 458 2122 522 2146 559 2138 559 2139 520 2150 492 2122 449 2143 551 2149 522 2128 469 2126 522 2129 457 2149" marker-start="url(#m23)" marker-mid="url(#m23)" marker-end="url(#m23)"/><path d="M474 2126 523 2130 508 2156 533 2149 522 2149 475 2118" marker-start="url(#m40)" marker-mid="url(#m40)" marker-end="url(#m40)"/><path d="M559 2141 477 2126 468 2121 445 2131 503 2126 478 2126 548 2143 556 2133 485 2124 517 2126 449 2125 463 2151 496 2127" marker-start="url(#m24)" marker-mid="url(#m24)" marker-end="url(#m24)"/><path d="M512 2155 492 2151 472 2149 513 2152 501 2127 539 2152" marker-start="url(#m22)" marker-mid="url(#m22)" marker-end="url(#m22)"/><path d="M554 2175 555 2182 491 2176 574 2182 548 2168 554 2174 493 2175" marker-start="url(#m7)" marker-mid="url(#m7)" marker-end="url(#m7)"/><path d="M570 2168 495 2174 538 2169 494 2164 478 2164 480 2172 508 2171 498 2169 533 2179" marker-start="url(#m3)" marker-mid="url(#m3)" marker-end="url(#m3)"/><path d="M569 2178 547 2165" marker-start="url(#m95)" marker-mid="url(#m95)" marker-end="url(#m95)"/><path d="M552 2170 543 2162 470 2167 558 2179 554 2167 471 2170 574 2179" marker-start="url(#m8)" marker-mid="url(#m8)" marker-end="url(#m8)"/><path d="M594 2153 578 2133 591 2167 595 2146 596 2138 594 2136 583 2148 580 2133" marker-start="url(#m126)" marker-mid="url(#m126)" marker-end="url(#m126)"/><path d="M554 2146 567 2145 585 2133 586 2159 586 2146" marker-start="url(#m124)" marker-mid="url(#m124)" marker-end="url(#m124)"/><path d="M552 2136 583 2171 566 2166 562 2157 568 2150 562 2137 595 2154 586 2138 559 2133 565 2158 588 2173 560 2141 584 2161 565 2166 561 2152" marker-start="url(#m125)" marker-mid="url(#m125)" marker-end="url(#m125)"/><path d="M588 2174 583 2161 561 2141 590 2161 579 2172 568 2167 577 2165 587 2174 598 2140 558 2152 579 2160 563 2157 566 2155 596 2146 590 2168 573 2165 577 2166" marker-start="url(#m127)" marker-mid="url(#m127)" marker-end="url(#m127)"/><path d="M574 2140 571 2159 572 2156 579 2136 600 2158 566 2152 567 2160 577 2136 571 2156 567 2151 561 2136 569 2157 598 2156" marker-start="url(#m48)" marker-mid="url(#m48)" marker-end="url(#m48)"/><path d="M563 2142 589 2157 590 2159 572 2135 562 2142 580 2155 577 2150" marker-start="url(#m49)" marker-mid="url(#m49)" marker-end="url(#m49)"/><path d="M588 2135 587 2137" marker-start="url(#m52)" marker-mid="url(#m52)" marker-end="url(#m52)"/><path d="M566 2152 586 2139 584 2150" marker-start="url(#m50)" marker-mid="url(#m50)" marker-end="url(#m50)"/><path d="M570 2165 576 2173 590 2184 590 2186" marker-start="url(#m48)" marker-mid="url(#m48)" marker-end="url(#m48)"/><path d="M573 2170 581 2177 586 2179 593 2189" marker-start="url(#m52)" marker-mid="url(#m52)" marker-end="url(#m52)"/><path d="M583 2182 590 2189 598 2192" marker-start="url(#m49)" marker-mid="url(#m49)" marker-end="url(#m49)"/><path d="M534 2180 511 2195 511 2201 503 2200 491 2208 491 2216 488 2217" marker-start="url(#m12)" marker-mid="url(#m12)" marker-end="url(#m12)"/><path d="M533 2180 529 2177 521 2183 507 2193 510 2191 492 2210 486 2217 482 2222" marker-start="url(#m13)" marker-mid="url(#m13)" marker-end="url(#m13)"/><path d="M524 2180 525 2184 521 2188 504 2202 501 2209" marker-start="url(#m14)" marker-mid="url(#m14)" marker-end="url(#m14)"/><path d="M343.4 2166.5 L352.6 2165.3 L363.4 2166.5 L369.8 2170.5 L370.6 2180.5 L368.6 2188.5 L358.6 2190.9 L348.6 2188.5 L343.4 2180.5 Z" fill="#cc1a06"/><path d="M368 2173 368 2156 373 2164 342 2157 387 2173 388 2171 357 2153 358 2176 345 2189 380 2183 362 2197 362 2181 347 2154 380 2203 356 2183 385 2204 377 2193 373 2160 343 2177 327 2186 362 2150 390 2180 350 2207 384 2164" marker-start="url(#m86)" marker-mid="url(#m86)" marker-end="url(#m86)"/><path d="M329 2156 325 2170 362 2198 352 2161 382 2158 378 2198 341 2154 348 2156" marker-start="url(#m87)" marker-mid="url(#m87)" marker-end="url(#m87)"/><path d="M368 2151 352 2177 336 2193 336 2205 338 2160 348 2173 335 2156 361 2180 358 2191 337 2149" marker-start="url(#m85)" marker-mid="url(#m85)" marker-end="url(#m85)"/><path d="M333 2180 346 2189 368 2151 330 2152 366 2152 336 2181 362 2166 378 2179 351 2168 381 2176 324 2173 334 2176 387 2177 373 2151 349 2175 381 2176 370 2153 336 2199 359 2202 342 2193 364 2168" marker-start="url(#m79)" marker-mid="url(#m79)" marker-end="url(#m79)"/><path d="M373 2181 337 2158 335 2177 381 2156 379 2176 363 2187 381 2192 381 2206 345 2175 330 2172 359 2175 373 2155 359 2157 381 2201" marker-start="url(#m80)" marker-mid="url(#m80)" marker-end="url(#m80)"/><path d="M327 2180 357 2191 363 2205 354 2199 346 2176 354 2198 384 2163 380 2177 330 2162 334 2157 385 2183 355 2206 351 2157" marker-start="url(#m81)" marker-mid="url(#m81)" marker-end="url(#m81)"/><path d="M361 2151 343 2176 375 2196 358 2181 369 2183 336 2204 343 2148 346 2194 367 2193 363 2175 338 2202 328 2154 355 2152 345 2193 342 2178 347 2151 337 2181 360 2207" marker-start="url(#m82)" marker-mid="url(#m82)" marker-end="url(#m82)"/><path d="M354 2160 327 2156 358 2160 347 2188 322 2157 357 2209 381 2198 359 2196 355 2188 328 2187 369 2195 333 2149 384 2202 347 2186 376 2186 330 2164" marker-start="url(#m84)" marker-mid="url(#m84)" marker-end="url(#m84)"/><path d="M355 2164 360 2188 387 2188 360 2161 349 2191 387 2174 324 2181 382 2159 360 2157 364 2178 347 2172 327 2151 369 2156 348 2199 366 2166 361 2200" marker-start="url(#m83)" marker-mid="url(#m83)" marker-end="url(#m83)"/><path d="M324 2154 336 2146 379 2152 346 2204 327 2161 356 2143 389 2197 388 2175 345 2214 392 2163 364 2149 329 2200 384 2193 386 2164 381 2152 329 2196 357 2151 347 2208 384 2210 363 2212 368 2210 322 2175 386 2178 354 2151 361 2205 365 2214 327 2150 388 2173 320 2186 369 2204 322 2154 325 2191" marker-start="url(#m89)" marker-mid="url(#m89)" marker-end="url(#m89)"/><path d="M374 2207 346 2211 376 2209 389 2187 383 2192 343 2211 383 2207 395 2170 384 2207 384 2161 322 2162 385 2201 326 2200 374 2205 344 2149 322 2183 331 2149 337 2198 388 2177 350 2205 381 2195 398 2184 323 2182 390 2195" marker-start="url(#m2)" marker-mid="url(#m2)" marker-end="url(#m2)"/><path d="M387 2186 382 2193 327 2155 344 2149 333 2192 394 2173 331 2205 375 2151 363 2150 322 2182 385 2166 388 2172 383 2161 367 2160 353 2208 381 2205 337 2206 322 2190 391 2168 385 2184 340 2202 362 2216 384 2153 329 2205" marker-start="url(#m88)" marker-mid="url(#m88)" marker-end="url(#m88)"/><path d="M375 2156 395 2166 401 2184 420 2190 410 2166 396 2160 440 2175 386 2188 386 2190 426 2166 388 2191 447 2200 379 2180 392 2163 429 2162 444 2167 381 2166 447 2165 407 2182 378 2180 388 2169 409 2194 426 2169 424 2164 405 2162 395 2181 376 2151 403 2187 448 2174 403 2156 433 2169 394 2188 444 2194" marker-start="url(#m2)" marker-mid="url(#m2)" marker-end="url(#m2)"/><path d="M443 2166 382 2191 414 2175 436 2161 375 2181 430 2170 440 2177 444 2175 411 2157 420 2201 375 2176 414 2180 380 2185 445 2192 379 2161 388 2156 441 2175 404 2180 450 2165 419 2165 372 2184 448 2170 380 2155 394 2188 395 2169 449 2165 392 2187" marker-start="url(#m89)" marker-mid="url(#m89)" marker-end="url(#m89)"/><path d="M435 2152 419 2170 404 2151 382 2153 384 2152 438 2170 392 2174 399 2172 428 2174 406 2162 410 2152 438 2175 442 2173 399 2153 440 2164" marker-start="url(#m90)" marker-mid="url(#m90)" marker-end="url(#m90)"/><path d="M416 2162 379 2159 438 2159 379 2167 429 2169 421 2155 387 2161 435 2151 443 2156 436 2152" marker-start="url(#m91)" marker-mid="url(#m91)" marker-end="url(#m91)"/><path d="M272 2144 272 2147 278 2148 283 2147 289 2149 291 2149 306 2153 308 2152 314 2152 316 2152" marker-start="url(#m2)" marker-mid="url(#m2)" marker-end="url(#m2)"/><path d="M280 2148 282 2153 292 2150 298 2148 298 2151 301 2151 304 2153 306 2152" marker-start="url(#m89)" marker-mid="url(#m89)" marker-end="url(#m89)"/><path d="M285 2168 275 2177 274 2169 285 2170 279 2168 267 2181 283 2167 267 2168 281 2174 272 2182 286 2172 283 2180 272 2174 285 2174 282 2181 278 2170 276 2178" marker-start="url(#m2)" marker-mid="url(#m2)" marker-end="url(#m2)"/><path d="M278 2180 264 2183 281 2181 281 2172 282 2182 273 2179 275 2183 264 2179" marker-start="url(#m89)" marker-mid="url(#m89)" marker-end="url(#m89)"/><path d="M262 2197 264 2202 268 2206 270 2202 276 2211 276 2215 278 2216 280 2216 283 2221 288 2224 296 2226 302 2230 301 2230" marker-start="url(#m2)" marker-mid="url(#m2)" marker-end="url(#m2)"/><path d="M265 2202 275 2210 284 2218 291 2219 290 2222 295 2224" marker-start="url(#m89)" marker-mid="url(#m89)" marker-end="url(#m89)"/><path d="M361 2252 376 2255 392 2246 359 2220 341 2214 345 2249 317 2236 362 2219 330 2221 334 2232 359 2242 347 2266 355 2254 344 2221 336 2248 372 2255 377 2255 328 2235 366 2268 375 2245 333 2234 362 2249 348 2224 390 2246 334 2262 366 2246 379 2234 370 2264 373 2254 334 2230 317 2252 338 2229 358 2242 339 2265 348 2231 350 2226" marker-start="url(#m2)" marker-mid="url(#m2)" marker-end="url(#m2)"/><path d="M320 2241 390 2251 360 2230 347 2251 332 2214 345 2216 343 2269 323 2255 355 2251 336 2238 347 2248 382 2239 346 2253 393 2246 340 2239 322 2253 354 2256 346 2262 334 2247 355 2236 382 2221 342 2232 336 2223 342 2213 349 2240 340 2238 323 2256 328 2240 318 2244 384 2250 327 2260 376 2248 363 2254 392 2246 365 2231 330 2252 359 2268 358 2254 367 2264 348 2256 339 2264 316 2227 324 2216 320 2247 382 2227 367 2239 320 2254 327 2245 370 2248 331 2238 355 2232 320 2215 371 2225 323 2254" marker-start="url(#m89)" marker-mid="url(#m89)" marker-end="url(#m89)"/><path d="M398 2247 393 2227 365 2205 360 2206 381 2215 391 2246 372 2213 386 2248 380 2225 370 2209 388 2228 385 2206 375 2226 357 2226 375 2239 377 2213 377 2242 391 2235 359 2209" marker-start="url(#m0)" marker-mid="url(#m0)" marker-end="url(#m0)"/><path d="M353 2217 397 2241 380 2244 357 2220 362 2222 397 2219 384 2222 385 2248 365 2210 378 2209 361 2240 384 2234 378 2212 382 2231 388 2215 365 2231 393 2231 388 2231 388 2241 396 2226 365 2246 371 2204 370 2240 385 2241 396 2239 388 2224" marker-start="url(#m1)" marker-mid="url(#m1)" marker-end="url(#m1)"/><path d="M257 2238 322 2272 414 2254 421 2255 410 2248 418 2260 426 2252 449 2216 462 2221 475 2218 385 2240 392 2250 398 2245" marker-start="url(#m2)" marker-mid="url(#m2)" marker-end="url(#m2)"/><path d="M269 2237 280 2238 294 2254 312 2258" marker-start="url(#m91)" marker-mid="url(#m91)" marker-end="url(#m91)"/><path d="M272 2254" marker-start="url(#m0)" marker-mid="url(#m0)" marker-end="url(#m0)"/><path d="M504 2266 488 2236 519 2251 509 2254 520 2254 500 2232 501 2260 496 2234 521 2264 509 2257 490 2251 506 2258" marker-start="url(#m88)" marker-mid="url(#m88)" marker-end="url(#m88)"/><path d="M508 2269 493 2237 493 2255 514 2251 515 2240 501 2256 506 2262 516 2267 494 2236 517 2251 510 2258 516 2264 512 2244 502 2257 519 2261" marker-start="url(#m99)" marker-mid="url(#m99)" marker-end="url(#m99)"/><path d="M502 2258 499 2237 506 2251 486 2238 514 2249 495 2233 495 2230 510 2270 484 2234 501 2266 495 2261 500 2241 506 2259 506 2232 489 2249 510 2247 490 2258 488 2233" marker-start="url(#m98)" marker-mid="url(#m98)" marker-end="url(#m98)"/></g>
<polyline points="107.4,2220.8 115,2220 122.6,2219.2 130.2,2218.4 137.9,2217.5 145.5,2216.7 153.1,2215.8 160.7,2215 168.3,2214.1 175.9,2213.2 183.5,2212.3 191.1,2211.4 198.8,2210.4 206.4,2209.5 214,2208.5 221.6,2207.5 229.2,2206.5 236.8,2205.5 244.4,2204.5 252,2203.5 259.7,2202.4 267.3,2201.3 274.9,2200.2 282.5,2199.1 290.1,2198 297.7,2196.8 305.3,2195.7 313,2194.5 320.6,2193.3 328.2,2192 335.8,2190.8 343.4,2189.5 351,2188.2 358.6,2186.9 366.2,2185.6 373.9,2184.3 381.5,2182.9 389.1,2181.5 396.7,2180.1 404.3,2178.6 411.9,2177.2 419.5,2175.7 427.1,2174.2 434.8,2172.7 442.4,2171.1 450,2169.5 457.6,2167.9 465.2,2166.3 472.8,2164.6 480.4,2162.9 488,2161.2 495.7,2159.5 503.3,2157.7 510.9,2155.9 518.5,2154.1 526.1,2152.2 533.7,2150.4 541.3,2148.4 549,2146.5 556.6,2144.5 564.2,2142.5 571.8,2140.5 579.4,2138.4 587,2136.3 594.6,2134.2 602.2,2132 609.9,2129.8 617.5,2127.5 625.1,2125.3 632.7,2123 640.3,2120.6 647.9,2118.2 655.5,2115.8 663.1,2113.3 670.8,2110.8 678.4,2108.3 686,2105.7 693.6,2103 701.2,2100.4 708.8,2097.7 716.4,2094.9 724.1,2092.1 731.7,2089.3 739.3,2086.4 746.9,2083.4 754.5,2080.4 762.1,2077.4 769.7,2074.3 777.3,2071.2 785,2068 792.6,2064.8 800.2,2061.5 807.8,2058.2 815.4,2054.8 823,2051.3 830.6,2047.8 838.2,2044.3 845.9,2040.7 853.5,2037 861.1,2033.3 868.7,2029.5" fill="none" stroke="#ef4a2a" stroke-width="2"/>
<path d="M107.4 2452.7v-8M107.4 1721.2v8M122.6 2452.7v-8M122.6 1721.2v8M137.9 2452.7v-8M137.9 1721.2v8M153.1 2452.7v-8M153.1 1721.2v8M168.3 2452.7v-8M168.3 1721.2v8M183.5 2452.7v-15M183.5 1721.2v15M198.8 2452.7v-8M198.8 1721.2v8M214 2452.7v-8M214 1721.2v8M229.2 2452.7v-8M229.2 1721.2v8M244.4 2452.7v-8M244.4 1721.2v8M259.7 2452.7v-8M259.7 1721.2v8M274.9 2452.7v-8M274.9 1721.2v8M290.1 2452.7v-8M290.1 1721.2v8M305.3 2452.7v-8M305.3 1721.2v8M320.6 2452.7v-8M320.6 1721.2v8M335.8 2452.7v-15M335.8 1721.2v15M351 2452.7v-8M351 1721.2v8M366.2 2452.7v-8M366.2 1721.2v8M381.5 2452.7v-8M381.5 1721.2v8M396.7 2452.7v-8M396.7 1721.2v8M411.9 2452.7v-8M411.9 1721.2v8M427.1 2452.7v-8M427.1 1721.2v8M442.4 2452.7v-8M442.4 1721.2v8M457.6 2452.7v-8M457.6 1721.2v8M472.8 2452.7v-8M472.8 1721.2v8M488 2452.7v-15M488 1721.2v15M503.3 2452.7v-8M503.3 1721.2v8M518.5 2452.7v-8M518.5 1721.2v8M533.7 2452.7v-8M533.7 1721.2v8M549 2452.7v-8M549 1721.2v8M564.2 2452.7v-8M564.2 1721.2v8M579.4 2452.7v-8M579.4 1721.2v8M594.6 2452.7v-8M594.6 1721.2v8M609.9 2452.7v-8M609.9 1721.2v8M625.1 2452.7v-8M625.1 1721.2v8M640.3 2452.7v-15M640.3 1721.2v15M655.5 2452.7v-8M655.5 1721.2v8M670.8 2452.7v-8M670.8 1721.2v8M686 2452.7v-8M686 1721.2v8M701.2 2452.7v-8M701.2 1721.2v8M716.4 2452.7v-8M716.4 1721.2v8M731.7 2452.7v-8M731.7 1721.2v8M746.9 2452.7v-8M746.9 1721.2v8M762.1 2452.7v-8M762.1 1721.2v8M777.3 2452.7v-8M777.3 1721.2v8M792.6 2452.7v-15M792.6 1721.2v15M807.8 2452.7v-8M807.8 1721.2v8M823 2452.7v-8M823 1721.2v8M838.2 2452.7v-8M838.2 1721.2v8M853.5 2452.7v-8M853.5 1721.2v8M868.7 2452.7v-8M868.7 1721.2v8M107.4 2452.7h15M868.7 2452.7h-15M107.4 2434.4h8M868.7 2434.4h-8M107.4 2416.1h8M868.7 2416.1h-8M107.4 2397.8h8M868.7 2397.8h-8M107.4 2379.5h8M868.7 2379.5h-8M107.4 2361.3h8M868.7 2361.3h-8M107.4 2343h8M868.7 2343h-8M107.4 2324.7h8M868.7 2324.7h-8M107.4 2306.4h8M868.7 2306.4h-8M107.4 2288.1h8M868.7 2288.1h-8M107.4 2269.8h15M868.7 2269.8h-15M107.4 2251.5h8M868.7 2251.5h-8M107.4 2233.2h8M868.7 2233.2h-8M107.4 2215h8M868.7 2215h-8M107.4 2196.7h8M868.7 2196.7h-8M107.4 2178.4h8M868.7 2178.4h-8M107.4 2160.1h8M868.7 2160.1h-8M107.4 2141.8h8M868.7 2141.8h-8M107.4 2123.5h8M868.7 2123.5h-8M107.4 2105.2h8M868.7 2105.2h-8M107.4 2086.9h15M868.7 2086.9h-15M107.4 2068.7h8M868.7 2068.7h-8M107.4 2050.4h8M868.7 2050.4h-8M107.4 2032.1h8M868.7 2032.1h-8M107.4 2013.8h8M868.7 2013.8h-8M107.4 1995.5h8M868.7 1995.5h-8M107.4 1977.2h8M868.7 1977.2h-8M107.4 1958.9h8M868.7 1958.9h-8M107.4 1940.7h8M868.7 1940.7h-8M107.4 1922.4h8M868.7 1922.4h-8M107.4 1904.1h15M868.7 1904.1h-15M107.4 1885.8h8M868.7 1885.8h-8M107.4 1867.5h8M868.7 1867.5h-8M107.4 1849.2h8M868.7 1849.2h-8M107.4 1830.9h8M868.7 1830.9h-8M107.4 1812.6h8M868.7 1812.6h-8M107.4 1794.3h8M868.7 1794.3h-8M107.4 1776.1h8M868.7 1776.1h-8M107.4 1757.8h8M868.7 1757.8h-8M107.4 1739.5h8M868.7 1739.5h-8M107.4 1721.2h15M868.7 1721.2h-15" stroke="#111" stroke-width="2.6" fill="none"/>
<rect x="107.4" y="1721.2" width="761.3" height="731.5" fill="none" stroke="#111" stroke-width="3" stroke-linejoin="round"/>
<text transform="translate(97.4 1742.2) scale(1.1 1)" text-anchor="end" class="tl">3</text>
<text transform="translate(97.4 1915.1) scale(1.1 1)" text-anchor="end" class="tl">2</text>
<text transform="translate(97.4 2097.9) scale(1.1 1)" text-anchor="end" class="tl">1</text>
<text transform="translate(97.4 2280.8) scale(1.1 1)" text-anchor="end" class="tl">0</text>
<text transform="translate(97.4 2452.7) scale(1.1 1)" text-anchor="end" class="tl">-1</text>
<text transform="translate(183.5 2497.2) scale(1.1 1)" text-anchor="middle" class="tl">-30</text>
<text transform="translate(335.8 2497.2) scale(1.1 1)" text-anchor="middle" class="tl">-20</text>
<text transform="translate(488 2497.2) scale(1.1 1)" text-anchor="middle" class="tl">-10</text>
<text transform="translate(640.3 2497.2) scale(1.1 1)" text-anchor="middle" class="tl">0</text>
<text transform="translate(792.6 2497.2) scale(1.1 1)" text-anchor="middle" class="tl">10</text>
<text x="488.1" y="2534.7" text-anchor="middle" class="al">Z [dBZ]</text>
<text transform="translate(40.4 2086.9) rotate(-90) scale(1.05 1)" text-anchor="middle" class="al">V<tspan class="sub" dy="8">T</tspan><tspan dy="-8"> [m/s]</tspan></text>
<text x="143.9" y="1803.8" class="ti" textLength="255.9" lengthAdjust="spacingAndGlyphs">(e) 60 min</text>
<text x="576.4" y="1791.7" class="eq" textLength="64" lengthAdjust="spacingAndGlyphs">Vt =</text>
<text x="661.4" y="1791.7" class="eq" textLength="101" lengthAdjust="spacingAndGlyphs">0.816Z</text>
<text x="769.4" y="1775" class="eq sup" textLength="47.5" lengthAdjust="spacingAndGlyphs">0.138</text>
<text transform="translate(738 2210.6) scale(1.12 1)" class="lg">0.0</text>
<text transform="translate(738 2237.3) scale(1.12 1)" class="lg">0.1</text>
<text transform="translate(738 2264) scale(1.12 1)" class="lg">0.2</text>
<text transform="translate(738 2290.7) scale(1.12 1)" class="lg">0.3</text>
<text transform="translate(738 2317.4) scale(1.12 1)" class="lg">0.4</text>
<text transform="translate(738 2344.1) scale(1.12 1)" class="lg">0.5</text>
<text transform="translate(738 2370.8) scale(1.12 1)" class="lg">0.6</text>
<text transform="translate(738 2397.5) scale(1.12 1)" class="lg">0.7</text>
<circle cx="817.2" cy="2204" r="3.8" fill="none" stroke="#333" stroke-width="1.7"/>
<circle cx="817.2" cy="2230.7" r="6.9" fill="none" stroke="#333" stroke-width="1.7"/>
<circle cx="817.2" cy="2257.4" r="9.5" fill="none" stroke="#333" stroke-width="1.7"/>
<circle cx="817.2" cy="2284.1" r="12.6" fill="none" stroke="#333" stroke-width="1.7"/>
<circle cx="817.2" cy="2310.8" r="15.9" fill="none" stroke="#333" stroke-width="1.7"/>
<circle cx="817.2" cy="2337.5" r="19" fill="none" stroke="#333" stroke-width="1.7"/>
<circle cx="817.2" cy="2364.2" r="22" fill="none" stroke="#333" stroke-width="1.7"/>
<circle cx="817.2" cy="2390.9" r="24.8" fill="none" stroke="#333" stroke-width="1.7"/>
</g>
<defs><marker id="m0" markerUnits="userSpaceOnUse" markerWidth="10" markerHeight="10" refX="5" refY="5" overflow="visible"><circle cx="5" cy="5" r="3" fill="none" stroke="#2a9a3c" stroke-width="1.9"/></marker><marker id="m1" markerUnits="userSpaceOnUse" markerWidth="11" markerHeight="11" refX="5.5" refY="5.5" overflow="visible"><circle cx="5.5" cy="5.5" r="3.5" fill="none" stroke="#2a9a3c" stroke-width="1.9"/></marker><marker id="m2" markerUnits="userSpaceOnUse" markerWidth="10" markerHeight="10" refX="5" refY="5" overflow="visible"><circle cx="5" cy="5" r="3" fill="none" stroke="#d2301a" stroke-width="1.9"/></marker><marker id="m3" markerUnits="userSpaceOnUse" markerWidth="16" markerHeight="16" refX="8" refY="8" overflow="visible"><circle cx="8" cy="8" r="6" fill="none" stroke="#2a3a7a" stroke-width="1.7"/></marker><marker id="m4" markerUnits="userSpaceOnUse" markerWidth="10" markerHeight="10" refX="5" refY="5" overflow="visible"><circle cx="5" cy="5" r="3" fill="none" stroke="#2a3a7a" stroke-width="1.9"/></marker><marker id="m5" markerUnits="userSpaceOnUse" markerWidth="11" markerHeight="11" refX="5.5" refY="5.5" overflow="visible"><circle cx="5.5" cy="5.5" r="3.5" fill="none" stroke="#24a07a" stroke-width="1.9"/></marker><marker id="m6" markerUnits="userSpaceOnUse" markerWidth="10" markerHeight="10" refX="5" refY="5" overflow="visible"><circle cx="5" cy="5" r="3" fill="none" stroke="#24a07a" stroke-width="1.9"/></marker><marker id="m7" markerUnits="userSpaceOnUse" markerWidth="17" markerHeight="17" refX="8.5" refY="8.5" overflow="visible"><circle cx="8.5" cy="8.5" r="6.5" fill="none" stroke="#2a3a7a" stroke-width="1.6"/></marker><marker id="m8" markerUnits="userSpaceOnUse" markerWidth="15" markerHeight="15" refX="7.5" refY="7.5" overflow="visible"><circle cx="7.5" cy="7.5" r="5.5" fill="none" stroke="#2a3a7a" stroke-width="1.7"/></marker><marker id="m9" markerUnits="userSpaceOnUse" markerWidth="18" markerHeight="18" refX="9" refY="9" overflow="visible"><circle cx="9" cy="9" r="7" fill="none" stroke="#2a3a7a" stroke-width="1.6"/></marker><marker id="m10" markerUnits="userSpaceOnUse" markerWidth="19" markerHeight="19" refX="9.5" refY="9.5" overflow="visible"><circle cx="9.5" cy="9.5" r="7.5" fill="none" stroke="#2a3a7a" stroke-width="1.6"/></marker><marker id="m11" markerUnits="userSpaceOnUse" markerWidth="19" markerHeight="19" refX="9.5" refY="9.5" overflow="visible"><circle cx="9.5" cy="9.5" r="7.5" fill="none" stroke="#1f8a7c" stroke-width="1.6"/></marker><marker id="m12" markerUnits="userSpaceOnUse" markerWidth="18" markerHeight="18" refX="9" refY="9" overflow="visible"><circle cx="9" cy="9" r="7" fill="none" stroke="#1f8a7c" stroke-width="1.6"/></marker><marker id="m13" markerUnits="userSpaceOnUse" markerWidth="17" markerHeight="17" refX="8.5" refY="8.5" overflow="visible"><circle cx="8.5" cy="8.5" r="6.5" fill="none" stroke="#1f8a7c" stroke-width="1.6"/></marker><marker id="m14" markerUnits="userSpaceOnUse" markerWidth="16" markerHeight="16" refX="8" refY="8" overflow="visible"><circle cx="8" cy="8" r="6" fill="none" stroke="#1f8a7c" stroke-width="1.7"/></marker><marker id="m15" markerUnits="userSpaceOnUse" markerWidth="18" markerHeight="18" refX="9" refY="9" overflow="visible"><circle cx="9" cy="9" r="7" fill="none" stroke="#24a07a" stroke-width="1.6"/></marker><marker id="m16" markerUnits="userSpaceOnUse" markerWidth="19" markerHeight="19" refX="9.5" refY="9.5" overflow="visible"><circle cx="9.5" cy="9.5" r="7.5" fill="none" stroke="#24a07a" stroke-width="1.6"/></marker><marker id="m17" markerUnits="userSpaceOnUse" markerWidth="20" markerHeight="20" refX="10" refY="10" overflow="visible"><circle cx="10" cy="10" r="8" fill="none" stroke="#24a07a" stroke-width="1.6"/></marker><marker id="m18" markerUnits="userSpaceOnUse" markerWidth="17" markerHeight="17" refX="8.5" refY="8.5" overflow="visible"><circle cx="8.5" cy="8.5" r="6.5" fill="none" stroke="#24a07a" stroke-width="1.6"/></marker><marker id="m19" markerUnits="userSpaceOnUse" markerWidth="10" markerHeight="10" refX="5" refY="5" overflow="visible"><circle cx="5" cy="5" r="3" fill="none" stroke="#1f8a7c" stroke-width="1.9"/></marker><marker id="m20" markerUnits="userSpaceOnUse" markerWidth="11" markerHeight="11" refX="5.5" refY="5.5" overflow="visible"><circle cx="5.5" cy="5.5" r="3.5" fill="none" stroke="#1f8a7c" stroke-width="1.9"/></marker><marker id="m21" markerUnits="userSpaceOnUse" markerWidth="12" markerHeight="12" refX="6" refY="6" overflow="visible"><circle cx="6" cy="6" r="4" fill="none" stroke="#1c2a62" stroke-width="1.9"/></marker><marker id="m22" markerUnits="userSpaceOnUse" markerWidth="12" markerHeight="12" refX="6" refY="6" overflow="visible"><circle cx="6" cy="6" r="4" fill="none" stroke="#24a07a" stroke-width="1.9"/></marker><marker id="m23" markerUnits="userSpaceOnUse" markerWidth="14" markerHeight="14" refX="7" refY="7" overflow="visible"><circle cx="7" cy="7" r="5" fill="none" stroke="#24a07a" stroke-width="1.7"/></marker><marker id="m24" markerUnits="userSpaceOnUse" markerWidth="13" markerHeight="13" refX="6.5" refY="6.5" overflow="visible"><circle cx="6.5" cy="6.5" r="4.5" fill="none" stroke="#24a07a" stroke-width="1.7"/></marker><marker id="m25" markerUnits="userSpaceOnUse" markerWidth="14" markerHeight="14" refX="7" refY="7" overflow="visible"><circle cx="7" cy="7" r="5" fill="none" stroke="#14926a" stroke-width="1.7"/></marker><marker id="m26" markerUnits="userSpaceOnUse" markerWidth="16" markerHeight="16" refX="8" refY="8" overflow="visible"><circle cx="8" cy="8" r="6" fill="none" stroke="#14926a" stroke-width="1.7"/></marker><marker id="m27" markerUnits="userSpaceOnUse" markerWidth="15" markerHeight="15" refX="7.5" refY="7.5" overflow="visible"><circle cx="7.5" cy="7.5" r="5.5" fill="none" stroke="#14926a" stroke-width="1.7"/></marker><marker id="m28" markerUnits="userSpaceOnUse" markerWidth="13" markerHeight="13" refX="6.5" refY="6.5" overflow="visible"><circle cx="6.5" cy="6.5" r="4.5" fill="none" stroke="#14926a" stroke-width="1.7"/></marker><marker id="m29" markerUnits="userSpaceOnUse" markerWidth="12" markerHeight="12" refX="6" refY="6" overflow="visible"><circle cx="6" cy="6" r="4" fill="none" stroke="#14926a" stroke-width="1.9"/></marker><marker id="m30" markerUnits="userSpaceOnUse" markerWidth="16" markerHeight="16" refX="8" refY="8" overflow="visible"><circle cx="8" cy="8" r="6" fill="none" stroke="#159d72" stroke-width="1.7"/></marker><marker id="m31" markerUnits="userSpaceOnUse" markerWidth="15" markerHeight="15" refX="7.5" refY="7.5" overflow="visible"><circle cx="7.5" cy="7.5" r="5.5" fill="none" stroke="#159d72" stroke-width="1.7"/></marker><marker id="m32" markerUnits="userSpaceOnUse" markerWidth="12" markerHeight="12" refX="6" refY="6" overflow="visible"><circle cx="6" cy="6" r="4" fill="none" stroke="#159d72" stroke-width="1.9"/></marker><marker id="m33" markerUnits="userSpaceOnUse" markerWidth="14" markerHeight="14" refX="7" refY="7" overflow="visible"><circle cx="7" cy="7" r="5" fill="none" stroke="#159d72" stroke-width="1.7"/></marker><marker id="m34" markerUnits="userSpaceOnUse" markerWidth="13" markerHeight="13" refX="6.5" refY="6.5" overflow="visible"><circle cx="6.5" cy="6.5" r="4.5" fill="none" stroke="#159d72" stroke-width="1.7"/></marker><marker id="m35" markerUnits="userSpaceOnUse" markerWidth="14" markerHeight="14" refX="7" refY="7" overflow="visible"><circle cx="7" cy="7" r="5" fill="none" stroke="#12835f" stroke-width="1.7"/></marker><marker id="m36" markerUnits="userSpaceOnUse" markerWidth="13" markerHeight="13" refX="6.5" refY="6.5" overflow="visible"><circle cx="6.5" cy="6.5" r="4.5" fill="none" stroke="#12835f" stroke-width="1.7"/></marker><marker id="m37" markerUnits="userSpaceOnUse" markerWidth="15" markerHeight="15" refX="7.5" refY="7.5" overflow="visible"><circle cx="7.5" cy="7.5" r="5.5" fill="none" stroke="#12835f" stroke-width="1.7"/></marker><marker id="m38" markerUnits="userSpaceOnUse" markerWidth="12" markerHeight="12" refX="6" refY="6" overflow="visible"><circle cx="6" cy="6" r="4" fill="none" stroke="#12835f" stroke-width="1.9"/></marker><marker id="m39" markerUnits="userSpaceOnUse" markerWidth="16" markerHeight="16" refX="8" refY="8" overflow="visible"><circle cx="8" cy="8" r="6" fill="none" stroke="#12835f" stroke-width="1.7"/></marker><marker id="m40" markerUnits="userSpaceOnUse" markerWidth="15" markerHeight="15" refX="7.5" refY="7.5" overflow="visible"><circle cx="7.5" cy="7.5" r="5.5" fill="none" stroke="#24a07a" stroke-width="1.7"/></marker><marker id="m41" markerUnits="userSpaceOnUse" markerWidth="16" markerHeight="16" refX="8" refY="8" overflow="visible"><circle cx="8" cy="8" r="6" fill="none" stroke="#24a07a" stroke-width="1.7"/></marker><marker id="m42" markerUnits="userSpaceOnUse" markerWidth="21" markerHeight="21" refX="10.5" refY="10.5" overflow="visible"><circle cx="10.5" cy="10.5" r="8.5" fill="none" stroke="#24a07a" stroke-width="1.6"/></marker><marker id="m43" markerUnits="userSpaceOnUse" markerWidth="16" markerHeight="16" refX="8" refY="8" overflow="visible"><circle cx="8" cy="8" r="6" fill="none" stroke="#175168" stroke-width="1.7"/></marker><marker id="m44" markerUnits="userSpaceOnUse" markerWidth="20" markerHeight="20" refX="10" refY="10" overflow="visible"><circle cx="10" cy="10" r="8" fill="none" stroke="#175168" stroke-width="1.6"/></marker><marker id="m45" markerUnits="userSpaceOnUse" markerWidth="19" markerHeight="19" refX="9.5" refY="9.5" overflow="visible"><circle cx="9.5" cy="9.5" r="7.5" fill="none" stroke="#175168" stroke-width="1.6"/></marker><marker id="m46" markerUnits="userSpaceOnUse" markerWidth="17" markerHeight="17" refX="8.5" refY="8.5" overflow="visible"><circle cx="8.5" cy="8.5" r="6.5" fill="none" stroke="#175168" stroke-width="1.6"/></marker><marker id="m47" markerUnits="userSpaceOnUse" markerWidth="18" markerHeight="18" refX="9" refY="9" overflow="visible"><circle cx="9" cy="9" r="7" fill="none" stroke="#175168" stroke-width="1.6"/></marker><marker id="m48" markerUnits="userSpaceOnUse" markerWidth="18" markerHeight="18" refX="9" refY="9" overflow="visible"><circle cx="9" cy="9" r="7" fill="none" stroke="#1a5a74" stroke-width="1.6"/></marker><marker id="m49" markerUnits="userSpaceOnUse" markerWidth="19" markerHeight="19" refX="9.5" refY="9.5" overflow="visible"><circle cx="9.5" cy="9.5" r="7.5" fill="none" stroke="#1a5a74" stroke-width="1.6"/></marker><marker id="m50" markerUnits="userSpaceOnUse" markerWidth="17" markerHeight="17" refX="8.5" refY="8.5" overflow="visible"><circle cx="8.5" cy="8.5" r="6.5" fill="none" stroke="#1a5a74" stroke-width="1.6"/></marker><marker id="m51" markerUnits="userSpaceOnUse" markerWidth="16" markerHeight="16" refX="8" refY="8" overflow="visible"><circle cx="8" cy="8" r="6" fill="none" stroke="#1a5a74" stroke-width="1.7"/></marker><marker id="m52" markerUnits="userSpaceOnUse" markerWidth="20" markerHeight="20" refX="10" refY="10" overflow="visible"><circle cx="10" cy="10" r="8" fill="none" stroke="#1a5a74" stroke-width="1.6"/></marker><marker id="m53" markerUnits="userSpaceOnUse" markerWidth="18" markerHeight="18" refX="9" refY="9" overflow="visible"><circle cx="9" cy="9" r="7" fill="none" stroke="#1c617d" stroke-width="1.6"/></marker><marker id="m54" markerUnits="userSpaceOnUse" markerWidth="16" markerHeight="16" refX="8" refY="8" overflow="visible"><circle cx="8" cy="8" r="6" fill="none" stroke="#1c617d" stroke-width="1.7"/></marker><marker id="m55" markerUnits="userSpaceOnUse" markerWidth="17" markerHeight="17" refX="8.5" refY="8.5" overflow="visible"><circle cx="8.5" cy="8.5" r="6.5" fill="none" stroke="#1c617d" stroke-width="1.6"/></marker><marker id="m56" markerUnits="userSpaceOnUse" markerWidth="19" markerHeight="19" refX="9.5" refY="9.5" overflow="visible"><circle cx="9.5" cy="9.5" r="7.5" fill="none" stroke="#1c617d" stroke-width="1.6"/></marker><marker id="m57" markerUnits="userSpaceOnUse" markerWidth="20" markerHeight="20" refX="10" refY="10" overflow="visible"><circle cx="10" cy="10" r="8" fill="none" stroke="#1c617d" stroke-width="1.6"/></marker><marker id="m58" markerUnits="userSpaceOnUse" markerWidth="22" markerHeight="22" refX="11" refY="11" overflow="visible"><circle cx="11" cy="11" r="9" fill="none" stroke="#1a5a74" stroke-width="1.6"/></marker><marker id="m59" markerUnits="userSpaceOnUse" markerWidth="21" markerHeight="21" refX="10.5" refY="10.5" overflow="visible"><circle cx="10.5" cy="10.5" r="8.5" fill="none" stroke="#1a5a74" stroke-width="1.6"/></marker><marker id="m60" markerUnits="userSpaceOnUse" markerWidth="23" markerHeight="23" refX="11.5" refY="11.5" overflow="visible"><circle cx="11.5" cy="11.5" r="9.5" fill="none" stroke="#1a5a74" stroke-width="1.6"/></marker><marker id="m61" markerUnits="userSpaceOnUse" markerWidth="20" markerHeight="20" refX="10" refY="10" overflow="visible"><circle cx="10" cy="10" r="8" fill="none" stroke="#1f8a7c" stroke-width="1.6"/></marker><marker id="m62" markerUnits="userSpaceOnUse" markerWidth="21" markerHeight="21" refX="10.5" refY="10.5" overflow="visible"><circle cx="10.5" cy="10.5" r="8.5" fill="none" stroke="#1f8a7c" stroke-width="1.6"/></marker><marker id="m63" markerUnits="userSpaceOnUse" markerWidth="22" markerHeight="22" refX="11" refY="11" overflow="visible"><circle cx="11" cy="11" r="9" fill="none" stroke="#1f8a7c" stroke-width="1.6"/></marker><marker id="m64" markerUnits="userSpaceOnUse" markerWidth="11" markerHeight="11" refX="5.5" refY="5.5" overflow="visible"><circle cx="5.5" cy="5.5" r="3.5" fill="none" stroke="#0e8a30" stroke-width="1.9"/></marker><marker id="m65" markerUnits="userSpaceOnUse" markerWidth="12" markerHeight="12" refX="6" refY="6" overflow="visible"><circle cx="6" cy="6" r="4" fill="none" stroke="#0e8a30" stroke-width="1.9"/></marker><marker id="m66" markerUnits="userSpaceOnUse" markerWidth="10" markerHeight="10" refX="5" refY="5" overflow="visible"><circle cx="5" cy="5" r="3" fill="none" stroke="#0e8a30" stroke-width="1.9"/></marker><marker id="m67" markerUnits="userSpaceOnUse" markerWidth="11" markerHeight="11" refX="5.5" refY="5.5" overflow="visible"><circle cx="5.5" cy="5.5" r="3.5" fill="none" stroke="#109a36" stroke-width="1.9"/></marker><marker id="m68" markerUnits="userSpaceOnUse" markerWidth="12" markerHeight="12" refX="6" refY="6" overflow="visible"><circle cx="6" cy="6" r="4" fill="none" stroke="#109a36" stroke-width="1.9"/></marker><marker id="m69" markerUnits="userSpaceOnUse" markerWidth="10" markerHeight="10" refX="5" refY="5" overflow="visible"><circle cx="5" cy="5" r="3" fill="none" stroke="#109a36" stroke-width="1.9"/></marker><marker id="m70" markerUnits="userSpaceOnUse" markerWidth="10" markerHeight="10" refX="5" refY="5" overflow="visible"><circle cx="5" cy="5" r="3" fill="none" stroke="#11a63a" stroke-width="1.9"/></marker><marker id="m71" markerUnits="userSpaceOnUse" markerWidth="11" markerHeight="11" refX="5.5" refY="5.5" overflow="visible"><circle cx="5.5" cy="5.5" r="3.5" fill="none" stroke="#11a63a" stroke-width="1.9"/></marker><marker id="m72" markerUnits="userSpaceOnUse" markerWidth="12" markerHeight="12" refX="6" refY="6" overflow="visible"><circle cx="6" cy="6" r="4" fill="none" stroke="#11a63a" stroke-width="1.9"/></marker><marker id="m73" markerUnits="userSpaceOnUse" markerWidth="12" markerHeight="12" refX="6" refY="6" overflow="visible"><circle cx="6" cy="6" r="4" fill="none" stroke="#2a9a3c" stroke-width="1.9"/></marker><marker id="m74" markerUnits="userSpaceOnUse" markerWidth="16" markerHeight="16" refX="8" refY="8" overflow="visible"><circle cx="8" cy="8" r="6" fill="none" stroke="#6a7a1a" stroke-width="1.7"/></marker><marker id="m75" markerUnits="userSpaceOnUse" markerWidth="14" markerHeight="14" refX="7" refY="7" overflow="visible"><circle cx="7" cy="7" r="5" fill="none" stroke="#6a7a1a" stroke-width="1.7"/></marker><marker id="m76" markerUnits="userSpaceOnUse" markerWidth="15" markerHeight="15" refX="7.5" refY="7.5" overflow="visible"><circle cx="7.5" cy="7.5" r="5.5" fill="none" stroke="#6a7a1a" stroke-width="1.7"/></marker><marker id="m77" markerUnits="userSpaceOnUse" markerWidth="12" markerHeight="12" refX="6" refY="6" overflow="visible"><circle cx="6" cy="6" r="4" fill="none" stroke="#6a7a1a" stroke-width="1.9"/></marker><marker id="m78" markerUnits="userSpaceOnUse" markerWidth="13" markerHeight="13" refX="6.5" refY="6.5" overflow="visible"><circle cx="6.5" cy="6.5" r="4.5" fill="none" stroke="#6a7a1a" stroke-width="1.7"/></marker><marker id="m79" markerUnits="userSpaceOnUse" markerWidth="11" markerHeight="11" refX="5.5" refY="5.5" overflow="visible"><circle cx="5.5" cy="5.5" r="3.5" fill="none" stroke="#b71705" stroke-width="1.9"/></marker><marker id="m80" markerUnits="userSpaceOnUse" markerWidth="12" markerHeight="12" refX="6" refY="6" overflow="visible"><circle cx="6" cy="6" r="4" fill="none" stroke="#b71705" stroke-width="1.9"/></marker><marker id="m81" markerUnits="userSpaceOnUse" markerWidth="10" markerHeight="10" refX="5" refY="5" overflow="visible"><circle cx="5" cy="5" r="3" fill="none" stroke="#b71705" stroke-width="1.9"/></marker><marker id="m82" markerUnits="userSpaceOnUse" markerWidth="11" markerHeight="11" refX="5.5" refY="5.5" overflow="visible"><circle cx="5.5" cy="5.5" r="3.5" fill="none" stroke="#dc1c06" stroke-width="1.9"/></marker><marker id="m83" markerUnits="userSpaceOnUse" markerWidth="10" markerHeight="10" refX="5" refY="5" overflow="visible"><circle cx="5" cy="5" r="3" fill="none" stroke="#dc1c06" stroke-width="1.9"/></marker><marker id="m84" markerUnits="userSpaceOnUse" markerWidth="12" markerHeight="12" refX="6" refY="6" overflow="visible"><circle cx="6" cy="6" r="4" fill="none" stroke="#dc1c06" stroke-width="1.9"/></marker><marker id="m85" markerUnits="userSpaceOnUse" markerWidth="10" markerHeight="10" refX="5" refY="5" overflow="visible"><circle cx="5" cy="5" r="3" fill="none" stroke="#cc1a06" stroke-width="1.9"/></marker><marker id="m86" markerUnits="userSpaceOnUse" markerWidth="11" markerHeight="11" refX="5.5" refY="5.5" overflow="visible"><circle cx="5.5" cy="5.5" r="3.5" fill="none" stroke="#cc1a06" stroke-width="1.9"/></marker><marker id="m87" markerUnits="userSpaceOnUse" markerWidth="12" markerHeight="12" refX="6" refY="6" overflow="visible"><circle cx="6" cy="6" r="4" fill="none" stroke="#cc1a06" stroke-width="1.9"/></marker><marker id="m88" markerUnits="userSpaceOnUse" markerWidth="12" markerHeight="12" refX="6" refY="6" overflow="visible"><circle cx="6" cy="6" r="4" fill="none" stroke="#d2301a" stroke-width="1.9"/></marker><marker id="m89" markerUnits="userSpaceOnUse" markerWidth="11" markerHeight="11" refX="5.5" refY="5.5" overflow="visible"><circle cx="5.5" cy="5.5" r="3.5" fill="none" stroke="#d2301a" stroke-width="1.9"/></marker><marker id="m90" markerUnits="userSpaceOnUse" markerWidth="11" markerHeight="11" refX="5.5" refY="5.5" overflow="visible"><circle cx="5.5" cy="5.5" r="3.5" fill="none" stroke="#6a7a1a" stroke-width="1.9"/></marker><marker id="m91" markerUnits="userSpaceOnUse" markerWidth="10" markerHeight="10" refX="5" refY="5" overflow="visible"><circle cx="5" cy="5" r="3" fill="none" stroke="#6a7a1a" stroke-width="1.9"/></marker><marker id="m92" markerUnits="userSpaceOnUse" markerWidth="12" markerHeight="12" refX="6" refY="6" overflow="visible"><circle cx="6" cy="6" r="4" fill="none" stroke="#b01a08" stroke-width="1.9"/></marker><marker id="m93" markerUnits="userSpaceOnUse" markerWidth="11" markerHeight="11" refX="5.5" refY="5.5" overflow="visible"><circle cx="5.5" cy="5.5" r="3.5" fill="none" stroke="#b01a08" stroke-width="1.9"/></marker><marker id="m94" markerUnits="userSpaceOnUse" markerWidth="10" markerHeight="10" refX="5" refY="5" overflow="visible"><circle cx="5" cy="5" r="3" fill="none" stroke="#b01a08" stroke-width="1.9"/></marker><marker id="m95" markerUnits="userSpaceOnUse" markerWidth="14" markerHeight="14" refX="7" refY="7" overflow="visible"><circle cx="7" cy="7" r="5" fill="none" stroke="#2a3a7a" stroke-width="1.7"/></marker><marker id="m96" markerUnits="userSpaceOnUse" markerWidth="12" markerHeight="12" refX="6" refY="6" overflow="visible"><circle cx="6" cy="6" r="4" fill="none" stroke="#2a3a7a" stroke-width="1.9"/></marker><marker id="m97" markerUnits="userSpaceOnUse" markerWidth="13" markerHeight="13" refX="6.5" refY="6.5" overflow="visible"><circle cx="6.5" cy="6.5" r="4.5" fill="none" stroke="#2a3a7a" stroke-width="1.7"/></marker><marker id="m98" markerUnits="userSpaceOnUse" markerWidth="13" markerHeight="13" refX="6.5" refY="6.5" overflow="visible"><circle cx="6.5" cy="6.5" r="4.5" fill="none" stroke="#d2301a" stroke-width="1.7"/></marker><marker id="m99" markerUnits="userSpaceOnUse" markerWidth="14" markerHeight="14" refX="7" refY="7" overflow="visible"><circle cx="7" cy="7" r="5" fill="none" stroke="#d2301a" stroke-width="1.7"/></marker><marker id="m100" markerUnits="userSpaceOnUse" markerWidth="20" markerHeight="20" refX="10" refY="10" overflow="visible"><circle cx="10" cy="10" r="8" fill="none" stroke="#2a3a7a" stroke-width="1.6"/></marker><marker id="m101" markerUnits="userSpaceOnUse" markerWidth="21" markerHeight="21" refX="10.5" refY="10.5" overflow="visible"><circle cx="10.5" cy="10.5" r="8.5" fill="none" stroke="#2a3a7a" stroke-width="1.6"/></marker><marker id="m102" markerUnits="userSpaceOnUse" markerWidth="18" markerHeight="18" refX="9" refY="9" overflow="visible"><circle cx="9" cy="9" r="7" fill="none" stroke="#2a9a3c" stroke-width="1.6"/></marker><marker id="m103" markerUnits="userSpaceOnUse" markerWidth="15" markerHeight="15" refX="7.5" refY="7.5" overflow="visible"><circle cx="7.5" cy="7.5" r="5.5" fill="none" stroke="#2a9a3c" stroke-width="1.7"/></marker><marker id="m104" markerUnits="userSpaceOnUse" markerWidth="17" markerHeight="17" refX="8.5" refY="8.5" overflow="visible"><circle cx="8.5" cy="8.5" r="6.5" fill="none" stroke="#2a9a3c" stroke-width="1.6"/></marker><marker id="m105" markerUnits="userSpaceOnUse" markerWidth="16" markerHeight="16" refX="8" refY="8" overflow="visible"><circle cx="8" cy="8" r="6" fill="none" stroke="#2a9a3c" stroke-width="1.7"/></marker><marker id="m106" markerUnits="userSpaceOnUse" markerWidth="14" markerHeight="14" refX="7" refY="7" overflow="visible"><circle cx="7" cy="7" r="5" fill="none" stroke="#2a9a3c" stroke-width="1.7"/></marker><marker id="m107" markerUnits="userSpaceOnUse" markerWidth="26" markerHeight="26" refX="13" refY="13" overflow="visible"><circle cx="13" cy="13" r="11" fill="none" stroke="#2a3a7a" stroke-width="1.6"/></marker><marker id="m108" markerUnits="userSpaceOnUse" markerWidth="28" markerHeight="28" refX="14" refY="14" overflow="visible"><circle cx="14" cy="14" r="12" fill="none" stroke="#2a3a7a" stroke-width="1.6"/></marker><marker id="m109" markerUnits="userSpaceOnUse" markerWidth="24" markerHeight="24" refX="12" refY="12" overflow="visible"><circle cx="12" cy="12" r="10" fill="none" stroke="#2a3a7a" stroke-width="1.6"/></marker><marker id="m110" markerUnits="userSpaceOnUse" markerWidth="22" markerHeight="22" refX="11" refY="11" overflow="visible"><circle cx="11" cy="11" r="9" fill="none" stroke="#2a3a7a" stroke-width="1.6"/></marker><marker id="m111" markerUnits="userSpaceOnUse" markerWidth="23" markerHeight="23" refX="11.5" refY="11.5" overflow="visible"><circle cx="11.5" cy="11.5" r="9.5" fill="none" stroke="#2a3a7a" stroke-width="1.6"/></marker><marker id="m112" markerUnits="userSpaceOnUse" markerWidth="18" markerHeight="18" refX="9" refY="9" overflow="visible"><circle cx="9" cy="9" r="7" fill="none" stroke="#14926a" stroke-width="1.6"/></marker><marker id="m113" markerUnits="userSpaceOnUse" markerWidth="17" markerHeight="17" refX="8.5" refY="8.5" overflow="visible"><circle cx="8.5" cy="8.5" r="6.5" fill="none" stroke="#14926a" stroke-width="1.6"/></marker><marker id="m114" markerUnits="userSpaceOnUse" markerWidth="17" markerHeight="17" refX="8.5" refY="8.5" overflow="visible"><circle cx="8.5" cy="8.5" r="6.5" fill="none" stroke="#159d72" stroke-width="1.6"/></marker><marker id="m115" markerUnits="userSpaceOnUse" markerWidth="18" markerHeight="18" refX="9" refY="9" overflow="visible"><circle cx="9" cy="9" r="7" fill="none" stroke="#159d72" stroke-width="1.6"/></marker><marker id="m116" markerUnits="userSpaceOnUse" markerWidth="17" markerHeight="17" refX="8.5" refY="8.5" overflow="visible"><circle cx="8.5" cy="8.5" r="6.5" fill="none" stroke="#12835f" stroke-width="1.6"/></marker><marker id="m117" markerUnits="userSpaceOnUse" markerWidth="18" markerHeight="18" refX="9" refY="9" overflow="visible"><circle cx="9" cy="9" r="7" fill="none" stroke="#12835f" stroke-width="1.6"/></marker><marker id="m118" markerUnits="userSpaceOnUse" markerWidth="15" markerHeight="15" refX="7.5" refY="7.5" overflow="visible"><circle cx="7.5" cy="7.5" r="5.5" fill="none" stroke="#1f8a7c" stroke-width="1.7"/></marker><marker id="m119" markerUnits="userSpaceOnUse" markerWidth="19" markerHeight="19" refX="9.5" refY="9.5" overflow="visible"><circle cx="9.5" cy="9.5" r="7.5" fill="none" stroke="#159d72" stroke-width="1.6"/></marker><marker id="m120" markerUnits="userSpaceOnUse" markerWidth="20" markerHeight="20" refX="10" refY="10" overflow="visible"><circle cx="10" cy="10" r="8" fill="none" stroke="#159d72" stroke-width="1.6"/></marker><marker id="m121" markerUnits="userSpaceOnUse" markerWidth="19" markerHeight="19" refX="9.5" refY="9.5" overflow="visible"><circle cx="9.5" cy="9.5" r="7.5" fill="none" stroke="#14926a" stroke-width="1.6"/></marker><marker id="m122" markerUnits="userSpaceOnUse" markerWidth="20" markerHeight="20" refX="10" refY="10" overflow="visible"><circle cx="10" cy="10" r="8" fill="none" stroke="#12835f" stroke-width="1.6"/></marker><marker id="m123" markerUnits="userSpaceOnUse" markerWidth="19" markerHeight="19" refX="9.5" refY="9.5" overflow="visible"><circle cx="9.5" cy="9.5" r="7.5" fill="none" stroke="#12835f" stroke-width="1.6"/></marker><marker id="m124" markerUnits="userSpaceOnUse" markerWidth="17" markerHeight="17" refX="8.5" refY="8.5" overflow="visible"><circle cx="8.5" cy="8.5" r="6.5" fill="none" stroke="#1c2a62" stroke-width="1.6"/></marker><marker id="m125" markerUnits="userSpaceOnUse" markerWidth="19" markerHeight="19" refX="9.5" refY="9.5" overflow="visible"><circle cx="9.5" cy="9.5" r="7.5" fill="none" stroke="#1c2a62" stroke-width="1.6"/></marker><marker id="m126" markerUnits="userSpaceOnUse" markerWidth="20" markerHeight="20" refX="10" refY="10" overflow="visible"><circle cx="10" cy="10" r="8" fill="none" stroke="#1c2a62" stroke-width="1.6"/></marker><marker id="m127" markerUnits="userSpaceOnUse" markerWidth="18" markerHeight="18" refX="9" refY="9" overflow="visible"><circle cx="9" cy="9" r="7" fill="none" stroke="#1c2a62" stroke-width="1.6"/></marker><marker id="m128" markerUnits="userSpaceOnUse" markerWidth="15" markerHeight="15" refX="7.5" refY="7.5" overflow="visible"><circle cx="7.5" cy="7.5" r="5.5" fill="none" stroke="#1c2a62" stroke-width="1.7"/></marker><marker id="m129" markerUnits="userSpaceOnUse" markerWidth="16" markerHeight="16" refX="8" refY="8" overflow="visible"><circle cx="8" cy="8" r="6" fill="none" stroke="#1c2a62" stroke-width="1.7"/></marker></defs>
<defs><linearGradient id="cbg" x1="0" y1="0" x2="0" y2="1">
<stop offset="0.0000" stop-color="#ffff00"/>
<stop offset="0.0400" stop-color="#f8e800"/>
<stop offset="0.0667" stop-color="#f5d800"/>
<stop offset="0.1067" stop-color="#f0c000"/>
<stop offset="0.1333" stop-color="#eeb000"/>
<stop offset="0.1733" stop-color="#e89800"/>
<stop offset="0.2000" stop-color="#e68800"/>
<stop offset="0.2400" stop-color="#e27000"/>
<stop offset="0.2667" stop-color="#df6000"/>
<stop offset="0.3067" stop-color="#da4800"/>
<stop offset="0.3333" stop-color="#d53500"/>
<stop offset="0.3733" stop-color="#cf2000"/>
<stop offset="0.4000" stop-color="#cc1000"/>
<stop offset="0.4267" stop-color="#c80000"/>
<stop offset="0.4533" stop-color="#b01800"/>
<stop offset="0.4667" stop-color="#a23000"/>
<stop offset="0.4800" stop-color="#904000"/>
<stop offset="0.4933" stop-color="#806000"/>
<stop offset="0.5067" stop-color="#6a7000"/>
<stop offset="0.5200" stop-color="#4d7a00"/>
<stop offset="0.5333" stop-color="#3a8000"/>
<stop offset="0.5600" stop-color="#008a00"/>
<stop offset="0.5867" stop-color="#009010"/>
<stop offset="0.6000" stop-color="#009530"/>
<stop offset="0.6267" stop-color="#009a48"/>
<stop offset="0.6533" stop-color="#009860"/>
<stop offset="0.6667" stop-color="#00906a"/>
<stop offset="0.6933" stop-color="#008070"/>
<stop offset="0.7200" stop-color="#007070"/>
<stop offset="0.7333" stop-color="#006568"/>
<stop offset="0.7600" stop-color="#005060"/>
<stop offset="0.7867" stop-color="#004060"/>
<stop offset="0.8000" stop-color="#003462"/>
<stop offset="0.8267" stop-color="#002a5a"/>
<stop offset="0.8533" stop-color="#001850"/>
<stop offset="0.8667" stop-color="#000e48"/>
<stop offset="0.8933" stop-color="#000540"/>
<stop offset="0.9333" stop-color="#000230"/>
<stop offset="0.9600" stop-color="#00001a"/>
<stop offset="1.0000" stop-color="#000000"/>
</linearGradient></defs>
<rect x="1834" y="257" width="54.8" height="1119.4" fill="url(#cbg)" stroke="#555" stroke-width="1"/>
<path d="M1888.8 294.3h-6M1888.8 331.6h-11M1888.8 368.9h-6M1888.8 406.3h-11M1888.8 443.6h-6M1888.8 480.9h-11M1888.8 518.2h-6M1888.8 555.5h-11M1888.8 592.8h-6M1888.8 630.1h-11M1888.8 667.4h-6M1888.8 704.8h-11M1888.8 742.1h-6M1888.8 779.4h-11M1888.8 816.7h-6M1888.8 854h-11M1888.8 891.3h-6M1888.8 928.6h-11M1888.8 966h-6M1888.8 1003.3h-11M1888.8 1040.6h-6M1888.8 1077.9h-11M1888.8 1115.2h-6M1888.8 1152.5h-11M1888.8 1189.8h-6M1888.8 1227.1h-11M1888.8 1264.5h-6M1888.8 1301.8h-11M1888.8 1339.1h-6" stroke="#444" stroke-width="1.4" opacity="0.6"/>
<text transform="translate(1898 278) scale(1.18 1)" class="cl">-75</text>
<text transform="translate(1898 342.6) scale(1.18 1)" class="cl">-70</text>
<text transform="translate(1898 417.3) scale(1.18 1)" class="cl">-65</text>
<text transform="translate(1898 491.9) scale(1.18 1)" class="cl">-60</text>
<text transform="translate(1898 566.5) scale(1.18 1)" class="cl">-55</text>
<text transform="translate(1898 641.1) scale(1.18 1)" class="cl">-50</text>
<text transform="translate(1898 715.8) scale(1.18 1)" class="cl">-45</text>
<text transform="translate(1898 790.4) scale(1.18 1)" class="cl">-40</text>
<text transform="translate(1898 865) scale(1.18 1)" class="cl">-35</text>
<text transform="translate(1898 939.6) scale(1.18 1)" class="cl">-30</text>
<text transform="translate(1898 1014.3) scale(1.18 1)" class="cl">-25</text>
<text transform="translate(1898 1088.9) scale(1.18 1)" class="cl">-20</text>
<text transform="translate(1898 1163.5) scale(1.18 1)" class="cl">-15</text>
<text transform="translate(1898 1238.1) scale(1.18 1)" class="cl">-10</text>
<text transform="translate(1898 1312.8) scale(1.18 1)" class="cl">-5</text>
<text transform="translate(1898 1376.4) scale(1.18 1)" class="cl">0</text>
<text transform="translate(1978 816) rotate(-90)" text-anchor="middle" class="cu">[°C]</text></svg></body></html>
